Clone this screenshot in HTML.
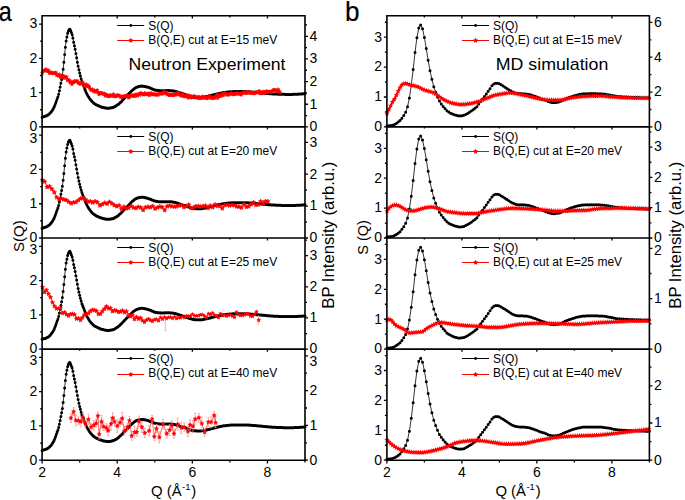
<!DOCTYPE html>
<html><head><meta charset="utf-8"><style>html,body{margin:0;padding:0;background:#fff;overflow:hidden}svg{display:block}text{font-family:"Liberation Sans",sans-serif}</style></head>
<body><svg width="685" height="500" viewBox="0 0 685 500" font-family="Liberation Sans, sans-serif"><rect width="685" height="500" fill="#fff"/><path d="M42.1,117.13 42.85,116.88 43.6,116.64 44.35,116.4 45.1,116.19 45.86,115.96 46.61,115.65 47.36,115.24 48.11,114.76 48.86,114.2 49.61,113.56 50.36,112.77 51.11,111.88 51.86,110.9 52.62,109.79 53.37,108.51 54.12,107.03 54.87,105.2 55.62,103.19 56.37,100.98 57.12,98.81 57.87,96.96 58.63,94.29 59.38,90.84 60.13,87.08 60.88,83.24 61.63,79.51 62.38,75.25 63.13,69.23 63.88,62.31 64.63,54.59 65.39,47.15 66.14,40.91 66.89,36.97 67.64,33.34 68.39,31.02 69.14,29.49 69.89,29.14 70.64,30.58 71.39,32.6 72.15,34.82 72.9,37.98 73.65,42.3 74.4,45.66 75.15,49.27 75.9,53.53 76.65,57.84 77.4,62.17 78.15,66.29 78.91,69.85 79.66,73.08 80.41,76.07 81.16,78.88 81.91,81.44 82.66,83.53 83.41,85.31 84.16,87.29 84.92,89.39 85.67,91.31 86.42,92.96 87.17,94.46 87.92,95.81 88.67,97.06 89.42,98.22 90.17,99.27 90.92,100.2 91.68,101.05 92.43,101.84 93.18,102.56 93.93,103.18 94.68,103.71 95.43,104.19 96.18,104.63 96.93,105.03 97.68,105.41 98.44,105.76 99.19,106.1 99.94,106.42 100.69,106.72 101.44,106.99 102.19,107.22 102.94,107.41 103.69,107.59 104.44,107.77 105.2,107.93 105.95,108.06 106.7,108.16 107.45,108.22 108.2,108.22 108.95,108.18 109.7,108.1 110.45,107.99 111.21,107.86 111.96,107.72 112.71,107.55 113.46,107.28 114.21,106.93 114.96,106.52 115.71,106.08 116.46,105.62 117.21,105.1 117.97,104.53 118.72,103.9 119.47,103.25 120.22,102.57 120.97,101.88 121.72,101.14 122.47,100.34 123.22,99.51 123.97,98.68 124.73,97.87 125.48,97.1 126.23,96.34 126.98,95.59 127.73,94.84 128.48,94.1 129.23,93.35 129.98,92.57 130.73,91.77 131.49,90.99 132.24,90.27 132.99,89.64 133.74,89.04 134.49,88.47 135.24,87.96 135.99,87.56 136.74,87.27 137.5,87 138.25,86.76 139,86.54 139.75,86.35 140.5,86.22 141.25,86.14 142,86.12 142.75,86.16 143.5,86.25 144.26,86.38 145.01,86.53 145.76,86.7 146.51,86.88 147.26,87.06 148.01,87.28 148.76,87.54 149.51,87.83 150.26,88.1 151.02,88.4 151.77,88.73 152.52,89.07 153.27,89.41 154.02,89.71 154.77,89.96 155.52,90.16 156.27,90.27 157.02,90.36 157.78,90.45 158.53,90.53 159.28,90.59 160.03,90.65 160.78,90.69 161.53,90.71 162.28,90.71 163.03,90.7 163.79,90.68 164.54,90.66 165.29,90.63 166.04,90.61 166.79,90.59 167.54,90.58 168.29,90.58 169.04,90.6 169.79,90.64 170.55,90.69 171.3,90.76 172.05,90.83 172.8,90.92 173.55,91.03 174.3,91.18 175.05,91.36 175.8,91.57 176.55,91.78 177.31,92 178.06,92.24 178.81,92.52 179.56,92.8 180.31,93.08 181.06,93.35 181.81,93.59 182.56,93.83 183.31,94.05 184.07,94.28 184.82,94.51 185.57,94.75 186.32,95.01 187.07,95.3 187.82,95.6 188.57,95.9 189.32,96.18 190.08,96.42 190.83,96.66 191.58,96.89 192.33,97.09 193.08,97.26 193.83,97.36 194.58,97.43 195.33,97.49 196.08,97.54 196.84,97.59 197.59,97.62 198.34,97.65 199.09,97.66 199.84,97.67 200.59,97.63 201.34,97.57 202.09,97.48 202.84,97.37 203.6,97.23 204.35,97.08 205.1,96.92 205.85,96.75 206.6,96.58 207.35,96.41 208.1,96.25 208.85,96.09 209.6,95.91 210.36,95.72 211.11,95.52 211.86,95.31 212.61,95.1 213.36,94.9 214.11,94.7 214.86,94.52 215.61,94.33 216.37,94.15 217.12,93.96 217.87,93.78 218.62,93.61 219.37,93.44 220.12,93.28 220.87,93.13 221.62,92.97 222.37,92.81 223.13,92.67 223.88,92.54 224.63,92.43 225.38,92.34 226.13,92.26 226.88,92.17 227.63,92.09 228.38,92.01 229.13,91.93 229.89,91.86 230.64,91.8 231.39,91.74 232.14,91.69 232.89,91.65 233.64,91.62 234.39,91.61 235.14,91.6 235.89,91.6 236.65,91.6 237.4,91.6 238.15,91.6 238.9,91.6 239.65,91.6 240.4,91.6 241.15,91.6 241.9,91.6 242.66,91.6 243.41,91.6 244.16,91.6 244.91,91.62 245.66,91.64 246.41,91.67 247.16,91.7 247.91,91.75 248.66,91.79 249.42,91.85 250.17,91.9 250.92,91.96 251.67,92.02 252.42,92.08 253.17,92.15 253.92,92.21 254.67,92.26 255.42,92.32 256.18,92.39 256.93,92.46 257.68,92.53 258.43,92.61 259.18,92.68 259.93,92.75 260.68,92.81 261.43,92.88 262.18,92.95 262.94,93.03 263.69,93.1 264.44,93.17 265.19,93.25 265.94,93.32 266.69,93.39 267.44,93.46 268.19,93.53 268.95,93.6 269.7,93.66 270.45,93.72 271.2,93.78 271.95,93.84 272.7,93.89 273.45,93.94 274.2,93.99 274.95,94.02 275.71,94.06 276.46,94.09 277.21,94.12 277.96,94.15 278.71,94.18 279.46,94.2 280.21,94.23 280.96,94.26 281.71,94.28 282.47,94.3 283.22,94.33 283.97,94.35 284.72,94.36 285.47,94.38 286.22,94.39 286.97,94.4 287.72,94.41 288.47,94.41 289.23,94.41 289.98,94.41 290.73,94.4 291.48,94.39 292.23,94.38 292.98,94.36 293.73,94.34 294.48,94.32 295.24,94.29 295.99,94.26 296.74,94.23 297.49,94.2 298.24,94.16 298.99,94.12 299.74,94.07 300.49,94.03 301.24,93.98 302,93.93 302.75,93.87 303.5,93.81 304.25,93.75 305,93.69" fill="none" stroke="#000" stroke-width="0.8"/><path d="M40.6,117.13a1.5,1.5 0 1,0 3,0a1.5,1.5 0 1,0 -3,0M41.35,116.88a1.5,1.5 0 1,0 3,0a1.5,1.5 0 1,0 -3,0M42.1,116.64a1.5,1.5 0 1,0 3,0a1.5,1.5 0 1,0 -3,0M42.85,116.4a1.5,1.5 0 1,0 3,0a1.5,1.5 0 1,0 -3,0M43.6,116.19a1.5,1.5 0 1,0 3,0a1.5,1.5 0 1,0 -3,0M44.36,115.96a1.5,1.5 0 1,0 3,0a1.5,1.5 0 1,0 -3,0M45.11,115.65a1.5,1.5 0 1,0 3,0a1.5,1.5 0 1,0 -3,0M45.86,115.24a1.5,1.5 0 1,0 3,0a1.5,1.5 0 1,0 -3,0M46.61,114.76a1.5,1.5 0 1,0 3,0a1.5,1.5 0 1,0 -3,0M47.36,114.2a1.5,1.5 0 1,0 3,0a1.5,1.5 0 1,0 -3,0M48.11,113.56a1.5,1.5 0 1,0 3,0a1.5,1.5 0 1,0 -3,0M48.86,112.77a1.5,1.5 0 1,0 3,0a1.5,1.5 0 1,0 -3,0M49.61,111.88a1.5,1.5 0 1,0 3,0a1.5,1.5 0 1,0 -3,0M50.36,110.9a1.5,1.5 0 1,0 3,0a1.5,1.5 0 1,0 -3,0M51.12,109.79a1.5,1.5 0 1,0 3,0a1.5,1.5 0 1,0 -3,0M51.87,108.51a1.5,1.5 0 1,0 3,0a1.5,1.5 0 1,0 -3,0M52.62,107.03a1.5,1.5 0 1,0 3,0a1.5,1.5 0 1,0 -3,0M53.37,105.2a1.5,1.5 0 1,0 3,0a1.5,1.5 0 1,0 -3,0M54.12,103.19a1.5,1.5 0 1,0 3,0a1.5,1.5 0 1,0 -3,0M54.87,100.98a1.5,1.5 0 1,0 3,0a1.5,1.5 0 1,0 -3,0M55.62,98.81a1.5,1.5 0 1,0 3,0a1.5,1.5 0 1,0 -3,0M56.37,96.96a1.5,1.5 0 1,0 3,0a1.5,1.5 0 1,0 -3,0M57.13,94.29a1.5,1.5 0 1,0 3,0a1.5,1.5 0 1,0 -3,0M57.88,90.84a1.5,1.5 0 1,0 3,0a1.5,1.5 0 1,0 -3,0M58.63,87.08a1.5,1.5 0 1,0 3,0a1.5,1.5 0 1,0 -3,0M59.38,83.24a1.5,1.5 0 1,0 3,0a1.5,1.5 0 1,0 -3,0M60.13,79.51a1.5,1.5 0 1,0 3,0a1.5,1.5 0 1,0 -3,0M60.88,75.25a1.5,1.5 0 1,0 3,0a1.5,1.5 0 1,0 -3,0M61.63,69.23a1.5,1.5 0 1,0 3,0a1.5,1.5 0 1,0 -3,0M62.38,62.31a1.5,1.5 0 1,0 3,0a1.5,1.5 0 1,0 -3,0M63.13,54.59a1.5,1.5 0 1,0 3,0a1.5,1.5 0 1,0 -3,0M63.89,47.15a1.5,1.5 0 1,0 3,0a1.5,1.5 0 1,0 -3,0M64.64,40.91a1.5,1.5 0 1,0 3,0a1.5,1.5 0 1,0 -3,0M65.39,36.97a1.5,1.5 0 1,0 3,0a1.5,1.5 0 1,0 -3,0M66.14,33.34a1.5,1.5 0 1,0 3,0a1.5,1.5 0 1,0 -3,0M66.89,31.02a1.5,1.5 0 1,0 3,0a1.5,1.5 0 1,0 -3,0M67.64,29.49a1.5,1.5 0 1,0 3,0a1.5,1.5 0 1,0 -3,0M68.39,29.14a1.5,1.5 0 1,0 3,0a1.5,1.5 0 1,0 -3,0M69.14,30.58a1.5,1.5 0 1,0 3,0a1.5,1.5 0 1,0 -3,0M69.89,32.6a1.5,1.5 0 1,0 3,0a1.5,1.5 0 1,0 -3,0M70.65,34.82a1.5,1.5 0 1,0 3,0a1.5,1.5 0 1,0 -3,0M71.4,37.98a1.5,1.5 0 1,0 3,0a1.5,1.5 0 1,0 -3,0M72.15,42.3a1.5,1.5 0 1,0 3,0a1.5,1.5 0 1,0 -3,0M72.9,45.66a1.5,1.5 0 1,0 3,0a1.5,1.5 0 1,0 -3,0M73.65,49.27a1.5,1.5 0 1,0 3,0a1.5,1.5 0 1,0 -3,0M74.4,53.53a1.5,1.5 0 1,0 3,0a1.5,1.5 0 1,0 -3,0M75.15,57.84a1.5,1.5 0 1,0 3,0a1.5,1.5 0 1,0 -3,0M75.9,62.17a1.5,1.5 0 1,0 3,0a1.5,1.5 0 1,0 -3,0M76.65,66.29a1.5,1.5 0 1,0 3,0a1.5,1.5 0 1,0 -3,0M77.41,69.85a1.5,1.5 0 1,0 3,0a1.5,1.5 0 1,0 -3,0M78.16,73.08a1.5,1.5 0 1,0 3,0a1.5,1.5 0 1,0 -3,0M78.91,76.07a1.5,1.5 0 1,0 3,0a1.5,1.5 0 1,0 -3,0M79.66,78.88a1.5,1.5 0 1,0 3,0a1.5,1.5 0 1,0 -3,0M80.41,81.44a1.5,1.5 0 1,0 3,0a1.5,1.5 0 1,0 -3,0M81.16,83.53a1.5,1.5 0 1,0 3,0a1.5,1.5 0 1,0 -3,0M81.91,85.31a1.5,1.5 0 1,0 3,0a1.5,1.5 0 1,0 -3,0M82.66,87.29a1.5,1.5 0 1,0 3,0a1.5,1.5 0 1,0 -3,0M83.42,89.39a1.5,1.5 0 1,0 3,0a1.5,1.5 0 1,0 -3,0M84.17,91.31a1.5,1.5 0 1,0 3,0a1.5,1.5 0 1,0 -3,0M84.92,92.96a1.5,1.5 0 1,0 3,0a1.5,1.5 0 1,0 -3,0M85.67,94.46a1.5,1.5 0 1,0 3,0a1.5,1.5 0 1,0 -3,0M86.42,95.81a1.5,1.5 0 1,0 3,0a1.5,1.5 0 1,0 -3,0M87.17,97.06a1.5,1.5 0 1,0 3,0a1.5,1.5 0 1,0 -3,0M87.92,98.22a1.5,1.5 0 1,0 3,0a1.5,1.5 0 1,0 -3,0M88.67,99.27a1.5,1.5 0 1,0 3,0a1.5,1.5 0 1,0 -3,0M89.42,100.2a1.5,1.5 0 1,0 3,0a1.5,1.5 0 1,0 -3,0M90.18,101.05a1.5,1.5 0 1,0 3,0a1.5,1.5 0 1,0 -3,0M90.93,101.84a1.5,1.5 0 1,0 3,0a1.5,1.5 0 1,0 -3,0M91.68,102.56a1.5,1.5 0 1,0 3,0a1.5,1.5 0 1,0 -3,0M92.43,103.18a1.5,1.5 0 1,0 3,0a1.5,1.5 0 1,0 -3,0M93.18,103.71a1.5,1.5 0 1,0 3,0a1.5,1.5 0 1,0 -3,0M93.93,104.19a1.5,1.5 0 1,0 3,0a1.5,1.5 0 1,0 -3,0M94.68,104.63a1.5,1.5 0 1,0 3,0a1.5,1.5 0 1,0 -3,0M95.43,105.03a1.5,1.5 0 1,0 3,0a1.5,1.5 0 1,0 -3,0M96.18,105.41a1.5,1.5 0 1,0 3,0a1.5,1.5 0 1,0 -3,0M96.94,105.76a1.5,1.5 0 1,0 3,0a1.5,1.5 0 1,0 -3,0M97.69,106.1a1.5,1.5 0 1,0 3,0a1.5,1.5 0 1,0 -3,0M98.44,106.42a1.5,1.5 0 1,0 3,0a1.5,1.5 0 1,0 -3,0M99.19,106.72a1.5,1.5 0 1,0 3,0a1.5,1.5 0 1,0 -3,0M99.94,106.99a1.5,1.5 0 1,0 3,0a1.5,1.5 0 1,0 -3,0M100.69,107.22a1.5,1.5 0 1,0 3,0a1.5,1.5 0 1,0 -3,0M101.44,107.41a1.5,1.5 0 1,0 3,0a1.5,1.5 0 1,0 -3,0M102.19,107.59a1.5,1.5 0 1,0 3,0a1.5,1.5 0 1,0 -3,0M102.94,107.77a1.5,1.5 0 1,0 3,0a1.5,1.5 0 1,0 -3,0M103.7,107.93a1.5,1.5 0 1,0 3,0a1.5,1.5 0 1,0 -3,0M104.45,108.06a1.5,1.5 0 1,0 3,0a1.5,1.5 0 1,0 -3,0M105.2,108.16a1.5,1.5 0 1,0 3,0a1.5,1.5 0 1,0 -3,0M105.95,108.22a1.5,1.5 0 1,0 3,0a1.5,1.5 0 1,0 -3,0M106.7,108.22a1.5,1.5 0 1,0 3,0a1.5,1.5 0 1,0 -3,0M107.45,108.18a1.5,1.5 0 1,0 3,0a1.5,1.5 0 1,0 -3,0M108.2,108.1a1.5,1.5 0 1,0 3,0a1.5,1.5 0 1,0 -3,0M108.95,107.99a1.5,1.5 0 1,0 3,0a1.5,1.5 0 1,0 -3,0M109.71,107.86a1.5,1.5 0 1,0 3,0a1.5,1.5 0 1,0 -3,0M110.46,107.72a1.5,1.5 0 1,0 3,0a1.5,1.5 0 1,0 -3,0M111.21,107.55a1.5,1.5 0 1,0 3,0a1.5,1.5 0 1,0 -3,0M111.96,107.28a1.5,1.5 0 1,0 3,0a1.5,1.5 0 1,0 -3,0M112.71,106.93a1.5,1.5 0 1,0 3,0a1.5,1.5 0 1,0 -3,0M113.46,106.52a1.5,1.5 0 1,0 3,0a1.5,1.5 0 1,0 -3,0M114.21,106.08a1.5,1.5 0 1,0 3,0a1.5,1.5 0 1,0 -3,0M114.96,105.62a1.5,1.5 0 1,0 3,0a1.5,1.5 0 1,0 -3,0M115.71,105.1a1.5,1.5 0 1,0 3,0a1.5,1.5 0 1,0 -3,0M116.47,104.53a1.5,1.5 0 1,0 3,0a1.5,1.5 0 1,0 -3,0M117.22,103.9a1.5,1.5 0 1,0 3,0a1.5,1.5 0 1,0 -3,0M117.97,103.25a1.5,1.5 0 1,0 3,0a1.5,1.5 0 1,0 -3,0M118.72,102.57a1.5,1.5 0 1,0 3,0a1.5,1.5 0 1,0 -3,0M119.47,101.88a1.5,1.5 0 1,0 3,0a1.5,1.5 0 1,0 -3,0M120.22,101.14a1.5,1.5 0 1,0 3,0a1.5,1.5 0 1,0 -3,0M120.97,100.34a1.5,1.5 0 1,0 3,0a1.5,1.5 0 1,0 -3,0M121.72,99.51a1.5,1.5 0 1,0 3,0a1.5,1.5 0 1,0 -3,0M122.47,98.68a1.5,1.5 0 1,0 3,0a1.5,1.5 0 1,0 -3,0M123.23,97.87a1.5,1.5 0 1,0 3,0a1.5,1.5 0 1,0 -3,0M123.98,97.1a1.5,1.5 0 1,0 3,0a1.5,1.5 0 1,0 -3,0M124.73,96.34a1.5,1.5 0 1,0 3,0a1.5,1.5 0 1,0 -3,0M125.48,95.59a1.5,1.5 0 1,0 3,0a1.5,1.5 0 1,0 -3,0M126.23,94.84a1.5,1.5 0 1,0 3,0a1.5,1.5 0 1,0 -3,0M126.98,94.1a1.5,1.5 0 1,0 3,0a1.5,1.5 0 1,0 -3,0M127.73,93.35a1.5,1.5 0 1,0 3,0a1.5,1.5 0 1,0 -3,0M128.48,92.57a1.5,1.5 0 1,0 3,0a1.5,1.5 0 1,0 -3,0M129.23,91.77a1.5,1.5 0 1,0 3,0a1.5,1.5 0 1,0 -3,0M129.99,90.99a1.5,1.5 0 1,0 3,0a1.5,1.5 0 1,0 -3,0M130.74,90.27a1.5,1.5 0 1,0 3,0a1.5,1.5 0 1,0 -3,0M131.49,89.64a1.5,1.5 0 1,0 3,0a1.5,1.5 0 1,0 -3,0M132.24,89.04a1.5,1.5 0 1,0 3,0a1.5,1.5 0 1,0 -3,0M132.99,88.47a1.5,1.5 0 1,0 3,0a1.5,1.5 0 1,0 -3,0M133.74,87.96a1.5,1.5 0 1,0 3,0a1.5,1.5 0 1,0 -3,0M134.49,87.56a1.5,1.5 0 1,0 3,0a1.5,1.5 0 1,0 -3,0M135.24,87.27a1.5,1.5 0 1,0 3,0a1.5,1.5 0 1,0 -3,0M136,87a1.5,1.5 0 1,0 3,0a1.5,1.5 0 1,0 -3,0M136.75,86.76a1.5,1.5 0 1,0 3,0a1.5,1.5 0 1,0 -3,0M137.5,86.54a1.5,1.5 0 1,0 3,0a1.5,1.5 0 1,0 -3,0M138.25,86.35a1.5,1.5 0 1,0 3,0a1.5,1.5 0 1,0 -3,0M139,86.22a1.5,1.5 0 1,0 3,0a1.5,1.5 0 1,0 -3,0M139.75,86.14a1.5,1.5 0 1,0 3,0a1.5,1.5 0 1,0 -3,0M140.5,86.12a1.5,1.5 0 1,0 3,0a1.5,1.5 0 1,0 -3,0M141.25,86.16a1.5,1.5 0 1,0 3,0a1.5,1.5 0 1,0 -3,0M142,86.25a1.5,1.5 0 1,0 3,0a1.5,1.5 0 1,0 -3,0M142.76,86.38a1.5,1.5 0 1,0 3,0a1.5,1.5 0 1,0 -3,0M143.51,86.53a1.5,1.5 0 1,0 3,0a1.5,1.5 0 1,0 -3,0M144.26,86.7a1.5,1.5 0 1,0 3,0a1.5,1.5 0 1,0 -3,0M145.01,86.88a1.5,1.5 0 1,0 3,0a1.5,1.5 0 1,0 -3,0M145.76,87.06a1.5,1.5 0 1,0 3,0a1.5,1.5 0 1,0 -3,0M146.51,87.28a1.5,1.5 0 1,0 3,0a1.5,1.5 0 1,0 -3,0M147.26,87.54a1.5,1.5 0 1,0 3,0a1.5,1.5 0 1,0 -3,0M148.01,87.83a1.5,1.5 0 1,0 3,0a1.5,1.5 0 1,0 -3,0M148.76,88.1a1.5,1.5 0 1,0 3,0a1.5,1.5 0 1,0 -3,0M149.52,88.4a1.5,1.5 0 1,0 3,0a1.5,1.5 0 1,0 -3,0M150.27,88.73a1.5,1.5 0 1,0 3,0a1.5,1.5 0 1,0 -3,0M151.02,89.07a1.5,1.5 0 1,0 3,0a1.5,1.5 0 1,0 -3,0M151.77,89.41a1.5,1.5 0 1,0 3,0a1.5,1.5 0 1,0 -3,0M152.52,89.71a1.5,1.5 0 1,0 3,0a1.5,1.5 0 1,0 -3,0M153.27,89.96a1.5,1.5 0 1,0 3,0a1.5,1.5 0 1,0 -3,0M154.02,90.16a1.5,1.5 0 1,0 3,0a1.5,1.5 0 1,0 -3,0M154.77,90.27a1.5,1.5 0 1,0 3,0a1.5,1.5 0 1,0 -3,0M155.52,90.36a1.5,1.5 0 1,0 3,0a1.5,1.5 0 1,0 -3,0M156.28,90.45a1.5,1.5 0 1,0 3,0a1.5,1.5 0 1,0 -3,0M157.03,90.53a1.5,1.5 0 1,0 3,0a1.5,1.5 0 1,0 -3,0M157.78,90.59a1.5,1.5 0 1,0 3,0a1.5,1.5 0 1,0 -3,0M158.53,90.65a1.5,1.5 0 1,0 3,0a1.5,1.5 0 1,0 -3,0M159.28,90.69a1.5,1.5 0 1,0 3,0a1.5,1.5 0 1,0 -3,0M160.03,90.71a1.5,1.5 0 1,0 3,0a1.5,1.5 0 1,0 -3,0M160.78,90.71a1.5,1.5 0 1,0 3,0a1.5,1.5 0 1,0 -3,0M161.53,90.7a1.5,1.5 0 1,0 3,0a1.5,1.5 0 1,0 -3,0M162.29,90.68a1.5,1.5 0 1,0 3,0a1.5,1.5 0 1,0 -3,0M163.04,90.66a1.5,1.5 0 1,0 3,0a1.5,1.5 0 1,0 -3,0M163.79,90.63a1.5,1.5 0 1,0 3,0a1.5,1.5 0 1,0 -3,0M164.54,90.61a1.5,1.5 0 1,0 3,0a1.5,1.5 0 1,0 -3,0M165.29,90.59a1.5,1.5 0 1,0 3,0a1.5,1.5 0 1,0 -3,0M166.04,90.58a1.5,1.5 0 1,0 3,0a1.5,1.5 0 1,0 -3,0M166.79,90.58a1.5,1.5 0 1,0 3,0a1.5,1.5 0 1,0 -3,0M167.54,90.6a1.5,1.5 0 1,0 3,0a1.5,1.5 0 1,0 -3,0M168.29,90.64a1.5,1.5 0 1,0 3,0a1.5,1.5 0 1,0 -3,0M169.05,90.69a1.5,1.5 0 1,0 3,0a1.5,1.5 0 1,0 -3,0M169.8,90.76a1.5,1.5 0 1,0 3,0a1.5,1.5 0 1,0 -3,0M170.55,90.83a1.5,1.5 0 1,0 3,0a1.5,1.5 0 1,0 -3,0M171.3,90.92a1.5,1.5 0 1,0 3,0a1.5,1.5 0 1,0 -3,0M172.05,91.03a1.5,1.5 0 1,0 3,0a1.5,1.5 0 1,0 -3,0M172.8,91.18a1.5,1.5 0 1,0 3,0a1.5,1.5 0 1,0 -3,0M173.55,91.36a1.5,1.5 0 1,0 3,0a1.5,1.5 0 1,0 -3,0M174.3,91.57a1.5,1.5 0 1,0 3,0a1.5,1.5 0 1,0 -3,0M175.05,91.78a1.5,1.5 0 1,0 3,0a1.5,1.5 0 1,0 -3,0M175.81,92a1.5,1.5 0 1,0 3,0a1.5,1.5 0 1,0 -3,0M176.56,92.24a1.5,1.5 0 1,0 3,0a1.5,1.5 0 1,0 -3,0M177.31,92.52a1.5,1.5 0 1,0 3,0a1.5,1.5 0 1,0 -3,0M178.06,92.8a1.5,1.5 0 1,0 3,0a1.5,1.5 0 1,0 -3,0M178.81,93.08a1.5,1.5 0 1,0 3,0a1.5,1.5 0 1,0 -3,0M179.56,93.35a1.5,1.5 0 1,0 3,0a1.5,1.5 0 1,0 -3,0M180.31,93.59a1.5,1.5 0 1,0 3,0a1.5,1.5 0 1,0 -3,0M181.06,93.83a1.5,1.5 0 1,0 3,0a1.5,1.5 0 1,0 -3,0M181.81,94.05a1.5,1.5 0 1,0 3,0a1.5,1.5 0 1,0 -3,0M182.57,94.28a1.5,1.5 0 1,0 3,0a1.5,1.5 0 1,0 -3,0M183.32,94.51a1.5,1.5 0 1,0 3,0a1.5,1.5 0 1,0 -3,0M184.07,94.75a1.5,1.5 0 1,0 3,0a1.5,1.5 0 1,0 -3,0M184.82,95.01a1.5,1.5 0 1,0 3,0a1.5,1.5 0 1,0 -3,0M185.57,95.3a1.5,1.5 0 1,0 3,0a1.5,1.5 0 1,0 -3,0M186.32,95.6a1.5,1.5 0 1,0 3,0a1.5,1.5 0 1,0 -3,0M187.07,95.9a1.5,1.5 0 1,0 3,0a1.5,1.5 0 1,0 -3,0M187.82,96.18a1.5,1.5 0 1,0 3,0a1.5,1.5 0 1,0 -3,0M188.58,96.42a1.5,1.5 0 1,0 3,0a1.5,1.5 0 1,0 -3,0M189.33,96.66a1.5,1.5 0 1,0 3,0a1.5,1.5 0 1,0 -3,0M190.08,96.89a1.5,1.5 0 1,0 3,0a1.5,1.5 0 1,0 -3,0M190.83,97.09a1.5,1.5 0 1,0 3,0a1.5,1.5 0 1,0 -3,0M191.58,97.26a1.5,1.5 0 1,0 3,0a1.5,1.5 0 1,0 -3,0M192.33,97.36a1.5,1.5 0 1,0 3,0a1.5,1.5 0 1,0 -3,0M193.08,97.43a1.5,1.5 0 1,0 3,0a1.5,1.5 0 1,0 -3,0M193.83,97.49a1.5,1.5 0 1,0 3,0a1.5,1.5 0 1,0 -3,0M194.58,97.54a1.5,1.5 0 1,0 3,0a1.5,1.5 0 1,0 -3,0M195.34,97.59a1.5,1.5 0 1,0 3,0a1.5,1.5 0 1,0 -3,0M196.09,97.62a1.5,1.5 0 1,0 3,0a1.5,1.5 0 1,0 -3,0M196.84,97.65a1.5,1.5 0 1,0 3,0a1.5,1.5 0 1,0 -3,0M197.59,97.66a1.5,1.5 0 1,0 3,0a1.5,1.5 0 1,0 -3,0M198.34,97.67a1.5,1.5 0 1,0 3,0a1.5,1.5 0 1,0 -3,0M199.09,97.63a1.5,1.5 0 1,0 3,0a1.5,1.5 0 1,0 -3,0M199.84,97.57a1.5,1.5 0 1,0 3,0a1.5,1.5 0 1,0 -3,0M200.59,97.48a1.5,1.5 0 1,0 3,0a1.5,1.5 0 1,0 -3,0M201.34,97.37a1.5,1.5 0 1,0 3,0a1.5,1.5 0 1,0 -3,0M202.1,97.23a1.5,1.5 0 1,0 3,0a1.5,1.5 0 1,0 -3,0M202.85,97.08a1.5,1.5 0 1,0 3,0a1.5,1.5 0 1,0 -3,0M203.6,96.92a1.5,1.5 0 1,0 3,0a1.5,1.5 0 1,0 -3,0M204.35,96.75a1.5,1.5 0 1,0 3,0a1.5,1.5 0 1,0 -3,0M205.1,96.58a1.5,1.5 0 1,0 3,0a1.5,1.5 0 1,0 -3,0M205.85,96.41a1.5,1.5 0 1,0 3,0a1.5,1.5 0 1,0 -3,0M206.6,96.25a1.5,1.5 0 1,0 3,0a1.5,1.5 0 1,0 -3,0M207.35,96.09a1.5,1.5 0 1,0 3,0a1.5,1.5 0 1,0 -3,0M208.1,95.91a1.5,1.5 0 1,0 3,0a1.5,1.5 0 1,0 -3,0M208.86,95.72a1.5,1.5 0 1,0 3,0a1.5,1.5 0 1,0 -3,0M209.61,95.52a1.5,1.5 0 1,0 3,0a1.5,1.5 0 1,0 -3,0M210.36,95.31a1.5,1.5 0 1,0 3,0a1.5,1.5 0 1,0 -3,0M211.11,95.1a1.5,1.5 0 1,0 3,0a1.5,1.5 0 1,0 -3,0M211.86,94.9a1.5,1.5 0 1,0 3,0a1.5,1.5 0 1,0 -3,0M212.61,94.7a1.5,1.5 0 1,0 3,0a1.5,1.5 0 1,0 -3,0M213.36,94.52a1.5,1.5 0 1,0 3,0a1.5,1.5 0 1,0 -3,0M214.11,94.33a1.5,1.5 0 1,0 3,0a1.5,1.5 0 1,0 -3,0M214.87,94.15a1.5,1.5 0 1,0 3,0a1.5,1.5 0 1,0 -3,0M215.62,93.96a1.5,1.5 0 1,0 3,0a1.5,1.5 0 1,0 -3,0M216.37,93.78a1.5,1.5 0 1,0 3,0a1.5,1.5 0 1,0 -3,0M217.12,93.61a1.5,1.5 0 1,0 3,0a1.5,1.5 0 1,0 -3,0M217.87,93.44a1.5,1.5 0 1,0 3,0a1.5,1.5 0 1,0 -3,0M218.62,93.28a1.5,1.5 0 1,0 3,0a1.5,1.5 0 1,0 -3,0M219.37,93.13a1.5,1.5 0 1,0 3,0a1.5,1.5 0 1,0 -3,0M220.12,92.97a1.5,1.5 0 1,0 3,0a1.5,1.5 0 1,0 -3,0M220.87,92.81a1.5,1.5 0 1,0 3,0a1.5,1.5 0 1,0 -3,0M221.63,92.67a1.5,1.5 0 1,0 3,0a1.5,1.5 0 1,0 -3,0M222.38,92.54a1.5,1.5 0 1,0 3,0a1.5,1.5 0 1,0 -3,0M223.13,92.43a1.5,1.5 0 1,0 3,0a1.5,1.5 0 1,0 -3,0M223.88,92.34a1.5,1.5 0 1,0 3,0a1.5,1.5 0 1,0 -3,0M224.63,92.26a1.5,1.5 0 1,0 3,0a1.5,1.5 0 1,0 -3,0M225.38,92.17a1.5,1.5 0 1,0 3,0a1.5,1.5 0 1,0 -3,0M226.13,92.09a1.5,1.5 0 1,0 3,0a1.5,1.5 0 1,0 -3,0M226.88,92.01a1.5,1.5 0 1,0 3,0a1.5,1.5 0 1,0 -3,0M227.63,91.93a1.5,1.5 0 1,0 3,0a1.5,1.5 0 1,0 -3,0M228.39,91.86a1.5,1.5 0 1,0 3,0a1.5,1.5 0 1,0 -3,0M229.14,91.8a1.5,1.5 0 1,0 3,0a1.5,1.5 0 1,0 -3,0M229.89,91.74a1.5,1.5 0 1,0 3,0a1.5,1.5 0 1,0 -3,0M230.64,91.69a1.5,1.5 0 1,0 3,0a1.5,1.5 0 1,0 -3,0M231.39,91.65a1.5,1.5 0 1,0 3,0a1.5,1.5 0 1,0 -3,0M232.14,91.62a1.5,1.5 0 1,0 3,0a1.5,1.5 0 1,0 -3,0M232.89,91.61a1.5,1.5 0 1,0 3,0a1.5,1.5 0 1,0 -3,0M233.64,91.6a1.5,1.5 0 1,0 3,0a1.5,1.5 0 1,0 -3,0M234.39,91.6a1.5,1.5 0 1,0 3,0a1.5,1.5 0 1,0 -3,0M235.15,91.6a1.5,1.5 0 1,0 3,0a1.5,1.5 0 1,0 -3,0M235.9,91.6a1.5,1.5 0 1,0 3,0a1.5,1.5 0 1,0 -3,0M236.65,91.6a1.5,1.5 0 1,0 3,0a1.5,1.5 0 1,0 -3,0M237.4,91.6a1.5,1.5 0 1,0 3,0a1.5,1.5 0 1,0 -3,0M238.15,91.6a1.5,1.5 0 1,0 3,0a1.5,1.5 0 1,0 -3,0M238.9,91.6a1.5,1.5 0 1,0 3,0a1.5,1.5 0 1,0 -3,0M239.65,91.6a1.5,1.5 0 1,0 3,0a1.5,1.5 0 1,0 -3,0M240.4,91.6a1.5,1.5 0 1,0 3,0a1.5,1.5 0 1,0 -3,0M241.16,91.6a1.5,1.5 0 1,0 3,0a1.5,1.5 0 1,0 -3,0M241.91,91.6a1.5,1.5 0 1,0 3,0a1.5,1.5 0 1,0 -3,0M242.66,91.6a1.5,1.5 0 1,0 3,0a1.5,1.5 0 1,0 -3,0M243.41,91.62a1.5,1.5 0 1,0 3,0a1.5,1.5 0 1,0 -3,0M244.16,91.64a1.5,1.5 0 1,0 3,0a1.5,1.5 0 1,0 -3,0M244.91,91.67a1.5,1.5 0 1,0 3,0a1.5,1.5 0 1,0 -3,0M245.66,91.7a1.5,1.5 0 1,0 3,0a1.5,1.5 0 1,0 -3,0M246.41,91.75a1.5,1.5 0 1,0 3,0a1.5,1.5 0 1,0 -3,0M247.16,91.79a1.5,1.5 0 1,0 3,0a1.5,1.5 0 1,0 -3,0M247.92,91.85a1.5,1.5 0 1,0 3,0a1.5,1.5 0 1,0 -3,0M248.67,91.9a1.5,1.5 0 1,0 3,0a1.5,1.5 0 1,0 -3,0M249.42,91.96a1.5,1.5 0 1,0 3,0a1.5,1.5 0 1,0 -3,0M250.17,92.02a1.5,1.5 0 1,0 3,0a1.5,1.5 0 1,0 -3,0M250.92,92.08a1.5,1.5 0 1,0 3,0a1.5,1.5 0 1,0 -3,0M251.67,92.15a1.5,1.5 0 1,0 3,0a1.5,1.5 0 1,0 -3,0M252.42,92.21a1.5,1.5 0 1,0 3,0a1.5,1.5 0 1,0 -3,0M253.17,92.26a1.5,1.5 0 1,0 3,0a1.5,1.5 0 1,0 -3,0M253.92,92.32a1.5,1.5 0 1,0 3,0a1.5,1.5 0 1,0 -3,0M254.68,92.39a1.5,1.5 0 1,0 3,0a1.5,1.5 0 1,0 -3,0M255.43,92.46a1.5,1.5 0 1,0 3,0a1.5,1.5 0 1,0 -3,0M256.18,92.53a1.5,1.5 0 1,0 3,0a1.5,1.5 0 1,0 -3,0M256.93,92.61a1.5,1.5 0 1,0 3,0a1.5,1.5 0 1,0 -3,0M257.68,92.68a1.5,1.5 0 1,0 3,0a1.5,1.5 0 1,0 -3,0M258.43,92.75a1.5,1.5 0 1,0 3,0a1.5,1.5 0 1,0 -3,0M259.18,92.81a1.5,1.5 0 1,0 3,0a1.5,1.5 0 1,0 -3,0M259.93,92.88a1.5,1.5 0 1,0 3,0a1.5,1.5 0 1,0 -3,0M260.68,92.95a1.5,1.5 0 1,0 3,0a1.5,1.5 0 1,0 -3,0M261.44,93.03a1.5,1.5 0 1,0 3,0a1.5,1.5 0 1,0 -3,0M262.19,93.1a1.5,1.5 0 1,0 3,0a1.5,1.5 0 1,0 -3,0M262.94,93.17a1.5,1.5 0 1,0 3,0a1.5,1.5 0 1,0 -3,0M263.69,93.25a1.5,1.5 0 1,0 3,0a1.5,1.5 0 1,0 -3,0M264.44,93.32a1.5,1.5 0 1,0 3,0a1.5,1.5 0 1,0 -3,0M265.19,93.39a1.5,1.5 0 1,0 3,0a1.5,1.5 0 1,0 -3,0M265.94,93.46a1.5,1.5 0 1,0 3,0a1.5,1.5 0 1,0 -3,0M266.69,93.53a1.5,1.5 0 1,0 3,0a1.5,1.5 0 1,0 -3,0M267.45,93.6a1.5,1.5 0 1,0 3,0a1.5,1.5 0 1,0 -3,0M268.2,93.66a1.5,1.5 0 1,0 3,0a1.5,1.5 0 1,0 -3,0M268.95,93.72a1.5,1.5 0 1,0 3,0a1.5,1.5 0 1,0 -3,0M269.7,93.78a1.5,1.5 0 1,0 3,0a1.5,1.5 0 1,0 -3,0M270.45,93.84a1.5,1.5 0 1,0 3,0a1.5,1.5 0 1,0 -3,0M271.2,93.89a1.5,1.5 0 1,0 3,0a1.5,1.5 0 1,0 -3,0M271.95,93.94a1.5,1.5 0 1,0 3,0a1.5,1.5 0 1,0 -3,0M272.7,93.99a1.5,1.5 0 1,0 3,0a1.5,1.5 0 1,0 -3,0M273.45,94.02a1.5,1.5 0 1,0 3,0a1.5,1.5 0 1,0 -3,0M274.21,94.06a1.5,1.5 0 1,0 3,0a1.5,1.5 0 1,0 -3,0M274.96,94.09a1.5,1.5 0 1,0 3,0a1.5,1.5 0 1,0 -3,0M275.71,94.12a1.5,1.5 0 1,0 3,0a1.5,1.5 0 1,0 -3,0M276.46,94.15a1.5,1.5 0 1,0 3,0a1.5,1.5 0 1,0 -3,0M277.21,94.18a1.5,1.5 0 1,0 3,0a1.5,1.5 0 1,0 -3,0M277.96,94.2a1.5,1.5 0 1,0 3,0a1.5,1.5 0 1,0 -3,0M278.71,94.23a1.5,1.5 0 1,0 3,0a1.5,1.5 0 1,0 -3,0M279.46,94.26a1.5,1.5 0 1,0 3,0a1.5,1.5 0 1,0 -3,0M280.21,94.28a1.5,1.5 0 1,0 3,0a1.5,1.5 0 1,0 -3,0M280.97,94.3a1.5,1.5 0 1,0 3,0a1.5,1.5 0 1,0 -3,0M281.72,94.33a1.5,1.5 0 1,0 3,0a1.5,1.5 0 1,0 -3,0M282.47,94.35a1.5,1.5 0 1,0 3,0a1.5,1.5 0 1,0 -3,0M283.22,94.36a1.5,1.5 0 1,0 3,0a1.5,1.5 0 1,0 -3,0M283.97,94.38a1.5,1.5 0 1,0 3,0a1.5,1.5 0 1,0 -3,0M284.72,94.39a1.5,1.5 0 1,0 3,0a1.5,1.5 0 1,0 -3,0M285.47,94.4a1.5,1.5 0 1,0 3,0a1.5,1.5 0 1,0 -3,0M286.22,94.41a1.5,1.5 0 1,0 3,0a1.5,1.5 0 1,0 -3,0M286.97,94.41a1.5,1.5 0 1,0 3,0a1.5,1.5 0 1,0 -3,0M287.73,94.41a1.5,1.5 0 1,0 3,0a1.5,1.5 0 1,0 -3,0M288.48,94.41a1.5,1.5 0 1,0 3,0a1.5,1.5 0 1,0 -3,0M289.23,94.4a1.5,1.5 0 1,0 3,0a1.5,1.5 0 1,0 -3,0M289.98,94.39a1.5,1.5 0 1,0 3,0a1.5,1.5 0 1,0 -3,0M290.73,94.38a1.5,1.5 0 1,0 3,0a1.5,1.5 0 1,0 -3,0M291.48,94.36a1.5,1.5 0 1,0 3,0a1.5,1.5 0 1,0 -3,0M292.23,94.34a1.5,1.5 0 1,0 3,0a1.5,1.5 0 1,0 -3,0M292.98,94.32a1.5,1.5 0 1,0 3,0a1.5,1.5 0 1,0 -3,0M293.74,94.29a1.5,1.5 0 1,0 3,0a1.5,1.5 0 1,0 -3,0M294.49,94.26a1.5,1.5 0 1,0 3,0a1.5,1.5 0 1,0 -3,0M295.24,94.23a1.5,1.5 0 1,0 3,0a1.5,1.5 0 1,0 -3,0M295.99,94.2a1.5,1.5 0 1,0 3,0a1.5,1.5 0 1,0 -3,0M296.74,94.16a1.5,1.5 0 1,0 3,0a1.5,1.5 0 1,0 -3,0M297.49,94.12a1.5,1.5 0 1,0 3,0a1.5,1.5 0 1,0 -3,0M298.24,94.07a1.5,1.5 0 1,0 3,0a1.5,1.5 0 1,0 -3,0M298.99,94.03a1.5,1.5 0 1,0 3,0a1.5,1.5 0 1,0 -3,0M299.74,93.98a1.5,1.5 0 1,0 3,0a1.5,1.5 0 1,0 -3,0M300.5,93.93a1.5,1.5 0 1,0 3,0a1.5,1.5 0 1,0 -3,0M301.25,93.87a1.5,1.5 0 1,0 3,0a1.5,1.5 0 1,0 -3,0M302,93.81a1.5,1.5 0 1,0 3,0a1.5,1.5 0 1,0 -3,0M302.75,93.75a1.5,1.5 0 1,0 3,0a1.5,1.5 0 1,0 -3,0M303.5,93.69a1.5,1.5 0 1,0 3,0a1.5,1.5 0 1,0 -3,0" fill="#000"/><path d="M42.3,72.85 43.2,70.86 44.1,70.71 45,70.36 45.9,69.35 46.8,70.6 47.7,71.35 48.6,70.43 49.5,73.04 50.4,73.05 51.3,72.33 52.2,72.87 53.1,73.52 54,73 54.9,73.16 55.8,72.55 56.7,74.84 57.6,75.21 58.5,75.8 59.4,74.5 60.3,77.12 61.2,75.99 62.1,75.69 63,77.96 63.9,76.89 64.8,76.45 65.7,77.94 66.6,77.07 67.5,80.4 68.4,79.91 69.3,80.38 70.2,82.8 71.1,81.66 72,84.16 72.9,82.16 73.8,82.36 74.7,80.79 75.6,81.59 76.5,81.52 77.4,80.96 78.3,82.98 79.2,83.06 80.1,84.08 81,83.22 81.9,82.6 82.8,82.65 83.7,84.54 84.6,86.23 85.5,84.83 86.4,84.41 87.3,86.64 88.2,85.69 89.1,86.6 90,88.7 90.9,89.83 91.8,90.07 92.7,89.4 93.6,91.12 94.5,90.79 95.4,91.99 96.3,91 97.2,90.23 98.1,92.3 99,94.36 99.9,93.16 100.8,93.03 101.7,93.03 102.6,93.36 103.5,94.16 104.4,93.62 105.3,95.91 106.2,94.62 107.1,95.06 108,96.24 108.9,96.4 109.8,95.13 110.7,95.66 111.6,96.07 112.5,95.4 113.4,94.2 114.3,96.21 115.2,96.45 116.1,96.12 117,95.1 117.9,95.73 118.8,95.45 119.7,95.72 120.6,97.02 121.5,97.22 122.4,96.54 123.3,96.44 124.2,96.54 125.1,95.99 126,95.94 126.9,95.46 127.8,95.96 128.7,97.81 129.6,96.69 130.5,95.71 131.4,95.57 132.3,95.22 133.2,96.15 134.1,96.09 135,94.55 135.9,95.85 136.8,94.54 137.7,95.59 138.6,94.06 139.5,94.95 140.4,93.14 141.3,93.32 142.2,93.88 143.1,94.6 144,94.34 144.9,93.02 145.8,94.26 146.7,94.2 147.6,93.85 148.5,93.57 149.4,95.34 150.3,93.59 151.2,93.24 152.1,94.47 153,94.11 153.9,94 154.8,94.74 155.7,94.55 156.6,94.48 157.5,94.97 158.4,94.38 159.3,93.58 160.2,93.67 161.1,93.41 162,93.87 162.9,92.73 163.8,92.06 164.7,93.57 165.6,92.54 166.5,92.31 167.4,94.52 168.3,94.05 169.2,95.42 170.1,94.94 171,94.71 171.9,94.71 172.8,95.23 173.7,95.25 174.6,94.58 175.5,94.74 176.4,93.46 177.3,94.46 178.2,92.84 179.1,94.05 180,94.8 180.9,95.26 181.8,95.98 182.7,93.64 183.6,95.78 184.5,96.44 185.4,96.53 186.3,95.22 187.2,96.46 188.1,97.78 189,95.25 189.9,96.98 190.8,97.63 191.7,96.31 192.6,97.44 193.5,96.22 194.4,96.5 195.3,96.58 196.2,97.47 197.1,97.31 198,98.2 198.9,96.73 199.8,97.39 200.7,98.27 201.6,97.95 202.5,96.44 203.4,98.03 204.3,97.12 205.2,97.81 206.1,97.74 207,98.48 207.9,97.59 208.8,96.02 209.7,96.4 210.6,98.08 211.5,97.29 212.4,98.41 213.3,97.68 214.2,96.74 215.1,98.03 216,96.28 216.9,95.01 217.8,98.01 218.7,94.51 219.6,96.23 220.5,96.16 221.4,95.23 222.3,93.51 223.2,95.45 224.1,93.33 225,93.31 225.9,94.03 226.8,94.89 227.7,94.45 228.6,94.82 229.5,93.78 230.4,93.96 231.3,93.16 232.2,93.78 233.1,94.48 234,93.73 234.9,94.31 235.8,93.42 236.7,93.36 237.6,93.8 238.5,93.54 239.4,94.07 240.3,93.62 241.2,94.75 242.1,93.06 243,92.92 243.9,92.15 244.8,92.88 245.7,93.3 246.6,92.06 247.5,92.54 248.4,93.1 249.3,92.4 250.2,92.08 251.1,93.28 252,92.58 252.9,92.82 253.8,93.44 254.7,93.42 255.6,92.22 256.5,92.08 257.4,92.73 258.3,92.39 259.2,90.98 260.1,93.52 261,92.52 261.9,93.09 262.8,91.55 263.7,93.49 264.6,91.93 265.5,92.24 266.4,91.11 267.3,91.98 268.2,91.8 269.1,91.7 270,92.04 270.9,91.57 271.8,92.12 272.7,90.68 273.6,89.76 274.5,90.03 275.4,90.23 276.3,90.84 277.2,91.03 278.1,89.42 279,91.4 279.9,92.45" fill="none" stroke="#f00" stroke-width="0.8"/><path d="M42.3,70.95 42.86,72.08 44.11,72.27 43.2,73.15 43.42,74.39 42.3,73.8 41.18,74.39 41.4,73.15 40.49,72.27 41.74,72.08ZM43.2,68.96 43.76,70.1 45.01,70.28 44.1,71.16 44.32,72.4 43.2,71.81 42.08,72.4 42.3,71.16 41.39,70.28 42.64,70.1ZM44.1,68.81 44.66,69.94 45.91,70.12 45,71.01 45.22,72.25 44.1,71.66 42.98,72.25 43.2,71.01 42.29,70.12 43.54,69.94ZM45,68.46 45.56,69.59 46.81,69.78 45.9,70.66 46.12,71.9 45,71.31 43.88,71.9 44.1,70.66 43.19,69.78 44.44,69.59ZM45.9,67.45 46.46,68.58 47.71,68.77 46.8,69.65 47.02,70.89 45.9,70.3 44.78,70.89 45,69.65 44.09,68.77 45.34,68.58ZM46.8,68.7 47.36,69.83 48.61,70.01 47.7,70.89 47.92,72.13 46.8,71.55 45.68,72.13 45.9,70.89 44.99,70.01 46.24,69.83ZM47.7,69.45 48.26,70.58 49.51,70.77 48.6,71.65 48.82,72.89 47.7,72.3 46.58,72.89 46.8,71.65 45.89,70.77 47.14,70.58ZM48.6,68.53 49.16,69.66 50.41,69.84 49.5,70.73 49.72,71.97 48.6,71.38 47.48,71.97 47.7,70.73 46.79,69.84 48.04,69.66ZM49.5,71.14 50.06,72.28 51.31,72.46 50.4,73.34 50.62,74.58 49.5,73.99 48.38,74.58 48.6,73.34 47.69,72.46 48.94,72.28ZM50.4,71.15 50.96,72.28 52.21,72.46 51.3,73.34 51.52,74.59 50.4,74 49.28,74.59 49.5,73.34 48.59,72.46 49.84,72.28ZM51.3,70.43 51.86,71.56 53.11,71.75 52.2,72.63 52.42,73.87 51.3,73.28 50.18,73.87 50.4,72.63 49.49,71.75 50.74,71.56ZM52.2,70.97 52.76,72.1 54.01,72.28 53.1,73.16 53.32,74.4 52.2,73.82 51.08,74.4 51.3,73.16 50.39,72.28 51.64,72.1ZM53.1,71.62 53.66,72.75 54.91,72.93 54,73.81 54.22,75.05 53.1,74.47 51.98,75.05 52.2,73.81 51.29,72.93 52.54,72.75ZM54,71.1 54.56,72.23 55.81,72.42 54.9,73.3 55.12,74.54 54,73.95 52.88,74.54 53.1,73.3 52.19,72.42 53.44,72.23ZM54.9,71.26 55.46,72.39 56.71,72.57 55.8,73.46 56.02,74.7 54.9,74.11 53.78,74.7 54,73.46 53.09,72.57 54.34,72.39ZM55.8,70.65 56.36,71.78 57.61,71.96 56.7,72.84 56.92,74.09 55.8,73.5 54.68,74.09 54.9,72.84 53.99,71.96 55.24,71.78ZM56.7,72.94 57.26,74.07 58.51,74.25 57.6,75.13 57.82,76.37 56.7,75.79 55.58,76.37 55.8,75.13 54.89,74.25 56.14,74.07ZM57.6,73.31 58.16,74.44 59.41,74.62 58.5,75.51 58.72,76.75 57.6,76.16 56.48,76.75 56.7,75.51 55.79,74.62 57.04,74.44ZM58.5,73.9 59.06,75.03 60.31,75.21 59.4,76.09 59.62,77.33 58.5,76.75 57.38,77.33 57.6,76.09 56.69,75.21 57.94,75.03ZM59.4,72.6 59.96,73.73 61.21,73.91 60.3,74.79 60.52,76.03 59.4,75.45 58.28,76.03 58.5,74.79 57.59,73.91 58.84,73.73ZM60.3,75.22 60.86,76.35 62.11,76.53 61.2,77.41 61.42,78.65 60.3,78.07 59.18,78.65 59.4,77.41 58.49,76.53 59.74,76.35ZM61.2,74.09 61.76,75.23 63.01,75.41 62.1,76.29 62.32,77.53 61.2,76.94 60.08,77.53 60.3,76.29 59.39,75.41 60.64,75.23ZM62.1,73.79 62.66,74.92 63.91,75.1 63,75.98 63.22,77.23 62.1,76.64 60.98,77.23 61.2,75.98 60.29,75.1 61.54,74.92ZM63,76.06 63.56,77.2 64.81,77.38 63.9,78.26 64.12,79.5 63,78.91 61.88,79.5 62.1,78.26 61.19,77.38 62.44,77.2ZM63.9,74.99 64.46,76.12 65.71,76.3 64.8,77.18 65.02,78.42 63.9,77.84 62.78,78.42 63,77.18 62.09,76.3 63.34,76.12ZM64.8,74.55 65.36,75.68 66.61,75.86 65.7,76.74 65.92,77.99 64.8,77.4 63.68,77.99 63.9,76.74 62.99,75.86 64.24,75.68ZM65.7,76.04 66.26,77.18 67.51,77.36 66.6,78.24 66.82,79.48 65.7,78.89 64.58,79.48 64.8,78.24 63.89,77.36 65.14,77.18ZM66.6,75.17 67.16,76.3 68.41,76.48 67.5,77.36 67.72,78.6 66.6,78.02 65.48,78.6 65.7,77.36 64.79,76.48 66.04,76.3ZM67.5,78.5 68.06,79.63 69.31,79.81 68.4,80.69 68.62,81.93 67.5,81.35 66.38,81.93 66.6,80.69 65.69,79.81 66.94,79.63ZM68.4,78.01 68.96,79.14 70.21,79.32 69.3,80.2 69.52,81.45 68.4,80.86 67.28,81.45 67.5,80.2 66.59,79.32 67.84,79.14ZM69.3,78.48 69.86,79.61 71.11,79.79 70.2,80.67 70.42,81.92 69.3,81.33 68.18,81.92 68.4,80.67 67.49,79.79 68.74,79.61ZM70.2,80.9 70.76,82.03 72.01,82.21 71.1,83.1 71.32,84.34 70.2,83.75 69.08,84.34 69.3,83.1 68.39,82.21 69.64,82.03ZM71.1,79.76 71.66,80.89 72.91,81.07 72,81.95 72.22,83.19 71.1,82.61 69.98,83.19 70.2,81.95 69.29,81.07 70.54,80.89ZM72,82.26 72.56,83.39 73.81,83.57 72.9,84.45 73.12,85.69 72,85.11 70.88,85.69 71.1,84.45 70.19,83.57 71.44,83.39ZM72.9,80.26 73.46,81.4 74.71,81.58 73.8,82.46 74.02,83.7 72.9,83.11 71.78,83.7 72,82.46 71.09,81.58 72.34,81.4ZM73.8,80.46 74.36,81.59 75.61,81.77 74.7,82.65 74.92,83.89 73.8,83.31 72.68,83.89 72.9,82.65 71.99,81.77 73.24,81.59ZM74.7,78.89 75.26,80.02 76.51,80.2 75.6,81.09 75.82,82.33 74.7,81.74 73.58,82.33 73.8,81.09 72.89,80.2 74.14,80.02ZM75.6,79.69 76.16,80.82 77.41,81.01 76.5,81.89 76.72,83.13 75.6,82.54 74.48,83.13 74.7,81.89 73.79,81.01 75.04,80.82ZM76.5,79.62 77.06,80.75 78.31,80.93 77.4,81.81 77.62,83.06 76.5,82.47 75.38,83.06 75.6,81.81 74.69,80.93 75.94,80.75ZM77.4,79.06 77.96,80.19 79.21,80.37 78.3,81.25 78.52,82.49 77.4,81.91 76.28,82.49 76.5,81.25 75.59,80.37 76.84,80.19ZM78.3,81.08 78.86,82.21 80.11,82.39 79.2,83.27 79.42,84.52 78.3,83.93 77.18,84.52 77.4,83.27 76.49,82.39 77.74,82.21ZM79.2,81.16 79.76,82.29 81.01,82.47 80.1,83.35 80.32,84.6 79.2,84.01 78.08,84.6 78.3,83.35 77.39,82.47 78.64,82.29ZM80.1,82.18 80.66,83.31 81.91,83.49 81,84.37 81.22,85.61 80.1,85.03 78.98,85.61 79.2,84.37 78.29,83.49 79.54,83.31ZM81,81.32 81.56,82.46 82.81,82.64 81.9,83.52 82.12,84.76 81,84.17 79.88,84.76 80.1,83.52 79.19,82.64 80.44,82.46ZM81.9,80.7 82.46,81.83 83.71,82.01 82.8,82.89 83.02,84.14 81.9,83.55 80.78,84.14 81,82.89 80.09,82.01 81.34,81.83ZM82.8,80.75 83.36,81.88 84.61,82.06 83.7,82.94 83.92,84.18 82.8,83.6 81.68,84.18 81.9,82.94 80.99,82.06 82.24,81.88ZM83.7,82.64 84.26,83.77 85.51,83.96 84.6,84.84 84.82,86.08 83.7,85.49 82.58,86.08 82.8,84.84 81.89,83.96 83.14,83.77ZM84.6,84.33 85.16,85.46 86.41,85.64 85.5,86.52 85.72,87.77 84.6,87.18 83.48,87.77 83.7,86.52 82.79,85.64 84.04,85.46ZM85.5,82.93 86.06,84.07 87.31,84.25 86.4,85.13 86.62,86.37 85.5,85.78 84.38,86.37 84.6,85.13 83.69,84.25 84.94,84.07ZM86.4,82.51 86.96,83.64 88.21,83.83 87.3,84.71 87.52,85.95 86.4,85.36 85.28,85.95 85.5,84.71 84.59,83.83 85.84,83.64ZM87.3,84.74 87.86,85.87 89.11,86.06 88.2,86.94 88.42,88.18 87.3,87.59 86.18,88.18 86.4,86.94 85.49,86.06 86.74,85.87ZM88.2,83.79 88.76,84.92 90.01,85.1 89.1,85.98 89.32,87.22 88.2,86.64 87.08,87.22 87.3,85.98 86.39,85.1 87.64,84.92ZM89.1,84.7 89.66,85.83 90.91,86.01 90,86.9 90.22,88.14 89.1,87.55 87.98,88.14 88.2,86.9 87.29,86.01 88.54,85.83ZM90,86.8 90.56,87.93 91.81,88.11 90.9,88.99 91.12,90.24 90,89.65 88.88,90.24 89.1,88.99 88.19,88.11 89.44,87.93ZM90.9,87.93 91.46,89.07 92.71,89.25 91.8,90.13 92.02,91.37 90.9,90.78 89.78,91.37 90,90.13 89.09,89.25 90.34,89.07ZM91.8,88.17 92.36,89.3 93.61,89.48 92.7,90.36 92.92,91.6 91.8,91.02 90.68,91.6 90.9,90.36 89.99,89.48 91.24,89.3ZM92.7,87.5 93.26,88.63 94.51,88.82 93.6,89.7 93.82,90.94 92.7,90.35 91.58,90.94 91.8,89.7 90.89,88.82 92.14,88.63ZM93.6,89.22 94.16,90.35 95.41,90.53 94.5,91.41 94.72,92.65 93.6,92.07 92.48,92.65 92.7,91.41 91.79,90.53 93.04,90.35ZM94.5,88.89 95.06,90.02 96.31,90.2 95.4,91.08 95.62,92.32 94.5,91.74 93.38,92.32 93.6,91.08 92.69,90.2 93.94,90.02ZM95.4,90.09 95.96,91.22 97.21,91.41 96.3,92.29 96.52,93.53 95.4,92.94 94.28,93.53 94.5,92.29 93.59,91.41 94.84,91.22ZM96.3,89.1 96.86,90.24 98.11,90.42 97.2,91.3 97.42,92.54 96.3,91.95 95.18,92.54 95.4,91.3 94.49,90.42 95.74,90.24ZM97.2,88.33 97.76,89.46 99.01,89.65 98.1,90.53 98.32,91.77 97.2,91.18 96.08,91.77 96.3,90.53 95.39,89.65 96.64,89.46ZM98.1,90.4 98.66,91.53 99.91,91.71 99,92.59 99.22,93.84 98.1,93.25 96.98,93.84 97.2,92.59 96.29,91.71 97.54,91.53ZM99,92.46 99.56,93.59 100.81,93.78 99.9,94.66 100.12,95.9 99,95.31 97.88,95.9 98.1,94.66 97.19,93.78 98.44,93.59ZM99.9,91.26 100.46,92.39 101.71,92.57 100.8,93.45 101.02,94.7 99.9,94.11 98.78,94.7 99,93.45 98.09,92.57 99.34,92.39ZM100.8,91.13 101.36,92.26 102.61,92.45 101.7,93.33 101.92,94.57 100.8,93.98 99.68,94.57 99.9,93.33 98.99,92.45 100.24,92.26ZM101.7,91.13 102.26,92.27 103.51,92.45 102.6,93.33 102.82,94.57 101.7,93.98 100.58,94.57 100.8,93.33 99.89,92.45 101.14,92.27ZM102.6,91.46 103.16,92.6 104.41,92.78 103.5,93.66 103.72,94.9 102.6,94.31 101.48,94.9 101.7,93.66 100.79,92.78 102.04,92.6ZM103.5,92.26 104.06,93.39 105.31,93.57 104.4,94.45 104.62,95.69 103.5,95.11 102.38,95.69 102.6,94.45 101.69,93.57 102.94,93.39ZM104.4,91.72 104.96,92.85 106.21,93.03 105.3,93.91 105.52,95.16 104.4,94.57 103.28,95.16 103.5,93.91 102.59,93.03 103.84,92.85ZM105.3,94.01 105.86,95.14 107.11,95.33 106.2,96.21 106.42,97.45 105.3,96.86 104.18,97.45 104.4,96.21 103.49,95.33 104.74,95.14ZM106.2,92.72 106.76,93.86 108.01,94.04 107.1,94.92 107.32,96.16 106.2,95.57 105.08,96.16 105.3,94.92 104.39,94.04 105.64,93.86ZM107.1,93.16 107.66,94.29 108.91,94.47 108,95.35 108.22,96.6 107.1,96.01 105.98,96.6 106.2,95.35 105.29,94.47 106.54,94.29ZM108,94.34 108.56,95.47 109.81,95.65 108.9,96.53 109.12,97.78 108,97.19 106.88,97.78 107.1,96.53 106.19,95.65 107.44,95.47ZM108.9,94.5 109.46,95.63 110.71,95.81 109.8,96.69 110.02,97.94 108.9,97.35 107.78,97.94 108,96.69 107.09,95.81 108.34,95.63ZM109.8,93.23 110.36,94.36 111.61,94.54 110.7,95.42 110.92,96.67 109.8,96.08 108.68,96.67 108.9,95.42 107.99,94.54 109.24,94.36ZM110.7,93.76 111.26,94.89 112.51,95.07 111.6,95.95 111.82,97.2 110.7,96.61 109.58,97.2 109.8,95.95 108.89,95.07 110.14,94.89ZM111.6,94.17 112.16,95.3 113.41,95.48 112.5,96.36 112.72,97.6 111.6,97.02 110.48,97.6 110.7,96.36 109.79,95.48 111.04,95.3ZM112.5,93.5 113.06,94.63 114.31,94.81 113.4,95.69 113.62,96.94 112.5,96.35 111.38,96.94 111.6,95.69 110.69,94.81 111.94,94.63ZM113.4,92.3 113.96,93.43 115.21,93.61 114.3,94.49 114.52,95.74 113.4,95.15 112.28,95.74 112.5,94.49 111.59,93.61 112.84,93.43ZM114.3,94.31 114.86,95.44 116.11,95.62 115.2,96.5 115.42,97.74 114.3,97.16 113.18,97.74 113.4,96.5 112.49,95.62 113.74,95.44ZM115.2,94.55 115.76,95.68 117.01,95.86 116.1,96.74 116.32,97.99 115.2,97.4 114.08,97.99 114.3,96.74 113.39,95.86 114.64,95.68ZM116.1,94.22 116.66,95.35 117.91,95.53 117,96.41 117.22,97.66 116.1,97.07 114.98,97.66 115.2,96.41 114.29,95.53 115.54,95.35ZM117,93.2 117.56,94.33 118.81,94.51 117.9,95.39 118.12,96.64 117,96.05 115.88,96.64 116.1,95.39 115.19,94.51 116.44,94.33ZM117.9,93.83 118.46,94.96 119.71,95.14 118.8,96.02 119.02,97.27 117.9,96.68 116.78,97.27 117,96.02 116.09,95.14 117.34,94.96ZM118.8,93.55 119.36,94.69 120.61,94.87 119.7,95.75 119.92,96.99 118.8,96.4 117.68,96.99 117.9,95.75 116.99,94.87 118.24,94.69ZM119.7,93.82 120.26,94.95 121.51,95.13 120.6,96.02 120.82,97.26 119.7,96.67 118.58,97.26 118.8,96.02 117.89,95.13 119.14,94.95ZM120.6,95.12 121.16,96.25 122.41,96.44 121.5,97.32 121.72,98.56 120.6,97.97 119.48,98.56 119.7,97.32 118.79,96.44 120.04,96.25ZM121.5,95.32 122.06,96.45 123.31,96.64 122.4,97.52 122.62,98.76 121.5,98.17 120.38,98.76 120.6,97.52 119.69,96.64 120.94,96.45ZM122.4,94.64 122.96,95.77 124.21,95.95 123.3,96.83 123.52,98.07 122.4,97.49 121.28,98.07 121.5,96.83 120.59,95.95 121.84,95.77ZM123.3,94.54 123.86,95.67 125.11,95.85 124.2,96.73 124.42,97.98 123.3,97.39 122.18,97.98 122.4,96.73 121.49,95.85 122.74,95.67ZM124.2,94.64 124.76,95.77 126.01,95.95 125.1,96.83 125.32,98.08 124.2,97.49 123.08,98.08 123.3,96.83 122.39,95.95 123.64,95.77ZM125.1,94.09 125.66,95.22 126.91,95.4 126,96.28 126.22,97.53 125.1,96.94 123.98,97.53 124.2,96.28 123.29,95.4 124.54,95.22ZM126,94.04 126.56,95.17 127.81,95.35 126.9,96.23 127.12,97.48 126,96.89 124.88,97.48 125.1,96.23 124.19,95.35 125.44,95.17ZM126.9,93.56 127.46,94.69 128.71,94.87 127.8,95.75 128.02,97 126.9,96.41 125.78,97 126,95.75 125.09,94.87 126.34,94.69ZM127.8,94.06 128.36,95.19 129.61,95.37 128.7,96.25 128.92,97.49 127.8,96.91 126.68,97.49 126.9,96.25 125.99,95.37 127.24,95.19ZM128.7,95.91 129.26,97.04 130.51,97.22 129.6,98.1 129.82,99.35 128.7,98.76 127.58,99.35 127.8,98.1 126.89,97.22 128.14,97.04ZM129.6,94.79 130.16,95.92 131.41,96.11 130.5,96.99 130.72,98.23 129.6,97.64 128.48,98.23 128.7,96.99 127.79,96.11 129.04,95.92ZM130.5,93.81 131.06,94.94 132.31,95.12 131.4,96 131.62,97.25 130.5,96.66 129.38,97.25 129.6,96 128.69,95.12 129.94,94.94ZM131.4,93.67 131.96,94.81 133.21,94.99 132.3,95.87 132.52,97.11 131.4,96.52 130.28,97.11 130.5,95.87 129.59,94.99 130.84,94.81ZM132.3,93.32 132.86,94.45 134.11,94.63 133.2,95.51 133.42,96.75 132.3,96.17 131.18,96.75 131.4,95.51 130.49,94.63 131.74,94.45ZM133.2,94.25 133.76,95.38 135.01,95.56 134.1,96.44 134.32,97.69 133.2,97.1 132.08,97.69 132.3,96.44 131.39,95.56 132.64,95.38ZM134.1,94.19 134.66,95.32 135.91,95.51 135,96.39 135.22,97.63 134.1,97.04 132.98,97.63 133.2,96.39 132.29,95.51 133.54,95.32ZM135,92.65 135.56,93.78 136.81,93.96 135.9,94.84 136.12,96.08 135,95.5 133.88,96.08 134.1,94.84 133.19,93.96 134.44,93.78ZM135.9,93.95 136.46,95.08 137.71,95.26 136.8,96.14 137.02,97.39 135.9,96.8 134.78,97.39 135,96.14 134.09,95.26 135.34,95.08ZM136.8,92.64 137.36,93.78 138.61,93.96 137.7,94.84 137.92,96.08 136.8,95.49 135.68,96.08 135.9,94.84 134.99,93.96 136.24,93.78ZM137.7,93.69 138.26,94.82 139.51,95 138.6,95.88 138.82,97.13 137.7,96.54 136.58,97.13 136.8,95.88 135.89,95 137.14,94.82ZM138.6,92.16 139.16,93.29 140.41,93.47 139.5,94.35 139.72,95.59 138.6,95.01 137.48,95.59 137.7,94.35 136.79,93.47 138.04,93.29ZM139.5,93.05 140.06,94.18 141.31,94.37 140.4,95.25 140.62,96.49 139.5,95.9 138.38,96.49 138.6,95.25 137.69,94.37 138.94,94.18ZM140.4,91.24 140.96,92.37 142.21,92.55 141.3,93.43 141.52,94.67 140.4,94.09 139.28,94.67 139.5,93.43 138.59,92.55 139.84,92.37ZM141.3,91.42 141.86,92.55 143.11,92.73 142.2,93.61 142.42,94.86 141.3,94.27 140.18,94.86 140.4,93.61 139.49,92.73 140.74,92.55ZM142.2,91.98 142.76,93.11 144.01,93.29 143.1,94.17 143.32,95.42 142.2,94.83 141.08,95.42 141.3,94.17 140.39,93.29 141.64,93.11ZM143.1,92.7 143.66,93.83 144.91,94.02 144,94.9 144.22,96.14 143.1,95.55 141.98,96.14 142.2,94.9 141.29,94.02 142.54,93.83ZM144,92.44 144.56,93.57 145.81,93.75 144.9,94.63 145.12,95.88 144,95.29 142.88,95.88 143.1,94.63 142.19,93.75 143.44,93.57ZM144.9,91.12 145.46,92.25 146.71,92.44 145.8,93.32 146.02,94.56 144.9,93.97 143.78,94.56 144,93.32 143.09,92.44 144.34,92.25ZM145.8,92.36 146.36,93.49 147.61,93.67 146.7,94.55 146.92,95.8 145.8,95.21 144.68,95.8 144.9,94.55 143.99,93.67 145.24,93.49ZM146.7,92.3 147.26,93.43 148.51,93.61 147.6,94.49 147.82,95.74 146.7,95.15 145.58,95.74 145.8,94.49 144.89,93.61 146.14,93.43ZM147.6,91.95 148.16,93.08 149.41,93.26 148.5,94.15 148.72,95.39 147.6,94.8 146.48,95.39 146.7,94.15 145.79,93.26 147.04,93.08ZM148.5,91.67 149.06,92.8 150.31,92.98 149.4,93.86 149.62,95.1 148.5,94.52 147.38,95.1 147.6,93.86 146.69,92.98 147.94,92.8ZM149.4,93.44 149.96,94.57 151.21,94.75 150.3,95.63 150.52,96.88 149.4,96.29 148.28,96.88 148.5,95.63 147.59,94.75 148.84,94.57ZM150.3,91.69 150.86,92.82 152.11,93 151.2,93.88 151.42,95.13 150.3,94.54 149.18,95.13 149.4,93.88 148.49,93 149.74,92.82ZM151.2,91.34 151.76,92.48 153.01,92.66 152.1,93.54 152.32,94.78 151.2,94.19 150.08,94.78 150.3,93.54 149.39,92.66 150.64,92.48ZM152.1,92.57 152.66,93.7 153.91,93.88 153,94.76 153.22,96.01 152.1,95.42 150.98,96.01 151.2,94.76 150.29,93.88 151.54,93.7ZM153,92.21 153.56,93.35 154.81,93.53 153.9,94.41 154.12,95.65 153,95.06 151.88,95.65 152.1,94.41 151.19,93.53 152.44,93.35ZM153.9,92.1 154.46,93.24 155.71,93.42 154.8,94.3 155.02,95.54 153.9,94.95 152.78,95.54 153,94.3 152.09,93.42 153.34,93.24ZM154.8,92.84 155.36,93.98 156.61,94.16 155.7,95.04 155.92,96.28 154.8,95.69 153.68,96.28 153.9,95.04 152.99,94.16 154.24,93.98ZM155.7,92.65 156.26,93.79 157.51,93.97 156.6,94.85 156.82,96.09 155.7,95.5 154.58,96.09 154.8,94.85 153.89,93.97 155.14,93.79ZM156.6,92.58 157.16,93.71 158.41,93.89 157.5,94.78 157.72,96.02 156.6,95.43 155.48,96.02 155.7,94.78 154.79,93.89 156.04,93.71ZM157.5,93.07 158.06,94.2 159.31,94.38 158.4,95.26 158.62,96.51 157.5,95.92 156.38,96.51 156.6,95.26 155.69,94.38 156.94,94.2ZM158.4,92.48 158.96,93.62 160.21,93.8 159.3,94.68 159.52,95.92 158.4,95.33 157.28,95.92 157.5,94.68 156.59,93.8 157.84,93.62ZM159.3,91.68 159.86,92.81 161.11,92.99 160.2,93.87 160.42,95.11 159.3,94.53 158.18,95.11 158.4,93.87 157.49,92.99 158.74,92.81ZM160.2,91.77 160.76,92.9 162.01,93.08 161.1,93.96 161.32,95.2 160.2,94.62 159.08,95.2 159.3,93.96 158.39,93.08 159.64,92.9ZM161.1,91.51 161.66,92.64 162.91,92.82 162,93.71 162.22,94.95 161.1,94.36 159.98,94.95 160.2,93.71 159.29,92.82 160.54,92.64ZM162,91.97 162.56,93.1 163.81,93.28 162.9,94.16 163.12,95.41 162,94.82 160.88,95.41 161.1,94.16 160.19,93.28 161.44,93.1ZM162.9,90.83 163.46,91.97 164.71,92.15 163.8,93.03 164.02,94.27 162.9,93.68 161.78,94.27 162,93.03 161.09,92.15 162.34,91.97ZM163.8,90.16 164.36,91.29 165.61,91.47 164.7,92.35 164.92,93.59 163.8,93.01 162.68,93.59 162.9,92.35 161.99,91.47 163.24,91.29ZM164.7,91.67 165.26,92.8 166.51,92.98 165.6,93.87 165.82,95.11 164.7,94.52 163.58,95.11 163.8,93.87 162.89,92.98 164.14,92.8ZM165.6,90.64 166.16,91.77 167.41,91.96 166.5,92.84 166.72,94.08 165.6,93.49 164.48,94.08 164.7,92.84 163.79,91.96 165.04,91.77ZM166.5,90.41 167.06,91.54 168.31,91.72 167.4,92.6 167.62,93.85 166.5,93.26 165.38,93.85 165.6,92.6 164.69,91.72 165.94,91.54ZM167.4,92.62 167.96,93.75 169.21,93.93 168.3,94.81 168.52,96.06 167.4,95.47 166.28,96.06 166.5,94.81 165.59,93.93 166.84,93.75ZM168.3,92.15 168.86,93.29 170.11,93.47 169.2,94.35 169.42,95.59 168.3,95 167.18,95.59 167.4,94.35 166.49,93.47 167.74,93.29ZM169.2,93.52 169.76,94.65 171.01,94.83 170.1,95.71 170.32,96.95 169.2,96.37 168.08,96.95 168.3,95.71 167.39,94.83 168.64,94.65ZM170.1,93.04 170.66,94.17 171.91,94.35 171,95.23 171.22,96.48 170.1,95.89 168.98,96.48 169.2,95.23 168.29,94.35 169.54,94.17ZM171,92.81 171.56,93.94 172.81,94.12 171.9,95 172.12,96.25 171,95.66 169.88,96.25 170.1,95 169.19,94.12 170.44,93.94ZM171.9,92.81 172.46,93.94 173.71,94.12 172.8,95 173.02,96.24 171.9,95.66 170.78,96.24 171,95 170.09,94.12 171.34,93.94ZM172.8,93.33 173.36,94.46 174.61,94.64 173.7,95.52 173.92,96.76 172.8,96.18 171.68,96.76 171.9,95.52 170.99,94.64 172.24,94.46ZM173.7,93.35 174.26,94.48 175.51,94.67 174.6,95.55 174.82,96.79 173.7,96.2 172.58,96.79 172.8,95.55 171.89,94.67 173.14,94.48ZM174.6,92.68 175.16,93.81 176.41,93.99 175.5,94.87 175.72,96.11 174.6,95.53 173.48,96.11 173.7,94.87 172.79,93.99 174.04,93.81ZM175.5,92.84 176.06,93.97 177.31,94.15 176.4,95.03 176.62,96.28 175.5,95.69 174.38,96.28 174.6,95.03 173.69,94.15 174.94,93.97ZM176.4,91.56 176.96,92.7 178.21,92.88 177.3,93.76 177.52,95 176.4,94.41 175.28,95 175.5,93.76 174.59,92.88 175.84,92.7ZM177.3,92.56 177.86,93.69 179.11,93.88 178.2,94.76 178.42,96 177.3,95.41 176.18,96 176.4,94.76 175.49,93.88 176.74,93.69ZM178.2,90.94 178.76,92.07 180.01,92.25 179.1,93.14 179.32,94.38 178.2,93.79 177.08,94.38 177.3,93.14 176.39,92.25 177.64,92.07ZM179.1,92.15 179.66,93.28 180.91,93.46 180,94.34 180.22,95.58 179.1,95 177.98,95.58 178.2,94.34 177.29,93.46 178.54,93.28ZM180,92.9 180.56,94.03 181.81,94.22 180.9,95.1 181.12,96.34 180,95.75 178.88,96.34 179.1,95.1 178.19,94.22 179.44,94.03ZM180.9,93.36 181.46,94.5 182.71,94.68 181.8,95.56 182.02,96.8 180.9,96.21 179.78,96.8 180,95.56 179.09,94.68 180.34,94.5ZM181.8,94.08 182.36,95.21 183.61,95.4 182.7,96.28 182.92,97.52 181.8,96.93 180.68,97.52 180.9,96.28 179.99,95.4 181.24,95.21ZM182.7,91.74 183.26,92.87 184.51,93.05 183.6,93.93 183.82,95.17 182.7,94.59 181.58,95.17 181.8,93.93 180.89,93.05 182.14,92.87ZM183.6,93.88 184.16,95.01 185.41,95.2 184.5,96.08 184.72,97.32 183.6,96.73 182.48,97.32 182.7,96.08 181.79,95.2 183.04,95.01ZM184.5,94.54 185.06,95.67 186.31,95.85 185.4,96.73 185.62,97.97 184.5,97.39 183.38,97.97 183.6,96.73 182.69,95.85 183.94,95.67ZM185.4,94.63 185.96,95.76 187.21,95.94 186.3,96.82 186.52,98.06 185.4,97.48 184.28,98.06 184.5,96.82 183.59,95.94 184.84,95.76ZM186.3,93.32 186.86,94.45 188.11,94.63 187.2,95.51 187.42,96.75 186.3,96.17 185.18,96.75 185.4,95.51 184.49,94.63 185.74,94.45ZM187.2,94.56 187.76,95.69 189.01,95.87 188.1,96.75 188.32,98 187.2,97.41 186.08,98 186.3,96.75 185.39,95.87 186.64,95.69ZM188.1,95.88 188.66,97.01 189.91,97.19 189,98.07 189.22,99.32 188.1,98.73 186.98,99.32 187.2,98.07 186.29,97.19 187.54,97.01ZM189,93.35 189.56,94.48 190.81,94.67 189.9,95.55 190.12,96.79 189,96.2 187.88,96.79 188.1,95.55 187.19,94.67 188.44,94.48ZM189.9,95.08 190.46,96.21 191.71,96.39 190.8,97.27 191.02,98.52 189.9,97.93 188.78,98.52 189,97.27 188.09,96.39 189.34,96.21ZM190.8,95.73 191.36,96.86 192.61,97.04 191.7,97.92 191.92,99.17 190.8,98.58 189.68,99.17 189.9,97.92 188.99,97.04 190.24,96.86ZM191.7,94.41 192.26,95.54 193.51,95.72 192.6,96.6 192.82,97.84 191.7,97.26 190.58,97.84 190.8,96.6 189.89,95.72 191.14,95.54ZM192.6,95.54 193.16,96.67 194.41,96.86 193.5,97.74 193.72,98.98 192.6,98.39 191.48,98.98 191.7,97.74 190.79,96.86 192.04,96.67ZM193.5,94.32 194.06,95.45 195.31,95.63 194.4,96.51 194.62,97.75 193.5,97.17 192.38,97.75 192.6,96.51 191.69,95.63 192.94,95.45ZM194.4,94.6 194.96,95.74 196.21,95.92 195.3,96.8 195.52,98.04 194.4,97.45 193.28,98.04 193.5,96.8 192.59,95.92 193.84,95.74ZM195.3,94.68 195.86,95.81 197.11,96 196.2,96.88 196.42,98.12 195.3,97.53 194.18,98.12 194.4,96.88 193.49,96 194.74,95.81ZM196.2,95.57 196.76,96.7 198.01,96.88 197.1,97.76 197.32,99 196.2,98.42 195.08,99 195.3,97.76 194.39,96.88 195.64,96.7ZM197.1,95.41 197.66,96.54 198.91,96.72 198,97.6 198.22,98.85 197.1,98.26 195.98,98.85 196.2,97.6 195.29,96.72 196.54,96.54ZM198,96.3 198.56,97.44 199.81,97.62 198.9,98.5 199.12,99.74 198,99.15 196.88,99.74 197.1,98.5 196.19,97.62 197.44,97.44ZM198.9,94.83 199.46,95.96 200.71,96.14 199.8,97.02 200.02,98.27 198.9,97.68 197.78,98.27 198,97.02 197.09,96.14 198.34,95.96ZM199.8,95.49 200.36,96.63 201.61,96.81 200.7,97.69 200.92,98.93 199.8,98.34 198.68,98.93 198.9,97.69 197.99,96.81 199.24,96.63ZM200.7,96.37 201.26,97.5 202.51,97.68 201.6,98.56 201.82,99.81 200.7,99.22 199.58,99.81 199.8,98.56 198.89,97.68 200.14,97.5ZM201.6,96.05 202.16,97.18 203.41,97.36 202.5,98.24 202.72,99.49 201.6,98.9 200.48,99.49 200.7,98.24 199.79,97.36 201.04,97.18ZM202.5,94.54 203.06,95.67 204.31,95.85 203.4,96.73 203.62,97.98 202.5,97.39 201.38,97.98 201.6,96.73 200.69,95.85 201.94,95.67ZM203.4,96.13 203.96,97.26 205.21,97.45 204.3,98.33 204.52,99.57 203.4,98.98 202.28,99.57 202.5,98.33 201.59,97.45 202.84,97.26ZM204.3,95.22 204.86,96.35 206.11,96.53 205.2,97.41 205.42,98.65 204.3,98.07 203.18,98.65 203.4,97.41 202.49,96.53 203.74,96.35ZM205.2,95.91 205.76,97.04 207.01,97.22 206.1,98.1 206.32,99.35 205.2,98.76 204.08,99.35 204.3,98.1 203.39,97.22 204.64,97.04ZM206.1,95.84 206.66,96.97 207.91,97.15 207,98.03 207.22,99.28 206.1,98.69 204.98,99.28 205.2,98.03 204.29,97.15 205.54,96.97ZM207,96.58 207.56,97.71 208.81,97.89 207.9,98.77 208.12,100.01 207,99.43 205.88,100.01 206.1,98.77 205.19,97.89 206.44,97.71ZM207.9,95.69 208.46,96.82 209.71,97.01 208.8,97.89 209.02,99.13 207.9,98.54 206.78,99.13 207,97.89 206.09,97.01 207.34,96.82ZM208.8,94.12 209.36,95.25 210.61,95.43 209.7,96.31 209.92,97.55 208.8,96.97 207.68,97.55 207.9,96.31 206.99,95.43 208.24,95.25ZM209.7,94.5 210.26,95.64 211.51,95.82 210.6,96.7 210.82,97.94 209.7,97.35 208.58,97.94 208.8,96.7 207.89,95.82 209.14,95.64ZM210.6,96.18 211.16,97.32 212.41,97.5 211.5,98.38 211.72,99.62 210.6,99.03 209.48,99.62 209.7,98.38 208.79,97.5 210.04,97.32ZM211.5,95.39 212.06,96.52 213.31,96.71 212.4,97.59 212.62,98.83 211.5,98.24 210.38,98.83 210.6,97.59 209.69,96.71 210.94,96.52ZM212.4,96.51 212.96,97.64 214.21,97.82 213.3,98.7 213.52,99.95 212.4,99.36 211.28,99.95 211.5,98.7 210.59,97.82 211.84,97.64ZM213.3,95.78 213.86,96.91 215.11,97.09 214.2,97.97 214.42,99.21 213.3,98.63 212.18,99.21 212.4,97.97 211.49,97.09 212.74,96.91ZM214.2,94.84 214.76,95.97 216.01,96.15 215.1,97.04 215.32,98.28 214.2,97.69 213.08,98.28 213.3,97.04 212.39,96.15 213.64,95.97ZM215.1,96.13 215.66,97.26 216.91,97.44 216,98.32 216.22,99.56 215.1,98.98 213.98,99.56 214.2,98.32 213.29,97.44 214.54,97.26ZM216,94.38 216.56,95.51 217.81,95.69 216.9,96.58 217.12,97.82 216,97.23 214.88,97.82 215.1,96.58 214.19,95.69 215.44,95.51ZM216.9,93.11 217.46,94.25 218.71,94.43 217.8,95.31 218.02,96.55 216.9,95.96 215.78,96.55 216,95.31 215.09,94.43 216.34,94.25ZM217.8,96.11 218.36,97.24 219.61,97.42 218.7,98.3 218.92,99.54 217.8,98.96 216.68,99.54 216.9,98.3 215.99,97.42 217.24,97.24ZM218.7,92.61 219.26,93.74 220.51,93.92 219.6,94.81 219.82,96.05 218.7,95.46 217.58,96.05 217.8,94.81 216.89,93.92 218.14,93.74ZM219.6,94.33 220.16,95.46 221.41,95.64 220.5,96.52 220.72,97.77 219.6,97.18 218.48,97.77 218.7,96.52 217.79,95.64 219.04,95.46ZM220.5,94.26 221.06,95.39 222.31,95.57 221.4,96.45 221.62,97.7 220.5,97.11 219.38,97.7 219.6,96.45 218.69,95.57 219.94,95.39ZM221.4,93.33 221.96,94.47 223.21,94.65 222.3,95.53 222.52,96.77 221.4,96.18 220.28,96.77 220.5,95.53 219.59,94.65 220.84,94.47ZM222.3,91.61 222.86,92.74 224.11,92.92 223.2,93.8 223.42,95.05 222.3,94.46 221.18,95.05 221.4,93.8 220.49,92.92 221.74,92.74ZM223.2,93.55 223.76,94.68 225.01,94.86 224.1,95.75 224.32,96.99 223.2,96.4 222.08,96.99 222.3,95.75 221.39,94.86 222.64,94.68ZM224.1,91.43 224.66,92.56 225.91,92.74 225,93.62 225.22,94.86 224.1,94.28 222.98,94.86 223.2,93.62 222.29,92.74 223.54,92.56ZM225,91.41 225.56,92.54 226.81,92.72 225.9,93.6 226.12,94.85 225,94.26 223.88,94.85 224.1,93.6 223.19,92.72 224.44,92.54ZM225.9,92.13 226.46,93.26 227.71,93.44 226.8,94.32 227.02,95.57 225.9,94.98 224.78,95.57 225,94.32 224.09,93.44 225.34,93.26ZM226.8,92.99 227.36,94.12 228.61,94.31 227.7,95.19 227.92,96.43 226.8,95.84 225.68,96.43 225.9,95.19 224.99,94.31 226.24,94.12ZM227.7,92.55 228.26,93.68 229.51,93.87 228.6,94.75 228.82,95.99 227.7,95.4 226.58,95.99 226.8,94.75 225.89,93.87 227.14,93.68ZM228.6,92.92 229.16,94.05 230.41,94.23 229.5,95.11 229.72,96.36 228.6,95.77 227.48,96.36 227.7,95.11 226.79,94.23 228.04,94.05ZM229.5,91.88 230.06,93.01 231.31,93.19 230.4,94.07 230.62,95.32 229.5,94.73 228.38,95.32 228.6,94.07 227.69,93.19 228.94,93.01ZM230.4,92.06 230.96,93.19 232.21,93.37 231.3,94.25 231.52,95.5 230.4,94.91 229.28,95.5 229.5,94.25 228.59,93.37 229.84,93.19ZM231.3,91.26 231.86,92.39 233.11,92.57 232.2,93.45 232.42,94.69 231.3,94.11 230.18,94.69 230.4,93.45 229.49,92.57 230.74,92.39ZM232.2,91.88 232.76,93.01 234.01,93.19 233.1,94.07 233.32,95.32 232.2,94.73 231.08,95.32 231.3,94.07 230.39,93.19 231.64,93.01ZM233.1,92.58 233.66,93.71 234.91,93.89 234,94.77 234.22,96.01 233.1,95.43 231.98,96.01 232.2,94.77 231.29,93.89 232.54,93.71ZM234,91.83 234.56,92.96 235.81,93.14 234.9,94.02 235.12,95.26 234,94.68 232.88,95.26 233.1,94.02 232.19,93.14 233.44,92.96ZM234.9,92.41 235.46,93.54 236.71,93.72 235.8,94.6 236.02,95.84 234.9,95.26 233.78,95.84 234,94.6 233.09,93.72 234.34,93.54ZM235.8,91.52 236.36,92.66 237.61,92.84 236.7,93.72 236.92,94.96 235.8,94.37 234.68,94.96 234.9,93.72 233.99,92.84 235.24,92.66ZM236.7,91.46 237.26,92.59 238.51,92.77 237.6,93.65 237.82,94.89 236.7,94.31 235.58,94.89 235.8,93.65 234.89,92.77 236.14,92.59ZM237.6,91.9 238.16,93.03 239.41,93.22 238.5,94.1 238.72,95.34 237.6,94.75 236.48,95.34 236.7,94.1 235.79,93.22 237.04,93.03ZM238.5,91.64 239.06,92.77 240.31,92.95 239.4,93.83 239.62,95.07 238.5,94.49 237.38,95.07 237.6,93.83 236.69,92.95 237.94,92.77ZM239.4,92.17 239.96,93.3 241.21,93.48 240.3,94.36 240.52,95.6 239.4,95.02 238.28,95.6 238.5,94.36 237.59,93.48 238.84,93.3ZM240.3,91.72 240.86,92.86 242.11,93.04 241.2,93.92 241.42,95.16 240.3,94.57 239.18,95.16 239.4,93.92 238.49,93.04 239.74,92.86ZM241.2,92.85 241.76,93.98 243.01,94.17 242.1,95.05 242.32,96.29 241.2,95.7 240.08,96.29 240.3,95.05 239.39,94.17 240.64,93.98ZM242.1,91.16 242.66,92.29 243.91,92.47 243,93.35 243.22,94.59 242.1,94.01 240.98,94.59 241.2,93.35 240.29,92.47 241.54,92.29ZM243,91.02 243.56,92.15 244.81,92.34 243.9,93.22 244.12,94.46 243,93.87 241.88,94.46 242.1,93.22 241.19,92.34 242.44,92.15ZM243.9,90.25 244.46,91.38 245.71,91.56 244.8,92.44 245.02,93.68 243.9,93.1 242.78,93.68 243,92.44 242.09,91.56 243.34,91.38ZM244.8,90.98 245.36,92.11 246.61,92.29 245.7,93.17 245.92,94.41 244.8,93.83 243.68,94.41 243.9,93.17 242.99,92.29 244.24,92.11ZM245.7,91.4 246.26,92.53 247.51,92.71 246.6,93.59 246.82,94.83 245.7,94.25 244.58,94.83 244.8,93.59 243.89,92.71 245.14,92.53ZM246.6,90.16 247.16,91.29 248.41,91.48 247.5,92.36 247.72,93.6 246.6,93.01 245.48,93.6 245.7,92.36 244.79,91.48 246.04,91.29ZM247.5,90.64 248.06,91.77 249.31,91.95 248.4,92.83 248.62,94.08 247.5,93.49 246.38,94.08 246.6,92.83 245.69,91.95 246.94,91.77ZM248.4,91.2 248.96,92.33 250.21,92.51 249.3,93.4 249.52,94.64 248.4,94.05 247.28,94.64 247.5,93.4 246.59,92.51 247.84,92.33ZM249.3,90.5 249.86,91.63 251.11,91.81 250.2,92.69 250.42,93.94 249.3,93.35 248.18,93.94 248.4,92.69 247.49,91.81 248.74,91.63ZM250.2,90.18 250.76,91.32 252.01,91.5 251.1,92.38 251.32,93.62 250.2,93.03 249.08,93.62 249.3,92.38 248.39,91.5 249.64,91.32ZM251.1,91.38 251.66,92.51 252.91,92.69 252,93.57 252.22,94.82 251.1,94.23 249.98,94.82 250.2,93.57 249.29,92.69 250.54,92.51ZM252,90.68 252.56,91.81 253.81,91.99 252.9,92.87 253.12,94.11 252,93.53 250.88,94.11 251.1,92.87 250.19,91.99 251.44,91.81ZM252.9,90.92 253.46,92.05 254.71,92.23 253.8,93.11 254.02,94.35 252.9,93.77 251.78,94.35 252,93.11 251.09,92.23 252.34,92.05ZM253.8,91.54 254.36,92.67 255.61,92.85 254.7,93.73 254.92,94.97 253.8,94.39 252.68,94.97 252.9,93.73 251.99,92.85 253.24,92.67ZM254.7,91.52 255.26,92.65 256.51,92.83 255.6,93.71 255.82,94.95 254.7,94.37 253.58,94.95 253.8,93.71 252.89,92.83 254.14,92.65ZM255.6,90.32 256.16,91.45 257.41,91.64 256.5,92.52 256.72,93.76 255.6,93.17 254.48,93.76 254.7,92.52 253.79,91.64 255.04,91.45ZM256.5,90.18 257.06,91.31 258.31,91.49 257.4,92.37 257.62,93.62 256.5,93.03 255.38,93.62 255.6,92.37 254.69,91.49 255.94,91.31ZM257.4,90.83 257.96,91.96 259.21,92.14 258.3,93.02 258.52,94.26 257.4,93.68 256.28,94.26 256.5,93.02 255.59,92.14 256.84,91.96ZM258.3,90.49 258.86,91.63 260.11,91.81 259.2,92.69 259.42,93.93 258.3,93.34 257.18,93.93 257.4,92.69 256.49,91.81 257.74,91.63ZM259.2,89.08 259.76,90.21 261.01,90.39 260.1,91.27 260.32,92.52 259.2,91.93 258.08,92.52 258.3,91.27 257.39,90.39 258.64,90.21ZM260.1,91.62 260.66,92.75 261.91,92.93 261,93.81 261.22,95.06 260.1,94.47 258.98,95.06 259.2,93.81 258.29,92.93 259.54,92.75ZM261,90.62 261.56,91.75 262.81,91.93 261.9,92.81 262.12,94.05 261,93.47 259.88,94.05 260.1,92.81 259.19,91.93 260.44,91.75ZM261.9,91.19 262.46,92.32 263.71,92.5 262.8,93.38 263.02,94.63 261.9,94.04 260.78,94.63 261,93.38 260.09,92.5 261.34,92.32ZM262.8,89.65 263.36,90.78 264.61,90.96 263.7,91.85 263.92,93.09 262.8,92.5 261.68,93.09 261.9,91.85 260.99,90.96 262.24,90.78ZM263.7,91.59 264.26,92.72 265.51,92.9 264.6,93.78 264.82,95.02 263.7,94.44 262.58,95.02 262.8,93.78 261.89,92.9 263.14,92.72ZM264.6,90.03 265.16,91.16 266.41,91.34 265.5,92.22 265.72,93.47 264.6,92.88 263.48,93.47 263.7,92.22 262.79,91.34 264.04,91.16ZM265.5,90.34 266.06,91.47 267.31,91.65 266.4,92.53 266.62,93.78 265.5,93.19 264.38,93.78 264.6,92.53 263.69,91.65 264.94,91.47ZM266.4,89.21 266.96,90.34 268.21,90.52 267.3,91.4 267.52,92.65 266.4,92.06 265.28,92.65 265.5,91.4 264.59,90.52 265.84,90.34ZM267.3,90.08 267.86,91.22 269.11,91.4 268.2,92.28 268.42,93.52 267.3,92.93 266.18,93.52 266.4,92.28 265.49,91.4 266.74,91.22ZM268.2,89.9 268.76,91.04 270.01,91.22 269.1,92.1 269.32,93.34 268.2,92.75 267.08,93.34 267.3,92.1 266.39,91.22 267.64,91.04ZM269.1,89.8 269.66,90.93 270.91,91.11 270,91.99 270.22,93.23 269.1,92.65 267.98,93.23 268.2,91.99 267.29,91.11 268.54,90.93ZM270,90.14 270.56,91.27 271.81,91.45 270.9,92.33 271.12,93.58 270,92.99 268.88,93.58 269.1,92.33 268.19,91.45 269.44,91.27ZM270.9,89.67 271.46,90.8 272.71,90.98 271.8,91.86 272.02,93.11 270.9,92.52 269.78,93.11 270,91.86 269.09,90.98 270.34,90.8ZM271.8,90.22 272.36,91.35 273.61,91.53 272.7,92.42 272.92,93.66 271.8,93.07 270.68,93.66 270.9,92.42 269.99,91.53 271.24,91.35ZM272.7,88.78 273.26,89.91 274.51,90.09 273.6,90.97 273.82,92.22 272.7,91.63 271.58,92.22 271.8,90.97 270.89,90.09 272.14,89.91ZM273.6,87.86 274.16,88.99 275.41,89.17 274.5,90.05 274.72,91.3 273.6,90.71 272.48,91.3 272.7,90.05 271.79,89.17 273.04,88.99ZM274.5,88.13 275.06,89.26 276.31,89.44 275.4,90.32 275.62,91.56 274.5,90.98 273.38,91.56 273.6,90.32 272.69,89.44 273.94,89.26ZM275.4,88.33 275.96,89.46 277.21,89.64 276.3,90.52 276.52,91.77 275.4,91.18 274.28,91.77 274.5,90.52 273.59,89.64 274.84,89.46ZM276.3,88.94 276.86,90.07 278.11,90.26 277.2,91.14 277.42,92.38 276.3,91.79 275.18,92.38 275.4,91.14 274.49,90.26 275.74,90.07ZM277.2,89.13 277.76,90.26 279.01,90.45 278.1,91.33 278.32,92.57 277.2,91.98 276.08,92.57 276.3,91.33 275.39,90.45 276.64,90.26ZM278.1,87.52 278.66,88.65 279.91,88.83 279,89.71 279.22,90.96 278.1,90.37 276.98,90.96 277.2,89.71 276.29,88.83 277.54,88.65ZM279,89.5 279.56,90.63 280.81,90.81 279.9,91.69 280.12,92.93 279,92.35 277.88,92.93 278.1,91.69 277.19,90.81 278.44,90.63ZM279.9,90.55 280.46,91.68 281.71,91.87 280.8,92.75 281.02,93.99 279.9,93.4 278.78,93.99 279,92.75 278.09,91.87 279.34,91.68Z" fill="#f00" stroke="#f00" stroke-width="0.6" stroke-linejoin="round"/><path d="M79.66,15.8v1.6M117.21,15.8v2.6M154.77,15.8v1.6M192.33,15.8v2.6M229.89,15.8v1.6M267.44,15.8v2.6M42.1,126.9h-3M42.1,109.76h-2M42.1,92.63h-3M42.1,75.49h-2M42.1,58.36h-3M42.1,41.22h-2M42.1,24.09h-3M305,126.9h3M305,115.57h2M305,104.25h3M305,92.92h2M305,81.6h3M305,70.27h2M305,58.95h3M305,47.62h2M305,36.3h3M305,24.97h2" fill="none" stroke="#000" stroke-width="1.3"/><path d="M42.1,228.23 42.85,227.98 43.6,227.74 44.35,227.5 45.1,227.29 45.86,227.06 46.61,226.75 47.36,226.34 48.11,225.86 48.86,225.3 49.61,224.66 50.36,223.87 51.11,222.98 51.86,222 52.62,220.89 53.37,219.61 54.12,218.13 54.87,216.3 55.62,214.29 56.37,212.08 57.12,209.91 57.87,208.06 58.63,205.39 59.38,201.94 60.13,198.18 60.88,194.34 61.63,190.61 62.38,186.35 63.13,180.33 63.88,173.41 64.63,165.69 65.39,158.25 66.14,152.01 66.89,148.07 67.64,144.44 68.39,142.12 69.14,140.59 69.89,140.24 70.64,141.68 71.39,143.7 72.15,145.92 72.9,149.08 73.65,153.4 74.4,156.76 75.15,160.37 75.9,164.63 76.65,168.94 77.4,173.27 78.15,177.39 78.91,180.95 79.66,184.18 80.41,187.17 81.16,189.98 81.91,192.54 82.66,194.63 83.41,196.41 84.16,198.39 84.92,200.49 85.67,202.41 86.42,204.06 87.17,205.56 87.92,206.91 88.67,208.16 89.42,209.32 90.17,210.37 90.92,211.3 91.68,212.15 92.43,212.94 93.18,213.66 93.93,214.28 94.68,214.81 95.43,215.29 96.18,215.73 96.93,216.13 97.68,216.51 98.44,216.86 99.19,217.2 99.94,217.52 100.69,217.82 101.44,218.09 102.19,218.32 102.94,218.51 103.69,218.69 104.44,218.87 105.2,219.03 105.95,219.16 106.7,219.26 107.45,219.32 108.2,219.32 108.95,219.28 109.7,219.2 110.45,219.09 111.21,218.96 111.96,218.82 112.71,218.65 113.46,218.38 114.21,218.03 114.96,217.62 115.71,217.18 116.46,216.72 117.21,216.2 117.97,215.63 118.72,215 119.47,214.35 120.22,213.67 120.97,212.98 121.72,212.24 122.47,211.44 123.22,210.61 123.97,209.78 124.73,208.97 125.48,208.2 126.23,207.44 126.98,206.69 127.73,205.94 128.48,205.2 129.23,204.45 129.98,203.67 130.73,202.87 131.49,202.09 132.24,201.37 132.99,200.74 133.74,200.14 134.49,199.57 135.24,199.06 135.99,198.66 136.74,198.37 137.5,198.1 138.25,197.86 139,197.64 139.75,197.45 140.5,197.32 141.25,197.24 142,197.22 142.75,197.26 143.5,197.35 144.26,197.48 145.01,197.63 145.76,197.8 146.51,197.98 147.26,198.16 148.01,198.38 148.76,198.64 149.51,198.93 150.26,199.2 151.02,199.5 151.77,199.83 152.52,200.17 153.27,200.51 154.02,200.81 154.77,201.06 155.52,201.26 156.27,201.37 157.02,201.46 157.78,201.55 158.53,201.63 159.28,201.69 160.03,201.75 160.78,201.79 161.53,201.81 162.28,201.81 163.03,201.8 163.79,201.78 164.54,201.76 165.29,201.73 166.04,201.71 166.79,201.69 167.54,201.68 168.29,201.68 169.04,201.7 169.79,201.74 170.55,201.79 171.3,201.86 172.05,201.93 172.8,202.02 173.55,202.13 174.3,202.28 175.05,202.46 175.8,202.67 176.55,202.88 177.31,203.1 178.06,203.34 178.81,203.62 179.56,203.9 180.31,204.18 181.06,204.45 181.81,204.69 182.56,204.93 183.31,205.15 184.07,205.38 184.82,205.61 185.57,205.85 186.32,206.11 187.07,206.4 187.82,206.7 188.57,207 189.32,207.28 190.08,207.52 190.83,207.76 191.58,207.99 192.33,208.19 193.08,208.36 193.83,208.46 194.58,208.53 195.33,208.59 196.08,208.64 196.84,208.69 197.59,208.72 198.34,208.75 199.09,208.76 199.84,208.77 200.59,208.73 201.34,208.67 202.09,208.58 202.84,208.47 203.6,208.33 204.35,208.18 205.1,208.02 205.85,207.85 206.6,207.68 207.35,207.51 208.1,207.35 208.85,207.19 209.6,207.01 210.36,206.82 211.11,206.62 211.86,206.41 212.61,206.2 213.36,206 214.11,205.8 214.86,205.62 215.61,205.43 216.37,205.25 217.12,205.06 217.87,204.88 218.62,204.71 219.37,204.54 220.12,204.38 220.87,204.23 221.62,204.07 222.37,203.91 223.13,203.77 223.88,203.64 224.63,203.53 225.38,203.44 226.13,203.36 226.88,203.27 227.63,203.19 228.38,203.11 229.13,203.03 229.89,202.96 230.64,202.9 231.39,202.84 232.14,202.79 232.89,202.75 233.64,202.72 234.39,202.71 235.14,202.7 235.89,202.7 236.65,202.7 237.4,202.7 238.15,202.7 238.9,202.7 239.65,202.7 240.4,202.7 241.15,202.7 241.9,202.7 242.66,202.7 243.41,202.7 244.16,202.7 244.91,202.72 245.66,202.74 246.41,202.77 247.16,202.8 247.91,202.85 248.66,202.89 249.42,202.95 250.17,203 250.92,203.06 251.67,203.12 252.42,203.18 253.17,203.25 253.92,203.31 254.67,203.36 255.42,203.42 256.18,203.49 256.93,203.56 257.68,203.63 258.43,203.71 259.18,203.78 259.93,203.85 260.68,203.91 261.43,203.98 262.18,204.05 262.94,204.13 263.69,204.2 264.44,204.27 265.19,204.35 265.94,204.42 266.69,204.49 267.44,204.56 268.19,204.63 268.95,204.7 269.7,204.76 270.45,204.82 271.2,204.88 271.95,204.94 272.7,204.99 273.45,205.04 274.2,205.09 274.95,205.12 275.71,205.16 276.46,205.19 277.21,205.22 277.96,205.25 278.71,205.28 279.46,205.3 280.21,205.33 280.96,205.36 281.71,205.38 282.47,205.4 283.22,205.43 283.97,205.45 284.72,205.46 285.47,205.48 286.22,205.49 286.97,205.5 287.72,205.51 288.47,205.51 289.23,205.51 289.98,205.51 290.73,205.5 291.48,205.49 292.23,205.48 292.98,205.46 293.73,205.44 294.48,205.42 295.24,205.39 295.99,205.36 296.74,205.33 297.49,205.3 298.24,205.26 298.99,205.22 299.74,205.17 300.49,205.13 301.24,205.08 302,205.03 302.75,204.97 303.5,204.91 304.25,204.85 305,204.79" fill="none" stroke="#000" stroke-width="0.8"/><path d="M40.6,228.23a1.5,1.5 0 1,0 3,0a1.5,1.5 0 1,0 -3,0M41.35,227.98a1.5,1.5 0 1,0 3,0a1.5,1.5 0 1,0 -3,0M42.1,227.74a1.5,1.5 0 1,0 3,0a1.5,1.5 0 1,0 -3,0M42.85,227.5a1.5,1.5 0 1,0 3,0a1.5,1.5 0 1,0 -3,0M43.6,227.29a1.5,1.5 0 1,0 3,0a1.5,1.5 0 1,0 -3,0M44.36,227.06a1.5,1.5 0 1,0 3,0a1.5,1.5 0 1,0 -3,0M45.11,226.75a1.5,1.5 0 1,0 3,0a1.5,1.5 0 1,0 -3,0M45.86,226.34a1.5,1.5 0 1,0 3,0a1.5,1.5 0 1,0 -3,0M46.61,225.86a1.5,1.5 0 1,0 3,0a1.5,1.5 0 1,0 -3,0M47.36,225.3a1.5,1.5 0 1,0 3,0a1.5,1.5 0 1,0 -3,0M48.11,224.66a1.5,1.5 0 1,0 3,0a1.5,1.5 0 1,0 -3,0M48.86,223.87a1.5,1.5 0 1,0 3,0a1.5,1.5 0 1,0 -3,0M49.61,222.98a1.5,1.5 0 1,0 3,0a1.5,1.5 0 1,0 -3,0M50.36,222a1.5,1.5 0 1,0 3,0a1.5,1.5 0 1,0 -3,0M51.12,220.89a1.5,1.5 0 1,0 3,0a1.5,1.5 0 1,0 -3,0M51.87,219.61a1.5,1.5 0 1,0 3,0a1.5,1.5 0 1,0 -3,0M52.62,218.13a1.5,1.5 0 1,0 3,0a1.5,1.5 0 1,0 -3,0M53.37,216.3a1.5,1.5 0 1,0 3,0a1.5,1.5 0 1,0 -3,0M54.12,214.29a1.5,1.5 0 1,0 3,0a1.5,1.5 0 1,0 -3,0M54.87,212.08a1.5,1.5 0 1,0 3,0a1.5,1.5 0 1,0 -3,0M55.62,209.91a1.5,1.5 0 1,0 3,0a1.5,1.5 0 1,0 -3,0M56.37,208.06a1.5,1.5 0 1,0 3,0a1.5,1.5 0 1,0 -3,0M57.13,205.39a1.5,1.5 0 1,0 3,0a1.5,1.5 0 1,0 -3,0M57.88,201.94a1.5,1.5 0 1,0 3,0a1.5,1.5 0 1,0 -3,0M58.63,198.18a1.5,1.5 0 1,0 3,0a1.5,1.5 0 1,0 -3,0M59.38,194.34a1.5,1.5 0 1,0 3,0a1.5,1.5 0 1,0 -3,0M60.13,190.61a1.5,1.5 0 1,0 3,0a1.5,1.5 0 1,0 -3,0M60.88,186.35a1.5,1.5 0 1,0 3,0a1.5,1.5 0 1,0 -3,0M61.63,180.33a1.5,1.5 0 1,0 3,0a1.5,1.5 0 1,0 -3,0M62.38,173.41a1.5,1.5 0 1,0 3,0a1.5,1.5 0 1,0 -3,0M63.13,165.69a1.5,1.5 0 1,0 3,0a1.5,1.5 0 1,0 -3,0M63.89,158.25a1.5,1.5 0 1,0 3,0a1.5,1.5 0 1,0 -3,0M64.64,152.01a1.5,1.5 0 1,0 3,0a1.5,1.5 0 1,0 -3,0M65.39,148.07a1.5,1.5 0 1,0 3,0a1.5,1.5 0 1,0 -3,0M66.14,144.44a1.5,1.5 0 1,0 3,0a1.5,1.5 0 1,0 -3,0M66.89,142.12a1.5,1.5 0 1,0 3,0a1.5,1.5 0 1,0 -3,0M67.64,140.59a1.5,1.5 0 1,0 3,0a1.5,1.5 0 1,0 -3,0M68.39,140.24a1.5,1.5 0 1,0 3,0a1.5,1.5 0 1,0 -3,0M69.14,141.68a1.5,1.5 0 1,0 3,0a1.5,1.5 0 1,0 -3,0M69.89,143.7a1.5,1.5 0 1,0 3,0a1.5,1.5 0 1,0 -3,0M70.65,145.92a1.5,1.5 0 1,0 3,0a1.5,1.5 0 1,0 -3,0M71.4,149.08a1.5,1.5 0 1,0 3,0a1.5,1.5 0 1,0 -3,0M72.15,153.4a1.5,1.5 0 1,0 3,0a1.5,1.5 0 1,0 -3,0M72.9,156.76a1.5,1.5 0 1,0 3,0a1.5,1.5 0 1,0 -3,0M73.65,160.37a1.5,1.5 0 1,0 3,0a1.5,1.5 0 1,0 -3,0M74.4,164.63a1.5,1.5 0 1,0 3,0a1.5,1.5 0 1,0 -3,0M75.15,168.94a1.5,1.5 0 1,0 3,0a1.5,1.5 0 1,0 -3,0M75.9,173.27a1.5,1.5 0 1,0 3,0a1.5,1.5 0 1,0 -3,0M76.65,177.39a1.5,1.5 0 1,0 3,0a1.5,1.5 0 1,0 -3,0M77.41,180.95a1.5,1.5 0 1,0 3,0a1.5,1.5 0 1,0 -3,0M78.16,184.18a1.5,1.5 0 1,0 3,0a1.5,1.5 0 1,0 -3,0M78.91,187.17a1.5,1.5 0 1,0 3,0a1.5,1.5 0 1,0 -3,0M79.66,189.98a1.5,1.5 0 1,0 3,0a1.5,1.5 0 1,0 -3,0M80.41,192.54a1.5,1.5 0 1,0 3,0a1.5,1.5 0 1,0 -3,0M81.16,194.63a1.5,1.5 0 1,0 3,0a1.5,1.5 0 1,0 -3,0M81.91,196.41a1.5,1.5 0 1,0 3,0a1.5,1.5 0 1,0 -3,0M82.66,198.39a1.5,1.5 0 1,0 3,0a1.5,1.5 0 1,0 -3,0M83.42,200.49a1.5,1.5 0 1,0 3,0a1.5,1.5 0 1,0 -3,0M84.17,202.41a1.5,1.5 0 1,0 3,0a1.5,1.5 0 1,0 -3,0M84.92,204.06a1.5,1.5 0 1,0 3,0a1.5,1.5 0 1,0 -3,0M85.67,205.56a1.5,1.5 0 1,0 3,0a1.5,1.5 0 1,0 -3,0M86.42,206.91a1.5,1.5 0 1,0 3,0a1.5,1.5 0 1,0 -3,0M87.17,208.16a1.5,1.5 0 1,0 3,0a1.5,1.5 0 1,0 -3,0M87.92,209.32a1.5,1.5 0 1,0 3,0a1.5,1.5 0 1,0 -3,0M88.67,210.37a1.5,1.5 0 1,0 3,0a1.5,1.5 0 1,0 -3,0M89.42,211.3a1.5,1.5 0 1,0 3,0a1.5,1.5 0 1,0 -3,0M90.18,212.15a1.5,1.5 0 1,0 3,0a1.5,1.5 0 1,0 -3,0M90.93,212.94a1.5,1.5 0 1,0 3,0a1.5,1.5 0 1,0 -3,0M91.68,213.66a1.5,1.5 0 1,0 3,0a1.5,1.5 0 1,0 -3,0M92.43,214.28a1.5,1.5 0 1,0 3,0a1.5,1.5 0 1,0 -3,0M93.18,214.81a1.5,1.5 0 1,0 3,0a1.5,1.5 0 1,0 -3,0M93.93,215.29a1.5,1.5 0 1,0 3,0a1.5,1.5 0 1,0 -3,0M94.68,215.73a1.5,1.5 0 1,0 3,0a1.5,1.5 0 1,0 -3,0M95.43,216.13a1.5,1.5 0 1,0 3,0a1.5,1.5 0 1,0 -3,0M96.18,216.51a1.5,1.5 0 1,0 3,0a1.5,1.5 0 1,0 -3,0M96.94,216.86a1.5,1.5 0 1,0 3,0a1.5,1.5 0 1,0 -3,0M97.69,217.2a1.5,1.5 0 1,0 3,0a1.5,1.5 0 1,0 -3,0M98.44,217.52a1.5,1.5 0 1,0 3,0a1.5,1.5 0 1,0 -3,0M99.19,217.82a1.5,1.5 0 1,0 3,0a1.5,1.5 0 1,0 -3,0M99.94,218.09a1.5,1.5 0 1,0 3,0a1.5,1.5 0 1,0 -3,0M100.69,218.32a1.5,1.5 0 1,0 3,0a1.5,1.5 0 1,0 -3,0M101.44,218.51a1.5,1.5 0 1,0 3,0a1.5,1.5 0 1,0 -3,0M102.19,218.69a1.5,1.5 0 1,0 3,0a1.5,1.5 0 1,0 -3,0M102.94,218.87a1.5,1.5 0 1,0 3,0a1.5,1.5 0 1,0 -3,0M103.7,219.03a1.5,1.5 0 1,0 3,0a1.5,1.5 0 1,0 -3,0M104.45,219.16a1.5,1.5 0 1,0 3,0a1.5,1.5 0 1,0 -3,0M105.2,219.26a1.5,1.5 0 1,0 3,0a1.5,1.5 0 1,0 -3,0M105.95,219.32a1.5,1.5 0 1,0 3,0a1.5,1.5 0 1,0 -3,0M106.7,219.32a1.5,1.5 0 1,0 3,0a1.5,1.5 0 1,0 -3,0M107.45,219.28a1.5,1.5 0 1,0 3,0a1.5,1.5 0 1,0 -3,0M108.2,219.2a1.5,1.5 0 1,0 3,0a1.5,1.5 0 1,0 -3,0M108.95,219.09a1.5,1.5 0 1,0 3,0a1.5,1.5 0 1,0 -3,0M109.71,218.96a1.5,1.5 0 1,0 3,0a1.5,1.5 0 1,0 -3,0M110.46,218.82a1.5,1.5 0 1,0 3,0a1.5,1.5 0 1,0 -3,0M111.21,218.65a1.5,1.5 0 1,0 3,0a1.5,1.5 0 1,0 -3,0M111.96,218.38a1.5,1.5 0 1,0 3,0a1.5,1.5 0 1,0 -3,0M112.71,218.03a1.5,1.5 0 1,0 3,0a1.5,1.5 0 1,0 -3,0M113.46,217.62a1.5,1.5 0 1,0 3,0a1.5,1.5 0 1,0 -3,0M114.21,217.18a1.5,1.5 0 1,0 3,0a1.5,1.5 0 1,0 -3,0M114.96,216.72a1.5,1.5 0 1,0 3,0a1.5,1.5 0 1,0 -3,0M115.71,216.2a1.5,1.5 0 1,0 3,0a1.5,1.5 0 1,0 -3,0M116.47,215.63a1.5,1.5 0 1,0 3,0a1.5,1.5 0 1,0 -3,0M117.22,215a1.5,1.5 0 1,0 3,0a1.5,1.5 0 1,0 -3,0M117.97,214.35a1.5,1.5 0 1,0 3,0a1.5,1.5 0 1,0 -3,0M118.72,213.67a1.5,1.5 0 1,0 3,0a1.5,1.5 0 1,0 -3,0M119.47,212.98a1.5,1.5 0 1,0 3,0a1.5,1.5 0 1,0 -3,0M120.22,212.24a1.5,1.5 0 1,0 3,0a1.5,1.5 0 1,0 -3,0M120.97,211.44a1.5,1.5 0 1,0 3,0a1.5,1.5 0 1,0 -3,0M121.72,210.61a1.5,1.5 0 1,0 3,0a1.5,1.5 0 1,0 -3,0M122.47,209.78a1.5,1.5 0 1,0 3,0a1.5,1.5 0 1,0 -3,0M123.23,208.97a1.5,1.5 0 1,0 3,0a1.5,1.5 0 1,0 -3,0M123.98,208.2a1.5,1.5 0 1,0 3,0a1.5,1.5 0 1,0 -3,0M124.73,207.44a1.5,1.5 0 1,0 3,0a1.5,1.5 0 1,0 -3,0M125.48,206.69a1.5,1.5 0 1,0 3,0a1.5,1.5 0 1,0 -3,0M126.23,205.94a1.5,1.5 0 1,0 3,0a1.5,1.5 0 1,0 -3,0M126.98,205.2a1.5,1.5 0 1,0 3,0a1.5,1.5 0 1,0 -3,0M127.73,204.45a1.5,1.5 0 1,0 3,0a1.5,1.5 0 1,0 -3,0M128.48,203.67a1.5,1.5 0 1,0 3,0a1.5,1.5 0 1,0 -3,0M129.23,202.87a1.5,1.5 0 1,0 3,0a1.5,1.5 0 1,0 -3,0M129.99,202.09a1.5,1.5 0 1,0 3,0a1.5,1.5 0 1,0 -3,0M130.74,201.37a1.5,1.5 0 1,0 3,0a1.5,1.5 0 1,0 -3,0M131.49,200.74a1.5,1.5 0 1,0 3,0a1.5,1.5 0 1,0 -3,0M132.24,200.14a1.5,1.5 0 1,0 3,0a1.5,1.5 0 1,0 -3,0M132.99,199.57a1.5,1.5 0 1,0 3,0a1.5,1.5 0 1,0 -3,0M133.74,199.06a1.5,1.5 0 1,0 3,0a1.5,1.5 0 1,0 -3,0M134.49,198.66a1.5,1.5 0 1,0 3,0a1.5,1.5 0 1,0 -3,0M135.24,198.37a1.5,1.5 0 1,0 3,0a1.5,1.5 0 1,0 -3,0M136,198.1a1.5,1.5 0 1,0 3,0a1.5,1.5 0 1,0 -3,0M136.75,197.86a1.5,1.5 0 1,0 3,0a1.5,1.5 0 1,0 -3,0M137.5,197.64a1.5,1.5 0 1,0 3,0a1.5,1.5 0 1,0 -3,0M138.25,197.45a1.5,1.5 0 1,0 3,0a1.5,1.5 0 1,0 -3,0M139,197.32a1.5,1.5 0 1,0 3,0a1.5,1.5 0 1,0 -3,0M139.75,197.24a1.5,1.5 0 1,0 3,0a1.5,1.5 0 1,0 -3,0M140.5,197.22a1.5,1.5 0 1,0 3,0a1.5,1.5 0 1,0 -3,0M141.25,197.26a1.5,1.5 0 1,0 3,0a1.5,1.5 0 1,0 -3,0M142,197.35a1.5,1.5 0 1,0 3,0a1.5,1.5 0 1,0 -3,0M142.76,197.48a1.5,1.5 0 1,0 3,0a1.5,1.5 0 1,0 -3,0M143.51,197.63a1.5,1.5 0 1,0 3,0a1.5,1.5 0 1,0 -3,0M144.26,197.8a1.5,1.5 0 1,0 3,0a1.5,1.5 0 1,0 -3,0M145.01,197.98a1.5,1.5 0 1,0 3,0a1.5,1.5 0 1,0 -3,0M145.76,198.16a1.5,1.5 0 1,0 3,0a1.5,1.5 0 1,0 -3,0M146.51,198.38a1.5,1.5 0 1,0 3,0a1.5,1.5 0 1,0 -3,0M147.26,198.64a1.5,1.5 0 1,0 3,0a1.5,1.5 0 1,0 -3,0M148.01,198.93a1.5,1.5 0 1,0 3,0a1.5,1.5 0 1,0 -3,0M148.76,199.2a1.5,1.5 0 1,0 3,0a1.5,1.5 0 1,0 -3,0M149.52,199.5a1.5,1.5 0 1,0 3,0a1.5,1.5 0 1,0 -3,0M150.27,199.83a1.5,1.5 0 1,0 3,0a1.5,1.5 0 1,0 -3,0M151.02,200.17a1.5,1.5 0 1,0 3,0a1.5,1.5 0 1,0 -3,0M151.77,200.51a1.5,1.5 0 1,0 3,0a1.5,1.5 0 1,0 -3,0M152.52,200.81a1.5,1.5 0 1,0 3,0a1.5,1.5 0 1,0 -3,0M153.27,201.06a1.5,1.5 0 1,0 3,0a1.5,1.5 0 1,0 -3,0M154.02,201.26a1.5,1.5 0 1,0 3,0a1.5,1.5 0 1,0 -3,0M154.77,201.37a1.5,1.5 0 1,0 3,0a1.5,1.5 0 1,0 -3,0M155.52,201.46a1.5,1.5 0 1,0 3,0a1.5,1.5 0 1,0 -3,0M156.28,201.55a1.5,1.5 0 1,0 3,0a1.5,1.5 0 1,0 -3,0M157.03,201.63a1.5,1.5 0 1,0 3,0a1.5,1.5 0 1,0 -3,0M157.78,201.69a1.5,1.5 0 1,0 3,0a1.5,1.5 0 1,0 -3,0M158.53,201.75a1.5,1.5 0 1,0 3,0a1.5,1.5 0 1,0 -3,0M159.28,201.79a1.5,1.5 0 1,0 3,0a1.5,1.5 0 1,0 -3,0M160.03,201.81a1.5,1.5 0 1,0 3,0a1.5,1.5 0 1,0 -3,0M160.78,201.81a1.5,1.5 0 1,0 3,0a1.5,1.5 0 1,0 -3,0M161.53,201.8a1.5,1.5 0 1,0 3,0a1.5,1.5 0 1,0 -3,0M162.29,201.78a1.5,1.5 0 1,0 3,0a1.5,1.5 0 1,0 -3,0M163.04,201.76a1.5,1.5 0 1,0 3,0a1.5,1.5 0 1,0 -3,0M163.79,201.73a1.5,1.5 0 1,0 3,0a1.5,1.5 0 1,0 -3,0M164.54,201.71a1.5,1.5 0 1,0 3,0a1.5,1.5 0 1,0 -3,0M165.29,201.69a1.5,1.5 0 1,0 3,0a1.5,1.5 0 1,0 -3,0M166.04,201.68a1.5,1.5 0 1,0 3,0a1.5,1.5 0 1,0 -3,0M166.79,201.68a1.5,1.5 0 1,0 3,0a1.5,1.5 0 1,0 -3,0M167.54,201.7a1.5,1.5 0 1,0 3,0a1.5,1.5 0 1,0 -3,0M168.29,201.74a1.5,1.5 0 1,0 3,0a1.5,1.5 0 1,0 -3,0M169.05,201.79a1.5,1.5 0 1,0 3,0a1.5,1.5 0 1,0 -3,0M169.8,201.86a1.5,1.5 0 1,0 3,0a1.5,1.5 0 1,0 -3,0M170.55,201.93a1.5,1.5 0 1,0 3,0a1.5,1.5 0 1,0 -3,0M171.3,202.02a1.5,1.5 0 1,0 3,0a1.5,1.5 0 1,0 -3,0M172.05,202.13a1.5,1.5 0 1,0 3,0a1.5,1.5 0 1,0 -3,0M172.8,202.28a1.5,1.5 0 1,0 3,0a1.5,1.5 0 1,0 -3,0M173.55,202.46a1.5,1.5 0 1,0 3,0a1.5,1.5 0 1,0 -3,0M174.3,202.67a1.5,1.5 0 1,0 3,0a1.5,1.5 0 1,0 -3,0M175.05,202.88a1.5,1.5 0 1,0 3,0a1.5,1.5 0 1,0 -3,0M175.81,203.1a1.5,1.5 0 1,0 3,0a1.5,1.5 0 1,0 -3,0M176.56,203.34a1.5,1.5 0 1,0 3,0a1.5,1.5 0 1,0 -3,0M177.31,203.62a1.5,1.5 0 1,0 3,0a1.5,1.5 0 1,0 -3,0M178.06,203.9a1.5,1.5 0 1,0 3,0a1.5,1.5 0 1,0 -3,0M178.81,204.18a1.5,1.5 0 1,0 3,0a1.5,1.5 0 1,0 -3,0M179.56,204.45a1.5,1.5 0 1,0 3,0a1.5,1.5 0 1,0 -3,0M180.31,204.69a1.5,1.5 0 1,0 3,0a1.5,1.5 0 1,0 -3,0M181.06,204.93a1.5,1.5 0 1,0 3,0a1.5,1.5 0 1,0 -3,0M181.81,205.15a1.5,1.5 0 1,0 3,0a1.5,1.5 0 1,0 -3,0M182.57,205.38a1.5,1.5 0 1,0 3,0a1.5,1.5 0 1,0 -3,0M183.32,205.61a1.5,1.5 0 1,0 3,0a1.5,1.5 0 1,0 -3,0M184.07,205.85a1.5,1.5 0 1,0 3,0a1.5,1.5 0 1,0 -3,0M184.82,206.11a1.5,1.5 0 1,0 3,0a1.5,1.5 0 1,0 -3,0M185.57,206.4a1.5,1.5 0 1,0 3,0a1.5,1.5 0 1,0 -3,0M186.32,206.7a1.5,1.5 0 1,0 3,0a1.5,1.5 0 1,0 -3,0M187.07,207a1.5,1.5 0 1,0 3,0a1.5,1.5 0 1,0 -3,0M187.82,207.28a1.5,1.5 0 1,0 3,0a1.5,1.5 0 1,0 -3,0M188.58,207.52a1.5,1.5 0 1,0 3,0a1.5,1.5 0 1,0 -3,0M189.33,207.76a1.5,1.5 0 1,0 3,0a1.5,1.5 0 1,0 -3,0M190.08,207.99a1.5,1.5 0 1,0 3,0a1.5,1.5 0 1,0 -3,0M190.83,208.19a1.5,1.5 0 1,0 3,0a1.5,1.5 0 1,0 -3,0M191.58,208.36a1.5,1.5 0 1,0 3,0a1.5,1.5 0 1,0 -3,0M192.33,208.46a1.5,1.5 0 1,0 3,0a1.5,1.5 0 1,0 -3,0M193.08,208.53a1.5,1.5 0 1,0 3,0a1.5,1.5 0 1,0 -3,0M193.83,208.59a1.5,1.5 0 1,0 3,0a1.5,1.5 0 1,0 -3,0M194.58,208.64a1.5,1.5 0 1,0 3,0a1.5,1.5 0 1,0 -3,0M195.34,208.69a1.5,1.5 0 1,0 3,0a1.5,1.5 0 1,0 -3,0M196.09,208.72a1.5,1.5 0 1,0 3,0a1.5,1.5 0 1,0 -3,0M196.84,208.75a1.5,1.5 0 1,0 3,0a1.5,1.5 0 1,0 -3,0M197.59,208.76a1.5,1.5 0 1,0 3,0a1.5,1.5 0 1,0 -3,0M198.34,208.77a1.5,1.5 0 1,0 3,0a1.5,1.5 0 1,0 -3,0M199.09,208.73a1.5,1.5 0 1,0 3,0a1.5,1.5 0 1,0 -3,0M199.84,208.67a1.5,1.5 0 1,0 3,0a1.5,1.5 0 1,0 -3,0M200.59,208.58a1.5,1.5 0 1,0 3,0a1.5,1.5 0 1,0 -3,0M201.34,208.47a1.5,1.5 0 1,0 3,0a1.5,1.5 0 1,0 -3,0M202.1,208.33a1.5,1.5 0 1,0 3,0a1.5,1.5 0 1,0 -3,0M202.85,208.18a1.5,1.5 0 1,0 3,0a1.5,1.5 0 1,0 -3,0M203.6,208.02a1.5,1.5 0 1,0 3,0a1.5,1.5 0 1,0 -3,0M204.35,207.85a1.5,1.5 0 1,0 3,0a1.5,1.5 0 1,0 -3,0M205.1,207.68a1.5,1.5 0 1,0 3,0a1.5,1.5 0 1,0 -3,0M205.85,207.51a1.5,1.5 0 1,0 3,0a1.5,1.5 0 1,0 -3,0M206.6,207.35a1.5,1.5 0 1,0 3,0a1.5,1.5 0 1,0 -3,0M207.35,207.19a1.5,1.5 0 1,0 3,0a1.5,1.5 0 1,0 -3,0M208.1,207.01a1.5,1.5 0 1,0 3,0a1.5,1.5 0 1,0 -3,0M208.86,206.82a1.5,1.5 0 1,0 3,0a1.5,1.5 0 1,0 -3,0M209.61,206.62a1.5,1.5 0 1,0 3,0a1.5,1.5 0 1,0 -3,0M210.36,206.41a1.5,1.5 0 1,0 3,0a1.5,1.5 0 1,0 -3,0M211.11,206.2a1.5,1.5 0 1,0 3,0a1.5,1.5 0 1,0 -3,0M211.86,206a1.5,1.5 0 1,0 3,0a1.5,1.5 0 1,0 -3,0M212.61,205.8a1.5,1.5 0 1,0 3,0a1.5,1.5 0 1,0 -3,0M213.36,205.62a1.5,1.5 0 1,0 3,0a1.5,1.5 0 1,0 -3,0M214.11,205.43a1.5,1.5 0 1,0 3,0a1.5,1.5 0 1,0 -3,0M214.87,205.25a1.5,1.5 0 1,0 3,0a1.5,1.5 0 1,0 -3,0M215.62,205.06a1.5,1.5 0 1,0 3,0a1.5,1.5 0 1,0 -3,0M216.37,204.88a1.5,1.5 0 1,0 3,0a1.5,1.5 0 1,0 -3,0M217.12,204.71a1.5,1.5 0 1,0 3,0a1.5,1.5 0 1,0 -3,0M217.87,204.54a1.5,1.5 0 1,0 3,0a1.5,1.5 0 1,0 -3,0M218.62,204.38a1.5,1.5 0 1,0 3,0a1.5,1.5 0 1,0 -3,0M219.37,204.23a1.5,1.5 0 1,0 3,0a1.5,1.5 0 1,0 -3,0M220.12,204.07a1.5,1.5 0 1,0 3,0a1.5,1.5 0 1,0 -3,0M220.87,203.91a1.5,1.5 0 1,0 3,0a1.5,1.5 0 1,0 -3,0M221.63,203.77a1.5,1.5 0 1,0 3,0a1.5,1.5 0 1,0 -3,0M222.38,203.64a1.5,1.5 0 1,0 3,0a1.5,1.5 0 1,0 -3,0M223.13,203.53a1.5,1.5 0 1,0 3,0a1.5,1.5 0 1,0 -3,0M223.88,203.44a1.5,1.5 0 1,0 3,0a1.5,1.5 0 1,0 -3,0M224.63,203.36a1.5,1.5 0 1,0 3,0a1.5,1.5 0 1,0 -3,0M225.38,203.27a1.5,1.5 0 1,0 3,0a1.5,1.5 0 1,0 -3,0M226.13,203.19a1.5,1.5 0 1,0 3,0a1.5,1.5 0 1,0 -3,0M226.88,203.11a1.5,1.5 0 1,0 3,0a1.5,1.5 0 1,0 -3,0M227.63,203.03a1.5,1.5 0 1,0 3,0a1.5,1.5 0 1,0 -3,0M228.39,202.96a1.5,1.5 0 1,0 3,0a1.5,1.5 0 1,0 -3,0M229.14,202.9a1.5,1.5 0 1,0 3,0a1.5,1.5 0 1,0 -3,0M229.89,202.84a1.5,1.5 0 1,0 3,0a1.5,1.5 0 1,0 -3,0M230.64,202.79a1.5,1.5 0 1,0 3,0a1.5,1.5 0 1,0 -3,0M231.39,202.75a1.5,1.5 0 1,0 3,0a1.5,1.5 0 1,0 -3,0M232.14,202.72a1.5,1.5 0 1,0 3,0a1.5,1.5 0 1,0 -3,0M232.89,202.71a1.5,1.5 0 1,0 3,0a1.5,1.5 0 1,0 -3,0M233.64,202.7a1.5,1.5 0 1,0 3,0a1.5,1.5 0 1,0 -3,0M234.39,202.7a1.5,1.5 0 1,0 3,0a1.5,1.5 0 1,0 -3,0M235.15,202.7a1.5,1.5 0 1,0 3,0a1.5,1.5 0 1,0 -3,0M235.9,202.7a1.5,1.5 0 1,0 3,0a1.5,1.5 0 1,0 -3,0M236.65,202.7a1.5,1.5 0 1,0 3,0a1.5,1.5 0 1,0 -3,0M237.4,202.7a1.5,1.5 0 1,0 3,0a1.5,1.5 0 1,0 -3,0M238.15,202.7a1.5,1.5 0 1,0 3,0a1.5,1.5 0 1,0 -3,0M238.9,202.7a1.5,1.5 0 1,0 3,0a1.5,1.5 0 1,0 -3,0M239.65,202.7a1.5,1.5 0 1,0 3,0a1.5,1.5 0 1,0 -3,0M240.4,202.7a1.5,1.5 0 1,0 3,0a1.5,1.5 0 1,0 -3,0M241.16,202.7a1.5,1.5 0 1,0 3,0a1.5,1.5 0 1,0 -3,0M241.91,202.7a1.5,1.5 0 1,0 3,0a1.5,1.5 0 1,0 -3,0M242.66,202.7a1.5,1.5 0 1,0 3,0a1.5,1.5 0 1,0 -3,0M243.41,202.72a1.5,1.5 0 1,0 3,0a1.5,1.5 0 1,0 -3,0M244.16,202.74a1.5,1.5 0 1,0 3,0a1.5,1.5 0 1,0 -3,0M244.91,202.77a1.5,1.5 0 1,0 3,0a1.5,1.5 0 1,0 -3,0M245.66,202.8a1.5,1.5 0 1,0 3,0a1.5,1.5 0 1,0 -3,0M246.41,202.85a1.5,1.5 0 1,0 3,0a1.5,1.5 0 1,0 -3,0M247.16,202.89a1.5,1.5 0 1,0 3,0a1.5,1.5 0 1,0 -3,0M247.92,202.95a1.5,1.5 0 1,0 3,0a1.5,1.5 0 1,0 -3,0M248.67,203a1.5,1.5 0 1,0 3,0a1.5,1.5 0 1,0 -3,0M249.42,203.06a1.5,1.5 0 1,0 3,0a1.5,1.5 0 1,0 -3,0M250.17,203.12a1.5,1.5 0 1,0 3,0a1.5,1.5 0 1,0 -3,0M250.92,203.18a1.5,1.5 0 1,0 3,0a1.5,1.5 0 1,0 -3,0M251.67,203.25a1.5,1.5 0 1,0 3,0a1.5,1.5 0 1,0 -3,0M252.42,203.31a1.5,1.5 0 1,0 3,0a1.5,1.5 0 1,0 -3,0M253.17,203.36a1.5,1.5 0 1,0 3,0a1.5,1.5 0 1,0 -3,0M253.92,203.42a1.5,1.5 0 1,0 3,0a1.5,1.5 0 1,0 -3,0M254.68,203.49a1.5,1.5 0 1,0 3,0a1.5,1.5 0 1,0 -3,0M255.43,203.56a1.5,1.5 0 1,0 3,0a1.5,1.5 0 1,0 -3,0M256.18,203.63a1.5,1.5 0 1,0 3,0a1.5,1.5 0 1,0 -3,0M256.93,203.71a1.5,1.5 0 1,0 3,0a1.5,1.5 0 1,0 -3,0M257.68,203.78a1.5,1.5 0 1,0 3,0a1.5,1.5 0 1,0 -3,0M258.43,203.85a1.5,1.5 0 1,0 3,0a1.5,1.5 0 1,0 -3,0M259.18,203.91a1.5,1.5 0 1,0 3,0a1.5,1.5 0 1,0 -3,0M259.93,203.98a1.5,1.5 0 1,0 3,0a1.5,1.5 0 1,0 -3,0M260.68,204.05a1.5,1.5 0 1,0 3,0a1.5,1.5 0 1,0 -3,0M261.44,204.13a1.5,1.5 0 1,0 3,0a1.5,1.5 0 1,0 -3,0M262.19,204.2a1.5,1.5 0 1,0 3,0a1.5,1.5 0 1,0 -3,0M262.94,204.27a1.5,1.5 0 1,0 3,0a1.5,1.5 0 1,0 -3,0M263.69,204.35a1.5,1.5 0 1,0 3,0a1.5,1.5 0 1,0 -3,0M264.44,204.42a1.5,1.5 0 1,0 3,0a1.5,1.5 0 1,0 -3,0M265.19,204.49a1.5,1.5 0 1,0 3,0a1.5,1.5 0 1,0 -3,0M265.94,204.56a1.5,1.5 0 1,0 3,0a1.5,1.5 0 1,0 -3,0M266.69,204.63a1.5,1.5 0 1,0 3,0a1.5,1.5 0 1,0 -3,0M267.45,204.7a1.5,1.5 0 1,0 3,0a1.5,1.5 0 1,0 -3,0M268.2,204.76a1.5,1.5 0 1,0 3,0a1.5,1.5 0 1,0 -3,0M268.95,204.82a1.5,1.5 0 1,0 3,0a1.5,1.5 0 1,0 -3,0M269.7,204.88a1.5,1.5 0 1,0 3,0a1.5,1.5 0 1,0 -3,0M270.45,204.94a1.5,1.5 0 1,0 3,0a1.5,1.5 0 1,0 -3,0M271.2,204.99a1.5,1.5 0 1,0 3,0a1.5,1.5 0 1,0 -3,0M271.95,205.04a1.5,1.5 0 1,0 3,0a1.5,1.5 0 1,0 -3,0M272.7,205.09a1.5,1.5 0 1,0 3,0a1.5,1.5 0 1,0 -3,0M273.45,205.12a1.5,1.5 0 1,0 3,0a1.5,1.5 0 1,0 -3,0M274.21,205.16a1.5,1.5 0 1,0 3,0a1.5,1.5 0 1,0 -3,0M274.96,205.19a1.5,1.5 0 1,0 3,0a1.5,1.5 0 1,0 -3,0M275.71,205.22a1.5,1.5 0 1,0 3,0a1.5,1.5 0 1,0 -3,0M276.46,205.25a1.5,1.5 0 1,0 3,0a1.5,1.5 0 1,0 -3,0M277.21,205.28a1.5,1.5 0 1,0 3,0a1.5,1.5 0 1,0 -3,0M277.96,205.3a1.5,1.5 0 1,0 3,0a1.5,1.5 0 1,0 -3,0M278.71,205.33a1.5,1.5 0 1,0 3,0a1.5,1.5 0 1,0 -3,0M279.46,205.36a1.5,1.5 0 1,0 3,0a1.5,1.5 0 1,0 -3,0M280.21,205.38a1.5,1.5 0 1,0 3,0a1.5,1.5 0 1,0 -3,0M280.97,205.4a1.5,1.5 0 1,0 3,0a1.5,1.5 0 1,0 -3,0M281.72,205.43a1.5,1.5 0 1,0 3,0a1.5,1.5 0 1,0 -3,0M282.47,205.45a1.5,1.5 0 1,0 3,0a1.5,1.5 0 1,0 -3,0M283.22,205.46a1.5,1.5 0 1,0 3,0a1.5,1.5 0 1,0 -3,0M283.97,205.48a1.5,1.5 0 1,0 3,0a1.5,1.5 0 1,0 -3,0M284.72,205.49a1.5,1.5 0 1,0 3,0a1.5,1.5 0 1,0 -3,0M285.47,205.5a1.5,1.5 0 1,0 3,0a1.5,1.5 0 1,0 -3,0M286.22,205.51a1.5,1.5 0 1,0 3,0a1.5,1.5 0 1,0 -3,0M286.97,205.51a1.5,1.5 0 1,0 3,0a1.5,1.5 0 1,0 -3,0M287.73,205.51a1.5,1.5 0 1,0 3,0a1.5,1.5 0 1,0 -3,0M288.48,205.51a1.5,1.5 0 1,0 3,0a1.5,1.5 0 1,0 -3,0M289.23,205.5a1.5,1.5 0 1,0 3,0a1.5,1.5 0 1,0 -3,0M289.98,205.49a1.5,1.5 0 1,0 3,0a1.5,1.5 0 1,0 -3,0M290.73,205.48a1.5,1.5 0 1,0 3,0a1.5,1.5 0 1,0 -3,0M291.48,205.46a1.5,1.5 0 1,0 3,0a1.5,1.5 0 1,0 -3,0M292.23,205.44a1.5,1.5 0 1,0 3,0a1.5,1.5 0 1,0 -3,0M292.98,205.42a1.5,1.5 0 1,0 3,0a1.5,1.5 0 1,0 -3,0M293.74,205.39a1.5,1.5 0 1,0 3,0a1.5,1.5 0 1,0 -3,0M294.49,205.36a1.5,1.5 0 1,0 3,0a1.5,1.5 0 1,0 -3,0M295.24,205.33a1.5,1.5 0 1,0 3,0a1.5,1.5 0 1,0 -3,0M295.99,205.3a1.5,1.5 0 1,0 3,0a1.5,1.5 0 1,0 -3,0M296.74,205.26a1.5,1.5 0 1,0 3,0a1.5,1.5 0 1,0 -3,0M297.49,205.22a1.5,1.5 0 1,0 3,0a1.5,1.5 0 1,0 -3,0M298.24,205.17a1.5,1.5 0 1,0 3,0a1.5,1.5 0 1,0 -3,0M298.99,205.13a1.5,1.5 0 1,0 3,0a1.5,1.5 0 1,0 -3,0M299.74,205.08a1.5,1.5 0 1,0 3,0a1.5,1.5 0 1,0 -3,0M300.5,205.03a1.5,1.5 0 1,0 3,0a1.5,1.5 0 1,0 -3,0M301.25,204.97a1.5,1.5 0 1,0 3,0a1.5,1.5 0 1,0 -3,0M302,204.91a1.5,1.5 0 1,0 3,0a1.5,1.5 0 1,0 -3,0M302.75,204.85a1.5,1.5 0 1,0 3,0a1.5,1.5 0 1,0 -3,0M303.5,204.79a1.5,1.5 0 1,0 3,0a1.5,1.5 0 1,0 -3,0" fill="#000"/><path d="M42.3,180.08 44.7,181.6 47.1,187.03 49.5,186.33 51.9,189.05 54.3,192.37 56.7,197.37 59.1,199.34 61.5,198.74 63.9,199.51 66.3,200.08 68.7,201.89 71.1,203.37 73.5,202.34 75.9,202.2 78.3,200.39 80.7,198.54 83.1,197.84 85.5,199.59 87.9,201.52 90.3,201.34 92.7,202.59 95.1,201.32 97.5,202.26 99.9,205.48 102.3,204.3 104.7,202.86 107.1,203.75 109.5,201.96 111.9,203.5 114.3,205.23 116.7,206.3 119.1,205.36 121.5,208.84 123.9,206.82 126.3,208.46 128.7,207.97 131.1,205.97 133.5,207.71 135.9,208.17 138.3,206.92 140.7,207.58 143.1,210.03 145.5,207.28 147.9,206.81 150.3,207.36 152.7,206.12 155.1,208.67 157.5,207.51 159.9,206.61 162.3,207.16 164.7,210.23 167.1,206.43 169.5,205.75 171.9,206.42 174.3,206.57 176.7,206.45 179.1,205.55 181.5,205.26 183.9,207.2 186.3,206.34 188.7,204.73 191.1,208.19 193.5,207.6 195.9,206.22 198.3,206.09 200.7,206.79 203.1,206.1 205.5,205.76 207.9,207.99 210.3,205.63 212.7,207.27 215.1,204.54 217.5,205.98 219.9,206.01 222.3,208.43 224.7,205.11 227.1,204.69 229.5,205.56 231.9,204.88 234.3,205.41 236.7,206.52 239.1,206.81 241.5,207.68 243.9,204.22 246.3,206.95 248.7,206.5 251.1,204.28 253.5,202.4 255.9,204.95 258.3,204.72 260.7,201.37 263.1,203.03 265.5,201.3 267.9,201.34" fill="none" stroke="#f00" stroke-width="0.8"/><path d="M42.3,177.78 42.98,179.14 44.49,179.36 43.39,180.43 43.65,181.94 42.3,181.23 40.95,181.94 41.21,180.43 40.11,179.36 41.62,179.14ZM44.7,179.3 45.38,180.67 46.89,180.89 45.79,181.96 46.05,183.46 44.7,182.75 43.35,183.46 43.61,181.96 42.51,180.89 44.02,180.67ZM47.1,184.73 47.78,186.1 49.29,186.32 48.19,187.39 48.45,188.89 47.1,188.18 45.75,188.89 46.01,187.39 44.91,186.32 46.42,186.1ZM49.5,184.03 50.18,185.4 51.69,185.62 50.59,186.69 50.85,188.19 49.5,187.48 48.15,188.19 48.41,186.69 47.31,185.62 48.82,185.4ZM51.9,186.75 52.58,188.12 54.09,188.34 52.99,189.4 53.25,190.91 51.9,190.2 50.55,190.91 50.81,189.4 49.71,188.34 51.22,188.12ZM54.3,190.07 54.98,191.44 56.49,191.66 55.39,192.72 55.65,194.23 54.3,193.52 52.95,194.23 53.21,192.72 52.11,191.66 53.62,191.44ZM56.7,195.07 57.38,196.44 58.89,196.66 57.79,197.73 58.05,199.23 56.7,198.52 55.35,199.23 55.61,197.73 54.51,196.66 56.02,196.44ZM59.1,197.04 59.78,198.41 61.29,198.63 60.19,199.7 60.45,201.2 59.1,200.49 57.75,201.2 58.01,199.7 56.91,198.63 58.42,198.41ZM61.5,196.44 62.18,197.81 63.69,198.03 62.59,199.1 62.85,200.6 61.5,199.89 60.15,200.6 60.41,199.1 59.31,198.03 60.82,197.81ZM63.9,197.21 64.58,198.58 66.09,198.8 64.99,199.87 65.25,201.37 63.9,200.66 62.55,201.37 62.81,199.87 61.71,198.8 63.22,198.58ZM66.3,197.78 66.98,199.15 68.49,199.37 67.39,200.43 67.65,201.94 66.3,201.23 64.95,201.94 65.21,200.43 64.11,199.37 65.62,199.15ZM68.7,199.59 69.38,200.96 70.89,201.18 69.79,202.25 70.05,203.75 68.7,203.04 67.35,203.75 67.61,202.25 66.51,201.18 68.02,200.96ZM71.1,201.07 71.78,202.44 73.29,202.66 72.19,203.73 72.45,205.23 71.1,204.52 69.75,205.23 70.01,203.73 68.91,202.66 70.42,202.44ZM73.5,200.04 74.18,201.41 75.69,201.63 74.59,202.69 74.85,204.2 73.5,203.49 72.15,204.2 72.41,202.69 71.31,201.63 72.82,201.41ZM75.9,199.9 76.58,201.27 78.09,201.49 76.99,202.56 77.25,204.06 75.9,203.35 74.55,204.06 74.81,202.56 73.71,201.49 75.22,201.27ZM78.3,198.09 78.98,199.46 80.49,199.68 79.39,200.75 79.65,202.26 78.3,201.54 76.95,202.26 77.21,200.75 76.11,199.68 77.62,199.46ZM80.7,196.24 81.38,197.61 82.89,197.83 81.79,198.9 82.05,200.4 80.7,199.69 79.35,200.4 79.61,198.9 78.51,197.83 80.02,197.61ZM83.1,195.54 83.78,196.91 85.29,197.13 84.19,198.2 84.45,199.7 83.1,198.99 81.75,199.7 82.01,198.2 80.91,197.13 82.42,196.91ZM85.5,197.29 86.18,198.66 87.69,198.88 86.59,199.94 86.85,201.45 85.5,200.74 84.15,201.45 84.41,199.94 83.31,198.88 84.82,198.66ZM87.9,199.22 88.58,200.59 90.09,200.81 88.99,201.87 89.25,203.38 87.9,202.67 86.55,203.38 86.81,201.87 85.71,200.81 87.22,200.59ZM90.3,199.04 90.98,200.41 92.49,200.63 91.39,201.69 91.65,203.2 90.3,202.49 88.95,203.2 89.21,201.69 88.11,200.63 89.62,200.41ZM92.7,200.29 93.38,201.66 94.89,201.88 93.79,202.95 94.05,204.45 92.7,203.74 91.35,204.45 91.61,202.95 90.51,201.88 92.02,201.66ZM95.1,199.02 95.78,200.39 97.29,200.61 96.19,201.67 96.45,203.18 95.1,202.47 93.75,203.18 94.01,201.67 92.91,200.61 94.42,200.39ZM97.5,199.96 98.18,201.33 99.69,201.55 98.59,202.62 98.85,204.12 97.5,203.41 96.15,204.12 96.41,202.62 95.31,201.55 96.82,201.33ZM99.9,203.18 100.58,204.55 102.09,204.77 100.99,205.83 101.25,207.34 99.9,206.63 98.55,207.34 98.81,205.83 97.71,204.77 99.22,204.55ZM102.3,202 102.98,203.37 104.49,203.59 103.39,204.66 103.65,206.16 102.3,205.45 100.95,206.16 101.21,204.66 100.11,203.59 101.62,203.37ZM104.7,200.56 105.38,201.93 106.89,202.15 105.79,203.21 106.05,204.72 104.7,204.01 103.35,204.72 103.61,203.21 102.51,202.15 104.02,201.93ZM107.1,201.45 107.78,202.82 109.29,203.04 108.19,204.11 108.45,205.61 107.1,204.9 105.75,205.61 106.01,204.11 104.91,203.04 106.42,202.82ZM109.5,199.66 110.18,201.03 111.69,201.25 110.59,202.31 110.85,203.82 109.5,203.11 108.15,203.82 108.41,202.31 107.31,201.25 108.82,201.03ZM111.9,201.2 112.58,202.57 114.09,202.78 112.99,203.85 113.25,205.36 111.9,204.65 110.55,205.36 110.81,203.85 109.71,202.78 111.22,202.57ZM114.3,202.93 114.98,204.3 116.49,204.52 115.39,205.59 115.65,207.09 114.3,206.38 112.95,207.09 113.21,205.59 112.11,204.52 113.62,204.3ZM116.7,204 117.38,205.37 118.89,205.59 117.79,206.65 118.05,208.16 116.7,207.45 115.35,208.16 115.61,206.65 114.51,205.59 116.02,205.37ZM119.1,203.06 119.78,204.43 121.29,204.65 120.19,205.72 120.45,207.22 119.1,206.51 117.75,207.22 118.01,205.72 116.91,204.65 118.42,204.43ZM121.5,206.54 122.18,207.91 123.69,208.13 122.59,209.19 122.85,210.7 121.5,209.99 120.15,210.7 120.41,209.19 119.31,208.13 120.82,207.91ZM123.9,204.52 124.58,205.88 126.09,206.1 124.99,207.17 125.25,208.68 123.9,207.97 122.55,208.68 122.81,207.17 121.71,206.1 123.22,205.88ZM126.3,206.16 126.98,207.53 128.49,207.75 127.39,208.82 127.65,210.32 126.3,209.61 124.95,210.32 125.21,208.82 124.11,207.75 125.62,207.53ZM128.7,205.67 129.38,207.04 130.89,207.26 129.79,208.33 130.05,209.83 128.7,209.12 127.35,209.83 127.61,208.33 126.51,207.26 128.02,207.04ZM131.1,203.67 131.78,205.03 133.29,205.25 132.19,206.32 132.45,207.83 131.1,207.12 129.75,207.83 130.01,206.32 128.91,205.25 130.42,205.03ZM133.5,205.41 134.18,206.78 135.69,207 134.59,208.07 134.85,209.57 133.5,208.86 132.15,209.57 132.41,208.07 131.31,207 132.82,206.78ZM135.9,205.87 136.58,207.24 138.09,207.46 136.99,208.52 137.25,210.03 135.9,209.32 134.55,210.03 134.81,208.52 133.71,207.46 135.22,207.24ZM138.3,204.62 138.98,205.99 140.49,206.21 139.39,207.28 139.65,208.78 138.3,208.07 136.95,208.78 137.21,207.28 136.11,206.21 137.62,205.99ZM140.7,205.28 141.38,206.65 142.89,206.87 141.79,207.93 142.05,209.44 140.7,208.73 139.35,209.44 139.61,207.93 138.51,206.87 140.02,206.65ZM143.1,207.73 143.78,209.1 145.29,209.32 144.19,210.39 144.45,211.89 143.1,211.18 141.75,211.89 142.01,210.39 140.91,209.32 142.42,209.1ZM145.5,204.98 146.18,206.35 147.69,206.57 146.59,207.64 146.85,209.15 145.5,208.43 144.15,209.15 144.41,207.64 143.31,206.57 144.82,206.35ZM147.9,204.51 148.58,205.88 150.09,206.1 148.99,207.16 149.25,208.67 147.9,207.96 146.55,208.67 146.81,207.16 145.71,206.1 147.22,205.88ZM150.3,205.06 150.98,206.43 152.49,206.65 151.39,207.72 151.65,209.22 150.3,208.51 148.95,209.22 149.21,207.72 148.11,206.65 149.62,206.43ZM152.7,203.82 153.38,205.18 154.89,205.4 153.79,206.47 154.05,207.98 152.7,207.27 151.35,207.98 151.61,206.47 150.51,205.4 152.02,205.18ZM155.1,206.37 155.78,207.74 157.29,207.96 156.19,209.02 156.45,210.53 155.1,209.82 153.75,210.53 154.01,209.02 152.91,207.96 154.42,207.74ZM157.5,205.21 158.18,206.58 159.69,206.8 158.59,207.87 158.85,209.37 157.5,208.66 156.15,209.37 156.41,207.87 155.31,206.8 156.82,206.58ZM159.9,204.31 160.58,205.68 162.09,205.9 160.99,206.96 161.25,208.47 159.9,207.76 158.55,208.47 158.81,206.96 157.71,205.9 159.22,205.68ZM162.3,204.86 162.98,206.23 164.49,206.45 163.39,207.51 163.65,209.02 162.3,208.31 160.95,209.02 161.21,207.51 160.11,206.45 161.62,206.23ZM164.7,207.93 165.38,209.3 166.89,209.52 165.79,210.59 166.05,212.09 164.7,211.38 163.35,212.09 163.61,210.59 162.51,209.52 164.02,209.3ZM167.1,204.13 167.78,205.5 169.29,205.72 168.19,206.79 168.45,208.29 167.1,207.58 165.75,208.29 166.01,206.79 164.91,205.72 166.42,205.5ZM169.5,203.45 170.18,204.82 171.69,205.04 170.59,206.11 170.85,207.61 169.5,206.9 168.15,207.61 168.41,206.11 167.31,205.04 168.82,204.82ZM171.9,204.12 172.58,205.49 174.09,205.71 172.99,206.78 173.25,208.28 171.9,207.57 170.55,208.28 170.81,206.78 169.71,205.71 171.22,205.49ZM174.3,204.27 174.98,205.64 176.49,205.86 175.39,206.93 175.65,208.43 174.3,207.72 172.95,208.43 173.21,206.93 172.11,205.86 173.62,205.64ZM176.7,204.15 177.38,205.52 178.89,205.74 177.79,206.8 178.05,208.31 176.7,207.6 175.35,208.31 175.61,206.8 174.51,205.74 176.02,205.52ZM179.1,203.25 179.78,204.62 181.29,204.84 180.19,205.91 180.45,207.42 179.1,206.7 177.75,207.42 178.01,205.91 176.91,204.84 178.42,204.62ZM181.5,202.96 182.18,204.33 183.69,204.55 182.59,205.62 182.85,207.12 181.5,206.41 180.15,207.12 180.41,205.62 179.31,204.55 180.82,204.33ZM183.9,204.9 184.58,206.27 186.09,206.49 184.99,207.56 185.25,209.06 183.9,208.35 182.55,209.06 182.81,207.56 181.71,206.49 183.22,206.27ZM186.3,204.04 186.98,205.41 188.49,205.63 187.39,206.7 187.65,208.2 186.3,207.49 184.95,208.2 185.21,206.7 184.11,205.63 185.62,205.41ZM188.7,202.43 189.38,203.8 190.89,204.02 189.79,205.09 190.05,206.59 188.7,205.88 187.35,206.59 187.61,205.09 186.51,204.02 188.02,203.8ZM191.1,205.89 191.78,207.26 193.29,207.48 192.19,208.54 192.45,210.05 191.1,209.34 189.75,210.05 190.01,208.54 188.91,207.48 190.42,207.26ZM193.5,205.3 194.18,206.67 195.69,206.89 194.59,207.95 194.85,209.46 193.5,208.75 192.15,209.46 192.41,207.95 191.31,206.89 192.82,206.67ZM195.9,203.92 196.58,205.29 198.09,205.51 196.99,206.58 197.25,208.08 195.9,207.37 194.55,208.08 194.81,206.58 193.71,205.51 195.22,205.29ZM198.3,203.79 198.98,205.16 200.49,205.38 199.39,206.45 199.65,207.96 198.3,207.24 196.95,207.96 197.21,206.45 196.11,205.38 197.62,205.16ZM200.7,204.49 201.38,205.86 202.89,206.08 201.79,207.15 202.05,208.65 200.7,207.94 199.35,208.65 199.61,207.15 198.51,206.08 200.02,205.86ZM203.1,203.8 203.78,205.17 205.29,205.39 204.19,206.45 204.45,207.96 203.1,207.25 201.75,207.96 202.01,206.45 200.91,205.39 202.42,205.17ZM205.5,203.46 206.18,204.83 207.69,205.04 206.59,206.11 206.85,207.62 205.5,206.91 204.15,207.62 204.41,206.11 203.31,205.04 204.82,204.83ZM207.9,205.69 208.58,207.06 210.09,207.28 208.99,208.34 209.25,209.85 207.9,209.14 206.55,209.85 206.81,208.34 205.71,207.28 207.22,207.06ZM210.3,203.33 210.98,204.7 212.49,204.92 211.39,205.98 211.65,207.49 210.3,206.78 208.95,207.49 209.21,205.98 208.11,204.92 209.62,204.7ZM212.7,204.97 213.38,206.34 214.89,206.56 213.79,207.62 214.05,209.13 212.7,208.42 211.35,209.13 211.61,207.62 210.51,206.56 212.02,206.34ZM215.1,202.24 215.78,203.61 217.29,203.83 216.19,204.9 216.45,206.4 215.1,205.69 213.75,206.4 214.01,204.9 212.91,203.83 214.42,203.61ZM217.5,203.68 218.18,205.05 219.69,205.27 218.59,206.34 218.85,207.84 217.5,207.13 216.15,207.84 216.41,206.34 215.31,205.27 216.82,205.05ZM219.9,203.71 220.58,205.08 222.09,205.3 220.99,206.37 221.25,207.87 219.9,207.16 218.55,207.87 218.81,206.37 217.71,205.3 219.22,205.08ZM222.3,206.13 222.98,207.5 224.49,207.72 223.39,208.78 223.65,210.29 222.3,209.58 220.95,210.29 221.21,208.78 220.11,207.72 221.62,207.5ZM224.7,202.81 225.38,204.18 226.89,204.4 225.79,205.46 226.05,206.97 224.7,206.26 223.35,206.97 223.61,205.46 222.51,204.4 224.02,204.18ZM227.1,202.39 227.78,203.76 229.29,203.98 228.19,205.05 228.45,206.56 227.1,205.84 225.75,206.56 226.01,205.05 224.91,203.98 226.42,203.76ZM229.5,203.26 230.18,204.62 231.69,204.84 230.59,205.91 230.85,207.42 229.5,206.71 228.15,207.42 228.41,205.91 227.31,204.84 228.82,204.62ZM231.9,202.58 232.58,203.95 234.09,204.17 232.99,205.24 233.25,206.74 231.9,206.03 230.55,206.74 230.81,205.24 229.71,204.17 231.22,203.95ZM234.3,203.11 234.98,204.48 236.49,204.7 235.39,205.77 235.65,207.27 234.3,206.56 232.95,207.27 233.21,205.77 232.11,204.7 233.62,204.48ZM236.7,204.22 237.38,205.59 238.89,205.81 237.79,206.87 238.05,208.38 236.7,207.67 235.35,208.38 235.61,206.87 234.51,205.81 236.02,205.59ZM239.1,204.51 239.78,205.88 241.29,206.1 240.19,207.16 240.45,208.67 239.1,207.96 237.75,208.67 238.01,207.16 236.91,206.1 238.42,205.88ZM241.5,205.38 242.18,206.75 243.69,206.97 242.59,208.04 242.85,209.54 241.5,208.83 240.15,209.54 240.41,208.04 239.31,206.97 240.82,206.75ZM243.9,201.92 244.58,203.29 246.09,203.51 244.99,204.58 245.25,206.08 243.9,205.37 242.55,206.08 242.81,204.58 241.71,203.51 243.22,203.29ZM246.3,204.65 246.98,206.02 248.49,206.24 247.39,207.31 247.65,208.81 246.3,208.1 244.95,208.81 245.21,207.31 244.11,206.24 245.62,206.02ZM248.7,204.2 249.38,205.57 250.89,205.79 249.79,206.86 250.05,208.36 248.7,207.65 247.35,208.36 247.61,206.86 246.51,205.79 248.02,205.57ZM251.1,201.98 251.78,203.35 253.29,203.57 252.19,204.63 252.45,206.14 251.1,205.43 249.75,206.14 250.01,204.63 248.91,203.57 250.42,203.35ZM253.5,200.1 254.18,201.47 255.69,201.69 254.59,202.76 254.85,204.26 253.5,203.55 252.15,204.26 252.41,202.76 251.31,201.69 252.82,201.47ZM255.9,202.65 256.58,204.02 258.09,204.24 256.99,205.3 257.25,206.81 255.9,206.1 254.55,206.81 254.81,205.3 253.71,204.24 255.22,204.02ZM258.3,202.42 258.98,203.79 260.49,204.01 259.39,205.07 259.65,206.58 258.3,205.87 256.95,206.58 257.21,205.07 256.11,204.01 257.62,203.79ZM260.7,199.07 261.38,200.44 262.89,200.66 261.79,201.72 262.05,203.23 260.7,202.52 259.35,203.23 259.61,201.72 258.51,200.66 260.02,200.44ZM263.1,200.73 263.78,202.1 265.29,202.32 264.19,203.38 264.45,204.89 263.1,204.18 261.75,204.89 262.01,203.38 260.91,202.32 262.42,202.1ZM265.5,199 266.18,200.37 267.69,200.59 266.59,201.66 266.85,203.16 265.5,202.45 264.15,203.16 264.41,201.66 263.31,200.59 264.82,200.37ZM267.9,199.04 268.58,200.41 270.09,200.63 268.99,201.69 269.25,203.2 267.9,202.49 266.55,203.2 266.81,201.69 265.71,200.63 267.22,200.41Z" fill="#f00" stroke="#f00" stroke-width="0.6" stroke-linejoin="round"/><path d="M79.66,126.9v1.6M117.21,126.9v2.6M154.77,126.9v1.6M192.33,126.9v2.6M229.89,126.9v1.6M267.44,126.9v2.6M42.1,238h-3M42.1,220.87h-2M42.1,203.73h-3M42.1,186.59h-2M42.1,169.46h-3M42.1,152.32h-2M42.1,135.19h-3M305,238h3M305,222.05h2M305,206.1h3M305,190.15h2M305,174.2h3M305,158.25h2M305,142.3h3" fill="none" stroke="#000" stroke-width="1.3"/><path d="M42.1,339.33 42.85,339.08 43.6,338.84 44.35,338.6 45.1,338.39 45.86,338.16 46.61,337.85 47.36,337.44 48.11,336.96 48.86,336.4 49.61,335.76 50.36,334.97 51.11,334.08 51.86,333.1 52.62,331.99 53.37,330.71 54.12,329.23 54.87,327.4 55.62,325.39 56.37,323.18 57.12,321.01 57.87,319.16 58.63,316.49 59.38,313.04 60.13,309.28 60.88,305.44 61.63,301.71 62.38,297.45 63.13,291.43 63.88,284.51 64.63,276.79 65.39,269.35 66.14,263.11 66.89,259.17 67.64,255.54 68.39,253.22 69.14,251.69 69.89,251.34 70.64,252.78 71.39,254.8 72.15,257.02 72.9,260.18 73.65,264.5 74.4,267.86 75.15,271.47 75.9,275.73 76.65,280.04 77.4,284.37 78.15,288.49 78.91,292.05 79.66,295.28 80.41,298.27 81.16,301.08 81.91,303.64 82.66,305.73 83.41,307.51 84.16,309.49 84.92,311.59 85.67,313.51 86.42,315.16 87.17,316.66 87.92,318.01 88.67,319.26 89.42,320.42 90.17,321.47 90.92,322.4 91.68,323.25 92.43,324.04 93.18,324.76 93.93,325.38 94.68,325.91 95.43,326.39 96.18,326.83 96.93,327.23 97.68,327.61 98.44,327.96 99.19,328.3 99.94,328.62 100.69,328.92 101.44,329.19 102.19,329.42 102.94,329.61 103.69,329.79 104.44,329.97 105.2,330.13 105.95,330.26 106.7,330.36 107.45,330.42 108.2,330.42 108.95,330.38 109.7,330.3 110.45,330.19 111.21,330.06 111.96,329.92 112.71,329.75 113.46,329.48 114.21,329.13 114.96,328.72 115.71,328.28 116.46,327.82 117.21,327.3 117.97,326.73 118.72,326.1 119.47,325.45 120.22,324.77 120.97,324.08 121.72,323.34 122.47,322.54 123.22,321.71 123.97,320.88 124.73,320.07 125.48,319.3 126.23,318.54 126.98,317.79 127.73,317.04 128.48,316.3 129.23,315.55 129.98,314.77 130.73,313.97 131.49,313.19 132.24,312.47 132.99,311.84 133.74,311.24 134.49,310.67 135.24,310.16 135.99,309.76 136.74,309.47 137.5,309.2 138.25,308.96 139,308.74 139.75,308.55 140.5,308.42 141.25,308.34 142,308.32 142.75,308.36 143.5,308.45 144.26,308.58 145.01,308.73 145.76,308.9 146.51,309.08 147.26,309.26 148.01,309.48 148.76,309.74 149.51,310.03 150.26,310.3 151.02,310.6 151.77,310.93 152.52,311.27 153.27,311.61 154.02,311.91 154.77,312.16 155.52,312.36 156.27,312.47 157.02,312.56 157.78,312.65 158.53,312.73 159.28,312.79 160.03,312.85 160.78,312.89 161.53,312.91 162.28,312.91 163.03,312.9 163.79,312.88 164.54,312.86 165.29,312.83 166.04,312.81 166.79,312.79 167.54,312.78 168.29,312.78 169.04,312.8 169.79,312.84 170.55,312.89 171.3,312.96 172.05,313.03 172.8,313.12 173.55,313.23 174.3,313.38 175.05,313.56 175.8,313.77 176.55,313.98 177.31,314.2 178.06,314.44 178.81,314.72 179.56,315 180.31,315.28 181.06,315.55 181.81,315.79 182.56,316.03 183.31,316.25 184.07,316.48 184.82,316.71 185.57,316.95 186.32,317.21 187.07,317.5 187.82,317.8 188.57,318.1 189.32,318.38 190.08,318.62 190.83,318.86 191.58,319.09 192.33,319.29 193.08,319.46 193.83,319.56 194.58,319.63 195.33,319.69 196.08,319.74 196.84,319.79 197.59,319.82 198.34,319.85 199.09,319.86 199.84,319.87 200.59,319.83 201.34,319.77 202.09,319.68 202.84,319.57 203.6,319.43 204.35,319.28 205.1,319.12 205.85,318.95 206.6,318.78 207.35,318.61 208.1,318.45 208.85,318.29 209.6,318.11 210.36,317.92 211.11,317.72 211.86,317.51 212.61,317.3 213.36,317.1 214.11,316.9 214.86,316.72 215.61,316.53 216.37,316.35 217.12,316.16 217.87,315.98 218.62,315.81 219.37,315.64 220.12,315.48 220.87,315.33 221.62,315.17 222.37,315.01 223.13,314.87 223.88,314.74 224.63,314.63 225.38,314.54 226.13,314.46 226.88,314.37 227.63,314.29 228.38,314.21 229.13,314.13 229.89,314.06 230.64,314 231.39,313.94 232.14,313.89 232.89,313.85 233.64,313.82 234.39,313.81 235.14,313.8 235.89,313.8 236.65,313.8 237.4,313.8 238.15,313.8 238.9,313.8 239.65,313.8 240.4,313.8 241.15,313.8 241.9,313.8 242.66,313.8 243.41,313.8 244.16,313.8 244.91,313.82 245.66,313.84 246.41,313.87 247.16,313.9 247.91,313.95 248.66,313.99 249.42,314.05 250.17,314.1 250.92,314.16 251.67,314.22 252.42,314.28 253.17,314.35 253.92,314.41 254.67,314.46 255.42,314.52 256.18,314.59 256.93,314.66 257.68,314.73 258.43,314.81 259.18,314.88 259.93,314.95 260.68,315.01 261.43,315.08 262.18,315.15 262.94,315.23 263.69,315.3 264.44,315.37 265.19,315.45 265.94,315.52 266.69,315.59 267.44,315.66 268.19,315.73 268.95,315.8 269.7,315.86 270.45,315.92 271.2,315.98 271.95,316.04 272.7,316.09 273.45,316.14 274.2,316.19 274.95,316.22 275.71,316.26 276.46,316.29 277.21,316.32 277.96,316.35 278.71,316.38 279.46,316.4 280.21,316.43 280.96,316.46 281.71,316.48 282.47,316.5 283.22,316.53 283.97,316.55 284.72,316.56 285.47,316.58 286.22,316.59 286.97,316.6 287.72,316.61 288.47,316.61 289.23,316.61 289.98,316.61 290.73,316.6 291.48,316.59 292.23,316.58 292.98,316.56 293.73,316.54 294.48,316.52 295.24,316.49 295.99,316.46 296.74,316.43 297.49,316.4 298.24,316.36 298.99,316.32 299.74,316.27 300.49,316.23 301.24,316.18 302,316.13 302.75,316.07 303.5,316.01 304.25,315.95 305,315.89" fill="none" stroke="#000" stroke-width="0.8"/><path d="M40.6,339.33a1.5,1.5 0 1,0 3,0a1.5,1.5 0 1,0 -3,0M41.35,339.08a1.5,1.5 0 1,0 3,0a1.5,1.5 0 1,0 -3,0M42.1,338.84a1.5,1.5 0 1,0 3,0a1.5,1.5 0 1,0 -3,0M42.85,338.6a1.5,1.5 0 1,0 3,0a1.5,1.5 0 1,0 -3,0M43.6,338.39a1.5,1.5 0 1,0 3,0a1.5,1.5 0 1,0 -3,0M44.36,338.16a1.5,1.5 0 1,0 3,0a1.5,1.5 0 1,0 -3,0M45.11,337.85a1.5,1.5 0 1,0 3,0a1.5,1.5 0 1,0 -3,0M45.86,337.44a1.5,1.5 0 1,0 3,0a1.5,1.5 0 1,0 -3,0M46.61,336.96a1.5,1.5 0 1,0 3,0a1.5,1.5 0 1,0 -3,0M47.36,336.4a1.5,1.5 0 1,0 3,0a1.5,1.5 0 1,0 -3,0M48.11,335.76a1.5,1.5 0 1,0 3,0a1.5,1.5 0 1,0 -3,0M48.86,334.97a1.5,1.5 0 1,0 3,0a1.5,1.5 0 1,0 -3,0M49.61,334.08a1.5,1.5 0 1,0 3,0a1.5,1.5 0 1,0 -3,0M50.36,333.1a1.5,1.5 0 1,0 3,0a1.5,1.5 0 1,0 -3,0M51.12,331.99a1.5,1.5 0 1,0 3,0a1.5,1.5 0 1,0 -3,0M51.87,330.71a1.5,1.5 0 1,0 3,0a1.5,1.5 0 1,0 -3,0M52.62,329.23a1.5,1.5 0 1,0 3,0a1.5,1.5 0 1,0 -3,0M53.37,327.4a1.5,1.5 0 1,0 3,0a1.5,1.5 0 1,0 -3,0M54.12,325.39a1.5,1.5 0 1,0 3,0a1.5,1.5 0 1,0 -3,0M54.87,323.18a1.5,1.5 0 1,0 3,0a1.5,1.5 0 1,0 -3,0M55.62,321.01a1.5,1.5 0 1,0 3,0a1.5,1.5 0 1,0 -3,0M56.37,319.16a1.5,1.5 0 1,0 3,0a1.5,1.5 0 1,0 -3,0M57.13,316.49a1.5,1.5 0 1,0 3,0a1.5,1.5 0 1,0 -3,0M57.88,313.04a1.5,1.5 0 1,0 3,0a1.5,1.5 0 1,0 -3,0M58.63,309.28a1.5,1.5 0 1,0 3,0a1.5,1.5 0 1,0 -3,0M59.38,305.44a1.5,1.5 0 1,0 3,0a1.5,1.5 0 1,0 -3,0M60.13,301.71a1.5,1.5 0 1,0 3,0a1.5,1.5 0 1,0 -3,0M60.88,297.45a1.5,1.5 0 1,0 3,0a1.5,1.5 0 1,0 -3,0M61.63,291.43a1.5,1.5 0 1,0 3,0a1.5,1.5 0 1,0 -3,0M62.38,284.51a1.5,1.5 0 1,0 3,0a1.5,1.5 0 1,0 -3,0M63.13,276.79a1.5,1.5 0 1,0 3,0a1.5,1.5 0 1,0 -3,0M63.89,269.35a1.5,1.5 0 1,0 3,0a1.5,1.5 0 1,0 -3,0M64.64,263.11a1.5,1.5 0 1,0 3,0a1.5,1.5 0 1,0 -3,0M65.39,259.17a1.5,1.5 0 1,0 3,0a1.5,1.5 0 1,0 -3,0M66.14,255.54a1.5,1.5 0 1,0 3,0a1.5,1.5 0 1,0 -3,0M66.89,253.22a1.5,1.5 0 1,0 3,0a1.5,1.5 0 1,0 -3,0M67.64,251.69a1.5,1.5 0 1,0 3,0a1.5,1.5 0 1,0 -3,0M68.39,251.34a1.5,1.5 0 1,0 3,0a1.5,1.5 0 1,0 -3,0M69.14,252.78a1.5,1.5 0 1,0 3,0a1.5,1.5 0 1,0 -3,0M69.89,254.8a1.5,1.5 0 1,0 3,0a1.5,1.5 0 1,0 -3,0M70.65,257.02a1.5,1.5 0 1,0 3,0a1.5,1.5 0 1,0 -3,0M71.4,260.18a1.5,1.5 0 1,0 3,0a1.5,1.5 0 1,0 -3,0M72.15,264.5a1.5,1.5 0 1,0 3,0a1.5,1.5 0 1,0 -3,0M72.9,267.86a1.5,1.5 0 1,0 3,0a1.5,1.5 0 1,0 -3,0M73.65,271.47a1.5,1.5 0 1,0 3,0a1.5,1.5 0 1,0 -3,0M74.4,275.73a1.5,1.5 0 1,0 3,0a1.5,1.5 0 1,0 -3,0M75.15,280.04a1.5,1.5 0 1,0 3,0a1.5,1.5 0 1,0 -3,0M75.9,284.37a1.5,1.5 0 1,0 3,0a1.5,1.5 0 1,0 -3,0M76.65,288.49a1.5,1.5 0 1,0 3,0a1.5,1.5 0 1,0 -3,0M77.41,292.05a1.5,1.5 0 1,0 3,0a1.5,1.5 0 1,0 -3,0M78.16,295.28a1.5,1.5 0 1,0 3,0a1.5,1.5 0 1,0 -3,0M78.91,298.27a1.5,1.5 0 1,0 3,0a1.5,1.5 0 1,0 -3,0M79.66,301.08a1.5,1.5 0 1,0 3,0a1.5,1.5 0 1,0 -3,0M80.41,303.64a1.5,1.5 0 1,0 3,0a1.5,1.5 0 1,0 -3,0M81.16,305.73a1.5,1.5 0 1,0 3,0a1.5,1.5 0 1,0 -3,0M81.91,307.51a1.5,1.5 0 1,0 3,0a1.5,1.5 0 1,0 -3,0M82.66,309.49a1.5,1.5 0 1,0 3,0a1.5,1.5 0 1,0 -3,0M83.42,311.59a1.5,1.5 0 1,0 3,0a1.5,1.5 0 1,0 -3,0M84.17,313.51a1.5,1.5 0 1,0 3,0a1.5,1.5 0 1,0 -3,0M84.92,315.16a1.5,1.5 0 1,0 3,0a1.5,1.5 0 1,0 -3,0M85.67,316.66a1.5,1.5 0 1,0 3,0a1.5,1.5 0 1,0 -3,0M86.42,318.01a1.5,1.5 0 1,0 3,0a1.5,1.5 0 1,0 -3,0M87.17,319.26a1.5,1.5 0 1,0 3,0a1.5,1.5 0 1,0 -3,0M87.92,320.42a1.5,1.5 0 1,0 3,0a1.5,1.5 0 1,0 -3,0M88.67,321.47a1.5,1.5 0 1,0 3,0a1.5,1.5 0 1,0 -3,0M89.42,322.4a1.5,1.5 0 1,0 3,0a1.5,1.5 0 1,0 -3,0M90.18,323.25a1.5,1.5 0 1,0 3,0a1.5,1.5 0 1,0 -3,0M90.93,324.04a1.5,1.5 0 1,0 3,0a1.5,1.5 0 1,0 -3,0M91.68,324.76a1.5,1.5 0 1,0 3,0a1.5,1.5 0 1,0 -3,0M92.43,325.38a1.5,1.5 0 1,0 3,0a1.5,1.5 0 1,0 -3,0M93.18,325.91a1.5,1.5 0 1,0 3,0a1.5,1.5 0 1,0 -3,0M93.93,326.39a1.5,1.5 0 1,0 3,0a1.5,1.5 0 1,0 -3,0M94.68,326.83a1.5,1.5 0 1,0 3,0a1.5,1.5 0 1,0 -3,0M95.43,327.23a1.5,1.5 0 1,0 3,0a1.5,1.5 0 1,0 -3,0M96.18,327.61a1.5,1.5 0 1,0 3,0a1.5,1.5 0 1,0 -3,0M96.94,327.96a1.5,1.5 0 1,0 3,0a1.5,1.5 0 1,0 -3,0M97.69,328.3a1.5,1.5 0 1,0 3,0a1.5,1.5 0 1,0 -3,0M98.44,328.62a1.5,1.5 0 1,0 3,0a1.5,1.5 0 1,0 -3,0M99.19,328.92a1.5,1.5 0 1,0 3,0a1.5,1.5 0 1,0 -3,0M99.94,329.19a1.5,1.5 0 1,0 3,0a1.5,1.5 0 1,0 -3,0M100.69,329.42a1.5,1.5 0 1,0 3,0a1.5,1.5 0 1,0 -3,0M101.44,329.61a1.5,1.5 0 1,0 3,0a1.5,1.5 0 1,0 -3,0M102.19,329.79a1.5,1.5 0 1,0 3,0a1.5,1.5 0 1,0 -3,0M102.94,329.97a1.5,1.5 0 1,0 3,0a1.5,1.5 0 1,0 -3,0M103.7,330.13a1.5,1.5 0 1,0 3,0a1.5,1.5 0 1,0 -3,0M104.45,330.26a1.5,1.5 0 1,0 3,0a1.5,1.5 0 1,0 -3,0M105.2,330.36a1.5,1.5 0 1,0 3,0a1.5,1.5 0 1,0 -3,0M105.95,330.42a1.5,1.5 0 1,0 3,0a1.5,1.5 0 1,0 -3,0M106.7,330.42a1.5,1.5 0 1,0 3,0a1.5,1.5 0 1,0 -3,0M107.45,330.38a1.5,1.5 0 1,0 3,0a1.5,1.5 0 1,0 -3,0M108.2,330.3a1.5,1.5 0 1,0 3,0a1.5,1.5 0 1,0 -3,0M108.95,330.19a1.5,1.5 0 1,0 3,0a1.5,1.5 0 1,0 -3,0M109.71,330.06a1.5,1.5 0 1,0 3,0a1.5,1.5 0 1,0 -3,0M110.46,329.92a1.5,1.5 0 1,0 3,0a1.5,1.5 0 1,0 -3,0M111.21,329.75a1.5,1.5 0 1,0 3,0a1.5,1.5 0 1,0 -3,0M111.96,329.48a1.5,1.5 0 1,0 3,0a1.5,1.5 0 1,0 -3,0M112.71,329.13a1.5,1.5 0 1,0 3,0a1.5,1.5 0 1,0 -3,0M113.46,328.72a1.5,1.5 0 1,0 3,0a1.5,1.5 0 1,0 -3,0M114.21,328.28a1.5,1.5 0 1,0 3,0a1.5,1.5 0 1,0 -3,0M114.96,327.82a1.5,1.5 0 1,0 3,0a1.5,1.5 0 1,0 -3,0M115.71,327.3a1.5,1.5 0 1,0 3,0a1.5,1.5 0 1,0 -3,0M116.47,326.73a1.5,1.5 0 1,0 3,0a1.5,1.5 0 1,0 -3,0M117.22,326.1a1.5,1.5 0 1,0 3,0a1.5,1.5 0 1,0 -3,0M117.97,325.45a1.5,1.5 0 1,0 3,0a1.5,1.5 0 1,0 -3,0M118.72,324.77a1.5,1.5 0 1,0 3,0a1.5,1.5 0 1,0 -3,0M119.47,324.08a1.5,1.5 0 1,0 3,0a1.5,1.5 0 1,0 -3,0M120.22,323.34a1.5,1.5 0 1,0 3,0a1.5,1.5 0 1,0 -3,0M120.97,322.54a1.5,1.5 0 1,0 3,0a1.5,1.5 0 1,0 -3,0M121.72,321.71a1.5,1.5 0 1,0 3,0a1.5,1.5 0 1,0 -3,0M122.47,320.88a1.5,1.5 0 1,0 3,0a1.5,1.5 0 1,0 -3,0M123.23,320.07a1.5,1.5 0 1,0 3,0a1.5,1.5 0 1,0 -3,0M123.98,319.3a1.5,1.5 0 1,0 3,0a1.5,1.5 0 1,0 -3,0M124.73,318.54a1.5,1.5 0 1,0 3,0a1.5,1.5 0 1,0 -3,0M125.48,317.79a1.5,1.5 0 1,0 3,0a1.5,1.5 0 1,0 -3,0M126.23,317.04a1.5,1.5 0 1,0 3,0a1.5,1.5 0 1,0 -3,0M126.98,316.3a1.5,1.5 0 1,0 3,0a1.5,1.5 0 1,0 -3,0M127.73,315.55a1.5,1.5 0 1,0 3,0a1.5,1.5 0 1,0 -3,0M128.48,314.77a1.5,1.5 0 1,0 3,0a1.5,1.5 0 1,0 -3,0M129.23,313.97a1.5,1.5 0 1,0 3,0a1.5,1.5 0 1,0 -3,0M129.99,313.19a1.5,1.5 0 1,0 3,0a1.5,1.5 0 1,0 -3,0M130.74,312.47a1.5,1.5 0 1,0 3,0a1.5,1.5 0 1,0 -3,0M131.49,311.84a1.5,1.5 0 1,0 3,0a1.5,1.5 0 1,0 -3,0M132.24,311.24a1.5,1.5 0 1,0 3,0a1.5,1.5 0 1,0 -3,0M132.99,310.67a1.5,1.5 0 1,0 3,0a1.5,1.5 0 1,0 -3,0M133.74,310.16a1.5,1.5 0 1,0 3,0a1.5,1.5 0 1,0 -3,0M134.49,309.76a1.5,1.5 0 1,0 3,0a1.5,1.5 0 1,0 -3,0M135.24,309.47a1.5,1.5 0 1,0 3,0a1.5,1.5 0 1,0 -3,0M136,309.2a1.5,1.5 0 1,0 3,0a1.5,1.5 0 1,0 -3,0M136.75,308.96a1.5,1.5 0 1,0 3,0a1.5,1.5 0 1,0 -3,0M137.5,308.74a1.5,1.5 0 1,0 3,0a1.5,1.5 0 1,0 -3,0M138.25,308.55a1.5,1.5 0 1,0 3,0a1.5,1.5 0 1,0 -3,0M139,308.42a1.5,1.5 0 1,0 3,0a1.5,1.5 0 1,0 -3,0M139.75,308.34a1.5,1.5 0 1,0 3,0a1.5,1.5 0 1,0 -3,0M140.5,308.32a1.5,1.5 0 1,0 3,0a1.5,1.5 0 1,0 -3,0M141.25,308.36a1.5,1.5 0 1,0 3,0a1.5,1.5 0 1,0 -3,0M142,308.45a1.5,1.5 0 1,0 3,0a1.5,1.5 0 1,0 -3,0M142.76,308.58a1.5,1.5 0 1,0 3,0a1.5,1.5 0 1,0 -3,0M143.51,308.73a1.5,1.5 0 1,0 3,0a1.5,1.5 0 1,0 -3,0M144.26,308.9a1.5,1.5 0 1,0 3,0a1.5,1.5 0 1,0 -3,0M145.01,309.08a1.5,1.5 0 1,0 3,0a1.5,1.5 0 1,0 -3,0M145.76,309.26a1.5,1.5 0 1,0 3,0a1.5,1.5 0 1,0 -3,0M146.51,309.48a1.5,1.5 0 1,0 3,0a1.5,1.5 0 1,0 -3,0M147.26,309.74a1.5,1.5 0 1,0 3,0a1.5,1.5 0 1,0 -3,0M148.01,310.03a1.5,1.5 0 1,0 3,0a1.5,1.5 0 1,0 -3,0M148.76,310.3a1.5,1.5 0 1,0 3,0a1.5,1.5 0 1,0 -3,0M149.52,310.6a1.5,1.5 0 1,0 3,0a1.5,1.5 0 1,0 -3,0M150.27,310.93a1.5,1.5 0 1,0 3,0a1.5,1.5 0 1,0 -3,0M151.02,311.27a1.5,1.5 0 1,0 3,0a1.5,1.5 0 1,0 -3,0M151.77,311.61a1.5,1.5 0 1,0 3,0a1.5,1.5 0 1,0 -3,0M152.52,311.91a1.5,1.5 0 1,0 3,0a1.5,1.5 0 1,0 -3,0M153.27,312.16a1.5,1.5 0 1,0 3,0a1.5,1.5 0 1,0 -3,0M154.02,312.36a1.5,1.5 0 1,0 3,0a1.5,1.5 0 1,0 -3,0M154.77,312.47a1.5,1.5 0 1,0 3,0a1.5,1.5 0 1,0 -3,0M155.52,312.56a1.5,1.5 0 1,0 3,0a1.5,1.5 0 1,0 -3,0M156.28,312.65a1.5,1.5 0 1,0 3,0a1.5,1.5 0 1,0 -3,0M157.03,312.73a1.5,1.5 0 1,0 3,0a1.5,1.5 0 1,0 -3,0M157.78,312.79a1.5,1.5 0 1,0 3,0a1.5,1.5 0 1,0 -3,0M158.53,312.85a1.5,1.5 0 1,0 3,0a1.5,1.5 0 1,0 -3,0M159.28,312.89a1.5,1.5 0 1,0 3,0a1.5,1.5 0 1,0 -3,0M160.03,312.91a1.5,1.5 0 1,0 3,0a1.5,1.5 0 1,0 -3,0M160.78,312.91a1.5,1.5 0 1,0 3,0a1.5,1.5 0 1,0 -3,0M161.53,312.9a1.5,1.5 0 1,0 3,0a1.5,1.5 0 1,0 -3,0M162.29,312.88a1.5,1.5 0 1,0 3,0a1.5,1.5 0 1,0 -3,0M163.04,312.86a1.5,1.5 0 1,0 3,0a1.5,1.5 0 1,0 -3,0M163.79,312.83a1.5,1.5 0 1,0 3,0a1.5,1.5 0 1,0 -3,0M164.54,312.81a1.5,1.5 0 1,0 3,0a1.5,1.5 0 1,0 -3,0M165.29,312.79a1.5,1.5 0 1,0 3,0a1.5,1.5 0 1,0 -3,0M166.04,312.78a1.5,1.5 0 1,0 3,0a1.5,1.5 0 1,0 -3,0M166.79,312.78a1.5,1.5 0 1,0 3,0a1.5,1.5 0 1,0 -3,0M167.54,312.8a1.5,1.5 0 1,0 3,0a1.5,1.5 0 1,0 -3,0M168.29,312.84a1.5,1.5 0 1,0 3,0a1.5,1.5 0 1,0 -3,0M169.05,312.89a1.5,1.5 0 1,0 3,0a1.5,1.5 0 1,0 -3,0M169.8,312.96a1.5,1.5 0 1,0 3,0a1.5,1.5 0 1,0 -3,0M170.55,313.03a1.5,1.5 0 1,0 3,0a1.5,1.5 0 1,0 -3,0M171.3,313.12a1.5,1.5 0 1,0 3,0a1.5,1.5 0 1,0 -3,0M172.05,313.23a1.5,1.5 0 1,0 3,0a1.5,1.5 0 1,0 -3,0M172.8,313.38a1.5,1.5 0 1,0 3,0a1.5,1.5 0 1,0 -3,0M173.55,313.56a1.5,1.5 0 1,0 3,0a1.5,1.5 0 1,0 -3,0M174.3,313.77a1.5,1.5 0 1,0 3,0a1.5,1.5 0 1,0 -3,0M175.05,313.98a1.5,1.5 0 1,0 3,0a1.5,1.5 0 1,0 -3,0M175.81,314.2a1.5,1.5 0 1,0 3,0a1.5,1.5 0 1,0 -3,0M176.56,314.44a1.5,1.5 0 1,0 3,0a1.5,1.5 0 1,0 -3,0M177.31,314.72a1.5,1.5 0 1,0 3,0a1.5,1.5 0 1,0 -3,0M178.06,315a1.5,1.5 0 1,0 3,0a1.5,1.5 0 1,0 -3,0M178.81,315.28a1.5,1.5 0 1,0 3,0a1.5,1.5 0 1,0 -3,0M179.56,315.55a1.5,1.5 0 1,0 3,0a1.5,1.5 0 1,0 -3,0M180.31,315.79a1.5,1.5 0 1,0 3,0a1.5,1.5 0 1,0 -3,0M181.06,316.03a1.5,1.5 0 1,0 3,0a1.5,1.5 0 1,0 -3,0M181.81,316.25a1.5,1.5 0 1,0 3,0a1.5,1.5 0 1,0 -3,0M182.57,316.48a1.5,1.5 0 1,0 3,0a1.5,1.5 0 1,0 -3,0M183.32,316.71a1.5,1.5 0 1,0 3,0a1.5,1.5 0 1,0 -3,0M184.07,316.95a1.5,1.5 0 1,0 3,0a1.5,1.5 0 1,0 -3,0M184.82,317.21a1.5,1.5 0 1,0 3,0a1.5,1.5 0 1,0 -3,0M185.57,317.5a1.5,1.5 0 1,0 3,0a1.5,1.5 0 1,0 -3,0M186.32,317.8a1.5,1.5 0 1,0 3,0a1.5,1.5 0 1,0 -3,0M187.07,318.1a1.5,1.5 0 1,0 3,0a1.5,1.5 0 1,0 -3,0M187.82,318.38a1.5,1.5 0 1,0 3,0a1.5,1.5 0 1,0 -3,0M188.58,318.62a1.5,1.5 0 1,0 3,0a1.5,1.5 0 1,0 -3,0M189.33,318.86a1.5,1.5 0 1,0 3,0a1.5,1.5 0 1,0 -3,0M190.08,319.09a1.5,1.5 0 1,0 3,0a1.5,1.5 0 1,0 -3,0M190.83,319.29a1.5,1.5 0 1,0 3,0a1.5,1.5 0 1,0 -3,0M191.58,319.46a1.5,1.5 0 1,0 3,0a1.5,1.5 0 1,0 -3,0M192.33,319.56a1.5,1.5 0 1,0 3,0a1.5,1.5 0 1,0 -3,0M193.08,319.63a1.5,1.5 0 1,0 3,0a1.5,1.5 0 1,0 -3,0M193.83,319.69a1.5,1.5 0 1,0 3,0a1.5,1.5 0 1,0 -3,0M194.58,319.74a1.5,1.5 0 1,0 3,0a1.5,1.5 0 1,0 -3,0M195.34,319.79a1.5,1.5 0 1,0 3,0a1.5,1.5 0 1,0 -3,0M196.09,319.82a1.5,1.5 0 1,0 3,0a1.5,1.5 0 1,0 -3,0M196.84,319.85a1.5,1.5 0 1,0 3,0a1.5,1.5 0 1,0 -3,0M197.59,319.86a1.5,1.5 0 1,0 3,0a1.5,1.5 0 1,0 -3,0M198.34,319.87a1.5,1.5 0 1,0 3,0a1.5,1.5 0 1,0 -3,0M199.09,319.83a1.5,1.5 0 1,0 3,0a1.5,1.5 0 1,0 -3,0M199.84,319.77a1.5,1.5 0 1,0 3,0a1.5,1.5 0 1,0 -3,0M200.59,319.68a1.5,1.5 0 1,0 3,0a1.5,1.5 0 1,0 -3,0M201.34,319.57a1.5,1.5 0 1,0 3,0a1.5,1.5 0 1,0 -3,0M202.1,319.43a1.5,1.5 0 1,0 3,0a1.5,1.5 0 1,0 -3,0M202.85,319.28a1.5,1.5 0 1,0 3,0a1.5,1.5 0 1,0 -3,0M203.6,319.12a1.5,1.5 0 1,0 3,0a1.5,1.5 0 1,0 -3,0M204.35,318.95a1.5,1.5 0 1,0 3,0a1.5,1.5 0 1,0 -3,0M205.1,318.78a1.5,1.5 0 1,0 3,0a1.5,1.5 0 1,0 -3,0M205.85,318.61a1.5,1.5 0 1,0 3,0a1.5,1.5 0 1,0 -3,0M206.6,318.45a1.5,1.5 0 1,0 3,0a1.5,1.5 0 1,0 -3,0M207.35,318.29a1.5,1.5 0 1,0 3,0a1.5,1.5 0 1,0 -3,0M208.1,318.11a1.5,1.5 0 1,0 3,0a1.5,1.5 0 1,0 -3,0M208.86,317.92a1.5,1.5 0 1,0 3,0a1.5,1.5 0 1,0 -3,0M209.61,317.72a1.5,1.5 0 1,0 3,0a1.5,1.5 0 1,0 -3,0M210.36,317.51a1.5,1.5 0 1,0 3,0a1.5,1.5 0 1,0 -3,0M211.11,317.3a1.5,1.5 0 1,0 3,0a1.5,1.5 0 1,0 -3,0M211.86,317.1a1.5,1.5 0 1,0 3,0a1.5,1.5 0 1,0 -3,0M212.61,316.9a1.5,1.5 0 1,0 3,0a1.5,1.5 0 1,0 -3,0M213.36,316.72a1.5,1.5 0 1,0 3,0a1.5,1.5 0 1,0 -3,0M214.11,316.53a1.5,1.5 0 1,0 3,0a1.5,1.5 0 1,0 -3,0M214.87,316.35a1.5,1.5 0 1,0 3,0a1.5,1.5 0 1,0 -3,0M215.62,316.16a1.5,1.5 0 1,0 3,0a1.5,1.5 0 1,0 -3,0M216.37,315.98a1.5,1.5 0 1,0 3,0a1.5,1.5 0 1,0 -3,0M217.12,315.81a1.5,1.5 0 1,0 3,0a1.5,1.5 0 1,0 -3,0M217.87,315.64a1.5,1.5 0 1,0 3,0a1.5,1.5 0 1,0 -3,0M218.62,315.48a1.5,1.5 0 1,0 3,0a1.5,1.5 0 1,0 -3,0M219.37,315.33a1.5,1.5 0 1,0 3,0a1.5,1.5 0 1,0 -3,0M220.12,315.17a1.5,1.5 0 1,0 3,0a1.5,1.5 0 1,0 -3,0M220.87,315.01a1.5,1.5 0 1,0 3,0a1.5,1.5 0 1,0 -3,0M221.63,314.87a1.5,1.5 0 1,0 3,0a1.5,1.5 0 1,0 -3,0M222.38,314.74a1.5,1.5 0 1,0 3,0a1.5,1.5 0 1,0 -3,0M223.13,314.63a1.5,1.5 0 1,0 3,0a1.5,1.5 0 1,0 -3,0M223.88,314.54a1.5,1.5 0 1,0 3,0a1.5,1.5 0 1,0 -3,0M224.63,314.46a1.5,1.5 0 1,0 3,0a1.5,1.5 0 1,0 -3,0M225.38,314.37a1.5,1.5 0 1,0 3,0a1.5,1.5 0 1,0 -3,0M226.13,314.29a1.5,1.5 0 1,0 3,0a1.5,1.5 0 1,0 -3,0M226.88,314.21a1.5,1.5 0 1,0 3,0a1.5,1.5 0 1,0 -3,0M227.63,314.13a1.5,1.5 0 1,0 3,0a1.5,1.5 0 1,0 -3,0M228.39,314.06a1.5,1.5 0 1,0 3,0a1.5,1.5 0 1,0 -3,0M229.14,314a1.5,1.5 0 1,0 3,0a1.5,1.5 0 1,0 -3,0M229.89,313.94a1.5,1.5 0 1,0 3,0a1.5,1.5 0 1,0 -3,0M230.64,313.89a1.5,1.5 0 1,0 3,0a1.5,1.5 0 1,0 -3,0M231.39,313.85a1.5,1.5 0 1,0 3,0a1.5,1.5 0 1,0 -3,0M232.14,313.82a1.5,1.5 0 1,0 3,0a1.5,1.5 0 1,0 -3,0M232.89,313.81a1.5,1.5 0 1,0 3,0a1.5,1.5 0 1,0 -3,0M233.64,313.8a1.5,1.5 0 1,0 3,0a1.5,1.5 0 1,0 -3,0M234.39,313.8a1.5,1.5 0 1,0 3,0a1.5,1.5 0 1,0 -3,0M235.15,313.8a1.5,1.5 0 1,0 3,0a1.5,1.5 0 1,0 -3,0M235.9,313.8a1.5,1.5 0 1,0 3,0a1.5,1.5 0 1,0 -3,0M236.65,313.8a1.5,1.5 0 1,0 3,0a1.5,1.5 0 1,0 -3,0M237.4,313.8a1.5,1.5 0 1,0 3,0a1.5,1.5 0 1,0 -3,0M238.15,313.8a1.5,1.5 0 1,0 3,0a1.5,1.5 0 1,0 -3,0M238.9,313.8a1.5,1.5 0 1,0 3,0a1.5,1.5 0 1,0 -3,0M239.65,313.8a1.5,1.5 0 1,0 3,0a1.5,1.5 0 1,0 -3,0M240.4,313.8a1.5,1.5 0 1,0 3,0a1.5,1.5 0 1,0 -3,0M241.16,313.8a1.5,1.5 0 1,0 3,0a1.5,1.5 0 1,0 -3,0M241.91,313.8a1.5,1.5 0 1,0 3,0a1.5,1.5 0 1,0 -3,0M242.66,313.8a1.5,1.5 0 1,0 3,0a1.5,1.5 0 1,0 -3,0M243.41,313.82a1.5,1.5 0 1,0 3,0a1.5,1.5 0 1,0 -3,0M244.16,313.84a1.5,1.5 0 1,0 3,0a1.5,1.5 0 1,0 -3,0M244.91,313.87a1.5,1.5 0 1,0 3,0a1.5,1.5 0 1,0 -3,0M245.66,313.9a1.5,1.5 0 1,0 3,0a1.5,1.5 0 1,0 -3,0M246.41,313.95a1.5,1.5 0 1,0 3,0a1.5,1.5 0 1,0 -3,0M247.16,313.99a1.5,1.5 0 1,0 3,0a1.5,1.5 0 1,0 -3,0M247.92,314.05a1.5,1.5 0 1,0 3,0a1.5,1.5 0 1,0 -3,0M248.67,314.1a1.5,1.5 0 1,0 3,0a1.5,1.5 0 1,0 -3,0M249.42,314.16a1.5,1.5 0 1,0 3,0a1.5,1.5 0 1,0 -3,0M250.17,314.22a1.5,1.5 0 1,0 3,0a1.5,1.5 0 1,0 -3,0M250.92,314.28a1.5,1.5 0 1,0 3,0a1.5,1.5 0 1,0 -3,0M251.67,314.35a1.5,1.5 0 1,0 3,0a1.5,1.5 0 1,0 -3,0M252.42,314.41a1.5,1.5 0 1,0 3,0a1.5,1.5 0 1,0 -3,0M253.17,314.46a1.5,1.5 0 1,0 3,0a1.5,1.5 0 1,0 -3,0M253.92,314.52a1.5,1.5 0 1,0 3,0a1.5,1.5 0 1,0 -3,0M254.68,314.59a1.5,1.5 0 1,0 3,0a1.5,1.5 0 1,0 -3,0M255.43,314.66a1.5,1.5 0 1,0 3,0a1.5,1.5 0 1,0 -3,0M256.18,314.73a1.5,1.5 0 1,0 3,0a1.5,1.5 0 1,0 -3,0M256.93,314.81a1.5,1.5 0 1,0 3,0a1.5,1.5 0 1,0 -3,0M257.68,314.88a1.5,1.5 0 1,0 3,0a1.5,1.5 0 1,0 -3,0M258.43,314.95a1.5,1.5 0 1,0 3,0a1.5,1.5 0 1,0 -3,0M259.18,315.01a1.5,1.5 0 1,0 3,0a1.5,1.5 0 1,0 -3,0M259.93,315.08a1.5,1.5 0 1,0 3,0a1.5,1.5 0 1,0 -3,0M260.68,315.15a1.5,1.5 0 1,0 3,0a1.5,1.5 0 1,0 -3,0M261.44,315.23a1.5,1.5 0 1,0 3,0a1.5,1.5 0 1,0 -3,0M262.19,315.3a1.5,1.5 0 1,0 3,0a1.5,1.5 0 1,0 -3,0M262.94,315.37a1.5,1.5 0 1,0 3,0a1.5,1.5 0 1,0 -3,0M263.69,315.45a1.5,1.5 0 1,0 3,0a1.5,1.5 0 1,0 -3,0M264.44,315.52a1.5,1.5 0 1,0 3,0a1.5,1.5 0 1,0 -3,0M265.19,315.59a1.5,1.5 0 1,0 3,0a1.5,1.5 0 1,0 -3,0M265.94,315.66a1.5,1.5 0 1,0 3,0a1.5,1.5 0 1,0 -3,0M266.69,315.73a1.5,1.5 0 1,0 3,0a1.5,1.5 0 1,0 -3,0M267.45,315.8a1.5,1.5 0 1,0 3,0a1.5,1.5 0 1,0 -3,0M268.2,315.86a1.5,1.5 0 1,0 3,0a1.5,1.5 0 1,0 -3,0M268.95,315.92a1.5,1.5 0 1,0 3,0a1.5,1.5 0 1,0 -3,0M269.7,315.98a1.5,1.5 0 1,0 3,0a1.5,1.5 0 1,0 -3,0M270.45,316.04a1.5,1.5 0 1,0 3,0a1.5,1.5 0 1,0 -3,0M271.2,316.09a1.5,1.5 0 1,0 3,0a1.5,1.5 0 1,0 -3,0M271.95,316.14a1.5,1.5 0 1,0 3,0a1.5,1.5 0 1,0 -3,0M272.7,316.19a1.5,1.5 0 1,0 3,0a1.5,1.5 0 1,0 -3,0M273.45,316.22a1.5,1.5 0 1,0 3,0a1.5,1.5 0 1,0 -3,0M274.21,316.26a1.5,1.5 0 1,0 3,0a1.5,1.5 0 1,0 -3,0M274.96,316.29a1.5,1.5 0 1,0 3,0a1.5,1.5 0 1,0 -3,0M275.71,316.32a1.5,1.5 0 1,0 3,0a1.5,1.5 0 1,0 -3,0M276.46,316.35a1.5,1.5 0 1,0 3,0a1.5,1.5 0 1,0 -3,0M277.21,316.38a1.5,1.5 0 1,0 3,0a1.5,1.5 0 1,0 -3,0M277.96,316.4a1.5,1.5 0 1,0 3,0a1.5,1.5 0 1,0 -3,0M278.71,316.43a1.5,1.5 0 1,0 3,0a1.5,1.5 0 1,0 -3,0M279.46,316.46a1.5,1.5 0 1,0 3,0a1.5,1.5 0 1,0 -3,0M280.21,316.48a1.5,1.5 0 1,0 3,0a1.5,1.5 0 1,0 -3,0M280.97,316.5a1.5,1.5 0 1,0 3,0a1.5,1.5 0 1,0 -3,0M281.72,316.53a1.5,1.5 0 1,0 3,0a1.5,1.5 0 1,0 -3,0M282.47,316.55a1.5,1.5 0 1,0 3,0a1.5,1.5 0 1,0 -3,0M283.22,316.56a1.5,1.5 0 1,0 3,0a1.5,1.5 0 1,0 -3,0M283.97,316.58a1.5,1.5 0 1,0 3,0a1.5,1.5 0 1,0 -3,0M284.72,316.59a1.5,1.5 0 1,0 3,0a1.5,1.5 0 1,0 -3,0M285.47,316.6a1.5,1.5 0 1,0 3,0a1.5,1.5 0 1,0 -3,0M286.22,316.61a1.5,1.5 0 1,0 3,0a1.5,1.5 0 1,0 -3,0M286.97,316.61a1.5,1.5 0 1,0 3,0a1.5,1.5 0 1,0 -3,0M287.73,316.61a1.5,1.5 0 1,0 3,0a1.5,1.5 0 1,0 -3,0M288.48,316.61a1.5,1.5 0 1,0 3,0a1.5,1.5 0 1,0 -3,0M289.23,316.6a1.5,1.5 0 1,0 3,0a1.5,1.5 0 1,0 -3,0M289.98,316.59a1.5,1.5 0 1,0 3,0a1.5,1.5 0 1,0 -3,0M290.73,316.58a1.5,1.5 0 1,0 3,0a1.5,1.5 0 1,0 -3,0M291.48,316.56a1.5,1.5 0 1,0 3,0a1.5,1.5 0 1,0 -3,0M292.23,316.54a1.5,1.5 0 1,0 3,0a1.5,1.5 0 1,0 -3,0M292.98,316.52a1.5,1.5 0 1,0 3,0a1.5,1.5 0 1,0 -3,0M293.74,316.49a1.5,1.5 0 1,0 3,0a1.5,1.5 0 1,0 -3,0M294.49,316.46a1.5,1.5 0 1,0 3,0a1.5,1.5 0 1,0 -3,0M295.24,316.43a1.5,1.5 0 1,0 3,0a1.5,1.5 0 1,0 -3,0M295.99,316.4a1.5,1.5 0 1,0 3,0a1.5,1.5 0 1,0 -3,0M296.74,316.36a1.5,1.5 0 1,0 3,0a1.5,1.5 0 1,0 -3,0M297.49,316.32a1.5,1.5 0 1,0 3,0a1.5,1.5 0 1,0 -3,0M298.24,316.27a1.5,1.5 0 1,0 3,0a1.5,1.5 0 1,0 -3,0M298.99,316.23a1.5,1.5 0 1,0 3,0a1.5,1.5 0 1,0 -3,0M299.74,316.18a1.5,1.5 0 1,0 3,0a1.5,1.5 0 1,0 -3,0M300.5,316.13a1.5,1.5 0 1,0 3,0a1.5,1.5 0 1,0 -3,0M301.25,316.07a1.5,1.5 0 1,0 3,0a1.5,1.5 0 1,0 -3,0M302,316.01a1.5,1.5 0 1,0 3,0a1.5,1.5 0 1,0 -3,0M302.75,315.95a1.5,1.5 0 1,0 3,0a1.5,1.5 0 1,0 -3,0M303.5,315.89a1.5,1.5 0 1,0 3,0a1.5,1.5 0 1,0 -3,0" fill="#000"/><path d="M42.5,287.25 44.5,292.15 46.5,290.06 48.5,293.83 50.5,297.22 52.5,302.44 54.5,306.18 56.5,308.51 58.5,308.59 60.5,308.13 62.5,313.14 64.5,312.28 66.5,314.35 68.5,315.8 70.5,314.13 72.5,314.01 74.5,314.52 76.5,318.68 78.5,318.37 80.5,320.08 82.5,317.55 84.5,314.65 86.5,314.19 88.5,313.27 90.5,311.03 92.5,309.9 94.5,310.2 96.5,310.98 98.5,314.12 100.5,313.79 102.5,311.17 104.5,308.8 106.5,306.46 108.5,308.44 110.5,308.09 112.5,311.37 114.5,310.25 116.5,310.79 118.5,312.05 120.5,311.64 122.5,310.61 124.5,312.37 126.5,311.36 128.5,315.45 130.5,316.35 132.5,315.07 134.5,319.21 136.5,317.03 138.5,318.87 140.5,317.91 142.5,320.61 144.5,322.09 146.5,320 148.5,319 150.5,320.34 152.5,321.21 154.5,319.65 156.5,319.36 158.5,320.69 160.5,317.5 162.5,319.12 164.5,317.16 166.5,318.56 168.5,317.44 170.5,317.2 172.5,318.27 174.5,316.91 176.5,318.56 178.5,317.6 180.5,317.75 182.5,316.65 184.5,317.65 186.5,315.9 188.5,316.26 190.5,315.94 192.5,314.33 194.5,315.98 196.5,315.72 198.5,315.68 200.5,314.79 202.5,314.69 204.5,316.05 206.5,317.58 208.5,313.68 210.5,314.46 212.5,312.98 214.5,315.13 216.5,315.98 218.5,317.54 220.5,313.7 222.5,315.58 224.5,315.11 226.5,316.17 228.5,315.27 230.5,315 232.5,316.15 234.5,317.28 236.5,312.3 238.5,314.6 240.5,315.46 242.5,315.21 244.5,314.88 246.5,313.67 248.5,314.1 250.5,315.99 252.5,316.24 254.5,314.43 256.5,311.75" fill="none" stroke="#f00" stroke-width="0.8"/><path d="M165.3,317V330.5M164.3,317H166.3M164.3,330.5H166.3M258.7,315V325" fill="none" stroke="#ff9a9a" stroke-width="0.8"/><path d="M42.5,285.05 43.15,286.36 44.59,286.57 43.55,287.59 43.79,289.03 42.5,288.35 41.21,289.03 41.45,287.59 40.41,286.57 41.85,286.36ZM44.5,289.95 45.15,291.26 46.59,291.47 45.55,292.49 45.79,293.93 44.5,293.25 43.21,293.93 43.45,292.49 42.41,291.47 43.85,291.26ZM46.5,287.86 47.15,289.17 48.59,289.38 47.55,290.4 47.79,291.84 46.5,291.16 45.21,291.84 45.45,290.4 44.41,289.38 45.85,289.17ZM48.5,291.63 49.15,292.94 50.59,293.15 49.55,294.17 49.79,295.61 48.5,294.93 47.21,295.61 47.45,294.17 46.41,293.15 47.85,292.94ZM50.5,295.02 51.15,296.33 52.59,296.54 51.55,297.56 51.79,299 50.5,298.32 49.21,299 49.45,297.56 48.41,296.54 49.85,296.33ZM52.5,300.24 53.15,301.55 54.59,301.76 53.55,302.78 53.79,304.22 52.5,303.54 51.21,304.22 51.45,302.78 50.41,301.76 51.85,301.55ZM54.5,303.98 55.15,305.29 56.59,305.5 55.55,306.52 55.79,307.96 54.5,307.28 53.21,307.96 53.45,306.52 52.41,305.5 53.85,305.29ZM56.5,306.31 57.15,307.62 58.59,307.83 57.55,308.85 57.79,310.28 56.5,309.61 55.21,310.28 55.45,308.85 54.41,307.83 55.85,307.62ZM58.5,306.39 59.15,307.7 60.59,307.91 59.55,308.93 59.79,310.37 58.5,309.69 57.21,310.37 57.45,308.93 56.41,307.91 57.85,307.7ZM60.5,305.93 61.15,307.24 62.59,307.45 61.55,308.47 61.79,309.91 60.5,309.23 59.21,309.91 59.45,308.47 58.41,307.45 59.85,307.24ZM62.5,310.94 63.15,312.25 64.59,312.46 63.55,313.48 63.79,314.92 62.5,314.24 61.21,314.92 61.45,313.48 60.41,312.46 61.85,312.25ZM64.5,310.08 65.15,311.39 66.59,311.6 65.55,312.62 65.79,314.06 64.5,313.38 63.21,314.06 63.45,312.62 62.41,311.6 63.85,311.39ZM66.5,312.15 67.15,313.46 68.59,313.67 67.55,314.69 67.79,316.13 66.5,315.45 65.21,316.13 65.45,314.69 64.41,313.67 65.85,313.46ZM68.5,313.6 69.15,314.91 70.59,315.12 69.55,316.14 69.79,317.58 68.5,316.9 67.21,317.58 67.45,316.14 66.41,315.12 67.85,314.91ZM70.5,311.93 71.15,313.24 72.59,313.45 71.55,314.47 71.79,315.91 70.5,315.23 69.21,315.91 69.45,314.47 68.41,313.45 69.85,313.24ZM72.5,311.81 73.15,313.12 74.59,313.33 73.55,314.35 73.79,315.79 72.5,315.11 71.21,315.79 71.45,314.35 70.41,313.33 71.85,313.12ZM74.5,312.32 75.15,313.63 76.59,313.84 75.55,314.86 75.79,316.3 74.5,315.62 73.21,316.3 73.45,314.86 72.41,313.84 73.85,313.63ZM76.5,316.48 77.15,317.79 78.59,318 77.55,319.02 77.79,320.46 76.5,319.78 75.21,320.46 75.45,319.02 74.41,318 75.85,317.79ZM78.5,316.17 79.15,317.48 80.59,317.69 79.55,318.71 79.79,320.15 78.5,319.47 77.21,320.15 77.45,318.71 76.41,317.69 77.85,317.48ZM80.5,317.88 81.15,319.19 82.59,319.4 81.55,320.42 81.79,321.86 80.5,321.18 79.21,321.86 79.45,320.42 78.41,319.4 79.85,319.19ZM82.5,315.35 83.15,316.66 84.59,316.87 83.55,317.89 83.79,319.33 82.5,318.65 81.21,319.33 81.45,317.89 80.41,316.87 81.85,316.66ZM84.5,312.45 85.15,313.76 86.59,313.97 85.55,314.99 85.79,316.43 84.5,315.75 83.21,316.43 83.45,314.99 82.41,313.97 83.85,313.76ZM86.5,311.99 87.15,313.3 88.59,313.51 87.55,314.53 87.79,315.97 86.5,315.29 85.21,315.97 85.45,314.53 84.41,313.51 85.85,313.3ZM88.5,311.07 89.15,312.38 90.59,312.59 89.55,313.61 89.79,315.05 88.5,314.37 87.21,315.05 87.45,313.61 86.41,312.59 87.85,312.38ZM90.5,308.83 91.15,310.14 92.59,310.35 91.55,311.37 91.79,312.81 90.5,312.13 89.21,312.81 89.45,311.37 88.41,310.35 89.85,310.14ZM92.5,307.7 93.15,309.01 94.59,309.22 93.55,310.24 93.79,311.68 92.5,311 91.21,311.68 91.45,310.24 90.41,309.22 91.85,309.01ZM94.5,308 95.15,309.31 96.59,309.52 95.55,310.54 95.79,311.98 94.5,311.3 93.21,311.98 93.45,310.54 92.41,309.52 93.85,309.31ZM96.5,308.78 97.15,310.09 98.59,310.3 97.55,311.32 97.79,312.76 96.5,312.08 95.21,312.76 95.45,311.32 94.41,310.3 95.85,310.09ZM98.5,311.92 99.15,313.23 100.59,313.44 99.55,314.46 99.79,315.9 98.5,315.22 97.21,315.9 97.45,314.46 96.41,313.44 97.85,313.23ZM100.5,311.59 101.15,312.9 102.59,313.11 101.55,314.13 101.79,315.57 100.5,314.89 99.21,315.57 99.45,314.13 98.41,313.11 99.85,312.9ZM102.5,308.97 103.15,310.28 104.59,310.49 103.55,311.51 103.79,312.95 102.5,312.27 101.21,312.95 101.45,311.51 100.41,310.49 101.85,310.28ZM104.5,306.6 105.15,307.91 106.59,308.12 105.55,309.14 105.79,310.58 104.5,309.9 103.21,310.58 103.45,309.14 102.41,308.12 103.85,307.91ZM106.5,304.26 107.15,305.57 108.59,305.78 107.55,306.8 107.79,308.24 106.5,307.56 105.21,308.24 105.45,306.8 104.41,305.78 105.85,305.57ZM108.5,306.24 109.15,307.55 110.59,307.76 109.55,308.78 109.79,310.22 108.5,309.54 107.21,310.22 107.45,308.78 106.41,307.76 107.85,307.55ZM110.5,305.89 111.15,307.2 112.59,307.41 111.55,308.43 111.79,309.87 110.5,309.19 109.21,309.87 109.45,308.43 108.41,307.41 109.85,307.2ZM112.5,309.17 113.15,310.48 114.59,310.69 113.55,311.71 113.79,313.15 112.5,312.47 111.21,313.15 111.45,311.71 110.41,310.69 111.85,310.48ZM114.5,308.05 115.15,309.36 116.59,309.57 115.55,310.59 115.79,312.03 114.5,311.35 113.21,312.03 113.45,310.59 112.41,309.57 113.85,309.36ZM116.5,308.59 117.15,309.9 118.59,310.11 117.55,311.13 117.79,312.57 116.5,311.89 115.21,312.57 115.45,311.13 114.41,310.11 115.85,309.9ZM118.5,309.85 119.15,311.16 120.59,311.37 119.55,312.39 119.79,313.83 118.5,313.15 117.21,313.83 117.45,312.39 116.41,311.37 117.85,311.16ZM120.5,309.44 121.15,310.75 122.59,310.96 121.55,311.98 121.79,313.42 120.5,312.74 119.21,313.42 119.45,311.98 118.41,310.96 119.85,310.75ZM122.5,308.41 123.15,309.72 124.59,309.93 123.55,310.95 123.79,312.39 122.5,311.71 121.21,312.39 121.45,310.95 120.41,309.93 121.85,309.72ZM124.5,310.17 125.15,311.48 126.59,311.69 125.55,312.71 125.79,314.15 124.5,313.47 123.21,314.15 123.45,312.71 122.41,311.69 123.85,311.48ZM126.5,309.16 127.15,310.47 128.59,310.68 127.55,311.7 127.79,313.14 126.5,312.46 125.21,313.14 125.45,311.7 124.41,310.68 125.85,310.47ZM128.5,313.25 129.15,314.56 130.59,314.77 129.55,315.79 129.79,317.23 128.5,316.55 127.21,317.23 127.45,315.79 126.41,314.77 127.85,314.56ZM130.5,314.15 131.15,315.46 132.59,315.67 131.55,316.69 131.79,318.13 130.5,317.45 129.21,318.13 129.45,316.69 128.41,315.67 129.85,315.46ZM132.5,312.87 133.15,314.18 134.59,314.39 133.55,315.41 133.79,316.85 132.5,316.17 131.21,316.85 131.45,315.41 130.41,314.39 131.85,314.18ZM134.5,317.01 135.15,318.32 136.59,318.53 135.55,319.55 135.79,320.99 134.5,320.31 133.21,320.99 133.45,319.55 132.41,318.53 133.85,318.32ZM136.5,314.85 137.14,316.15 138.58,316.36 137.54,317.37 137.78,318.8 136.5,318.13 135.22,318.8 135.46,317.37 134.42,316.36 135.86,316.15ZM138.5,316.71 139.13,317.99 140.55,318.2 139.53,319.2 139.77,320.61 138.5,319.95 137.23,320.61 137.47,319.2 136.45,318.2 137.87,317.99ZM140.5,315.77 141.13,317.04 142.53,317.25 141.52,318.24 141.76,319.64 140.5,318.98 139.24,319.64 139.48,318.24 138.47,317.25 139.87,317.04ZM142.5,318.49 143.12,319.75 144.51,319.95 143.5,320.93 143.74,322.32 142.5,321.66 141.26,322.32 141.5,320.93 140.49,319.95 141.88,319.75ZM144.5,320 145.11,321.25 146.49,321.44 145.49,322.41 145.73,323.78 144.5,323.13 143.27,323.78 143.51,322.41 142.51,321.44 143.89,321.25ZM146.5,317.94 147.11,319.17 148.46,319.37 147.48,320.32 147.71,321.67 146.5,321.04 145.29,321.67 145.52,320.32 144.54,319.37 145.89,319.17ZM148.5,316.95 149.1,318.17 150.44,318.36 149.47,319.31 149.7,320.65 148.5,320.02 147.3,320.65 147.53,319.31 146.56,318.36 147.9,318.17ZM150.5,318.32 151.09,319.52 152.42,319.72 151.46,320.65 151.69,321.97 150.5,321.35 149.31,321.97 149.54,320.65 148.58,319.72 149.91,319.52ZM152.5,319.21 153.09,320.4 154.4,320.59 153.45,321.52 153.67,322.82 152.5,322.21 151.33,322.82 151.55,321.52 150.6,320.59 151.91,320.4ZM154.5,317.68 155.08,318.86 156.38,319.04 155.44,319.96 155.66,321.25 154.5,320.64 153.34,321.25 153.56,319.96 152.62,319.04 153.92,318.86ZM156.5,317.41 157.07,318.58 158.35,318.76 157.43,319.66 157.65,320.94 156.5,320.34 155.35,320.94 155.57,319.66 154.65,318.76 155.93,318.58ZM158.5,318.76 159.07,319.91 160.33,320.09 159.42,320.98 159.63,322.24 158.5,321.65 157.37,322.24 157.58,320.98 156.67,320.09 157.93,319.91ZM160.5,315.6 161.06,316.73 162.31,316.91 161.4,317.79 161.62,319.04 160.5,318.45 159.38,319.04 159.6,317.79 158.69,316.91 159.94,316.73ZM162.5,317.24 163.05,318.36 164.29,318.54 163.39,319.41 163.6,320.64 162.5,320.06 161.4,320.64 161.61,319.41 160.71,318.54 161.95,318.36ZM164.5,315.31 165.05,316.41 166.27,316.59 165.38,317.45 165.59,318.66 164.5,318.09 163.41,318.66 163.62,317.45 162.73,316.59 163.95,316.41ZM166.5,316.71 167.04,317.81 168.26,317.98 167.38,318.84 167.59,320.05 166.5,319.48 165.41,320.05 165.62,318.84 164.74,317.98 165.96,317.81ZM168.5,315.59 169.04,316.69 170.26,316.87 169.38,317.73 169.59,318.94 168.5,318.37 167.41,318.94 167.62,317.73 166.74,316.87 167.96,316.69ZM170.5,315.35 171.04,316.46 172.26,316.63 171.38,317.49 171.59,318.7 170.5,318.13 169.41,318.7 169.62,317.49 168.74,316.63 169.96,316.46ZM172.5,316.42 173.04,317.52 174.26,317.7 173.38,318.55 173.59,319.76 172.5,319.19 171.41,319.76 171.62,318.55 170.74,317.7 171.96,317.52ZM174.5,315.06 175.04,316.17 176.26,316.34 175.38,317.2 175.59,318.41 174.5,317.84 173.41,318.41 173.62,317.2 172.74,316.34 173.96,316.17ZM176.5,316.71 177.04,317.82 178.26,317.99 177.38,318.85 177.59,320.06 176.5,319.49 175.41,320.06 175.62,318.85 174.74,317.99 175.96,317.82ZM178.5,315.75 179.04,316.85 180.26,317.03 179.38,317.88 179.59,319.1 178.5,318.52 177.41,319.1 177.62,317.88 176.74,317.03 177.96,316.85ZM180.5,315.9 181.04,317 182.26,317.18 181.38,318.03 181.59,319.24 180.5,318.67 179.41,319.24 179.62,318.03 178.74,317.18 179.96,317ZM182.5,314.8 183.04,315.9 184.26,316.08 183.38,316.94 183.59,318.15 182.5,317.58 181.41,318.15 181.62,316.94 180.74,316.08 181.96,315.9ZM184.5,315.8 185.04,316.9 186.26,317.08 185.38,317.93 185.59,319.14 184.5,318.57 183.41,319.14 183.62,317.93 182.74,317.08 183.96,316.9ZM186.5,314.05 187.04,315.15 188.26,315.33 187.38,316.19 187.59,317.4 186.5,316.83 185.41,317.4 185.62,316.19 184.74,315.33 185.96,315.15ZM188.5,314.41 189.04,315.51 190.26,315.69 189.38,316.55 189.59,317.76 188.5,317.19 187.41,317.76 187.62,316.55 186.74,315.69 187.96,315.51ZM190.5,314.09 191.04,315.19 192.26,315.37 191.38,316.22 191.59,317.44 190.5,316.86 189.41,317.44 189.62,316.22 188.74,315.37 189.96,315.19ZM192.5,312.48 193.04,313.58 194.26,313.76 193.38,314.62 193.59,315.83 192.5,315.26 191.41,315.83 191.62,314.62 190.74,313.76 191.96,313.58ZM194.5,314.13 195.04,315.24 196.26,315.41 195.38,316.27 195.59,317.48 194.5,316.91 193.41,317.48 193.62,316.27 192.74,315.41 193.96,315.24ZM196.5,313.87 197.04,314.97 198.26,315.15 197.38,316 197.59,317.22 196.5,316.64 195.41,317.22 195.62,316 194.74,315.15 195.96,314.97ZM198.5,313.83 199.04,314.93 200.26,315.1 199.38,315.96 199.59,317.17 198.5,316.6 197.41,317.17 197.62,315.96 196.74,315.1 197.96,314.93ZM200.5,312.94 201.04,314.04 202.26,314.22 201.38,315.08 201.59,316.29 200.5,315.72 199.41,316.29 199.62,315.08 198.74,314.22 199.96,314.04ZM202.5,312.84 203.04,313.95 204.26,314.12 203.38,314.98 203.59,316.19 202.5,315.62 201.41,316.19 201.62,314.98 200.74,314.12 201.96,313.95ZM204.5,314.2 205.04,315.3 206.26,315.48 205.38,316.34 205.59,317.55 204.5,316.98 203.41,317.55 203.62,316.34 202.74,315.48 203.96,315.3ZM206.5,315.73 207.04,316.83 208.26,317.01 207.38,317.86 207.59,319.07 206.5,318.5 205.41,319.07 205.62,317.86 204.74,317.01 205.96,316.83ZM208.5,311.83 209.04,312.93 210.26,313.11 209.38,313.96 209.59,315.18 208.5,314.6 207.41,315.18 207.62,313.96 206.74,313.11 207.96,312.93ZM210.5,312.61 211.04,313.71 212.26,313.88 211.38,314.74 211.59,315.95 210.5,315.38 209.41,315.95 209.62,314.74 208.74,313.88 209.96,313.71ZM212.5,311.13 213.04,312.23 214.26,312.41 213.38,313.26 213.59,314.47 212.5,313.9 211.41,314.47 211.62,313.26 210.74,312.41 211.96,312.23ZM214.5,313.28 215.04,314.38 216.26,314.56 215.38,315.42 215.59,316.63 214.5,316.06 213.41,316.63 213.62,315.42 212.74,314.56 213.96,314.38ZM216.5,314.13 217.04,315.23 218.26,315.4 217.38,316.26 217.59,317.47 216.5,316.9 215.41,317.47 215.62,316.26 214.74,315.4 215.96,315.23ZM218.5,315.69 219.04,316.79 220.26,316.97 219.38,317.83 219.59,319.04 218.5,318.47 217.41,319.04 217.62,317.83 216.74,316.97 217.96,316.79ZM220.5,311.85 221.04,312.95 222.26,313.13 221.38,313.99 221.59,315.2 220.5,314.62 219.41,315.2 219.62,313.99 218.74,313.13 219.96,312.95ZM222.5,313.73 223.04,314.83 224.26,315.01 223.38,315.86 223.59,317.08 222.5,316.5 221.41,317.08 221.62,315.86 220.74,315.01 221.96,314.83ZM224.5,313.26 225.04,314.37 226.26,314.54 225.38,315.4 225.59,316.61 224.5,316.04 223.41,316.61 223.62,315.4 222.74,314.54 223.96,314.37ZM226.5,314.32 227.04,315.42 228.26,315.6 227.38,316.46 227.59,317.67 226.5,317.1 225.41,317.67 225.62,316.46 224.74,315.6 225.96,315.42ZM228.5,313.42 229.04,314.52 230.26,314.7 229.38,315.56 229.59,316.77 228.5,316.2 227.41,316.77 227.62,315.56 226.74,314.7 227.96,314.52ZM230.5,313.15 231.04,314.25 232.26,314.42 231.38,315.28 231.59,316.49 230.5,315.92 229.41,316.49 229.62,315.28 228.74,314.42 229.96,314.25ZM232.5,314.3 233.04,315.4 234.26,315.58 233.38,316.43 233.59,317.64 232.5,317.07 231.41,317.64 231.62,316.43 230.74,315.58 231.96,315.4ZM234.5,315.43 235.04,316.53 236.26,316.7 235.38,317.56 235.59,318.77 234.5,318.2 233.41,318.77 233.62,317.56 232.74,316.7 233.96,316.53ZM236.5,310.45 237.04,311.55 238.26,311.73 237.38,312.59 237.59,313.8 236.5,313.23 235.41,313.8 235.62,312.59 234.74,311.73 235.96,311.55ZM238.5,312.75 239.04,313.85 240.26,314.03 239.38,314.88 239.59,316.09 238.5,315.52 237.41,316.09 237.62,314.88 236.74,314.03 237.96,313.85ZM240.5,313.61 241.04,314.71 242.26,314.89 241.38,315.75 241.59,316.96 240.5,316.39 239.41,316.96 239.62,315.75 238.74,314.89 239.96,314.71ZM242.5,313.36 243.04,314.47 244.26,314.64 243.38,315.5 243.59,316.71 242.5,316.14 241.41,316.71 241.62,315.5 240.74,314.64 241.96,314.47ZM244.5,313.03 245.04,314.13 246.26,314.3 245.38,315.16 245.59,316.37 244.5,315.8 243.41,316.37 243.62,315.16 242.74,314.3 243.96,314.13ZM246.5,311.82 247.04,312.92 248.26,313.1 247.38,313.95 247.59,315.16 246.5,314.59 245.41,315.16 245.62,313.95 244.74,313.1 245.96,312.92ZM248.5,312.25 249.04,313.36 250.26,313.53 249.38,314.39 249.59,315.6 248.5,315.03 247.41,315.6 247.62,314.39 246.74,313.53 247.96,313.36ZM250.5,314.14 251.04,315.24 252.26,315.42 251.38,316.28 251.59,317.49 250.5,316.92 249.41,317.49 249.62,316.28 248.74,315.42 249.96,315.24ZM252.5,314.39 253.04,315.49 254.26,315.67 253.38,316.53 253.59,317.74 252.5,317.17 251.41,317.74 251.62,316.53 250.74,315.67 251.96,315.49ZM254.5,312.58 255.04,313.68 256.26,313.85 255.38,314.71 255.59,315.92 254.5,315.35 253.41,315.92 253.62,314.71 252.74,313.85 253.96,313.68ZM256.5,309.9 257.04,311 258.26,311.17 257.38,312.03 257.59,313.24 256.5,312.67 255.41,313.24 255.62,312.03 254.74,311.17 255.96,311ZM258.7,318.2 259.26,319.33 260.51,319.51 259.6,320.39 259.82,321.64 258.7,321.05 257.58,321.64 257.8,320.39 256.89,319.51 258.14,319.33Z" fill="#f00" stroke="#f00" stroke-width="0.6" stroke-linejoin="round"/><path d="M79.66,238v1.6M117.21,238v2.6M154.77,238v1.6M192.33,238v2.6M229.89,238v1.6M267.44,238v2.6M42.1,349.1h-3M42.1,331.97h-2M42.1,314.83h-3M42.1,297.7h-2M42.1,280.56h-3M42.1,263.43h-2M42.1,246.29h-3M305,349.1h3M305,333.54h2M305,317.97h3M305,302.41h2M305,286.84h3M305,271.28h2M305,255.71h3M305,240.15h2" fill="none" stroke="#000" stroke-width="1.3"/><path d="M42.1,450.43 42.85,450.18 43.6,449.94 44.35,449.7 45.1,449.49 45.86,449.26 46.61,448.95 47.36,448.54 48.11,448.06 48.86,447.5 49.61,446.86 50.36,446.07 51.11,445.18 51.86,444.2 52.62,443.09 53.37,441.81 54.12,440.33 54.87,438.5 55.62,436.49 56.37,434.28 57.12,432.11 57.87,430.26 58.63,427.59 59.38,424.14 60.13,420.38 60.88,416.54 61.63,412.81 62.38,408.55 63.13,402.53 63.88,395.61 64.63,387.89 65.39,380.45 66.14,374.21 66.89,370.27 67.64,366.64 68.39,364.32 69.14,362.79 69.89,362.44 70.64,363.88 71.39,365.9 72.15,368.12 72.9,371.28 73.65,375.6 74.4,378.96 75.15,382.57 75.9,386.83 76.65,391.14 77.4,395.47 78.15,399.59 78.91,403.15 79.66,406.38 80.41,409.37 81.16,412.18 81.91,414.74 82.66,416.83 83.41,418.61 84.16,420.59 84.92,422.69 85.67,424.61 86.42,426.26 87.17,427.76 87.92,429.11 88.67,430.36 89.42,431.52 90.17,432.57 90.92,433.5 91.68,434.35 92.43,435.14 93.18,435.86 93.93,436.48 94.68,437.01 95.43,437.49 96.18,437.93 96.93,438.33 97.68,438.71 98.44,439.06 99.19,439.4 99.94,439.72 100.69,440.02 101.44,440.29 102.19,440.52 102.94,440.71 103.69,440.89 104.44,441.07 105.2,441.23 105.95,441.36 106.7,441.46 107.45,441.52 108.2,441.52 108.95,441.48 109.7,441.4 110.45,441.29 111.21,441.16 111.96,441.02 112.71,440.85 113.46,440.58 114.21,440.23 114.96,439.82 115.71,439.38 116.46,438.92 117.21,438.4 117.97,437.83 118.72,437.2 119.47,436.55 120.22,435.87 120.97,435.18 121.72,434.44 122.47,433.64 123.22,432.81 123.97,431.98 124.73,431.17 125.48,430.4 126.23,429.64 126.98,428.89 127.73,428.14 128.48,427.4 129.23,426.65 129.98,425.87 130.73,425.07 131.49,424.29 132.24,423.57 132.99,422.94 133.74,422.34 134.49,421.77 135.24,421.26 135.99,420.86 136.74,420.57 137.5,420.3 138.25,420.06 139,419.84 139.75,419.65 140.5,419.52 141.25,419.44 142,419.42 142.75,419.46 143.5,419.55 144.26,419.68 145.01,419.83 145.76,420 146.51,420.18 147.26,420.36 148.01,420.58 148.76,420.84 149.51,421.13 150.26,421.4 151.02,421.7 151.77,422.03 152.52,422.37 153.27,422.71 154.02,423.01 154.77,423.26 155.52,423.46 156.27,423.57 157.02,423.66 157.78,423.75 158.53,423.83 159.28,423.89 160.03,423.95 160.78,423.99 161.53,424.01 162.28,424.01 163.03,424 163.79,423.98 164.54,423.96 165.29,423.93 166.04,423.91 166.79,423.89 167.54,423.88 168.29,423.88 169.04,423.9 169.79,423.94 170.55,423.99 171.3,424.06 172.05,424.13 172.8,424.22 173.55,424.33 174.3,424.48 175.05,424.66 175.8,424.87 176.55,425.08 177.31,425.3 178.06,425.54 178.81,425.82 179.56,426.1 180.31,426.38 181.06,426.65 181.81,426.89 182.56,427.13 183.31,427.35 184.07,427.58 184.82,427.81 185.57,428.05 186.32,428.31 187.07,428.6 187.82,428.9 188.57,429.2 189.32,429.48 190.08,429.72 190.83,429.96 191.58,430.19 192.33,430.39 193.08,430.56 193.83,430.66 194.58,430.73 195.33,430.79 196.08,430.84 196.84,430.89 197.59,430.92 198.34,430.95 199.09,430.96 199.84,430.97 200.59,430.93 201.34,430.87 202.09,430.78 202.84,430.67 203.6,430.53 204.35,430.38 205.1,430.22 205.85,430.05 206.6,429.88 207.35,429.71 208.1,429.55 208.85,429.39 209.6,429.21 210.36,429.02 211.11,428.82 211.86,428.61 212.61,428.4 213.36,428.2 214.11,428 214.86,427.82 215.61,427.63 216.37,427.45 217.12,427.26 217.87,427.08 218.62,426.91 219.37,426.74 220.12,426.58 220.87,426.43 221.62,426.27 222.37,426.11 223.13,425.97 223.88,425.84 224.63,425.73 225.38,425.64 226.13,425.56 226.88,425.47 227.63,425.39 228.38,425.31 229.13,425.23 229.89,425.16 230.64,425.1 231.39,425.04 232.14,424.99 232.89,424.95 233.64,424.92 234.39,424.91 235.14,424.9 235.89,424.9 236.65,424.9 237.4,424.9 238.15,424.9 238.9,424.9 239.65,424.9 240.4,424.9 241.15,424.9 241.9,424.9 242.66,424.9 243.41,424.9 244.16,424.9 244.91,424.92 245.66,424.94 246.41,424.97 247.16,425 247.91,425.05 248.66,425.09 249.42,425.15 250.17,425.2 250.92,425.26 251.67,425.32 252.42,425.38 253.17,425.45 253.92,425.51 254.67,425.56 255.42,425.62 256.18,425.69 256.93,425.76 257.68,425.83 258.43,425.91 259.18,425.98 259.93,426.05 260.68,426.11 261.43,426.18 262.18,426.25 262.94,426.33 263.69,426.4 264.44,426.47 265.19,426.55 265.94,426.62 266.69,426.69 267.44,426.76 268.19,426.83 268.95,426.9 269.7,426.96 270.45,427.02 271.2,427.08 271.95,427.14 272.7,427.19 273.45,427.24 274.2,427.29 274.95,427.32 275.71,427.36 276.46,427.39 277.21,427.42 277.96,427.45 278.71,427.48 279.46,427.5 280.21,427.53 280.96,427.56 281.71,427.58 282.47,427.6 283.22,427.63 283.97,427.65 284.72,427.66 285.47,427.68 286.22,427.69 286.97,427.7 287.72,427.71 288.47,427.71 289.23,427.71 289.98,427.71 290.73,427.7 291.48,427.69 292.23,427.68 292.98,427.66 293.73,427.64 294.48,427.62 295.24,427.59 295.99,427.56 296.74,427.53 297.49,427.5 298.24,427.46 298.99,427.42 299.74,427.37 300.49,427.33 301.24,427.28 302,427.23 302.75,427.17 303.5,427.11 304.25,427.05 305,426.99" fill="none" stroke="#000" stroke-width="0.8"/><path d="M40.6,450.43a1.5,1.5 0 1,0 3,0a1.5,1.5 0 1,0 -3,0M41.35,450.18a1.5,1.5 0 1,0 3,0a1.5,1.5 0 1,0 -3,0M42.1,449.94a1.5,1.5 0 1,0 3,0a1.5,1.5 0 1,0 -3,0M42.85,449.7a1.5,1.5 0 1,0 3,0a1.5,1.5 0 1,0 -3,0M43.6,449.49a1.5,1.5 0 1,0 3,0a1.5,1.5 0 1,0 -3,0M44.36,449.26a1.5,1.5 0 1,0 3,0a1.5,1.5 0 1,0 -3,0M45.11,448.95a1.5,1.5 0 1,0 3,0a1.5,1.5 0 1,0 -3,0M45.86,448.54a1.5,1.5 0 1,0 3,0a1.5,1.5 0 1,0 -3,0M46.61,448.06a1.5,1.5 0 1,0 3,0a1.5,1.5 0 1,0 -3,0M47.36,447.5a1.5,1.5 0 1,0 3,0a1.5,1.5 0 1,0 -3,0M48.11,446.86a1.5,1.5 0 1,0 3,0a1.5,1.5 0 1,0 -3,0M48.86,446.07a1.5,1.5 0 1,0 3,0a1.5,1.5 0 1,0 -3,0M49.61,445.18a1.5,1.5 0 1,0 3,0a1.5,1.5 0 1,0 -3,0M50.36,444.2a1.5,1.5 0 1,0 3,0a1.5,1.5 0 1,0 -3,0M51.12,443.09a1.5,1.5 0 1,0 3,0a1.5,1.5 0 1,0 -3,0M51.87,441.81a1.5,1.5 0 1,0 3,0a1.5,1.5 0 1,0 -3,0M52.62,440.33a1.5,1.5 0 1,0 3,0a1.5,1.5 0 1,0 -3,0M53.37,438.5a1.5,1.5 0 1,0 3,0a1.5,1.5 0 1,0 -3,0M54.12,436.49a1.5,1.5 0 1,0 3,0a1.5,1.5 0 1,0 -3,0M54.87,434.28a1.5,1.5 0 1,0 3,0a1.5,1.5 0 1,0 -3,0M55.62,432.11a1.5,1.5 0 1,0 3,0a1.5,1.5 0 1,0 -3,0M56.37,430.26a1.5,1.5 0 1,0 3,0a1.5,1.5 0 1,0 -3,0M57.13,427.59a1.5,1.5 0 1,0 3,0a1.5,1.5 0 1,0 -3,0M57.88,424.14a1.5,1.5 0 1,0 3,0a1.5,1.5 0 1,0 -3,0M58.63,420.38a1.5,1.5 0 1,0 3,0a1.5,1.5 0 1,0 -3,0M59.38,416.54a1.5,1.5 0 1,0 3,0a1.5,1.5 0 1,0 -3,0M60.13,412.81a1.5,1.5 0 1,0 3,0a1.5,1.5 0 1,0 -3,0M60.88,408.55a1.5,1.5 0 1,0 3,0a1.5,1.5 0 1,0 -3,0M61.63,402.53a1.5,1.5 0 1,0 3,0a1.5,1.5 0 1,0 -3,0M62.38,395.61a1.5,1.5 0 1,0 3,0a1.5,1.5 0 1,0 -3,0M63.13,387.89a1.5,1.5 0 1,0 3,0a1.5,1.5 0 1,0 -3,0M63.89,380.45a1.5,1.5 0 1,0 3,0a1.5,1.5 0 1,0 -3,0M64.64,374.21a1.5,1.5 0 1,0 3,0a1.5,1.5 0 1,0 -3,0M65.39,370.27a1.5,1.5 0 1,0 3,0a1.5,1.5 0 1,0 -3,0M66.14,366.64a1.5,1.5 0 1,0 3,0a1.5,1.5 0 1,0 -3,0M66.89,364.32a1.5,1.5 0 1,0 3,0a1.5,1.5 0 1,0 -3,0M67.64,362.79a1.5,1.5 0 1,0 3,0a1.5,1.5 0 1,0 -3,0M68.39,362.44a1.5,1.5 0 1,0 3,0a1.5,1.5 0 1,0 -3,0M69.14,363.88a1.5,1.5 0 1,0 3,0a1.5,1.5 0 1,0 -3,0M69.89,365.9a1.5,1.5 0 1,0 3,0a1.5,1.5 0 1,0 -3,0M70.65,368.12a1.5,1.5 0 1,0 3,0a1.5,1.5 0 1,0 -3,0M71.4,371.28a1.5,1.5 0 1,0 3,0a1.5,1.5 0 1,0 -3,0M72.15,375.6a1.5,1.5 0 1,0 3,0a1.5,1.5 0 1,0 -3,0M72.9,378.96a1.5,1.5 0 1,0 3,0a1.5,1.5 0 1,0 -3,0M73.65,382.57a1.5,1.5 0 1,0 3,0a1.5,1.5 0 1,0 -3,0M74.4,386.83a1.5,1.5 0 1,0 3,0a1.5,1.5 0 1,0 -3,0M75.15,391.14a1.5,1.5 0 1,0 3,0a1.5,1.5 0 1,0 -3,0M75.9,395.47a1.5,1.5 0 1,0 3,0a1.5,1.5 0 1,0 -3,0M76.65,399.59a1.5,1.5 0 1,0 3,0a1.5,1.5 0 1,0 -3,0M77.41,403.15a1.5,1.5 0 1,0 3,0a1.5,1.5 0 1,0 -3,0M78.16,406.38a1.5,1.5 0 1,0 3,0a1.5,1.5 0 1,0 -3,0M78.91,409.37a1.5,1.5 0 1,0 3,0a1.5,1.5 0 1,0 -3,0M79.66,412.18a1.5,1.5 0 1,0 3,0a1.5,1.5 0 1,0 -3,0M80.41,414.74a1.5,1.5 0 1,0 3,0a1.5,1.5 0 1,0 -3,0M81.16,416.83a1.5,1.5 0 1,0 3,0a1.5,1.5 0 1,0 -3,0M81.91,418.61a1.5,1.5 0 1,0 3,0a1.5,1.5 0 1,0 -3,0M82.66,420.59a1.5,1.5 0 1,0 3,0a1.5,1.5 0 1,0 -3,0M83.42,422.69a1.5,1.5 0 1,0 3,0a1.5,1.5 0 1,0 -3,0M84.17,424.61a1.5,1.5 0 1,0 3,0a1.5,1.5 0 1,0 -3,0M84.92,426.26a1.5,1.5 0 1,0 3,0a1.5,1.5 0 1,0 -3,0M85.67,427.76a1.5,1.5 0 1,0 3,0a1.5,1.5 0 1,0 -3,0M86.42,429.11a1.5,1.5 0 1,0 3,0a1.5,1.5 0 1,0 -3,0M87.17,430.36a1.5,1.5 0 1,0 3,0a1.5,1.5 0 1,0 -3,0M87.92,431.52a1.5,1.5 0 1,0 3,0a1.5,1.5 0 1,0 -3,0M88.67,432.57a1.5,1.5 0 1,0 3,0a1.5,1.5 0 1,0 -3,0M89.42,433.5a1.5,1.5 0 1,0 3,0a1.5,1.5 0 1,0 -3,0M90.18,434.35a1.5,1.5 0 1,0 3,0a1.5,1.5 0 1,0 -3,0M90.93,435.14a1.5,1.5 0 1,0 3,0a1.5,1.5 0 1,0 -3,0M91.68,435.86a1.5,1.5 0 1,0 3,0a1.5,1.5 0 1,0 -3,0M92.43,436.48a1.5,1.5 0 1,0 3,0a1.5,1.5 0 1,0 -3,0M93.18,437.01a1.5,1.5 0 1,0 3,0a1.5,1.5 0 1,0 -3,0M93.93,437.49a1.5,1.5 0 1,0 3,0a1.5,1.5 0 1,0 -3,0M94.68,437.93a1.5,1.5 0 1,0 3,0a1.5,1.5 0 1,0 -3,0M95.43,438.33a1.5,1.5 0 1,0 3,0a1.5,1.5 0 1,0 -3,0M96.18,438.71a1.5,1.5 0 1,0 3,0a1.5,1.5 0 1,0 -3,0M96.94,439.06a1.5,1.5 0 1,0 3,0a1.5,1.5 0 1,0 -3,0M97.69,439.4a1.5,1.5 0 1,0 3,0a1.5,1.5 0 1,0 -3,0M98.44,439.72a1.5,1.5 0 1,0 3,0a1.5,1.5 0 1,0 -3,0M99.19,440.02a1.5,1.5 0 1,0 3,0a1.5,1.5 0 1,0 -3,0M99.94,440.29a1.5,1.5 0 1,0 3,0a1.5,1.5 0 1,0 -3,0M100.69,440.52a1.5,1.5 0 1,0 3,0a1.5,1.5 0 1,0 -3,0M101.44,440.71a1.5,1.5 0 1,0 3,0a1.5,1.5 0 1,0 -3,0M102.19,440.89a1.5,1.5 0 1,0 3,0a1.5,1.5 0 1,0 -3,0M102.94,441.07a1.5,1.5 0 1,0 3,0a1.5,1.5 0 1,0 -3,0M103.7,441.23a1.5,1.5 0 1,0 3,0a1.5,1.5 0 1,0 -3,0M104.45,441.36a1.5,1.5 0 1,0 3,0a1.5,1.5 0 1,0 -3,0M105.2,441.46a1.5,1.5 0 1,0 3,0a1.5,1.5 0 1,0 -3,0M105.95,441.52a1.5,1.5 0 1,0 3,0a1.5,1.5 0 1,0 -3,0M106.7,441.52a1.5,1.5 0 1,0 3,0a1.5,1.5 0 1,0 -3,0M107.45,441.48a1.5,1.5 0 1,0 3,0a1.5,1.5 0 1,0 -3,0M108.2,441.4a1.5,1.5 0 1,0 3,0a1.5,1.5 0 1,0 -3,0M108.95,441.29a1.5,1.5 0 1,0 3,0a1.5,1.5 0 1,0 -3,0M109.71,441.16a1.5,1.5 0 1,0 3,0a1.5,1.5 0 1,0 -3,0M110.46,441.02a1.5,1.5 0 1,0 3,0a1.5,1.5 0 1,0 -3,0M111.21,440.85a1.5,1.5 0 1,0 3,0a1.5,1.5 0 1,0 -3,0M111.96,440.58a1.5,1.5 0 1,0 3,0a1.5,1.5 0 1,0 -3,0M112.71,440.23a1.5,1.5 0 1,0 3,0a1.5,1.5 0 1,0 -3,0M113.46,439.82a1.5,1.5 0 1,0 3,0a1.5,1.5 0 1,0 -3,0M114.21,439.38a1.5,1.5 0 1,0 3,0a1.5,1.5 0 1,0 -3,0M114.96,438.92a1.5,1.5 0 1,0 3,0a1.5,1.5 0 1,0 -3,0M115.71,438.4a1.5,1.5 0 1,0 3,0a1.5,1.5 0 1,0 -3,0M116.47,437.83a1.5,1.5 0 1,0 3,0a1.5,1.5 0 1,0 -3,0M117.22,437.2a1.5,1.5 0 1,0 3,0a1.5,1.5 0 1,0 -3,0M117.97,436.55a1.5,1.5 0 1,0 3,0a1.5,1.5 0 1,0 -3,0M118.72,435.87a1.5,1.5 0 1,0 3,0a1.5,1.5 0 1,0 -3,0M119.47,435.18a1.5,1.5 0 1,0 3,0a1.5,1.5 0 1,0 -3,0M120.22,434.44a1.5,1.5 0 1,0 3,0a1.5,1.5 0 1,0 -3,0M120.97,433.64a1.5,1.5 0 1,0 3,0a1.5,1.5 0 1,0 -3,0M121.72,432.81a1.5,1.5 0 1,0 3,0a1.5,1.5 0 1,0 -3,0M122.47,431.98a1.5,1.5 0 1,0 3,0a1.5,1.5 0 1,0 -3,0M123.23,431.17a1.5,1.5 0 1,0 3,0a1.5,1.5 0 1,0 -3,0M123.98,430.4a1.5,1.5 0 1,0 3,0a1.5,1.5 0 1,0 -3,0M124.73,429.64a1.5,1.5 0 1,0 3,0a1.5,1.5 0 1,0 -3,0M125.48,428.89a1.5,1.5 0 1,0 3,0a1.5,1.5 0 1,0 -3,0M126.23,428.14a1.5,1.5 0 1,0 3,0a1.5,1.5 0 1,0 -3,0M126.98,427.4a1.5,1.5 0 1,0 3,0a1.5,1.5 0 1,0 -3,0M127.73,426.65a1.5,1.5 0 1,0 3,0a1.5,1.5 0 1,0 -3,0M128.48,425.87a1.5,1.5 0 1,0 3,0a1.5,1.5 0 1,0 -3,0M129.23,425.07a1.5,1.5 0 1,0 3,0a1.5,1.5 0 1,0 -3,0M129.99,424.29a1.5,1.5 0 1,0 3,0a1.5,1.5 0 1,0 -3,0M130.74,423.57a1.5,1.5 0 1,0 3,0a1.5,1.5 0 1,0 -3,0M131.49,422.94a1.5,1.5 0 1,0 3,0a1.5,1.5 0 1,0 -3,0M132.24,422.34a1.5,1.5 0 1,0 3,0a1.5,1.5 0 1,0 -3,0M132.99,421.77a1.5,1.5 0 1,0 3,0a1.5,1.5 0 1,0 -3,0M133.74,421.26a1.5,1.5 0 1,0 3,0a1.5,1.5 0 1,0 -3,0M134.49,420.86a1.5,1.5 0 1,0 3,0a1.5,1.5 0 1,0 -3,0M135.24,420.57a1.5,1.5 0 1,0 3,0a1.5,1.5 0 1,0 -3,0M136,420.3a1.5,1.5 0 1,0 3,0a1.5,1.5 0 1,0 -3,0M136.75,420.06a1.5,1.5 0 1,0 3,0a1.5,1.5 0 1,0 -3,0M137.5,419.84a1.5,1.5 0 1,0 3,0a1.5,1.5 0 1,0 -3,0M138.25,419.65a1.5,1.5 0 1,0 3,0a1.5,1.5 0 1,0 -3,0M139,419.52a1.5,1.5 0 1,0 3,0a1.5,1.5 0 1,0 -3,0M139.75,419.44a1.5,1.5 0 1,0 3,0a1.5,1.5 0 1,0 -3,0M140.5,419.42a1.5,1.5 0 1,0 3,0a1.5,1.5 0 1,0 -3,0M141.25,419.46a1.5,1.5 0 1,0 3,0a1.5,1.5 0 1,0 -3,0M142,419.55a1.5,1.5 0 1,0 3,0a1.5,1.5 0 1,0 -3,0M142.76,419.68a1.5,1.5 0 1,0 3,0a1.5,1.5 0 1,0 -3,0M143.51,419.83a1.5,1.5 0 1,0 3,0a1.5,1.5 0 1,0 -3,0M144.26,420a1.5,1.5 0 1,0 3,0a1.5,1.5 0 1,0 -3,0M145.01,420.18a1.5,1.5 0 1,0 3,0a1.5,1.5 0 1,0 -3,0M145.76,420.36a1.5,1.5 0 1,0 3,0a1.5,1.5 0 1,0 -3,0M146.51,420.58a1.5,1.5 0 1,0 3,0a1.5,1.5 0 1,0 -3,0M147.26,420.84a1.5,1.5 0 1,0 3,0a1.5,1.5 0 1,0 -3,0M148.01,421.13a1.5,1.5 0 1,0 3,0a1.5,1.5 0 1,0 -3,0M148.76,421.4a1.5,1.5 0 1,0 3,0a1.5,1.5 0 1,0 -3,0M149.52,421.7a1.5,1.5 0 1,0 3,0a1.5,1.5 0 1,0 -3,0M150.27,422.03a1.5,1.5 0 1,0 3,0a1.5,1.5 0 1,0 -3,0M151.02,422.37a1.5,1.5 0 1,0 3,0a1.5,1.5 0 1,0 -3,0M151.77,422.71a1.5,1.5 0 1,0 3,0a1.5,1.5 0 1,0 -3,0M152.52,423.01a1.5,1.5 0 1,0 3,0a1.5,1.5 0 1,0 -3,0M153.27,423.26a1.5,1.5 0 1,0 3,0a1.5,1.5 0 1,0 -3,0M154.02,423.46a1.5,1.5 0 1,0 3,0a1.5,1.5 0 1,0 -3,0M154.77,423.57a1.5,1.5 0 1,0 3,0a1.5,1.5 0 1,0 -3,0M155.52,423.66a1.5,1.5 0 1,0 3,0a1.5,1.5 0 1,0 -3,0M156.28,423.75a1.5,1.5 0 1,0 3,0a1.5,1.5 0 1,0 -3,0M157.03,423.83a1.5,1.5 0 1,0 3,0a1.5,1.5 0 1,0 -3,0M157.78,423.89a1.5,1.5 0 1,0 3,0a1.5,1.5 0 1,0 -3,0M158.53,423.95a1.5,1.5 0 1,0 3,0a1.5,1.5 0 1,0 -3,0M159.28,423.99a1.5,1.5 0 1,0 3,0a1.5,1.5 0 1,0 -3,0M160.03,424.01a1.5,1.5 0 1,0 3,0a1.5,1.5 0 1,0 -3,0M160.78,424.01a1.5,1.5 0 1,0 3,0a1.5,1.5 0 1,0 -3,0M161.53,424a1.5,1.5 0 1,0 3,0a1.5,1.5 0 1,0 -3,0M162.29,423.98a1.5,1.5 0 1,0 3,0a1.5,1.5 0 1,0 -3,0M163.04,423.96a1.5,1.5 0 1,0 3,0a1.5,1.5 0 1,0 -3,0M163.79,423.93a1.5,1.5 0 1,0 3,0a1.5,1.5 0 1,0 -3,0M164.54,423.91a1.5,1.5 0 1,0 3,0a1.5,1.5 0 1,0 -3,0M165.29,423.89a1.5,1.5 0 1,0 3,0a1.5,1.5 0 1,0 -3,0M166.04,423.88a1.5,1.5 0 1,0 3,0a1.5,1.5 0 1,0 -3,0M166.79,423.88a1.5,1.5 0 1,0 3,0a1.5,1.5 0 1,0 -3,0M167.54,423.9a1.5,1.5 0 1,0 3,0a1.5,1.5 0 1,0 -3,0M168.29,423.94a1.5,1.5 0 1,0 3,0a1.5,1.5 0 1,0 -3,0M169.05,423.99a1.5,1.5 0 1,0 3,0a1.5,1.5 0 1,0 -3,0M169.8,424.06a1.5,1.5 0 1,0 3,0a1.5,1.5 0 1,0 -3,0M170.55,424.13a1.5,1.5 0 1,0 3,0a1.5,1.5 0 1,0 -3,0M171.3,424.22a1.5,1.5 0 1,0 3,0a1.5,1.5 0 1,0 -3,0M172.05,424.33a1.5,1.5 0 1,0 3,0a1.5,1.5 0 1,0 -3,0M172.8,424.48a1.5,1.5 0 1,0 3,0a1.5,1.5 0 1,0 -3,0M173.55,424.66a1.5,1.5 0 1,0 3,0a1.5,1.5 0 1,0 -3,0M174.3,424.87a1.5,1.5 0 1,0 3,0a1.5,1.5 0 1,0 -3,0M175.05,425.08a1.5,1.5 0 1,0 3,0a1.5,1.5 0 1,0 -3,0M175.81,425.3a1.5,1.5 0 1,0 3,0a1.5,1.5 0 1,0 -3,0M176.56,425.54a1.5,1.5 0 1,0 3,0a1.5,1.5 0 1,0 -3,0M177.31,425.82a1.5,1.5 0 1,0 3,0a1.5,1.5 0 1,0 -3,0M178.06,426.1a1.5,1.5 0 1,0 3,0a1.5,1.5 0 1,0 -3,0M178.81,426.38a1.5,1.5 0 1,0 3,0a1.5,1.5 0 1,0 -3,0M179.56,426.65a1.5,1.5 0 1,0 3,0a1.5,1.5 0 1,0 -3,0M180.31,426.89a1.5,1.5 0 1,0 3,0a1.5,1.5 0 1,0 -3,0M181.06,427.13a1.5,1.5 0 1,0 3,0a1.5,1.5 0 1,0 -3,0M181.81,427.35a1.5,1.5 0 1,0 3,0a1.5,1.5 0 1,0 -3,0M182.57,427.58a1.5,1.5 0 1,0 3,0a1.5,1.5 0 1,0 -3,0M183.32,427.81a1.5,1.5 0 1,0 3,0a1.5,1.5 0 1,0 -3,0M184.07,428.05a1.5,1.5 0 1,0 3,0a1.5,1.5 0 1,0 -3,0M184.82,428.31a1.5,1.5 0 1,0 3,0a1.5,1.5 0 1,0 -3,0M185.57,428.6a1.5,1.5 0 1,0 3,0a1.5,1.5 0 1,0 -3,0M186.32,428.9a1.5,1.5 0 1,0 3,0a1.5,1.5 0 1,0 -3,0M187.07,429.2a1.5,1.5 0 1,0 3,0a1.5,1.5 0 1,0 -3,0M187.82,429.48a1.5,1.5 0 1,0 3,0a1.5,1.5 0 1,0 -3,0M188.58,429.72a1.5,1.5 0 1,0 3,0a1.5,1.5 0 1,0 -3,0M189.33,429.96a1.5,1.5 0 1,0 3,0a1.5,1.5 0 1,0 -3,0M190.08,430.19a1.5,1.5 0 1,0 3,0a1.5,1.5 0 1,0 -3,0M190.83,430.39a1.5,1.5 0 1,0 3,0a1.5,1.5 0 1,0 -3,0M191.58,430.56a1.5,1.5 0 1,0 3,0a1.5,1.5 0 1,0 -3,0M192.33,430.66a1.5,1.5 0 1,0 3,0a1.5,1.5 0 1,0 -3,0M193.08,430.73a1.5,1.5 0 1,0 3,0a1.5,1.5 0 1,0 -3,0M193.83,430.79a1.5,1.5 0 1,0 3,0a1.5,1.5 0 1,0 -3,0M194.58,430.84a1.5,1.5 0 1,0 3,0a1.5,1.5 0 1,0 -3,0M195.34,430.89a1.5,1.5 0 1,0 3,0a1.5,1.5 0 1,0 -3,0M196.09,430.92a1.5,1.5 0 1,0 3,0a1.5,1.5 0 1,0 -3,0M196.84,430.95a1.5,1.5 0 1,0 3,0a1.5,1.5 0 1,0 -3,0M197.59,430.96a1.5,1.5 0 1,0 3,0a1.5,1.5 0 1,0 -3,0M198.34,430.97a1.5,1.5 0 1,0 3,0a1.5,1.5 0 1,0 -3,0M199.09,430.93a1.5,1.5 0 1,0 3,0a1.5,1.5 0 1,0 -3,0M199.84,430.87a1.5,1.5 0 1,0 3,0a1.5,1.5 0 1,0 -3,0M200.59,430.78a1.5,1.5 0 1,0 3,0a1.5,1.5 0 1,0 -3,0M201.34,430.67a1.5,1.5 0 1,0 3,0a1.5,1.5 0 1,0 -3,0M202.1,430.53a1.5,1.5 0 1,0 3,0a1.5,1.5 0 1,0 -3,0M202.85,430.38a1.5,1.5 0 1,0 3,0a1.5,1.5 0 1,0 -3,0M203.6,430.22a1.5,1.5 0 1,0 3,0a1.5,1.5 0 1,0 -3,0M204.35,430.05a1.5,1.5 0 1,0 3,0a1.5,1.5 0 1,0 -3,0M205.1,429.88a1.5,1.5 0 1,0 3,0a1.5,1.5 0 1,0 -3,0M205.85,429.71a1.5,1.5 0 1,0 3,0a1.5,1.5 0 1,0 -3,0M206.6,429.55a1.5,1.5 0 1,0 3,0a1.5,1.5 0 1,0 -3,0M207.35,429.39a1.5,1.5 0 1,0 3,0a1.5,1.5 0 1,0 -3,0M208.1,429.21a1.5,1.5 0 1,0 3,0a1.5,1.5 0 1,0 -3,0M208.86,429.02a1.5,1.5 0 1,0 3,0a1.5,1.5 0 1,0 -3,0M209.61,428.82a1.5,1.5 0 1,0 3,0a1.5,1.5 0 1,0 -3,0M210.36,428.61a1.5,1.5 0 1,0 3,0a1.5,1.5 0 1,0 -3,0M211.11,428.4a1.5,1.5 0 1,0 3,0a1.5,1.5 0 1,0 -3,0M211.86,428.2a1.5,1.5 0 1,0 3,0a1.5,1.5 0 1,0 -3,0M212.61,428a1.5,1.5 0 1,0 3,0a1.5,1.5 0 1,0 -3,0M213.36,427.82a1.5,1.5 0 1,0 3,0a1.5,1.5 0 1,0 -3,0M214.11,427.63a1.5,1.5 0 1,0 3,0a1.5,1.5 0 1,0 -3,0M214.87,427.45a1.5,1.5 0 1,0 3,0a1.5,1.5 0 1,0 -3,0M215.62,427.26a1.5,1.5 0 1,0 3,0a1.5,1.5 0 1,0 -3,0M216.37,427.08a1.5,1.5 0 1,0 3,0a1.5,1.5 0 1,0 -3,0M217.12,426.91a1.5,1.5 0 1,0 3,0a1.5,1.5 0 1,0 -3,0M217.87,426.74a1.5,1.5 0 1,0 3,0a1.5,1.5 0 1,0 -3,0M218.62,426.58a1.5,1.5 0 1,0 3,0a1.5,1.5 0 1,0 -3,0M219.37,426.43a1.5,1.5 0 1,0 3,0a1.5,1.5 0 1,0 -3,0M220.12,426.27a1.5,1.5 0 1,0 3,0a1.5,1.5 0 1,0 -3,0M220.87,426.11a1.5,1.5 0 1,0 3,0a1.5,1.5 0 1,0 -3,0M221.63,425.97a1.5,1.5 0 1,0 3,0a1.5,1.5 0 1,0 -3,0M222.38,425.84a1.5,1.5 0 1,0 3,0a1.5,1.5 0 1,0 -3,0M223.13,425.73a1.5,1.5 0 1,0 3,0a1.5,1.5 0 1,0 -3,0M223.88,425.64a1.5,1.5 0 1,0 3,0a1.5,1.5 0 1,0 -3,0M224.63,425.56a1.5,1.5 0 1,0 3,0a1.5,1.5 0 1,0 -3,0M225.38,425.47a1.5,1.5 0 1,0 3,0a1.5,1.5 0 1,0 -3,0M226.13,425.39a1.5,1.5 0 1,0 3,0a1.5,1.5 0 1,0 -3,0M226.88,425.31a1.5,1.5 0 1,0 3,0a1.5,1.5 0 1,0 -3,0M227.63,425.23a1.5,1.5 0 1,0 3,0a1.5,1.5 0 1,0 -3,0M228.39,425.16a1.5,1.5 0 1,0 3,0a1.5,1.5 0 1,0 -3,0M229.14,425.1a1.5,1.5 0 1,0 3,0a1.5,1.5 0 1,0 -3,0M229.89,425.04a1.5,1.5 0 1,0 3,0a1.5,1.5 0 1,0 -3,0M230.64,424.99a1.5,1.5 0 1,0 3,0a1.5,1.5 0 1,0 -3,0M231.39,424.95a1.5,1.5 0 1,0 3,0a1.5,1.5 0 1,0 -3,0M232.14,424.92a1.5,1.5 0 1,0 3,0a1.5,1.5 0 1,0 -3,0M232.89,424.91a1.5,1.5 0 1,0 3,0a1.5,1.5 0 1,0 -3,0M233.64,424.9a1.5,1.5 0 1,0 3,0a1.5,1.5 0 1,0 -3,0M234.39,424.9a1.5,1.5 0 1,0 3,0a1.5,1.5 0 1,0 -3,0M235.15,424.9a1.5,1.5 0 1,0 3,0a1.5,1.5 0 1,0 -3,0M235.9,424.9a1.5,1.5 0 1,0 3,0a1.5,1.5 0 1,0 -3,0M236.65,424.9a1.5,1.5 0 1,0 3,0a1.5,1.5 0 1,0 -3,0M237.4,424.9a1.5,1.5 0 1,0 3,0a1.5,1.5 0 1,0 -3,0M238.15,424.9a1.5,1.5 0 1,0 3,0a1.5,1.5 0 1,0 -3,0M238.9,424.9a1.5,1.5 0 1,0 3,0a1.5,1.5 0 1,0 -3,0M239.65,424.9a1.5,1.5 0 1,0 3,0a1.5,1.5 0 1,0 -3,0M240.4,424.9a1.5,1.5 0 1,0 3,0a1.5,1.5 0 1,0 -3,0M241.16,424.9a1.5,1.5 0 1,0 3,0a1.5,1.5 0 1,0 -3,0M241.91,424.9a1.5,1.5 0 1,0 3,0a1.5,1.5 0 1,0 -3,0M242.66,424.9a1.5,1.5 0 1,0 3,0a1.5,1.5 0 1,0 -3,0M243.41,424.92a1.5,1.5 0 1,0 3,0a1.5,1.5 0 1,0 -3,0M244.16,424.94a1.5,1.5 0 1,0 3,0a1.5,1.5 0 1,0 -3,0M244.91,424.97a1.5,1.5 0 1,0 3,0a1.5,1.5 0 1,0 -3,0M245.66,425a1.5,1.5 0 1,0 3,0a1.5,1.5 0 1,0 -3,0M246.41,425.05a1.5,1.5 0 1,0 3,0a1.5,1.5 0 1,0 -3,0M247.16,425.09a1.5,1.5 0 1,0 3,0a1.5,1.5 0 1,0 -3,0M247.92,425.15a1.5,1.5 0 1,0 3,0a1.5,1.5 0 1,0 -3,0M248.67,425.2a1.5,1.5 0 1,0 3,0a1.5,1.5 0 1,0 -3,0M249.42,425.26a1.5,1.5 0 1,0 3,0a1.5,1.5 0 1,0 -3,0M250.17,425.32a1.5,1.5 0 1,0 3,0a1.5,1.5 0 1,0 -3,0M250.92,425.38a1.5,1.5 0 1,0 3,0a1.5,1.5 0 1,0 -3,0M251.67,425.45a1.5,1.5 0 1,0 3,0a1.5,1.5 0 1,0 -3,0M252.42,425.51a1.5,1.5 0 1,0 3,0a1.5,1.5 0 1,0 -3,0M253.17,425.56a1.5,1.5 0 1,0 3,0a1.5,1.5 0 1,0 -3,0M253.92,425.62a1.5,1.5 0 1,0 3,0a1.5,1.5 0 1,0 -3,0M254.68,425.69a1.5,1.5 0 1,0 3,0a1.5,1.5 0 1,0 -3,0M255.43,425.76a1.5,1.5 0 1,0 3,0a1.5,1.5 0 1,0 -3,0M256.18,425.83a1.5,1.5 0 1,0 3,0a1.5,1.5 0 1,0 -3,0M256.93,425.91a1.5,1.5 0 1,0 3,0a1.5,1.5 0 1,0 -3,0M257.68,425.98a1.5,1.5 0 1,0 3,0a1.5,1.5 0 1,0 -3,0M258.43,426.05a1.5,1.5 0 1,0 3,0a1.5,1.5 0 1,0 -3,0M259.18,426.11a1.5,1.5 0 1,0 3,0a1.5,1.5 0 1,0 -3,0M259.93,426.18a1.5,1.5 0 1,0 3,0a1.5,1.5 0 1,0 -3,0M260.68,426.25a1.5,1.5 0 1,0 3,0a1.5,1.5 0 1,0 -3,0M261.44,426.33a1.5,1.5 0 1,0 3,0a1.5,1.5 0 1,0 -3,0M262.19,426.4a1.5,1.5 0 1,0 3,0a1.5,1.5 0 1,0 -3,0M262.94,426.47a1.5,1.5 0 1,0 3,0a1.5,1.5 0 1,0 -3,0M263.69,426.55a1.5,1.5 0 1,0 3,0a1.5,1.5 0 1,0 -3,0M264.44,426.62a1.5,1.5 0 1,0 3,0a1.5,1.5 0 1,0 -3,0M265.19,426.69a1.5,1.5 0 1,0 3,0a1.5,1.5 0 1,0 -3,0M265.94,426.76a1.5,1.5 0 1,0 3,0a1.5,1.5 0 1,0 -3,0M266.69,426.83a1.5,1.5 0 1,0 3,0a1.5,1.5 0 1,0 -3,0M267.45,426.9a1.5,1.5 0 1,0 3,0a1.5,1.5 0 1,0 -3,0M268.2,426.96a1.5,1.5 0 1,0 3,0a1.5,1.5 0 1,0 -3,0M268.95,427.02a1.5,1.5 0 1,0 3,0a1.5,1.5 0 1,0 -3,0M269.7,427.08a1.5,1.5 0 1,0 3,0a1.5,1.5 0 1,0 -3,0M270.45,427.14a1.5,1.5 0 1,0 3,0a1.5,1.5 0 1,0 -3,0M271.2,427.19a1.5,1.5 0 1,0 3,0a1.5,1.5 0 1,0 -3,0M271.95,427.24a1.5,1.5 0 1,0 3,0a1.5,1.5 0 1,0 -3,0M272.7,427.29a1.5,1.5 0 1,0 3,0a1.5,1.5 0 1,0 -3,0M273.45,427.32a1.5,1.5 0 1,0 3,0a1.5,1.5 0 1,0 -3,0M274.21,427.36a1.5,1.5 0 1,0 3,0a1.5,1.5 0 1,0 -3,0M274.96,427.39a1.5,1.5 0 1,0 3,0a1.5,1.5 0 1,0 -3,0M275.71,427.42a1.5,1.5 0 1,0 3,0a1.5,1.5 0 1,0 -3,0M276.46,427.45a1.5,1.5 0 1,0 3,0a1.5,1.5 0 1,0 -3,0M277.21,427.48a1.5,1.5 0 1,0 3,0a1.5,1.5 0 1,0 -3,0M277.96,427.5a1.5,1.5 0 1,0 3,0a1.5,1.5 0 1,0 -3,0M278.71,427.53a1.5,1.5 0 1,0 3,0a1.5,1.5 0 1,0 -3,0M279.46,427.56a1.5,1.5 0 1,0 3,0a1.5,1.5 0 1,0 -3,0M280.21,427.58a1.5,1.5 0 1,0 3,0a1.5,1.5 0 1,0 -3,0M280.97,427.6a1.5,1.5 0 1,0 3,0a1.5,1.5 0 1,0 -3,0M281.72,427.63a1.5,1.5 0 1,0 3,0a1.5,1.5 0 1,0 -3,0M282.47,427.65a1.5,1.5 0 1,0 3,0a1.5,1.5 0 1,0 -3,0M283.22,427.66a1.5,1.5 0 1,0 3,0a1.5,1.5 0 1,0 -3,0M283.97,427.68a1.5,1.5 0 1,0 3,0a1.5,1.5 0 1,0 -3,0M284.72,427.69a1.5,1.5 0 1,0 3,0a1.5,1.5 0 1,0 -3,0M285.47,427.7a1.5,1.5 0 1,0 3,0a1.5,1.5 0 1,0 -3,0M286.22,427.71a1.5,1.5 0 1,0 3,0a1.5,1.5 0 1,0 -3,0M286.97,427.71a1.5,1.5 0 1,0 3,0a1.5,1.5 0 1,0 -3,0M287.73,427.71a1.5,1.5 0 1,0 3,0a1.5,1.5 0 1,0 -3,0M288.48,427.71a1.5,1.5 0 1,0 3,0a1.5,1.5 0 1,0 -3,0M289.23,427.7a1.5,1.5 0 1,0 3,0a1.5,1.5 0 1,0 -3,0M289.98,427.69a1.5,1.5 0 1,0 3,0a1.5,1.5 0 1,0 -3,0M290.73,427.68a1.5,1.5 0 1,0 3,0a1.5,1.5 0 1,0 -3,0M291.48,427.66a1.5,1.5 0 1,0 3,0a1.5,1.5 0 1,0 -3,0M292.23,427.64a1.5,1.5 0 1,0 3,0a1.5,1.5 0 1,0 -3,0M292.98,427.62a1.5,1.5 0 1,0 3,0a1.5,1.5 0 1,0 -3,0M293.74,427.59a1.5,1.5 0 1,0 3,0a1.5,1.5 0 1,0 -3,0M294.49,427.56a1.5,1.5 0 1,0 3,0a1.5,1.5 0 1,0 -3,0M295.24,427.53a1.5,1.5 0 1,0 3,0a1.5,1.5 0 1,0 -3,0M295.99,427.5a1.5,1.5 0 1,0 3,0a1.5,1.5 0 1,0 -3,0M296.74,427.46a1.5,1.5 0 1,0 3,0a1.5,1.5 0 1,0 -3,0M297.49,427.42a1.5,1.5 0 1,0 3,0a1.5,1.5 0 1,0 -3,0M298.24,427.37a1.5,1.5 0 1,0 3,0a1.5,1.5 0 1,0 -3,0M298.99,427.33a1.5,1.5 0 1,0 3,0a1.5,1.5 0 1,0 -3,0M299.74,427.28a1.5,1.5 0 1,0 3,0a1.5,1.5 0 1,0 -3,0M300.5,427.23a1.5,1.5 0 1,0 3,0a1.5,1.5 0 1,0 -3,0M301.25,427.17a1.5,1.5 0 1,0 3,0a1.5,1.5 0 1,0 -3,0M302,427.11a1.5,1.5 0 1,0 3,0a1.5,1.5 0 1,0 -3,0M302.75,427.05a1.5,1.5 0 1,0 3,0a1.5,1.5 0 1,0 -3,0M303.5,426.99a1.5,1.5 0 1,0 3,0a1.5,1.5 0 1,0 -3,0" fill="#000"/><path d="M70.9,413.53V422.47M69.9,413.53H71.9M69.9,422.47H71.9M73.6,407.75V415.65M72.6,407.75H74.6M72.6,415.65H74.6M75.8,414.85V425.75M74.8,414.85H76.8M74.8,425.75H76.8M78.5,416.98V424.42M77.5,416.98H79.5M77.5,424.42H79.5M80.8,416.49V426.71M79.8,416.49H81.8M79.8,426.71H81.8M83,413V422.2M82,413H84M82,422.2H84M85.3,419.73V427.07M84.3,419.73H86.3M84.3,427.07H86.3M88.4,414.38V424.42M87.4,414.38H89.4M87.4,424.42H89.4M91.1,423.39V430.61M90.1,423.39H92.1M90.1,430.61H92.1M93.8,420.4V430M92.8,420.4H94.8M92.8,430H94.8M96.1,419.69V427.11M95.1,419.69H97.1M95.1,427.11H97.1M97.9,412.03V419.57M96.9,412.03H98.9M96.9,419.57H98.9M99.2,429.43V438.97M98.2,429.43H100.2M98.2,438.97H100.2M101.5,415.62V427.58M100.5,415.62H102.5M100.5,427.58H102.5M103.7,422.73V430.47M102.7,422.73H104.7M102.7,430.47H104.7M106.4,423.73V432.07M105.4,423.73H107.4M105.4,432.07H107.4M108.2,425.22V435.98M107.2,425.22H109.2M107.2,435.98H109.2M111,417.56V430.24M110,417.56H112M110,430.24H112M112.7,412.77V423.23M111.7,412.77H113.7M111.7,423.23H113.7M114.5,416.91V426.29M113.5,416.91H115.5M113.5,426.29H115.5M117.3,419.57V432.43M116.3,419.57H118.3M116.3,432.43H118.3M120,418.86V426.14M119,418.86H121M119,426.14H121M122.2,412.32V424.48M121.2,412.32H123.2M121.2,424.48H123.2M124.4,426.43V435.17M123.4,426.43H125.4M123.4,435.17H125.4M127.3,423.17V431.03M126.3,423.17H128.3M126.3,431.03H128.3M129.5,416.65V424.35M128.5,416.65H130.5M128.5,424.35H130.5M131.7,431.47V440.33M130.7,431.47H132.7M130.7,440.33H132.7M134.6,426.25V438.15M133.6,426.25H135.6M133.6,438.15H135.6M136.8,428.16V436.24M135.8,428.16H137.8M135.8,436.24H137.8M139,416.06V426.54M138,416.06H140M138,426.54H140M141.9,421.68V432.52M140.9,421.68H142.9M140.9,432.52H142.9M144.8,428.38V437.62M143.8,428.38H145.8M143.8,437.62H145.8M149.2,425.66V435.94M148.2,425.66H150.2M148.2,435.94H150.2M152.1,415.41V422.79M151.1,415.41H153.1M151.1,422.79H153.1M154.3,432.92V440.28M153.3,432.92H155.3M153.3,440.28H155.3M156.5,424.48V432.72M155.5,424.48H157.5M155.5,432.72H157.5M159.4,431.76V442.84M158.4,431.76H160.4M158.4,442.84H160.4M163.1,419.42V428.98M162.1,419.42H164.1M162.1,428.98H164.1M166.7,429.26V438.14M165.7,429.26H167.7M165.7,438.14H167.7M169.6,424.74V435.26M168.6,424.74H170.6M168.6,435.26H170.6M171.8,420.84V430.56M170.8,420.84H172.8M170.8,430.56H172.8M174,429.3V438.1M173,429.3H175M173,438.1H175M177.7,418.32V430.08M176.7,418.32H178.7M176.7,430.08H178.7M181.3,422.2V433.4M180.3,422.2H182.3M180.3,433.4H182.3M184.2,422.87V431.33M183.2,422.87H185.2M183.2,431.33H185.2M187.9,426.28V436.72M186.9,426.28H188.9M186.9,436.72H188.9M190.1,419.82V429.98M189.1,419.82H191.1M189.1,429.98H191.1M193,420.27V432.53M192,420.27H194M192,432.53H194M195.2,413.41V424.79M194.2,413.41H196.2M194.2,424.79H196.2M198.8,413.24V421.96M197.8,413.24H199.8M197.8,421.96H199.8M201.8,417.06V429.94M200.8,417.06H202.8M200.8,429.94H202.8M204.7,428.35V436.05M203.7,428.35H205.7M203.7,436.05H205.7M208.3,417.25V426.75M207.3,417.25H209.3M207.3,426.75H209.3M211.2,416.23V427.77M210.2,416.23H212.2M210.2,427.77H212.2M214.2,411.44V419.36M213.2,411.44H215.2M213.2,419.36H215.2M215.6,417.73V427.67M214.6,417.73H216.6M214.6,427.67H216.6" fill="none" stroke="#ff9090" stroke-width="0.8"/><path d="M70.9,418 73.6,411.7 75.8,420.3 78.5,420.7 80.8,421.6 83,417.6 85.3,423.4 88.4,419.4 91.1,427 93.8,425.2 96.1,423.4 97.9,415.8 99.2,434.2 101.5,421.6 103.7,426.6 106.4,427.9 108.2,430.6 111,423.9 112.7,418 114.5,421.6 117.3,426 120,422.5 122.2,418.4 124.4,430.8 127.3,427.1 129.5,420.5 131.7,435.9 134.6,432.2 136.8,432.2 139,421.3 141.9,427.1 144.8,433 149.2,430.8 152.1,419.1 154.3,436.6 156.5,428.6 159.4,437.3 163.1,424.2 166.7,433.7 169.6,430 171.8,425.7 174,433.7 177.7,424.2 181.3,427.8 184.2,427.1 187.9,431.5 190.1,424.9 193,426.4 195.2,419.1 198.8,417.6 201.8,423.5 204.7,432.2 208.3,422 211.2,422 214.2,415.4 215.6,422.7" fill="none" stroke="#ff4040" stroke-width="0.8"/><path d="M70.9,415.9 71.52,417.15 72.9,417.35 71.9,418.32 72.13,419.7 70.9,419.05 69.67,419.7 69.9,418.32 68.9,417.35 70.28,417.15ZM73.6,409.6 74.22,410.85 75.6,411.05 74.6,412.02 74.83,413.4 73.6,412.75 72.37,413.4 72.6,412.02 71.6,411.05 72.98,410.85ZM75.8,418.2 76.42,419.45 77.8,419.65 76.8,420.62 77.03,422 75.8,421.35 74.57,422 74.8,420.62 73.8,419.65 75.18,419.45ZM78.5,418.6 79.12,419.85 80.5,420.05 79.5,421.02 79.73,422.4 78.5,421.75 77.27,422.4 77.5,421.02 76.5,420.05 77.88,419.85ZM80.8,419.5 81.42,420.75 82.8,420.95 81.8,421.92 82.03,423.3 80.8,422.65 79.57,423.3 79.8,421.92 78.8,420.95 80.18,420.75ZM83,415.5 83.62,416.75 85,416.95 84,417.92 84.23,419.3 83,418.65 81.77,419.3 82,417.92 81,416.95 82.38,416.75ZM85.3,421.3 85.92,422.55 87.3,422.75 86.3,423.72 86.53,425.1 85.3,424.45 84.07,425.1 84.3,423.72 83.3,422.75 84.68,422.55ZM88.4,417.3 89.02,418.55 90.4,418.75 89.4,419.72 89.63,421.1 88.4,420.45 87.17,421.1 87.4,419.72 86.4,418.75 87.78,418.55ZM91.1,424.9 91.72,426.15 93.1,426.35 92.1,427.32 92.33,428.7 91.1,428.05 89.87,428.7 90.1,427.32 89.1,426.35 90.48,426.15ZM93.8,423.1 94.42,424.35 95.8,424.55 94.8,425.52 95.03,426.9 93.8,426.25 92.57,426.9 92.8,425.52 91.8,424.55 93.18,424.35ZM96.1,421.3 96.72,422.55 98.1,422.75 97.1,423.72 97.33,425.1 96.1,424.45 94.87,425.1 95.1,423.72 94.1,422.75 95.48,422.55ZM97.9,413.7 98.52,414.95 99.9,415.15 98.9,416.12 99.13,417.5 97.9,416.85 96.67,417.5 96.9,416.12 95.9,415.15 97.28,414.95ZM99.2,432.1 99.82,433.35 101.2,433.55 100.2,434.52 100.43,435.9 99.2,435.25 97.97,435.9 98.2,434.52 97.2,433.55 98.58,433.35ZM101.5,419.5 102.12,420.75 103.5,420.95 102.5,421.92 102.73,423.3 101.5,422.65 100.27,423.3 100.5,421.92 99.5,420.95 100.88,420.75ZM103.7,424.5 104.32,425.75 105.7,425.95 104.7,426.92 104.93,428.3 103.7,427.65 102.47,428.3 102.7,426.92 101.7,425.95 103.08,425.75ZM106.4,425.8 107.02,427.05 108.4,427.25 107.4,428.22 107.63,429.6 106.4,428.95 105.17,429.6 105.4,428.22 104.4,427.25 105.78,427.05ZM108.2,428.5 108.82,429.75 110.2,429.95 109.2,430.92 109.43,432.3 108.2,431.65 106.97,432.3 107.2,430.92 106.2,429.95 107.58,429.75ZM111,421.8 111.62,423.05 113,423.25 112,424.22 112.23,425.6 111,424.95 109.77,425.6 110,424.22 109,423.25 110.38,423.05ZM112.7,415.9 113.32,417.15 114.7,417.35 113.7,418.32 113.93,419.7 112.7,419.05 111.47,419.7 111.7,418.32 110.7,417.35 112.08,417.15ZM114.5,419.5 115.12,420.75 116.5,420.95 115.5,421.92 115.73,423.3 114.5,422.65 113.27,423.3 113.5,421.92 112.5,420.95 113.88,420.75ZM117.3,423.9 117.92,425.15 119.3,425.35 118.3,426.32 118.53,427.7 117.3,427.05 116.07,427.7 116.3,426.32 115.3,425.35 116.68,425.15ZM120,420.4 120.62,421.65 122,421.85 121,422.82 121.23,424.2 120,423.55 118.77,424.2 119,422.82 118,421.85 119.38,421.65ZM122.2,416.3 122.82,417.55 124.2,417.75 123.2,418.72 123.43,420.1 122.2,419.45 120.97,420.1 121.2,418.72 120.2,417.75 121.58,417.55ZM124.4,428.7 125.02,429.95 126.4,430.15 125.4,431.12 125.63,432.5 124.4,431.85 123.17,432.5 123.4,431.12 122.4,430.15 123.78,429.95ZM127.3,425 127.92,426.25 129.3,426.45 128.3,427.42 128.53,428.8 127.3,428.15 126.07,428.8 126.3,427.42 125.3,426.45 126.68,426.25ZM129.5,418.4 130.12,419.65 131.5,419.85 130.5,420.82 130.73,422.2 129.5,421.55 128.27,422.2 128.5,420.82 127.5,419.85 128.88,419.65ZM131.7,433.8 132.32,435.05 133.7,435.25 132.7,436.22 132.93,437.6 131.7,436.95 130.47,437.6 130.7,436.22 129.7,435.25 131.08,435.05ZM134.6,430.1 135.22,431.35 136.6,431.55 135.6,432.52 135.83,433.9 134.6,433.25 133.37,433.9 133.6,432.52 132.6,431.55 133.98,431.35ZM136.8,430.1 137.42,431.35 138.8,431.55 137.8,432.52 138.03,433.9 136.8,433.25 135.57,433.9 135.8,432.52 134.8,431.55 136.18,431.35ZM139,419.2 139.62,420.45 141,420.65 140,421.62 140.23,423 139,422.35 137.77,423 138,421.62 137,420.65 138.38,420.45ZM141.9,425 142.52,426.25 143.9,426.45 142.9,427.42 143.13,428.8 141.9,428.15 140.67,428.8 140.9,427.42 139.9,426.45 141.28,426.25ZM144.8,430.9 145.42,432.15 146.8,432.35 145.8,433.32 146.03,434.7 144.8,434.05 143.57,434.7 143.8,433.32 142.8,432.35 144.18,432.15ZM149.2,428.7 149.82,429.95 151.2,430.15 150.2,431.12 150.43,432.5 149.2,431.85 147.97,432.5 148.2,431.12 147.2,430.15 148.58,429.95ZM152.1,417 152.72,418.25 154.1,418.45 153.1,419.42 153.33,420.8 152.1,420.15 150.87,420.8 151.1,419.42 150.1,418.45 151.48,418.25ZM154.3,434.5 154.92,435.75 156.3,435.95 155.3,436.92 155.53,438.3 154.3,437.65 153.07,438.3 153.3,436.92 152.3,435.95 153.68,435.75ZM156.5,426.5 157.12,427.75 158.5,427.95 157.5,428.92 157.73,430.3 156.5,429.65 155.27,430.3 155.5,428.92 154.5,427.95 155.88,427.75ZM159.4,435.2 160.02,436.45 161.4,436.65 160.4,437.62 160.63,439 159.4,438.35 158.17,439 158.4,437.62 157.4,436.65 158.78,436.45ZM163.1,422.1 163.72,423.35 165.1,423.55 164.1,424.52 164.33,425.9 163.1,425.25 161.87,425.9 162.1,424.52 161.1,423.55 162.48,423.35ZM166.7,431.6 167.32,432.85 168.7,433.05 167.7,434.02 167.93,435.4 166.7,434.75 165.47,435.4 165.7,434.02 164.7,433.05 166.08,432.85ZM169.6,427.9 170.22,429.15 171.6,429.35 170.6,430.32 170.83,431.7 169.6,431.05 168.37,431.7 168.6,430.32 167.6,429.35 168.98,429.15ZM171.8,423.6 172.42,424.85 173.8,425.05 172.8,426.02 173.03,427.4 171.8,426.75 170.57,427.4 170.8,426.02 169.8,425.05 171.18,424.85ZM174,431.6 174.62,432.85 176,433.05 175,434.02 175.23,435.4 174,434.75 172.77,435.4 173,434.02 172,433.05 173.38,432.85ZM177.7,422.1 178.32,423.35 179.7,423.55 178.7,424.52 178.93,425.9 177.7,425.25 176.47,425.9 176.7,424.52 175.7,423.55 177.08,423.35ZM181.3,425.7 181.92,426.95 183.3,427.15 182.3,428.12 182.53,429.5 181.3,428.85 180.07,429.5 180.3,428.12 179.3,427.15 180.68,426.95ZM184.2,425 184.82,426.25 186.2,426.45 185.2,427.42 185.43,428.8 184.2,428.15 182.97,428.8 183.2,427.42 182.2,426.45 183.58,426.25ZM187.9,429.4 188.52,430.65 189.9,430.85 188.9,431.82 189.13,433.2 187.9,432.55 186.67,433.2 186.9,431.82 185.9,430.85 187.28,430.65ZM190.1,422.8 190.72,424.05 192.1,424.25 191.1,425.22 191.33,426.6 190.1,425.95 188.87,426.6 189.1,425.22 188.1,424.25 189.48,424.05ZM193,424.3 193.62,425.55 195,425.75 194,426.72 194.23,428.1 193,427.45 191.77,428.1 192,426.72 191,425.75 192.38,425.55ZM195.2,417 195.82,418.25 197.2,418.45 196.2,419.42 196.43,420.8 195.2,420.15 193.97,420.8 194.2,419.42 193.2,418.45 194.58,418.25ZM198.8,415.5 199.42,416.75 200.8,416.95 199.8,417.92 200.03,419.3 198.8,418.65 197.57,419.3 197.8,417.92 196.8,416.95 198.18,416.75ZM201.8,421.4 202.42,422.65 203.8,422.85 202.8,423.82 203.03,425.2 201.8,424.55 200.57,425.2 200.8,423.82 199.8,422.85 201.18,422.65ZM204.7,430.1 205.32,431.35 206.7,431.55 205.7,432.52 205.93,433.9 204.7,433.25 203.47,433.9 203.7,432.52 202.7,431.55 204.08,431.35ZM208.3,419.9 208.92,421.15 210.3,421.35 209.3,422.32 209.53,423.7 208.3,423.05 207.07,423.7 207.3,422.32 206.3,421.35 207.68,421.15ZM211.2,419.9 211.82,421.15 213.2,421.35 212.2,422.32 212.43,423.7 211.2,423.05 209.97,423.7 210.2,422.32 209.2,421.35 210.58,421.15ZM214.2,413.3 214.82,414.55 216.2,414.75 215.2,415.72 215.43,417.1 214.2,416.45 212.97,417.1 213.2,415.72 212.2,414.75 213.58,414.55ZM215.6,420.6 216.22,421.85 217.6,422.05 216.6,423.02 216.83,424.4 215.6,423.75 214.37,424.4 214.6,423.02 213.6,422.05 214.98,421.85Z" fill="#f00" stroke="#f00" stroke-width="0.6" stroke-linejoin="round"/><path d="M42.1,460.2v3.4M79.66,349.1v1.6M79.66,460.2v2.2M117.21,349.1v2.6M117.21,460.2v3.4M154.77,349.1v1.6M154.77,460.2v2.2M192.33,349.1v2.6M192.33,460.2v3.4M229.89,349.1v1.6M229.89,460.2v2.2M267.44,349.1v2.6M267.44,460.2v3.4M305,460.2v2.2M42.1,460.2h-3M42.1,443.07h-2M42.1,425.93h-3M42.1,408.8h-2M42.1,391.66h-3M42.1,374.53h-2M42.1,357.39h-3M305,460.2h3M305,442.8h2M305,425.4h3M305,408h2M305,390.6h3M305,373.2h2M305,355.8h3" fill="none" stroke="#000" stroke-width="1.3"/><path d="M386.9,126 388.77,125.7 390.65,125.46 392.52,125.2 394.4,124.51 396.27,123.4 398.15,122.12 400.02,120.62 401.9,118.23 403.77,115.54 405.65,112.25 407.52,106.87 409.4,97.9 411.27,85.04 413.15,69.49 415.02,52.45 416.9,37.8 418.77,27.93 420.65,24.94 422.52,28.83 424.4,37.5 426.27,48.56 428.15,60.22 430.02,70.69 431.9,79.36 433.77,86.83 435.65,92.22 437.52,97 439.4,101.1 441.27,104 443.15,106.51 445.02,108.6 446.9,110.69 448.77,112.07 450.65,113.13 452.52,113.98 454.4,114.68 456.27,115.22 458.15,115.69 460.02,115.8 461.9,115.64 463.77,115.35 465.65,114.49 467.52,113.47 469.4,112.31 471.27,111.08 473.15,109.75 475.02,108.33 476.9,106.69 478.77,103.95 480.65,101.5 482.52,99.06 484.4,96.46 486.27,93.99 488.15,91.2 490.02,88.63 491.9,85.82 493.77,83.95 495.65,83.19 497.52,83.19 499.4,83.68 501.27,84.87 503.15,85.97 505.02,87.16 506.9,88.4 508.77,89.65 510.65,90.87 512.52,92.01 514.4,92.76 516.27,93.31 518.15,93.53 520.02,93.6 521.9,93.65 523.77,93.73 525.65,93.89 527.52,94.15 529.4,94.51 531.27,95.1 533.15,95.74 535.02,96.37 536.9,97.05 538.77,97.83 540.65,98.63 542.52,99.24 544.4,99.79 546.27,100.54 548.15,101.38 550.02,101.94 551.9,102.39 553.77,102.53 555.65,102.41 557.52,102.15 559.4,101.81 561.27,101.07 563.15,100.04 565.02,99.09 566.9,98.33 568.77,97.6 570.65,96.93 572.52,96.3 574.4,95.7 576.27,95.16 578.15,94.73 580.02,94.36 581.9,94.02 583.77,93.78 585.65,93.69 587.52,93.65 589.4,93.61 591.27,93.6 593.15,93.59 595.02,93.62 596.9,93.66 598.77,93.73 600.65,93.82 602.52,93.92 604.4,94.12 606.27,94.4 608.15,94.73 610.02,95.05 611.9,95.42 613.77,95.83 615.65,96.19 617.52,96.44 619.4,96.61 621.27,96.77 623.15,96.9 625.02,97.02 626.9,97.12 628.77,97.21 630.65,97.3 632.52,97.38 634.4,97.46 636.27,97.54 638.15,97.61 640.02,97.67 641.9,97.73 643.77,97.79 645.65,97.83 647.52,97.87 649.4,97.9" fill="none" stroke="#000" stroke-width="0.8"/><path d="M385.4,126a1.5,1.5 0 1,0 3,0a1.5,1.5 0 1,0 -3,0M387.27,125.7a1.5,1.5 0 1,0 3,0a1.5,1.5 0 1,0 -3,0M389.15,125.46a1.5,1.5 0 1,0 3,0a1.5,1.5 0 1,0 -3,0M391.02,125.2a1.5,1.5 0 1,0 3,0a1.5,1.5 0 1,0 -3,0M392.9,124.51a1.5,1.5 0 1,0 3,0a1.5,1.5 0 1,0 -3,0M394.77,123.4a1.5,1.5 0 1,0 3,0a1.5,1.5 0 1,0 -3,0M396.65,122.12a1.5,1.5 0 1,0 3,0a1.5,1.5 0 1,0 -3,0M398.52,120.62a1.5,1.5 0 1,0 3,0a1.5,1.5 0 1,0 -3,0M400.4,118.23a1.5,1.5 0 1,0 3,0a1.5,1.5 0 1,0 -3,0M402.27,115.54a1.5,1.5 0 1,0 3,0a1.5,1.5 0 1,0 -3,0M404.15,112.25a1.5,1.5 0 1,0 3,0a1.5,1.5 0 1,0 -3,0M406.02,106.87a1.5,1.5 0 1,0 3,0a1.5,1.5 0 1,0 -3,0M407.9,97.9a1.5,1.5 0 1,0 3,0a1.5,1.5 0 1,0 -3,0M409.77,85.04a1.5,1.5 0 1,0 3,0a1.5,1.5 0 1,0 -3,0M411.65,69.49a1.5,1.5 0 1,0 3,0a1.5,1.5 0 1,0 -3,0M413.52,52.45a1.5,1.5 0 1,0 3,0a1.5,1.5 0 1,0 -3,0M415.4,37.8a1.5,1.5 0 1,0 3,0a1.5,1.5 0 1,0 -3,0M417.27,27.93a1.5,1.5 0 1,0 3,0a1.5,1.5 0 1,0 -3,0M419.15,24.94a1.5,1.5 0 1,0 3,0a1.5,1.5 0 1,0 -3,0M421.02,28.83a1.5,1.5 0 1,0 3,0a1.5,1.5 0 1,0 -3,0M422.9,37.5a1.5,1.5 0 1,0 3,0a1.5,1.5 0 1,0 -3,0M424.77,48.56a1.5,1.5 0 1,0 3,0a1.5,1.5 0 1,0 -3,0M426.65,60.22a1.5,1.5 0 1,0 3,0a1.5,1.5 0 1,0 -3,0M428.52,70.69a1.5,1.5 0 1,0 3,0a1.5,1.5 0 1,0 -3,0M430.4,79.36a1.5,1.5 0 1,0 3,0a1.5,1.5 0 1,0 -3,0M432.27,86.83a1.5,1.5 0 1,0 3,0a1.5,1.5 0 1,0 -3,0M434.15,92.22a1.5,1.5 0 1,0 3,0a1.5,1.5 0 1,0 -3,0M436.02,97a1.5,1.5 0 1,0 3,0a1.5,1.5 0 1,0 -3,0M437.9,101.1a1.5,1.5 0 1,0 3,0a1.5,1.5 0 1,0 -3,0M439.77,104a1.5,1.5 0 1,0 3,0a1.5,1.5 0 1,0 -3,0M441.65,106.51a1.5,1.5 0 1,0 3,0a1.5,1.5 0 1,0 -3,0M443.52,108.6a1.5,1.5 0 1,0 3,0a1.5,1.5 0 1,0 -3,0M445.4,110.69a1.5,1.5 0 1,0 3,0a1.5,1.5 0 1,0 -3,0M447.27,112.07a1.5,1.5 0 1,0 3,0a1.5,1.5 0 1,0 -3,0M449.15,113.13a1.5,1.5 0 1,0 3,0a1.5,1.5 0 1,0 -3,0M451.02,113.98a1.5,1.5 0 1,0 3,0a1.5,1.5 0 1,0 -3,0M452.9,114.68a1.5,1.5 0 1,0 3,0a1.5,1.5 0 1,0 -3,0M454.77,115.22a1.5,1.5 0 1,0 3,0a1.5,1.5 0 1,0 -3,0M456.65,115.69a1.5,1.5 0 1,0 3,0a1.5,1.5 0 1,0 -3,0M458.52,115.8a1.5,1.5 0 1,0 3,0a1.5,1.5 0 1,0 -3,0M460.4,115.64a1.5,1.5 0 1,0 3,0a1.5,1.5 0 1,0 -3,0M462.27,115.35a1.5,1.5 0 1,0 3,0a1.5,1.5 0 1,0 -3,0M464.15,114.49a1.5,1.5 0 1,0 3,0a1.5,1.5 0 1,0 -3,0M466.02,113.47a1.5,1.5 0 1,0 3,0a1.5,1.5 0 1,0 -3,0M467.9,112.31a1.5,1.5 0 1,0 3,0a1.5,1.5 0 1,0 -3,0M469.77,111.08a1.5,1.5 0 1,0 3,0a1.5,1.5 0 1,0 -3,0M471.65,109.75a1.5,1.5 0 1,0 3,0a1.5,1.5 0 1,0 -3,0M473.52,108.33a1.5,1.5 0 1,0 3,0a1.5,1.5 0 1,0 -3,0M475.4,106.69a1.5,1.5 0 1,0 3,0a1.5,1.5 0 1,0 -3,0M477.27,103.95a1.5,1.5 0 1,0 3,0a1.5,1.5 0 1,0 -3,0M479.15,101.5a1.5,1.5 0 1,0 3,0a1.5,1.5 0 1,0 -3,0M481.02,99.06a1.5,1.5 0 1,0 3,0a1.5,1.5 0 1,0 -3,0M482.9,96.46a1.5,1.5 0 1,0 3,0a1.5,1.5 0 1,0 -3,0M484.77,93.99a1.5,1.5 0 1,0 3,0a1.5,1.5 0 1,0 -3,0M486.65,91.2a1.5,1.5 0 1,0 3,0a1.5,1.5 0 1,0 -3,0M488.52,88.63a1.5,1.5 0 1,0 3,0a1.5,1.5 0 1,0 -3,0M490.4,85.82a1.5,1.5 0 1,0 3,0a1.5,1.5 0 1,0 -3,0M492.27,83.95a1.5,1.5 0 1,0 3,0a1.5,1.5 0 1,0 -3,0M494.15,83.19a1.5,1.5 0 1,0 3,0a1.5,1.5 0 1,0 -3,0M496.02,83.19a1.5,1.5 0 1,0 3,0a1.5,1.5 0 1,0 -3,0M497.9,83.68a1.5,1.5 0 1,0 3,0a1.5,1.5 0 1,0 -3,0M499.77,84.87a1.5,1.5 0 1,0 3,0a1.5,1.5 0 1,0 -3,0M501.65,85.97a1.5,1.5 0 1,0 3,0a1.5,1.5 0 1,0 -3,0M503.52,87.16a1.5,1.5 0 1,0 3,0a1.5,1.5 0 1,0 -3,0M505.4,88.4a1.5,1.5 0 1,0 3,0a1.5,1.5 0 1,0 -3,0M507.27,89.65a1.5,1.5 0 1,0 3,0a1.5,1.5 0 1,0 -3,0M509.15,90.87a1.5,1.5 0 1,0 3,0a1.5,1.5 0 1,0 -3,0M511.02,92.01a1.5,1.5 0 1,0 3,0a1.5,1.5 0 1,0 -3,0M512.9,92.76a1.5,1.5 0 1,0 3,0a1.5,1.5 0 1,0 -3,0M514.77,93.31a1.5,1.5 0 1,0 3,0a1.5,1.5 0 1,0 -3,0M516.65,93.53a1.5,1.5 0 1,0 3,0a1.5,1.5 0 1,0 -3,0M518.52,93.6a1.5,1.5 0 1,0 3,0a1.5,1.5 0 1,0 -3,0M520.4,93.65a1.5,1.5 0 1,0 3,0a1.5,1.5 0 1,0 -3,0M522.27,93.73a1.5,1.5 0 1,0 3,0a1.5,1.5 0 1,0 -3,0M524.15,93.89a1.5,1.5 0 1,0 3,0a1.5,1.5 0 1,0 -3,0M526.02,94.15a1.5,1.5 0 1,0 3,0a1.5,1.5 0 1,0 -3,0M527.9,94.51a1.5,1.5 0 1,0 3,0a1.5,1.5 0 1,0 -3,0M529.77,95.1a1.5,1.5 0 1,0 3,0a1.5,1.5 0 1,0 -3,0M531.65,95.74a1.5,1.5 0 1,0 3,0a1.5,1.5 0 1,0 -3,0M533.52,96.37a1.5,1.5 0 1,0 3,0a1.5,1.5 0 1,0 -3,0M535.4,97.05a1.5,1.5 0 1,0 3,0a1.5,1.5 0 1,0 -3,0M537.27,97.83a1.5,1.5 0 1,0 3,0a1.5,1.5 0 1,0 -3,0M539.15,98.63a1.5,1.5 0 1,0 3,0a1.5,1.5 0 1,0 -3,0M541.02,99.24a1.5,1.5 0 1,0 3,0a1.5,1.5 0 1,0 -3,0M542.9,99.79a1.5,1.5 0 1,0 3,0a1.5,1.5 0 1,0 -3,0M544.77,100.54a1.5,1.5 0 1,0 3,0a1.5,1.5 0 1,0 -3,0M546.65,101.38a1.5,1.5 0 1,0 3,0a1.5,1.5 0 1,0 -3,0M548.52,101.94a1.5,1.5 0 1,0 3,0a1.5,1.5 0 1,0 -3,0M550.4,102.39a1.5,1.5 0 1,0 3,0a1.5,1.5 0 1,0 -3,0M552.27,102.53a1.5,1.5 0 1,0 3,0a1.5,1.5 0 1,0 -3,0M554.15,102.41a1.5,1.5 0 1,0 3,0a1.5,1.5 0 1,0 -3,0M556.02,102.15a1.5,1.5 0 1,0 3,0a1.5,1.5 0 1,0 -3,0M557.9,101.81a1.5,1.5 0 1,0 3,0a1.5,1.5 0 1,0 -3,0M559.77,101.07a1.5,1.5 0 1,0 3,0a1.5,1.5 0 1,0 -3,0M561.65,100.04a1.5,1.5 0 1,0 3,0a1.5,1.5 0 1,0 -3,0M563.52,99.09a1.5,1.5 0 1,0 3,0a1.5,1.5 0 1,0 -3,0M565.4,98.33a1.5,1.5 0 1,0 3,0a1.5,1.5 0 1,0 -3,0M567.27,97.6a1.5,1.5 0 1,0 3,0a1.5,1.5 0 1,0 -3,0M569.15,96.93a1.5,1.5 0 1,0 3,0a1.5,1.5 0 1,0 -3,0M571.02,96.3a1.5,1.5 0 1,0 3,0a1.5,1.5 0 1,0 -3,0M572.9,95.7a1.5,1.5 0 1,0 3,0a1.5,1.5 0 1,0 -3,0M574.77,95.16a1.5,1.5 0 1,0 3,0a1.5,1.5 0 1,0 -3,0M576.65,94.73a1.5,1.5 0 1,0 3,0a1.5,1.5 0 1,0 -3,0M578.52,94.36a1.5,1.5 0 1,0 3,0a1.5,1.5 0 1,0 -3,0M580.4,94.02a1.5,1.5 0 1,0 3,0a1.5,1.5 0 1,0 -3,0M582.27,93.78a1.5,1.5 0 1,0 3,0a1.5,1.5 0 1,0 -3,0M584.15,93.69a1.5,1.5 0 1,0 3,0a1.5,1.5 0 1,0 -3,0M586.02,93.65a1.5,1.5 0 1,0 3,0a1.5,1.5 0 1,0 -3,0M587.9,93.61a1.5,1.5 0 1,0 3,0a1.5,1.5 0 1,0 -3,0M589.77,93.6a1.5,1.5 0 1,0 3,0a1.5,1.5 0 1,0 -3,0M591.65,93.59a1.5,1.5 0 1,0 3,0a1.5,1.5 0 1,0 -3,0M593.52,93.62a1.5,1.5 0 1,0 3,0a1.5,1.5 0 1,0 -3,0M595.4,93.66a1.5,1.5 0 1,0 3,0a1.5,1.5 0 1,0 -3,0M597.27,93.73a1.5,1.5 0 1,0 3,0a1.5,1.5 0 1,0 -3,0M599.15,93.82a1.5,1.5 0 1,0 3,0a1.5,1.5 0 1,0 -3,0M601.02,93.92a1.5,1.5 0 1,0 3,0a1.5,1.5 0 1,0 -3,0M602.9,94.12a1.5,1.5 0 1,0 3,0a1.5,1.5 0 1,0 -3,0M604.77,94.4a1.5,1.5 0 1,0 3,0a1.5,1.5 0 1,0 -3,0M606.65,94.73a1.5,1.5 0 1,0 3,0a1.5,1.5 0 1,0 -3,0M608.52,95.05a1.5,1.5 0 1,0 3,0a1.5,1.5 0 1,0 -3,0M610.4,95.42a1.5,1.5 0 1,0 3,0a1.5,1.5 0 1,0 -3,0M612.27,95.83a1.5,1.5 0 1,0 3,0a1.5,1.5 0 1,0 -3,0M614.15,96.19a1.5,1.5 0 1,0 3,0a1.5,1.5 0 1,0 -3,0M616.02,96.44a1.5,1.5 0 1,0 3,0a1.5,1.5 0 1,0 -3,0M617.9,96.61a1.5,1.5 0 1,0 3,0a1.5,1.5 0 1,0 -3,0M619.77,96.77a1.5,1.5 0 1,0 3,0a1.5,1.5 0 1,0 -3,0M621.65,96.9a1.5,1.5 0 1,0 3,0a1.5,1.5 0 1,0 -3,0M623.52,97.02a1.5,1.5 0 1,0 3,0a1.5,1.5 0 1,0 -3,0M625.4,97.12a1.5,1.5 0 1,0 3,0a1.5,1.5 0 1,0 -3,0M627.27,97.21a1.5,1.5 0 1,0 3,0a1.5,1.5 0 1,0 -3,0M629.15,97.3a1.5,1.5 0 1,0 3,0a1.5,1.5 0 1,0 -3,0M631.02,97.38a1.5,1.5 0 1,0 3,0a1.5,1.5 0 1,0 -3,0M632.9,97.46a1.5,1.5 0 1,0 3,0a1.5,1.5 0 1,0 -3,0M634.77,97.54a1.5,1.5 0 1,0 3,0a1.5,1.5 0 1,0 -3,0M636.65,97.61a1.5,1.5 0 1,0 3,0a1.5,1.5 0 1,0 -3,0M638.52,97.67a1.5,1.5 0 1,0 3,0a1.5,1.5 0 1,0 -3,0M640.4,97.73a1.5,1.5 0 1,0 3,0a1.5,1.5 0 1,0 -3,0M642.27,97.79a1.5,1.5 0 1,0 3,0a1.5,1.5 0 1,0 -3,0M644.15,97.83a1.5,1.5 0 1,0 3,0a1.5,1.5 0 1,0 -3,0M646.02,97.87a1.5,1.5 0 1,0 3,0a1.5,1.5 0 1,0 -3,0M647.9,97.9a1.5,1.5 0 1,0 3,0a1.5,1.5 0 1,0 -3,0" fill="#000"/><path d="M387,113.7 388.87,109.45 390.74,105.62 392.61,101.84 394.48,98.94 396.35,95.16 398.22,91.12 400.09,87.58 401.96,84.79 403.83,83.73 405.7,83.56 407.57,84.09 409.44,84.61 411.31,85.09 413.18,85.58 415.05,86.08 416.92,86.58 418.79,87.21 420.66,88.18 422.53,89.19 424.4,89.93 426.27,90.55 428.14,91.12 430.01,91.64 431.88,92.15 433.75,92.89 435.62,93.99 437.49,95.38 439.36,96.84 441.23,98.11 443.1,99.3 444.97,100.34 446.84,101.21 448.71,102 450.58,102.68 452.45,103.19 454.32,103.59 456.19,103.96 458.06,104.26 459.93,104.45 461.8,104.5 463.67,104.4 465.54,104.22 467.41,103.98 469.28,103.7 471.15,103.42 473.02,103.04 474.89,102.6 476.76,102.09 478.63,101.55 480.5,100.92 482.37,100.18 484.24,99.37 486.11,98.56 487.98,97.81 489.85,97.04 491.72,96.28 493.59,95.61 495.46,95.09 497.33,94.69 499.2,94.34 501.07,94.04 502.94,93.75 504.81,93.42 506.68,93.11 508.55,92.88 510.42,92.8 512.29,92.94 514.16,93.25 516.03,93.65 517.9,94.05 519.77,94.39 521.64,94.75 523.51,95.11 525.38,95.49 527.25,95.89 529.12,96.32 530.99,96.8 532.86,97.32 534.73,97.82 536.6,98.28 538.47,98.65 540.34,99 542.21,99.35 544.08,99.63 545.95,99.83 547.82,99.92 549.69,99.97 551.56,100.01 553.43,100.04 555.3,100.07 557.17,100.09 559.04,100.1 560.91,100.07 562.78,99.86 564.65,99.49 566.52,99.02 568.39,98.52 570.26,98.04 572.13,97.65 574,97.38 575.87,97.14 577.74,96.91 579.61,96.7 581.48,96.52 583.35,96.36 585.22,96.25 587.09,96.17 588.96,96.11 590.83,96.05 592.7,95.99 594.57,95.95 596.44,95.92 598.31,95.9 600.18,95.91 602.05,95.97 603.92,96.07 605.79,96.22 607.66,96.38 609.53,96.55 611.4,96.71 613.27,96.85 615.14,96.99 617.01,97.14 618.88,97.29 620.75,97.44 622.62,97.56 624.49,97.66 626.36,97.72 628.23,97.77 630.1,97.82 631.97,97.87 633.84,97.91 635.71,97.95 637.58,97.99 639.45,98.02 641.32,98.05 643.19,98.07 645.06,98.09 646.93,98.1 648.8,98.1" fill="none" stroke="#f00" stroke-width="2"/><path d="M387,110.8 387.72,112.71 389.76,112.8 388.16,114.08 388.7,116.05 387,114.92 385.3,116.05 385.84,114.08 384.24,112.8 386.28,112.71ZM388.87,106.55 389.59,108.46 391.63,108.55 390.03,109.83 390.57,111.8 388.87,110.67 387.17,111.8 387.71,109.83 386.11,108.55 388.15,108.46ZM390.74,102.72 391.46,104.64 393.5,104.73 391.9,106 392.44,107.97 390.74,106.84 389.04,107.97 389.58,106 387.98,104.73 390.02,104.64ZM392.61,98.94 393.33,100.86 395.37,100.95 393.77,102.22 394.31,104.19 392.61,103.06 390.91,104.19 391.45,102.22 389.85,100.95 391.89,100.86ZM394.48,96.04 395.2,97.95 397.24,98.04 395.64,99.31 396.18,101.28 394.48,100.16 392.78,101.28 393.32,99.31 391.72,98.04 393.76,97.95ZM396.35,92.26 397.07,94.18 399.11,94.27 397.51,95.54 398.05,97.51 396.35,96.38 394.65,97.51 395.19,95.54 393.59,94.27 395.63,94.18ZM398.22,88.22 398.94,90.13 400.98,90.22 399.38,91.5 399.92,93.47 398.22,92.34 396.52,93.47 397.06,91.5 395.46,90.22 397.5,90.13ZM400.09,84.68 400.81,86.59 402.85,86.68 401.25,87.95 401.79,89.92 400.09,88.8 398.39,89.92 398.93,87.95 397.33,86.68 399.37,86.59ZM401.96,81.89 402.68,83.8 404.72,83.89 403.12,85.16 403.66,87.13 401.96,86 400.26,87.13 400.8,85.16 399.2,83.89 401.24,83.8ZM403.83,80.83 404.55,82.74 406.59,82.83 404.99,84.11 405.53,86.08 403.83,84.95 402.13,86.08 402.67,84.11 401.07,82.83 403.11,82.74ZM405.7,80.66 406.42,82.58 408.46,82.66 406.86,83.94 407.4,85.91 405.7,84.78 404,85.91 404.54,83.94 402.94,82.66 404.98,82.58ZM407.57,81.19 408.29,83.1 410.33,83.19 408.73,84.46 409.27,86.43 407.57,85.31 405.87,86.43 406.41,84.46 404.81,83.19 406.85,83.1ZM409.44,81.71 410.16,83.63 412.2,83.72 410.6,84.99 411.14,86.96 409.44,85.83 407.74,86.96 408.28,84.99 406.68,83.72 408.72,83.63ZM411.31,82.19 412.03,84.1 414.07,84.19 412.47,85.47 413.01,87.44 411.31,86.31 409.61,87.44 410.15,85.47 408.55,84.19 410.59,84.1ZM413.18,82.68 413.9,84.59 415.94,84.68 414.34,85.95 414.88,87.92 413.18,86.8 411.48,87.92 412.02,85.95 410.42,84.68 412.46,84.59ZM415.05,83.18 415.77,85.09 417.81,85.18 416.21,86.46 416.75,88.43 415.05,87.3 413.35,88.43 413.89,86.46 412.29,85.18 414.33,85.09ZM416.92,83.68 417.64,85.6 419.68,85.69 418.08,86.96 418.62,88.93 416.92,87.8 415.22,88.93 415.76,86.96 414.16,85.69 416.2,85.6ZM418.79,84.31 419.51,86.23 421.55,86.32 419.95,87.59 420.49,89.56 418.79,88.43 417.09,89.56 417.63,87.59 416.03,86.32 418.07,86.23ZM420.66,85.28 421.38,87.19 423.42,87.28 421.82,88.55 422.36,90.52 420.66,89.4 418.96,90.52 419.5,88.55 417.9,87.28 419.94,87.19ZM422.53,86.29 423.25,88.21 425.29,88.3 423.69,89.57 424.23,91.54 422.53,90.41 420.83,91.54 421.37,89.57 419.77,88.3 421.81,88.21ZM424.4,87.03 425.12,88.94 427.16,89.03 425.56,90.31 426.1,92.28 424.4,91.15 422.7,92.28 423.24,90.31 421.64,89.03 423.68,88.94ZM426.27,87.65 426.99,89.56 429.03,89.65 427.43,90.92 427.97,92.89 426.27,91.76 424.57,92.89 425.11,90.92 423.51,89.65 425.55,89.56ZM428.14,88.22 428.86,90.13 430.9,90.22 429.3,91.5 429.84,93.47 428.14,92.34 426.44,93.47 426.98,91.5 425.38,90.22 427.42,90.13ZM430.01,88.74 430.73,90.66 432.77,90.75 431.17,92.02 431.71,93.99 430.01,92.86 428.31,93.99 428.85,92.02 427.25,90.75 429.29,90.66ZM431.88,89.25 432.6,91.16 434.64,91.25 433.04,92.53 433.58,94.5 431.88,93.37 430.18,94.5 430.72,92.53 429.12,91.25 431.16,91.16ZM433.75,89.99 434.47,91.9 436.51,91.99 434.91,93.27 435.45,95.23 433.75,94.11 432.05,95.23 432.59,93.27 430.99,91.99 433.03,91.9ZM435.62,91.09 436.34,93.01 438.38,93.1 436.78,94.37 437.32,96.34 435.62,95.21 433.92,96.34 434.46,94.37 432.86,93.1 434.9,93.01ZM437.49,92.48 438.21,94.4 440.25,94.49 438.65,95.76 439.19,97.73 437.49,96.6 435.79,97.73 436.33,95.76 434.73,94.49 436.77,94.4ZM439.36,93.94 440.08,95.85 442.12,95.94 440.52,97.21 441.06,99.18 439.36,98.06 437.66,99.18 438.2,97.21 436.6,95.94 438.64,95.85ZM441.23,95.21 441.95,97.13 443.99,97.22 442.39,98.49 442.93,100.46 441.23,99.33 439.53,100.46 440.07,98.49 438.47,97.22 440.51,97.13ZM443.1,96.4 443.82,98.31 445.86,98.4 444.26,99.68 444.8,101.65 443.1,100.52 441.4,101.65 441.94,99.68 440.34,98.4 442.38,98.31ZM444.97,97.44 445.69,99.36 447.73,99.45 446.13,100.72 446.67,102.69 444.97,101.56 443.27,102.69 443.81,100.72 442.21,99.45 444.25,99.36ZM446.84,98.31 447.56,100.23 449.6,100.31 448,101.59 448.54,103.56 446.84,102.43 445.14,103.56 445.68,101.59 444.08,100.31 446.12,100.23ZM448.71,99.1 449.43,101.02 451.47,101.11 449.87,102.38 450.41,104.35 448.71,103.22 447.01,104.35 447.55,102.38 445.95,101.11 447.99,101.02ZM450.58,99.78 451.3,101.69 453.34,101.78 451.74,103.06 452.28,105.03 450.58,103.9 448.88,105.03 449.42,103.06 447.82,101.78 449.86,101.69ZM452.45,100.29 453.17,102.2 455.21,102.29 453.61,103.57 454.15,105.54 452.45,104.41 450.75,105.54 451.29,103.57 449.69,102.29 451.73,102.2ZM454.32,100.69 455.04,102.6 457.08,102.69 455.48,103.97 456.02,105.94 454.32,104.81 452.62,105.94 453.16,103.97 451.56,102.69 453.6,102.6ZM456.19,101.06 456.91,102.98 458.95,103.07 457.35,104.34 457.89,106.31 456.19,105.18 454.49,106.31 455.03,104.34 453.43,103.07 455.47,102.98ZM458.06,101.36 458.78,103.28 460.82,103.37 459.22,104.64 459.76,106.61 458.06,105.48 456.36,106.61 456.9,104.64 455.3,103.37 457.34,103.28ZM459.93,101.55 460.65,103.47 462.69,103.56 461.09,104.83 461.63,106.8 459.93,105.67 458.23,106.8 458.77,104.83 457.17,103.56 459.21,103.47ZM461.8,101.6 462.52,103.51 464.56,103.6 462.96,104.87 463.5,106.84 461.8,105.71 460.1,106.84 460.64,104.87 459.04,103.6 461.08,103.51ZM463.67,101.5 464.39,103.42 466.43,103.51 464.83,104.78 465.37,106.75 463.67,105.62 461.97,106.75 462.51,104.78 460.91,103.51 462.95,103.42ZM465.54,101.32 466.26,103.23 468.3,103.32 466.7,104.6 467.24,106.57 465.54,105.44 463.84,106.57 464.38,104.6 462.78,103.32 464.82,103.23ZM467.41,101.08 468.13,102.99 470.17,103.08 468.57,104.35 469.11,106.32 467.41,105.19 465.71,106.32 466.25,104.35 464.65,103.08 466.69,102.99ZM469.28,100.8 470,102.72 472.04,102.81 470.44,104.08 470.98,106.05 469.28,104.92 467.58,106.05 468.12,104.08 466.52,102.81 468.56,102.72ZM471.15,100.52 471.87,102.43 473.91,102.52 472.31,103.79 472.85,105.76 471.15,104.63 469.45,105.76 469.99,103.79 468.39,102.52 470.43,102.43ZM473.02,100.14 473.74,102.06 475.78,102.15 474.18,103.42 474.72,105.39 473.02,104.26 471.32,105.39 471.86,103.42 470.26,102.15 472.3,102.06ZM474.89,99.7 475.61,101.61 477.65,101.7 476.05,102.97 476.59,104.94 474.89,103.82 473.19,104.94 473.73,102.97 472.13,101.7 474.17,101.61ZM476.76,99.19 477.48,101.11 479.52,101.2 477.92,102.47 478.46,104.44 476.76,103.31 475.06,104.44 475.6,102.47 474,101.2 476.04,101.11ZM478.63,98.65 479.35,100.57 481.39,100.65 479.79,101.93 480.33,103.9 478.63,102.77 476.93,103.9 477.47,101.93 475.87,100.65 477.91,100.57ZM480.5,98.02 481.22,99.94 483.26,100.03 481.66,101.3 482.2,103.27 480.5,102.14 478.8,103.27 479.34,101.3 477.74,100.03 479.78,99.94ZM482.37,97.28 483.09,99.19 485.13,99.28 483.53,100.55 484.07,102.52 482.37,101.4 480.67,102.52 481.21,100.55 479.61,99.28 481.65,99.19ZM484.24,96.47 484.96,98.38 487,98.47 485.4,99.75 485.94,101.72 484.24,100.59 482.54,101.72 483.08,99.75 481.48,98.47 483.52,98.38ZM486.11,95.66 486.83,97.58 488.87,97.67 487.27,98.94 487.81,100.91 486.11,99.78 484.41,100.91 484.95,98.94 483.35,97.67 485.39,97.58ZM487.98,94.91 488.7,96.83 490.74,96.92 489.14,98.19 489.68,100.16 487.98,99.03 486.28,100.16 486.82,98.19 485.22,96.92 487.26,96.83ZM489.85,94.14 490.57,96.06 492.61,96.15 491.01,97.42 491.55,99.39 489.85,98.26 488.15,99.39 488.69,97.42 487.09,96.15 489.13,96.06ZM491.72,93.38 492.44,95.3 494.48,95.39 492.88,96.66 493.42,98.63 491.72,97.5 490.02,98.63 490.56,96.66 488.96,95.39 491,95.3ZM493.59,92.71 494.31,94.62 496.35,94.71 494.75,95.98 495.29,97.95 493.59,96.82 491.89,97.95 492.43,95.98 490.83,94.71 492.87,94.62ZM495.46,92.19 496.18,94.1 498.22,94.19 496.62,95.47 497.16,97.44 495.46,96.31 493.76,97.44 494.3,95.47 492.7,94.19 494.74,94.1ZM497.33,91.79 498.05,93.7 500.09,93.79 498.49,95.06 499.03,97.03 497.33,95.9 495.63,97.03 496.17,95.06 494.57,93.79 496.61,93.7ZM499.2,91.44 499.92,93.36 501.96,93.45 500.36,94.72 500.9,96.69 499.2,95.56 497.5,96.69 498.04,94.72 496.44,93.45 498.48,93.36ZM501.07,91.14 501.79,93.05 503.83,93.14 502.23,94.41 502.77,96.38 501.07,95.25 499.37,96.38 499.91,94.41 498.31,93.14 500.35,93.05ZM502.94,90.85 503.66,92.76 505.7,92.85 504.1,94.12 504.64,96.09 502.94,94.96 501.24,96.09 501.78,94.12 500.18,92.85 502.22,92.76ZM504.81,90.52 505.53,92.44 507.57,92.53 505.97,93.8 506.51,95.77 504.81,94.64 503.11,95.77 503.65,93.8 502.05,92.53 504.09,92.44ZM506.68,90.21 507.4,92.13 509.44,92.21 507.84,93.49 508.38,95.46 506.68,94.33 504.98,95.46 505.52,93.49 503.92,92.21 505.96,92.13ZM508.55,89.98 509.27,91.89 511.31,91.98 509.71,93.25 510.25,95.22 508.55,94.1 506.85,95.22 507.39,93.25 505.79,91.98 507.83,91.89ZM510.42,89.9 511.14,91.82 513.18,91.91 511.58,93.18 512.12,95.15 510.42,94.02 508.72,95.15 509.26,93.18 507.66,91.91 509.7,91.82ZM512.29,90.04 513.01,91.96 515.05,92.05 513.45,93.32 513.99,95.29 512.29,94.16 510.59,95.29 511.13,93.32 509.53,92.05 511.57,91.96ZM514.16,90.35 514.88,92.27 516.92,92.35 515.32,93.63 515.86,95.6 514.16,94.47 512.46,95.6 513,93.63 511.4,92.35 513.44,92.27ZM516.03,90.75 516.75,92.66 518.79,92.75 517.19,94.02 517.73,95.99 516.03,94.86 514.33,95.99 514.87,94.02 513.27,92.75 515.31,92.66ZM517.9,91.15 518.62,93.06 520.66,93.15 519.06,94.42 519.6,96.39 517.9,95.26 516.2,96.39 516.74,94.42 515.14,93.15 517.18,93.06ZM519.77,91.49 520.49,93.41 522.53,93.5 520.93,94.77 521.47,96.74 519.77,95.61 518.07,96.74 518.61,94.77 517.01,93.5 519.05,93.41ZM521.64,91.85 522.36,93.76 524.4,93.85 522.8,95.12 523.34,97.09 521.64,95.96 519.94,97.09 520.48,95.12 518.88,93.85 520.92,93.76ZM523.51,92.21 524.23,94.13 526.27,94.21 524.67,95.49 525.21,97.46 523.51,96.33 521.81,97.46 522.35,95.49 520.75,94.21 522.79,94.13ZM525.38,92.59 526.1,94.51 528.14,94.6 526.54,95.87 527.08,97.84 525.38,96.71 523.68,97.84 524.22,95.87 522.62,94.6 524.66,94.51ZM527.25,92.99 527.97,94.91 530.01,94.99 528.41,96.27 528.95,98.24 527.25,97.11 525.55,98.24 526.09,96.27 524.49,94.99 526.53,94.91ZM529.12,93.42 529.84,95.33 531.88,95.42 530.28,96.69 530.82,98.66 529.12,97.53 527.42,98.66 527.96,96.69 526.36,95.42 528.4,95.33ZM530.99,93.9 531.71,95.82 533.75,95.91 532.15,97.18 532.69,99.15 530.99,98.02 529.29,99.15 529.83,97.18 528.23,95.91 530.27,95.82ZM532.86,94.42 533.58,96.33 535.62,96.42 534.02,97.7 534.56,99.67 532.86,98.54 531.16,99.67 531.7,97.7 530.1,96.42 532.14,96.33ZM534.73,94.92 535.45,96.84 537.49,96.93 535.89,98.2 536.43,100.17 534.73,99.04 533.03,100.17 533.57,98.2 531.97,96.93 534.01,96.84ZM536.6,95.38 537.32,97.29 539.36,97.38 537.76,98.65 538.3,100.62 536.6,99.49 534.9,100.62 535.44,98.65 533.84,97.38 535.88,97.29ZM538.47,95.75 539.19,97.66 541.23,97.75 539.63,99.02 540.17,100.99 538.47,99.86 536.77,100.99 537.31,99.02 535.71,97.75 537.75,97.66ZM540.34,96.1 541.06,98.02 543.1,98.11 541.5,99.38 542.04,101.35 540.34,100.22 538.64,101.35 539.18,99.38 537.58,98.11 539.62,98.02ZM542.21,96.45 542.93,98.36 544.97,98.45 543.37,99.72 543.91,101.69 542.21,100.56 540.51,101.69 541.05,99.72 539.45,98.45 541.49,98.36ZM544.08,96.73 544.8,98.65 546.84,98.74 545.24,100.01 545.78,101.98 544.08,100.85 542.38,101.98 542.92,100.01 541.32,98.74 543.36,98.65ZM545.95,96.93 546.67,98.85 548.71,98.94 547.11,100.21 547.65,102.18 545.95,101.05 544.25,102.18 544.79,100.21 543.19,98.94 545.23,98.85ZM547.82,97.02 548.54,98.93 550.58,99.02 548.98,100.29 549.52,102.26 547.82,101.14 546.12,102.26 546.66,100.29 545.06,99.02 547.1,98.93ZM549.69,97.07 550.41,98.98 552.45,99.07 550.85,100.34 551.39,102.31 549.69,101.19 547.99,102.31 548.53,100.34 546.93,99.07 548.97,98.98ZM551.56,97.11 552.28,99.02 554.32,99.11 552.72,100.39 553.26,102.36 551.56,101.23 549.86,102.36 550.4,100.39 548.8,99.11 550.84,99.02ZM553.43,97.14 554.15,99.06 556.19,99.15 554.59,100.42 555.13,102.39 553.43,101.26 551.73,102.39 552.27,100.42 550.67,99.15 552.71,99.06ZM555.3,97.17 556.02,99.09 558.06,99.17 556.46,100.45 557,102.42 555.3,101.29 553.6,102.42 554.14,100.45 552.54,99.17 554.58,99.09ZM557.17,97.19 557.89,99.1 559.93,99.19 558.33,100.47 558.87,102.44 557.17,101.31 555.47,102.44 556.01,100.47 554.41,99.19 556.45,99.1ZM559.04,97.2 559.76,99.11 561.8,99.2 560.2,100.48 560.74,102.44 559.04,101.32 557.34,102.44 557.88,100.48 556.28,99.2 558.32,99.11ZM560.91,97.17 561.63,99.09 563.67,99.18 562.07,100.45 562.61,102.42 560.91,101.29 559.21,102.42 559.75,100.45 558.15,99.18 560.19,99.09ZM562.78,96.96 563.5,98.87 565.54,98.96 563.94,100.24 564.48,102.21 562.78,101.08 561.08,102.21 561.62,100.24 560.02,98.96 562.06,98.87ZM564.65,96.59 565.37,98.5 567.41,98.59 565.81,99.87 566.35,101.84 564.65,100.71 562.95,101.84 563.49,99.87 561.89,98.59 563.93,98.5ZM566.52,96.12 567.24,98.04 569.28,98.13 567.68,99.4 568.22,101.37 566.52,100.24 564.82,101.37 565.36,99.4 563.76,98.13 565.8,98.04ZM568.39,95.62 569.11,97.54 571.15,97.62 569.55,98.9 570.09,100.87 568.39,99.74 566.69,100.87 567.23,98.9 565.63,97.62 567.67,97.54ZM570.26,95.14 570.98,97.06 573.02,97.15 571.42,98.42 571.96,100.39 570.26,99.26 568.56,100.39 569.1,98.42 567.5,97.15 569.54,97.06ZM572.13,94.75 572.85,96.66 574.89,96.75 573.29,98.03 573.83,100 572.13,98.87 570.43,100 570.97,98.03 569.37,96.75 571.41,96.66ZM574,94.48 574.72,96.4 576.76,96.49 575.16,97.76 575.7,99.73 574,98.6 572.3,99.73 572.84,97.76 571.24,96.49 573.28,96.4ZM575.87,94.24 576.59,96.16 578.63,96.25 577.03,97.52 577.57,99.49 575.87,98.36 574.17,99.49 574.71,97.52 573.11,96.25 575.15,96.16ZM577.74,94.01 578.46,95.93 580.5,96.02 578.9,97.29 579.44,99.26 577.74,98.13 576.04,99.26 576.58,97.29 574.98,96.02 577.02,95.93ZM579.61,93.8 580.33,95.72 582.37,95.81 580.77,97.08 581.31,99.05 579.61,97.92 577.91,99.05 578.45,97.08 576.85,95.81 578.89,95.72ZM581.48,93.62 582.2,95.53 584.24,95.62 582.64,96.89 583.18,98.86 581.48,97.74 579.78,98.86 580.32,96.89 578.72,95.62 580.76,95.53ZM583.35,93.46 584.07,95.38 586.11,95.47 584.51,96.74 585.05,98.71 583.35,97.58 581.65,98.71 582.19,96.74 580.59,95.47 582.63,95.38ZM585.22,93.35 585.94,95.26 587.98,95.35 586.38,96.62 586.92,98.59 585.22,97.47 583.52,98.59 584.06,96.62 582.46,95.35 584.5,95.26ZM587.09,93.27 587.81,95.19 589.85,95.27 588.25,96.55 588.79,98.52 587.09,97.39 585.39,98.52 585.93,96.55 584.33,95.27 586.37,95.19ZM588.96,93.21 589.68,95.12 591.72,95.21 590.12,96.48 590.66,98.45 588.96,97.32 587.26,98.45 587.8,96.48 586.2,95.21 588.24,95.12ZM590.83,93.15 591.55,95.06 593.59,95.15 591.99,96.42 592.53,98.39 590.83,97.26 589.13,98.39 589.67,96.42 588.07,95.15 590.11,95.06ZM592.7,93.09 593.42,95.01 595.46,95.1 593.86,96.37 594.4,98.34 592.7,97.21 591,98.34 591.54,96.37 589.94,95.1 591.98,95.01ZM594.57,93.05 595.29,94.97 597.33,95.05 595.73,96.33 596.27,98.3 594.57,97.17 592.87,98.3 593.41,96.33 591.81,95.05 593.85,94.97ZM596.44,93.02 597.16,94.93 599.2,95.02 597.6,96.3 598.14,98.27 596.44,97.14 594.74,98.27 595.28,96.3 593.68,95.02 595.72,94.93ZM598.31,93 599.03,94.92 601.07,95.01 599.47,96.28 600.01,98.25 598.31,97.12 596.61,98.25 597.15,96.28 595.55,95.01 597.59,94.92ZM600.18,93.01 600.9,94.92 602.94,95.01 601.34,96.28 601.88,98.25 600.18,97.12 598.48,98.25 599.02,96.28 597.42,95.01 599.46,94.92ZM602.05,93.07 602.77,94.98 604.81,95.07 603.21,96.34 603.75,98.31 602.05,97.18 600.35,98.31 600.89,96.34 599.29,95.07 601.33,94.98ZM603.92,93.17 604.64,95.09 606.68,95.18 605.08,96.45 605.62,98.42 603.92,97.29 602.22,98.42 602.76,96.45 601.16,95.18 603.2,95.09ZM605.79,93.32 606.51,95.23 608.55,95.32 606.95,96.6 607.49,98.57 605.79,97.44 604.09,98.57 604.63,96.6 603.03,95.32 605.07,95.23ZM607.66,93.48 608.38,95.4 610.42,95.49 608.82,96.76 609.36,98.73 607.66,97.6 605.96,98.73 606.5,96.76 604.9,95.49 606.94,95.4ZM609.53,93.65 610.25,95.57 612.29,95.66 610.69,96.93 611.23,98.9 609.53,97.77 607.83,98.9 608.37,96.93 606.77,95.66 608.81,95.57ZM611.4,93.81 612.12,95.73 614.16,95.82 612.56,97.09 613.1,99.06 611.4,97.93 609.7,99.06 610.24,97.09 608.64,95.82 610.68,95.73ZM613.27,93.95 613.99,95.86 616.03,95.95 614.43,97.22 614.97,99.19 613.27,98.07 611.57,99.19 612.11,97.22 610.51,95.95 612.55,95.86ZM615.14,94.09 615.86,96 617.9,96.09 616.3,97.37 616.84,99.34 615.14,98.21 613.44,99.34 613.98,97.37 612.38,96.09 614.42,96ZM617.01,94.24 617.73,96.16 619.77,96.25 618.17,97.52 618.71,99.49 617.01,98.36 615.31,99.49 615.85,97.52 614.25,96.25 616.29,96.16ZM618.88,94.39 619.6,96.31 621.64,96.4 620.04,97.67 620.58,99.64 618.88,98.51 617.18,99.64 617.72,97.67 616.12,96.4 618.16,96.31ZM620.75,94.54 621.47,96.45 623.51,96.54 621.91,97.81 622.45,99.78 620.75,98.65 619.05,99.78 619.59,97.81 617.99,96.54 620.03,96.45ZM622.62,94.66 623.34,96.57 625.38,96.66 623.78,97.94 624.32,99.91 622.62,98.78 620.92,99.91 621.46,97.94 619.86,96.66 621.9,96.57ZM624.49,94.76 625.21,96.67 627.25,96.76 625.65,98.03 626.19,100 624.49,98.87 622.79,100 623.33,98.03 621.73,96.76 623.77,96.67ZM626.36,94.82 627.08,96.73 629.12,96.82 627.52,98.1 628.06,100.07 626.36,98.94 624.66,100.07 625.2,98.1 623.6,96.82 625.64,96.73ZM628.23,94.87 628.95,96.79 630.99,96.88 629.39,98.15 629.93,100.12 628.23,98.99 626.53,100.12 627.07,98.15 625.47,96.88 627.51,96.79ZM630.1,94.92 630.82,96.84 632.86,96.93 631.26,98.2 631.8,100.17 630.1,99.04 628.4,100.17 628.94,98.2 627.34,96.93 629.38,96.84ZM631.97,94.97 632.69,96.88 634.73,96.97 633.13,98.25 633.67,100.21 631.97,99.09 630.27,100.21 630.81,98.25 629.21,96.97 631.25,96.88ZM633.84,95.01 634.56,96.93 636.6,97.02 635,98.29 635.54,100.26 633.84,99.13 632.14,100.26 632.68,98.29 631.08,97.02 633.12,96.93ZM635.71,95.05 636.43,96.97 638.47,97.06 636.87,98.33 637.41,100.3 635.71,99.17 634.01,100.3 634.55,98.33 632.95,97.06 634.99,96.97ZM637.58,95.09 638.3,97 640.34,97.09 638.74,98.37 639.28,100.34 637.58,99.21 635.88,100.34 636.42,98.37 634.82,97.09 636.86,97ZM639.45,95.12 640.17,97.04 642.21,97.12 640.61,98.4 641.15,100.37 639.45,99.24 637.75,100.37 638.29,98.4 636.69,97.12 638.73,97.04ZM641.32,95.15 642.04,97.06 644.08,97.15 642.48,98.42 643.02,100.39 641.32,99.27 639.62,100.39 640.16,98.42 638.56,97.15 640.6,97.06ZM643.19,95.17 643.91,97.08 645.95,97.17 644.35,98.45 644.89,100.42 643.19,99.29 641.49,100.42 642.03,98.45 640.43,97.17 642.47,97.08ZM645.06,95.19 645.78,97.1 647.82,97.19 646.22,98.46 646.76,100.43 645.06,99.3 643.36,100.43 643.9,98.46 642.3,97.19 644.34,97.1ZM646.93,95.2 647.65,97.11 649.69,97.2 648.09,98.47 648.63,100.44 646.93,99.31 645.23,100.44 645.77,98.47 644.17,97.2 646.21,97.11ZM648.8,95.2 649.52,97.11 651.56,97.2 649.96,98.48 650.5,100.45 648.8,99.32 647.1,100.45 647.64,98.48 646.04,97.2 648.08,97.11Z" fill="#f00"/><path d="M424.4,15.8v1.6M461.9,15.8v2.6M499.4,15.8v1.6M536.9,15.8v2.6M574.4,15.8v1.6M611.9,15.8v2.6M386.9,126.9h-3M386.9,111.95h-2M386.9,97h-3M386.9,82.05h-2M386.9,67.1h-3M386.9,52.15h-2M386.9,37.2h-3M386.9,22.25h-2M649.4,126.9h3M649.4,109.48h2M649.4,92.06h3M649.4,74.64h2M649.4,57.22h3M649.4,39.8h2M649.4,22.38h3" fill="none" stroke="#000" stroke-width="1.3"/><path d="M386.9,237.1 388.77,236.8 390.65,236.56 392.52,236.3 394.4,235.61 396.27,234.5 398.15,233.22 400.02,231.72 401.9,229.33 403.77,226.64 405.65,223.35 407.52,217.97 409.4,209 411.27,196.14 413.15,180.59 415.02,163.55 416.9,148.9 418.77,139.03 420.65,136.04 422.52,139.93 424.4,148.6 426.27,159.66 428.15,171.32 430.02,181.79 431.9,190.46 433.77,197.93 435.65,203.32 437.52,208.1 439.4,212.2 441.27,215.1 443.15,217.61 445.02,219.7 446.9,221.79 448.77,223.17 450.65,224.23 452.52,225.08 454.4,225.78 456.27,226.32 458.15,226.79 460.02,226.9 461.9,226.74 463.77,226.45 465.65,225.59 467.52,224.57 469.4,223.41 471.27,222.18 473.15,220.85 475.02,219.43 476.9,217.79 478.77,215.05 480.65,212.6 482.52,210.16 484.4,207.56 486.27,205.09 488.15,202.3 490.02,199.73 491.9,196.92 493.77,195.05 495.65,194.29 497.52,194.29 499.4,194.78 501.27,195.97 503.15,197.07 505.02,198.26 506.9,199.5 508.77,200.75 510.65,201.97 512.52,203.11 514.4,203.86 516.27,204.41 518.15,204.63 520.02,204.7 521.9,204.75 523.77,204.83 525.65,204.99 527.52,205.25 529.4,205.61 531.27,206.2 533.15,206.84 535.02,207.47 536.9,208.15 538.77,208.93 540.65,209.73 542.52,210.34 544.4,210.89 546.27,211.64 548.15,212.48 550.02,213.04 551.9,213.49 553.77,213.63 555.65,213.51 557.52,213.25 559.4,212.91 561.27,212.17 563.15,211.14 565.02,210.19 566.9,209.43 568.77,208.7 570.65,208.03 572.52,207.4 574.4,206.8 576.27,206.26 578.15,205.83 580.02,205.46 581.9,205.12 583.77,204.88 585.65,204.79 587.52,204.75 589.4,204.71 591.27,204.7 593.15,204.69 595.02,204.72 596.9,204.76 598.77,204.83 600.65,204.92 602.52,205.02 604.4,205.22 606.27,205.5 608.15,205.83 610.02,206.15 611.9,206.52 613.77,206.93 615.65,207.29 617.52,207.54 619.4,207.71 621.27,207.87 623.15,208 625.02,208.12 626.9,208.22 628.77,208.31 630.65,208.4 632.52,208.48 634.4,208.56 636.27,208.64 638.15,208.71 640.02,208.77 641.9,208.83 643.77,208.89 645.65,208.93 647.52,208.97 649.4,209" fill="none" stroke="#000" stroke-width="0.8"/><path d="M385.4,237.1a1.5,1.5 0 1,0 3,0a1.5,1.5 0 1,0 -3,0M387.27,236.8a1.5,1.5 0 1,0 3,0a1.5,1.5 0 1,0 -3,0M389.15,236.56a1.5,1.5 0 1,0 3,0a1.5,1.5 0 1,0 -3,0M391.02,236.3a1.5,1.5 0 1,0 3,0a1.5,1.5 0 1,0 -3,0M392.9,235.61a1.5,1.5 0 1,0 3,0a1.5,1.5 0 1,0 -3,0M394.77,234.5a1.5,1.5 0 1,0 3,0a1.5,1.5 0 1,0 -3,0M396.65,233.22a1.5,1.5 0 1,0 3,0a1.5,1.5 0 1,0 -3,0M398.52,231.72a1.5,1.5 0 1,0 3,0a1.5,1.5 0 1,0 -3,0M400.4,229.33a1.5,1.5 0 1,0 3,0a1.5,1.5 0 1,0 -3,0M402.27,226.64a1.5,1.5 0 1,0 3,0a1.5,1.5 0 1,0 -3,0M404.15,223.35a1.5,1.5 0 1,0 3,0a1.5,1.5 0 1,0 -3,0M406.02,217.97a1.5,1.5 0 1,0 3,0a1.5,1.5 0 1,0 -3,0M407.9,209a1.5,1.5 0 1,0 3,0a1.5,1.5 0 1,0 -3,0M409.77,196.14a1.5,1.5 0 1,0 3,0a1.5,1.5 0 1,0 -3,0M411.65,180.59a1.5,1.5 0 1,0 3,0a1.5,1.5 0 1,0 -3,0M413.52,163.55a1.5,1.5 0 1,0 3,0a1.5,1.5 0 1,0 -3,0M415.4,148.9a1.5,1.5 0 1,0 3,0a1.5,1.5 0 1,0 -3,0M417.27,139.03a1.5,1.5 0 1,0 3,0a1.5,1.5 0 1,0 -3,0M419.15,136.04a1.5,1.5 0 1,0 3,0a1.5,1.5 0 1,0 -3,0M421.02,139.93a1.5,1.5 0 1,0 3,0a1.5,1.5 0 1,0 -3,0M422.9,148.6a1.5,1.5 0 1,0 3,0a1.5,1.5 0 1,0 -3,0M424.77,159.66a1.5,1.5 0 1,0 3,0a1.5,1.5 0 1,0 -3,0M426.65,171.32a1.5,1.5 0 1,0 3,0a1.5,1.5 0 1,0 -3,0M428.52,181.79a1.5,1.5 0 1,0 3,0a1.5,1.5 0 1,0 -3,0M430.4,190.46a1.5,1.5 0 1,0 3,0a1.5,1.5 0 1,0 -3,0M432.27,197.93a1.5,1.5 0 1,0 3,0a1.5,1.5 0 1,0 -3,0M434.15,203.32a1.5,1.5 0 1,0 3,0a1.5,1.5 0 1,0 -3,0M436.02,208.1a1.5,1.5 0 1,0 3,0a1.5,1.5 0 1,0 -3,0M437.9,212.2a1.5,1.5 0 1,0 3,0a1.5,1.5 0 1,0 -3,0M439.77,215.1a1.5,1.5 0 1,0 3,0a1.5,1.5 0 1,0 -3,0M441.65,217.61a1.5,1.5 0 1,0 3,0a1.5,1.5 0 1,0 -3,0M443.52,219.7a1.5,1.5 0 1,0 3,0a1.5,1.5 0 1,0 -3,0M445.4,221.79a1.5,1.5 0 1,0 3,0a1.5,1.5 0 1,0 -3,0M447.27,223.17a1.5,1.5 0 1,0 3,0a1.5,1.5 0 1,0 -3,0M449.15,224.23a1.5,1.5 0 1,0 3,0a1.5,1.5 0 1,0 -3,0M451.02,225.08a1.5,1.5 0 1,0 3,0a1.5,1.5 0 1,0 -3,0M452.9,225.78a1.5,1.5 0 1,0 3,0a1.5,1.5 0 1,0 -3,0M454.77,226.32a1.5,1.5 0 1,0 3,0a1.5,1.5 0 1,0 -3,0M456.65,226.79a1.5,1.5 0 1,0 3,0a1.5,1.5 0 1,0 -3,0M458.52,226.9a1.5,1.5 0 1,0 3,0a1.5,1.5 0 1,0 -3,0M460.4,226.74a1.5,1.5 0 1,0 3,0a1.5,1.5 0 1,0 -3,0M462.27,226.45a1.5,1.5 0 1,0 3,0a1.5,1.5 0 1,0 -3,0M464.15,225.59a1.5,1.5 0 1,0 3,0a1.5,1.5 0 1,0 -3,0M466.02,224.57a1.5,1.5 0 1,0 3,0a1.5,1.5 0 1,0 -3,0M467.9,223.41a1.5,1.5 0 1,0 3,0a1.5,1.5 0 1,0 -3,0M469.77,222.18a1.5,1.5 0 1,0 3,0a1.5,1.5 0 1,0 -3,0M471.65,220.85a1.5,1.5 0 1,0 3,0a1.5,1.5 0 1,0 -3,0M473.52,219.43a1.5,1.5 0 1,0 3,0a1.5,1.5 0 1,0 -3,0M475.4,217.79a1.5,1.5 0 1,0 3,0a1.5,1.5 0 1,0 -3,0M477.27,215.05a1.5,1.5 0 1,0 3,0a1.5,1.5 0 1,0 -3,0M479.15,212.6a1.5,1.5 0 1,0 3,0a1.5,1.5 0 1,0 -3,0M481.02,210.16a1.5,1.5 0 1,0 3,0a1.5,1.5 0 1,0 -3,0M482.9,207.56a1.5,1.5 0 1,0 3,0a1.5,1.5 0 1,0 -3,0M484.77,205.09a1.5,1.5 0 1,0 3,0a1.5,1.5 0 1,0 -3,0M486.65,202.3a1.5,1.5 0 1,0 3,0a1.5,1.5 0 1,0 -3,0M488.52,199.73a1.5,1.5 0 1,0 3,0a1.5,1.5 0 1,0 -3,0M490.4,196.92a1.5,1.5 0 1,0 3,0a1.5,1.5 0 1,0 -3,0M492.27,195.05a1.5,1.5 0 1,0 3,0a1.5,1.5 0 1,0 -3,0M494.15,194.29a1.5,1.5 0 1,0 3,0a1.5,1.5 0 1,0 -3,0M496.02,194.29a1.5,1.5 0 1,0 3,0a1.5,1.5 0 1,0 -3,0M497.9,194.78a1.5,1.5 0 1,0 3,0a1.5,1.5 0 1,0 -3,0M499.77,195.97a1.5,1.5 0 1,0 3,0a1.5,1.5 0 1,0 -3,0M501.65,197.07a1.5,1.5 0 1,0 3,0a1.5,1.5 0 1,0 -3,0M503.52,198.26a1.5,1.5 0 1,0 3,0a1.5,1.5 0 1,0 -3,0M505.4,199.5a1.5,1.5 0 1,0 3,0a1.5,1.5 0 1,0 -3,0M507.27,200.75a1.5,1.5 0 1,0 3,0a1.5,1.5 0 1,0 -3,0M509.15,201.97a1.5,1.5 0 1,0 3,0a1.5,1.5 0 1,0 -3,0M511.02,203.11a1.5,1.5 0 1,0 3,0a1.5,1.5 0 1,0 -3,0M512.9,203.86a1.5,1.5 0 1,0 3,0a1.5,1.5 0 1,0 -3,0M514.77,204.41a1.5,1.5 0 1,0 3,0a1.5,1.5 0 1,0 -3,0M516.65,204.63a1.5,1.5 0 1,0 3,0a1.5,1.5 0 1,0 -3,0M518.52,204.7a1.5,1.5 0 1,0 3,0a1.5,1.5 0 1,0 -3,0M520.4,204.75a1.5,1.5 0 1,0 3,0a1.5,1.5 0 1,0 -3,0M522.27,204.83a1.5,1.5 0 1,0 3,0a1.5,1.5 0 1,0 -3,0M524.15,204.99a1.5,1.5 0 1,0 3,0a1.5,1.5 0 1,0 -3,0M526.02,205.25a1.5,1.5 0 1,0 3,0a1.5,1.5 0 1,0 -3,0M527.9,205.61a1.5,1.5 0 1,0 3,0a1.5,1.5 0 1,0 -3,0M529.77,206.2a1.5,1.5 0 1,0 3,0a1.5,1.5 0 1,0 -3,0M531.65,206.84a1.5,1.5 0 1,0 3,0a1.5,1.5 0 1,0 -3,0M533.52,207.47a1.5,1.5 0 1,0 3,0a1.5,1.5 0 1,0 -3,0M535.4,208.15a1.5,1.5 0 1,0 3,0a1.5,1.5 0 1,0 -3,0M537.27,208.93a1.5,1.5 0 1,0 3,0a1.5,1.5 0 1,0 -3,0M539.15,209.73a1.5,1.5 0 1,0 3,0a1.5,1.5 0 1,0 -3,0M541.02,210.34a1.5,1.5 0 1,0 3,0a1.5,1.5 0 1,0 -3,0M542.9,210.89a1.5,1.5 0 1,0 3,0a1.5,1.5 0 1,0 -3,0M544.77,211.64a1.5,1.5 0 1,0 3,0a1.5,1.5 0 1,0 -3,0M546.65,212.48a1.5,1.5 0 1,0 3,0a1.5,1.5 0 1,0 -3,0M548.52,213.04a1.5,1.5 0 1,0 3,0a1.5,1.5 0 1,0 -3,0M550.4,213.49a1.5,1.5 0 1,0 3,0a1.5,1.5 0 1,0 -3,0M552.27,213.63a1.5,1.5 0 1,0 3,0a1.5,1.5 0 1,0 -3,0M554.15,213.51a1.5,1.5 0 1,0 3,0a1.5,1.5 0 1,0 -3,0M556.02,213.25a1.5,1.5 0 1,0 3,0a1.5,1.5 0 1,0 -3,0M557.9,212.91a1.5,1.5 0 1,0 3,0a1.5,1.5 0 1,0 -3,0M559.77,212.17a1.5,1.5 0 1,0 3,0a1.5,1.5 0 1,0 -3,0M561.65,211.14a1.5,1.5 0 1,0 3,0a1.5,1.5 0 1,0 -3,0M563.52,210.19a1.5,1.5 0 1,0 3,0a1.5,1.5 0 1,0 -3,0M565.4,209.43a1.5,1.5 0 1,0 3,0a1.5,1.5 0 1,0 -3,0M567.27,208.7a1.5,1.5 0 1,0 3,0a1.5,1.5 0 1,0 -3,0M569.15,208.03a1.5,1.5 0 1,0 3,0a1.5,1.5 0 1,0 -3,0M571.02,207.4a1.5,1.5 0 1,0 3,0a1.5,1.5 0 1,0 -3,0M572.9,206.8a1.5,1.5 0 1,0 3,0a1.5,1.5 0 1,0 -3,0M574.77,206.26a1.5,1.5 0 1,0 3,0a1.5,1.5 0 1,0 -3,0M576.65,205.83a1.5,1.5 0 1,0 3,0a1.5,1.5 0 1,0 -3,0M578.52,205.46a1.5,1.5 0 1,0 3,0a1.5,1.5 0 1,0 -3,0M580.4,205.12a1.5,1.5 0 1,0 3,0a1.5,1.5 0 1,0 -3,0M582.27,204.88a1.5,1.5 0 1,0 3,0a1.5,1.5 0 1,0 -3,0M584.15,204.79a1.5,1.5 0 1,0 3,0a1.5,1.5 0 1,0 -3,0M586.02,204.75a1.5,1.5 0 1,0 3,0a1.5,1.5 0 1,0 -3,0M587.9,204.71a1.5,1.5 0 1,0 3,0a1.5,1.5 0 1,0 -3,0M589.77,204.7a1.5,1.5 0 1,0 3,0a1.5,1.5 0 1,0 -3,0M591.65,204.69a1.5,1.5 0 1,0 3,0a1.5,1.5 0 1,0 -3,0M593.52,204.72a1.5,1.5 0 1,0 3,0a1.5,1.5 0 1,0 -3,0M595.4,204.76a1.5,1.5 0 1,0 3,0a1.5,1.5 0 1,0 -3,0M597.27,204.83a1.5,1.5 0 1,0 3,0a1.5,1.5 0 1,0 -3,0M599.15,204.92a1.5,1.5 0 1,0 3,0a1.5,1.5 0 1,0 -3,0M601.02,205.02a1.5,1.5 0 1,0 3,0a1.5,1.5 0 1,0 -3,0M602.9,205.22a1.5,1.5 0 1,0 3,0a1.5,1.5 0 1,0 -3,0M604.77,205.5a1.5,1.5 0 1,0 3,0a1.5,1.5 0 1,0 -3,0M606.65,205.83a1.5,1.5 0 1,0 3,0a1.5,1.5 0 1,0 -3,0M608.52,206.15a1.5,1.5 0 1,0 3,0a1.5,1.5 0 1,0 -3,0M610.4,206.52a1.5,1.5 0 1,0 3,0a1.5,1.5 0 1,0 -3,0M612.27,206.93a1.5,1.5 0 1,0 3,0a1.5,1.5 0 1,0 -3,0M614.15,207.29a1.5,1.5 0 1,0 3,0a1.5,1.5 0 1,0 -3,0M616.02,207.54a1.5,1.5 0 1,0 3,0a1.5,1.5 0 1,0 -3,0M617.9,207.71a1.5,1.5 0 1,0 3,0a1.5,1.5 0 1,0 -3,0M619.77,207.87a1.5,1.5 0 1,0 3,0a1.5,1.5 0 1,0 -3,0M621.65,208a1.5,1.5 0 1,0 3,0a1.5,1.5 0 1,0 -3,0M623.52,208.12a1.5,1.5 0 1,0 3,0a1.5,1.5 0 1,0 -3,0M625.4,208.22a1.5,1.5 0 1,0 3,0a1.5,1.5 0 1,0 -3,0M627.27,208.31a1.5,1.5 0 1,0 3,0a1.5,1.5 0 1,0 -3,0M629.15,208.4a1.5,1.5 0 1,0 3,0a1.5,1.5 0 1,0 -3,0M631.02,208.48a1.5,1.5 0 1,0 3,0a1.5,1.5 0 1,0 -3,0M632.9,208.56a1.5,1.5 0 1,0 3,0a1.5,1.5 0 1,0 -3,0M634.77,208.64a1.5,1.5 0 1,0 3,0a1.5,1.5 0 1,0 -3,0M636.65,208.71a1.5,1.5 0 1,0 3,0a1.5,1.5 0 1,0 -3,0M638.52,208.77a1.5,1.5 0 1,0 3,0a1.5,1.5 0 1,0 -3,0M640.4,208.83a1.5,1.5 0 1,0 3,0a1.5,1.5 0 1,0 -3,0M642.27,208.89a1.5,1.5 0 1,0 3,0a1.5,1.5 0 1,0 -3,0M644.15,208.93a1.5,1.5 0 1,0 3,0a1.5,1.5 0 1,0 -3,0M646.02,208.97a1.5,1.5 0 1,0 3,0a1.5,1.5 0 1,0 -3,0M647.9,209a1.5,1.5 0 1,0 3,0a1.5,1.5 0 1,0 -3,0" fill="#000"/><path d="M387,211.2 388.87,208.39 390.74,206.62 392.61,205.65 394.48,205.02 396.35,204.97 398.22,205.6 400.09,206.51 401.96,207.56 403.83,208.82 405.7,209.66 407.57,210.3 409.44,210.68 411.31,210.7 413.18,210.7 415.05,210.66 416.92,210.2 418.79,209.6 420.66,209.03 422.53,208.45 424.4,207.97 426.27,207.53 428.14,207.22 430.01,207.07 431.88,207 433.75,207.23 435.62,207.72 437.49,208.22 439.36,208.79 441.23,209.43 443.1,210.17 444.97,210.87 446.84,211.41 448.71,211.78 450.58,212.09 452.45,212.36 454.32,212.6 456.19,212.82 458.06,213.05 459.93,213.25 461.8,213.41 463.67,213.5 465.54,213.55 467.41,213.58 469.28,213.6 471.15,213.6 473.02,213.57 474.89,213.53 476.76,213.45 478.63,213.15 480.5,212.71 482.37,212.28 484.24,211.95 486.11,211.63 487.98,211.32 489.85,211.02 491.72,210.72 493.59,210.41 495.46,210.12 497.33,209.83 499.2,209.56 501.07,209.29 502.94,209.03 504.81,208.81 506.68,208.65 508.55,208.51 510.42,208.39 512.29,208.31 514.16,208.3 516.03,208.33 517.9,208.38 519.77,208.43 521.64,208.49 523.51,208.56 525.38,208.64 527.25,208.74 529.12,208.84 530.99,208.95 532.86,209.07 534.73,209.21 536.6,209.35 538.47,209.49 540.34,209.63 542.21,209.77 544.08,209.92 545.95,210.09 547.82,210.31 549.69,210.54 551.56,210.76 553.43,210.93 555.3,211 557.17,211 559.04,211 560.91,211 562.78,211 564.65,211 566.52,211 568.39,210.93 570.26,210.8 572.13,210.65 574,210.51 575.87,210.42 577.74,210.38 579.61,210.36 581.48,210.35 583.35,210.33 585.22,210.29 587.09,210.16 588.96,209.92 590.83,209.62 592.7,209.33 594.57,209.09 596.44,208.9 598.31,208.7 600.18,208.52 602.05,208.38 603.92,208.3 605.79,208.26 607.66,208.23 609.53,208.2 611.4,208.18 613.27,208.15 615.14,208.14 617.01,208.12 618.88,208.11 620.75,208.1 622.62,208.1 624.49,208.1 626.36,208.12 628.23,208.14 630.1,208.17 631.97,208.21 633.84,208.26 635.71,208.31 637.58,208.38 639.45,208.45 641.32,208.52 643.19,208.61 645.06,208.7 646.93,208.79 648.8,208.89" fill="none" stroke="#f00" stroke-width="2"/><path d="M387,208.3 387.72,210.21 389.76,210.3 388.16,211.58 388.7,213.55 387,212.42 385.3,213.55 385.84,211.58 384.24,210.3 386.28,210.21ZM388.87,205.49 389.59,207.4 391.63,207.49 390.03,208.76 390.57,210.73 388.87,209.61 387.17,210.73 387.71,208.76 386.11,207.49 388.15,207.4ZM390.74,203.72 391.46,205.63 393.5,205.72 391.9,207 392.44,208.97 390.74,207.84 389.04,208.97 389.58,207 387.98,205.72 390.02,205.63ZM392.61,202.75 393.33,204.66 395.37,204.75 393.77,206.02 394.31,207.99 392.61,206.86 390.91,207.99 391.45,206.02 389.85,204.75 391.89,204.66ZM394.48,202.12 395.2,204.03 397.24,204.12 395.64,205.39 396.18,207.36 394.48,206.24 392.78,207.36 393.32,205.39 391.72,204.12 393.76,204.03ZM396.35,202.07 397.07,203.98 399.11,204.07 397.51,205.35 398.05,207.32 396.35,206.19 394.65,207.32 395.19,205.35 393.59,204.07 395.63,203.98ZM398.22,202.7 398.94,204.61 400.98,204.7 399.38,205.97 399.92,207.94 398.22,206.81 396.52,207.94 397.06,205.97 395.46,204.7 397.5,204.61ZM400.09,203.61 400.81,205.52 402.85,205.61 401.25,206.88 401.79,208.85 400.09,207.72 398.39,208.85 398.93,206.88 397.33,205.61 399.37,205.52ZM401.96,204.66 402.68,206.57 404.72,206.66 403.12,207.93 403.66,209.9 401.96,208.77 400.26,209.9 400.8,207.93 399.2,206.66 401.24,206.57ZM403.83,205.92 404.55,207.83 406.59,207.92 404.99,209.19 405.53,211.16 403.83,210.03 402.13,211.16 402.67,209.19 401.07,207.92 403.11,207.83ZM405.7,206.76 406.42,208.67 408.46,208.76 406.86,210.03 407.4,212 405.7,210.88 404,212 404.54,210.03 402.94,208.76 404.98,208.67ZM407.57,207.4 408.29,209.31 410.33,209.4 408.73,210.68 409.27,212.65 407.57,211.52 405.87,212.65 406.41,210.68 404.81,209.4 406.85,209.31ZM409.44,207.78 410.16,209.69 412.2,209.78 410.6,211.05 411.14,213.02 409.44,211.89 407.74,213.02 408.28,211.05 406.68,209.78 408.72,209.69ZM411.31,207.8 412.03,209.71 414.07,209.8 412.47,211.08 413.01,213.05 411.31,211.92 409.61,213.05 410.15,211.08 408.55,209.8 410.59,209.71ZM413.18,207.8 413.9,209.71 415.94,209.8 414.34,211.08 414.88,213.05 413.18,211.92 411.48,213.05 412.02,211.08 410.42,209.8 412.46,209.71ZM415.05,207.76 415.77,209.67 417.81,209.76 416.21,211.03 416.75,213 415.05,211.88 413.35,213 413.89,211.03 412.29,209.76 414.33,209.67ZM416.92,207.3 417.64,209.21 419.68,209.3 418.08,210.58 418.62,212.55 416.92,211.42 415.22,212.55 415.76,210.58 414.16,209.3 416.2,209.21ZM418.79,206.7 419.51,208.62 421.55,208.71 419.95,209.98 420.49,211.95 418.79,210.82 417.09,211.95 417.63,209.98 416.03,208.71 418.07,208.62ZM420.66,206.13 421.38,208.04 423.42,208.13 421.82,209.41 422.36,211.38 420.66,210.25 418.96,211.38 419.5,209.41 417.9,208.13 419.94,208.04ZM422.53,205.55 423.25,207.47 425.29,207.55 423.69,208.83 424.23,210.8 422.53,209.67 420.83,210.8 421.37,208.83 419.77,207.55 421.81,207.47ZM424.4,205.07 425.12,206.99 427.16,207.08 425.56,208.35 426.1,210.32 424.4,209.19 422.7,210.32 423.24,208.35 421.64,207.08 423.68,206.99ZM426.27,204.63 426.99,206.54 429.03,206.63 427.43,207.91 427.97,209.88 426.27,208.75 424.57,209.88 425.11,207.91 423.51,206.63 425.55,206.54ZM428.14,204.32 428.86,206.24 430.9,206.33 429.3,207.6 429.84,209.57 428.14,208.44 426.44,209.57 426.98,207.6 425.38,206.33 427.42,206.24ZM430.01,204.17 430.73,206.09 432.77,206.18 431.17,207.45 431.71,209.42 430.01,208.29 428.31,209.42 428.85,207.45 427.25,206.18 429.29,206.09ZM431.88,204.1 432.6,206.01 434.64,206.1 433.04,207.38 433.58,209.35 431.88,208.22 430.18,209.35 430.72,207.38 429.12,206.1 431.16,206.01ZM433.75,204.33 434.47,206.25 436.51,206.34 434.91,207.61 435.45,209.58 433.75,208.45 432.05,209.58 432.59,207.61 430.99,206.34 433.03,206.25ZM435.62,204.82 436.34,206.74 438.38,206.83 436.78,208.1 437.32,210.07 435.62,208.94 433.92,210.07 434.46,208.1 432.86,206.83 434.9,206.74ZM437.49,205.32 438.21,207.23 440.25,207.32 438.65,208.59 439.19,210.56 437.49,209.44 435.79,210.56 436.33,208.59 434.73,207.32 436.77,207.23ZM439.36,205.89 440.08,207.81 442.12,207.9 440.52,209.17 441.06,211.14 439.36,210.01 437.66,211.14 438.2,209.17 436.6,207.9 438.64,207.81ZM441.23,206.53 441.95,208.45 443.99,208.54 442.39,209.81 442.93,211.78 441.23,210.65 439.53,211.78 440.07,209.81 438.47,208.54 440.51,208.45ZM443.1,207.27 443.82,209.18 445.86,209.27 444.26,210.54 444.8,212.51 443.1,211.39 441.4,212.51 441.94,210.54 440.34,209.27 442.38,209.18ZM444.97,207.97 445.69,209.89 447.73,209.98 446.13,211.25 446.67,213.22 444.97,212.09 443.27,213.22 443.81,211.25 442.21,209.98 444.25,209.89ZM446.84,208.51 447.56,210.42 449.6,210.51 448,211.79 448.54,213.75 446.84,212.63 445.14,213.75 445.68,211.79 444.08,210.51 446.12,210.42ZM448.71,208.88 449.43,210.79 451.47,210.88 449.87,212.16 450.41,214.13 448.71,213 447.01,214.13 447.55,212.16 445.95,210.88 447.99,210.79ZM450.58,209.19 451.3,211.11 453.34,211.2 451.74,212.47 452.28,214.44 450.58,213.31 448.88,214.44 449.42,212.47 447.82,211.2 449.86,211.11ZM452.45,209.46 453.17,211.37 455.21,211.46 453.61,212.74 454.15,214.7 452.45,213.58 450.75,214.7 451.29,212.74 449.69,211.46 451.73,211.37ZM454.32,209.7 455.04,211.61 457.08,211.7 455.48,212.97 456.02,214.94 454.32,213.81 452.62,214.94 453.16,212.97 451.56,211.7 453.6,211.61ZM456.19,209.92 456.91,211.83 458.95,211.92 457.35,213.2 457.89,215.17 456.19,214.04 454.49,215.17 455.03,213.2 453.43,211.92 455.47,211.83ZM458.06,210.15 458.78,212.06 460.82,212.15 459.22,213.42 459.76,215.39 458.06,214.26 456.36,215.39 456.9,213.42 455.3,212.15 457.34,212.06ZM459.93,210.35 460.65,212.27 462.69,212.36 461.09,213.63 461.63,215.6 459.93,214.47 458.23,215.6 458.77,213.63 457.17,212.36 459.21,212.27ZM461.8,210.51 462.52,212.43 464.56,212.52 462.96,213.79 463.5,215.76 461.8,214.63 460.1,215.76 460.64,213.79 459.04,212.52 461.08,212.43ZM463.67,210.6 464.39,212.52 466.43,212.61 464.83,213.88 465.37,215.85 463.67,214.72 461.97,215.85 462.51,213.88 460.91,212.61 462.95,212.52ZM465.54,210.65 466.26,212.56 468.3,212.65 466.7,213.92 467.24,215.89 465.54,214.76 463.84,215.89 464.38,213.92 462.78,212.65 464.82,212.56ZM467.41,210.68 468.13,212.59 470.17,212.68 468.57,213.96 469.11,215.93 467.41,214.8 465.71,215.93 466.25,213.96 464.65,212.68 466.69,212.59ZM469.28,210.7 470,212.61 472.04,212.7 470.44,213.97 470.98,215.94 469.28,214.82 467.58,215.94 468.12,213.97 466.52,212.7 468.56,212.61ZM471.15,210.7 471.87,212.61 473.91,212.7 472.31,213.97 472.85,215.94 471.15,214.81 469.45,215.94 469.99,213.97 468.39,212.7 470.43,212.61ZM473.02,210.67 473.74,212.59 475.78,212.68 474.18,213.95 474.72,215.92 473.02,214.79 471.32,215.92 471.86,213.95 470.26,212.68 472.3,212.59ZM474.89,210.63 475.61,212.55 477.65,212.64 476.05,213.91 476.59,215.88 474.89,214.75 473.19,215.88 473.73,213.91 472.13,212.64 474.17,212.55ZM476.76,210.55 477.48,212.46 479.52,212.55 477.92,213.83 478.46,215.8 476.76,214.67 475.06,215.8 475.6,213.83 474,212.55 476.04,212.46ZM478.63,210.25 479.35,212.16 481.39,212.25 479.79,213.52 480.33,215.49 478.63,214.37 476.93,215.49 477.47,213.52 475.87,212.25 477.91,212.16ZM480.5,209.81 481.22,211.72 483.26,211.81 481.66,213.09 482.2,215.06 480.5,213.93 478.8,215.06 479.34,213.09 477.74,211.81 479.78,211.72ZM482.37,209.38 483.09,211.3 485.13,211.39 483.53,212.66 484.07,214.63 482.37,213.5 480.67,214.63 481.21,212.66 479.61,211.39 481.65,211.3ZM484.24,209.05 484.96,210.96 487,211.05 485.4,212.32 485.94,214.29 484.24,213.17 482.54,214.29 483.08,212.32 481.48,211.05 483.52,210.96ZM486.11,208.73 486.83,210.64 488.87,210.73 487.27,212.01 487.81,213.98 486.11,212.85 484.41,213.98 484.95,212.01 483.35,210.73 485.39,210.64ZM487.98,208.42 488.7,210.33 490.74,210.42 489.14,211.7 489.68,213.67 487.98,212.54 486.28,213.67 486.82,211.7 485.22,210.42 487.26,210.33ZM489.85,208.12 490.57,210.03 492.61,210.12 491.01,211.39 491.55,213.36 489.85,212.23 488.15,213.36 488.69,211.39 487.09,210.12 489.13,210.03ZM491.72,207.82 492.44,209.73 494.48,209.82 492.88,211.09 493.42,213.06 491.72,211.93 490.02,213.06 490.56,211.09 488.96,209.82 491,209.73ZM493.59,207.51 494.31,209.43 496.35,209.52 494.75,210.79 495.29,212.76 493.59,211.63 491.89,212.76 492.43,210.79 490.83,209.52 492.87,209.43ZM495.46,207.22 496.18,209.13 498.22,209.22 496.62,210.49 497.16,212.46 495.46,211.33 493.76,212.46 494.3,210.49 492.7,209.22 494.74,209.13ZM497.33,206.93 498.05,208.84 500.09,208.93 498.49,210.2 499.03,212.17 497.33,211.05 495.63,212.17 496.17,210.2 494.57,208.93 496.61,208.84ZM499.2,206.66 499.92,208.57 501.96,208.66 500.36,209.93 500.9,211.9 499.2,210.77 497.5,211.9 498.04,209.93 496.44,208.66 498.48,208.57ZM501.07,206.39 501.79,208.31 503.83,208.4 502.23,209.67 502.77,211.64 501.07,210.51 499.37,211.64 499.91,209.67 498.31,208.4 500.35,208.31ZM502.94,206.13 503.66,208.05 505.7,208.14 504.1,209.41 504.64,211.38 502.94,210.25 501.24,211.38 501.78,209.41 500.18,208.14 502.22,208.05ZM504.81,205.91 505.53,207.82 507.57,207.91 505.97,209.18 506.51,211.15 504.81,210.03 503.11,211.15 503.65,209.18 502.05,207.91 504.09,207.82ZM506.68,205.75 507.4,207.66 509.44,207.75 507.84,209.02 508.38,210.99 506.68,209.87 504.98,210.99 505.52,209.02 503.92,207.75 505.96,207.66ZM508.55,205.61 509.27,207.52 511.31,207.61 509.71,208.88 510.25,210.85 508.55,209.72 506.85,210.85 507.39,208.88 505.79,207.61 507.83,207.52ZM510.42,205.49 511.14,207.4 513.18,207.49 511.58,208.76 512.12,210.73 510.42,209.61 508.72,210.73 509.26,208.76 507.66,207.49 509.7,207.4ZM512.29,205.41 513.01,207.33 515.05,207.42 513.45,208.69 513.99,210.66 512.29,209.53 510.59,210.66 511.13,208.69 509.53,207.42 511.57,207.33ZM514.16,205.4 514.88,207.32 516.92,207.41 515.32,208.68 515.86,210.65 514.16,209.52 512.46,210.65 513,208.68 511.4,207.41 513.44,207.32ZM516.03,205.43 516.75,207.34 518.79,207.43 517.19,208.7 517.73,210.67 516.03,209.55 514.33,210.67 514.87,208.7 513.27,207.43 515.31,207.34ZM517.9,205.48 518.62,207.39 520.66,207.48 519.06,208.75 519.6,210.72 517.9,209.59 516.2,210.72 516.74,208.75 515.14,207.48 517.18,207.39ZM519.77,205.53 520.49,207.45 522.53,207.54 520.93,208.81 521.47,210.78 519.77,209.65 518.07,210.78 518.61,208.81 517.01,207.54 519.05,207.45ZM521.64,205.59 522.36,207.51 524.4,207.6 522.8,208.87 523.34,210.84 521.64,209.71 519.94,210.84 520.48,208.87 518.88,207.6 520.92,207.51ZM523.51,205.66 524.23,207.58 526.27,207.67 524.67,208.94 525.21,210.91 523.51,209.78 521.81,210.91 522.35,208.94 520.75,207.67 522.79,207.58ZM525.38,205.74 526.1,207.66 528.14,207.75 526.54,209.02 527.08,210.99 525.38,209.86 523.68,210.99 524.22,209.02 522.62,207.75 524.66,207.66ZM527.25,205.84 527.97,207.75 530.01,207.84 528.41,209.11 528.95,211.08 527.25,209.96 525.55,211.08 526.09,209.11 524.49,207.84 526.53,207.75ZM529.12,205.94 529.84,207.85 531.88,207.94 530.28,209.22 530.82,211.18 529.12,210.06 527.42,211.18 527.96,209.22 526.36,207.94 528.4,207.85ZM530.99,206.05 531.71,207.96 533.75,208.05 532.15,209.32 532.69,211.29 530.99,210.16 529.29,211.29 529.83,209.32 528.23,208.05 530.27,207.96ZM532.86,206.17 533.58,208.08 535.62,208.17 534.02,209.45 534.56,211.42 532.86,210.29 531.16,211.42 531.7,209.45 530.1,208.17 532.14,208.08ZM534.73,206.31 535.45,208.22 537.49,208.31 535.89,209.58 536.43,211.55 534.73,210.42 533.03,211.55 533.57,209.58 531.97,208.31 534.01,208.22ZM536.6,206.45 537.32,208.36 539.36,208.45 537.76,209.72 538.3,211.69 536.6,210.57 534.9,211.69 535.44,209.72 533.84,208.45 535.88,208.36ZM538.47,206.59 539.19,208.5 541.23,208.59 539.63,209.87 540.17,211.84 538.47,210.71 536.77,211.84 537.31,209.87 535.71,208.59 537.75,208.5ZM540.34,206.73 541.06,208.65 543.1,208.73 541.5,210.01 542.04,211.98 540.34,210.85 538.64,211.98 539.18,210.01 537.58,208.73 539.62,208.65ZM542.21,206.87 542.93,208.79 544.97,208.88 543.37,210.15 543.91,212.12 542.21,210.99 540.51,212.12 541.05,210.15 539.45,208.88 541.49,208.79ZM544.08,207.02 544.8,208.94 546.84,209.03 545.24,210.3 545.78,212.27 544.08,211.14 542.38,212.27 542.92,210.3 541.32,209.03 543.36,208.94ZM545.95,207.19 546.67,209.1 548.71,209.19 547.11,210.47 547.65,212.44 545.95,211.31 544.25,212.44 544.79,210.47 543.19,209.19 545.23,209.1ZM547.82,207.41 548.54,209.32 550.58,209.41 548.98,210.68 549.52,212.65 547.82,211.52 546.12,212.65 546.66,210.68 545.06,209.41 547.1,209.32ZM549.69,207.64 550.41,209.56 552.45,209.65 550.85,210.92 551.39,212.89 549.69,211.76 547.99,212.89 548.53,210.92 546.93,209.65 548.97,209.56ZM551.56,207.86 552.28,209.78 554.32,209.87 552.72,211.14 553.26,213.11 551.56,211.98 549.86,213.11 550.4,211.14 548.8,209.87 550.84,209.78ZM553.43,208.03 554.15,209.94 556.19,210.03 554.59,211.3 555.13,213.27 553.43,212.14 551.73,213.27 552.27,211.3 550.67,210.03 552.71,209.94ZM555.3,208.1 556.02,210.01 558.06,210.1 556.46,211.38 557,213.35 555.3,212.22 553.6,213.35 554.14,211.38 552.54,210.1 554.58,210.01ZM557.17,208.1 557.89,210.01 559.93,210.1 558.33,211.38 558.87,213.35 557.17,212.22 555.47,213.35 556.01,211.38 554.41,210.1 556.45,210.01ZM559.04,208.1 559.76,210.01 561.8,210.1 560.2,211.38 560.74,213.35 559.04,212.22 557.34,213.35 557.88,211.38 556.28,210.1 558.32,210.01ZM560.91,208.1 561.63,210.01 563.67,210.1 562.07,211.38 562.61,213.35 560.91,212.22 559.21,213.35 559.75,211.38 558.15,210.1 560.19,210.01ZM562.78,208.1 563.5,210.01 565.54,210.1 563.94,211.38 564.48,213.35 562.78,212.22 561.08,213.35 561.62,211.38 560.02,210.1 562.06,210.01ZM564.65,208.1 565.37,210.01 567.41,210.1 565.81,211.38 566.35,213.35 564.65,212.22 562.95,213.35 563.49,211.38 561.89,210.1 563.93,210.01ZM566.52,208.1 567.24,210.01 569.28,210.1 567.68,211.37 568.22,213.34 566.52,212.21 564.82,213.34 565.36,211.37 563.76,210.1 565.8,210.01ZM568.39,208.03 569.11,209.94 571.15,210.03 569.55,211.31 570.09,213.28 568.39,212.15 566.69,213.28 567.23,211.31 565.63,210.03 567.67,209.94ZM570.26,207.9 570.98,209.82 573.02,209.91 571.42,211.18 571.96,213.15 570.26,212.02 568.56,213.15 569.1,211.18 567.5,209.91 569.54,209.82ZM572.13,207.75 572.85,209.67 574.89,209.76 573.29,211.03 573.83,213 572.13,211.87 570.43,213 570.97,211.03 569.37,209.76 571.41,209.67ZM574,207.61 574.72,209.53 576.76,209.62 575.16,210.89 575.7,212.86 574,211.73 572.3,212.86 572.84,210.89 571.24,209.62 573.28,209.53ZM575.87,207.52 576.59,209.43 578.63,209.52 577.03,210.79 577.57,212.76 575.87,211.63 574.17,212.76 574.71,210.79 573.11,209.52 575.15,209.43ZM577.74,207.48 578.46,209.39 580.5,209.48 578.9,210.76 579.44,212.73 577.74,211.6 576.04,212.73 576.58,210.76 574.98,209.48 577.02,209.39ZM579.61,207.46 580.33,209.38 582.37,209.46 580.77,210.74 581.31,212.71 579.61,211.58 577.91,212.71 578.45,210.74 576.85,209.46 578.89,209.38ZM581.48,207.45 582.2,209.36 584.24,209.45 582.64,210.72 583.18,212.69 581.48,211.56 579.78,212.69 580.32,210.72 578.72,209.45 580.76,209.36ZM583.35,207.43 584.07,209.34 586.11,209.43 584.51,210.7 585.05,212.67 583.35,211.55 581.65,212.67 582.19,210.7 580.59,209.43 582.63,209.34ZM585.22,207.39 585.94,209.31 587.98,209.4 586.38,210.67 586.92,212.64 585.22,211.51 583.52,212.64 584.06,210.67 582.46,209.4 584.5,209.31ZM587.09,207.26 587.81,209.18 589.85,209.26 588.25,210.54 588.79,212.51 587.09,211.38 585.39,212.51 585.93,210.54 584.33,209.26 586.37,209.18ZM588.96,207.02 589.68,208.93 591.72,209.02 590.12,210.29 590.66,212.26 588.96,211.14 587.26,212.26 587.8,210.29 586.2,209.02 588.24,208.93ZM590.83,206.72 591.55,208.63 593.59,208.72 591.99,210 592.53,211.97 590.83,210.84 589.13,211.97 589.67,210 588.07,208.72 590.11,208.63ZM592.7,206.43 593.42,208.34 595.46,208.43 593.86,209.7 594.4,211.67 592.7,210.54 591,211.67 591.54,209.7 589.94,208.43 591.98,208.34ZM594.57,206.19 595.29,208.11 597.33,208.2 595.73,209.47 596.27,211.44 594.57,210.31 592.87,211.44 593.41,209.47 591.81,208.2 593.85,208.11ZM596.44,206 597.16,207.91 599.2,208 597.6,209.27 598.14,211.24 596.44,210.11 594.74,211.24 595.28,209.27 593.68,208 595.72,207.91ZM598.31,205.8 599.03,207.71 601.07,207.8 599.47,209.07 600.01,211.04 598.31,209.92 596.61,211.04 597.15,209.07 595.55,207.8 597.59,207.71ZM600.18,205.62 600.9,207.53 602.94,207.62 601.34,208.9 601.88,210.87 600.18,209.74 598.48,210.87 599.02,208.9 597.42,207.62 599.46,207.53ZM602.05,205.48 602.77,207.39 604.81,207.48 603.21,208.76 603.75,210.73 602.05,209.6 600.35,210.73 600.89,208.76 599.29,207.48 601.33,207.39ZM603.92,205.4 604.64,207.32 606.68,207.41 605.08,208.68 605.62,210.65 603.92,209.52 602.22,210.65 602.76,208.68 601.16,207.41 603.2,207.32ZM605.79,205.36 606.51,207.28 608.55,207.37 606.95,208.64 607.49,210.61 605.79,209.48 604.09,210.61 604.63,208.64 603.03,207.37 605.07,207.28ZM607.66,205.33 608.38,207.25 610.42,207.34 608.82,208.61 609.36,210.58 607.66,209.45 605.96,210.58 606.5,208.61 604.9,207.34 606.94,207.25ZM609.53,205.3 610.25,207.22 612.29,207.31 610.69,208.58 611.23,210.55 609.53,209.42 607.83,210.55 608.37,208.58 606.77,207.31 608.81,207.22ZM611.4,205.28 612.12,207.19 614.16,207.28 612.56,208.55 613.1,210.52 611.4,209.39 609.7,210.52 610.24,208.55 608.64,207.28 610.68,207.19ZM613.27,205.25 613.99,207.17 616.03,207.26 614.43,208.53 614.97,210.5 613.27,209.37 611.57,210.5 612.11,208.53 610.51,207.26 612.55,207.17ZM615.14,205.24 615.86,207.15 617.9,207.24 616.3,208.51 616.84,210.48 615.14,209.35 613.44,210.48 613.98,208.51 612.38,207.24 614.42,207.15ZM617.01,205.22 617.73,207.14 619.77,207.22 618.17,208.5 618.71,210.47 617.01,209.34 615.31,210.47 615.85,208.5 614.25,207.22 616.29,207.14ZM618.88,205.21 619.6,207.12 621.64,207.21 620.04,208.49 620.58,210.46 618.88,209.33 617.18,210.46 617.72,208.49 616.12,207.21 618.16,207.12ZM620.75,205.2 621.47,207.12 623.51,207.21 621.91,208.48 622.45,210.45 620.75,209.32 619.05,210.45 619.59,208.48 617.99,207.21 620.03,207.12ZM622.62,205.2 623.34,207.11 625.38,207.2 623.78,208.48 624.32,210.45 622.62,209.32 620.92,210.45 621.46,208.48 619.86,207.2 621.9,207.11ZM624.49,205.2 625.21,207.12 627.25,207.21 625.65,208.48 626.19,210.45 624.49,209.32 622.79,210.45 623.33,208.48 621.73,207.21 623.77,207.12ZM626.36,205.22 627.08,207.13 629.12,207.22 627.52,208.49 628.06,210.46 626.36,209.33 624.66,210.46 625.2,208.49 623.6,207.22 625.64,207.13ZM628.23,205.24 628.95,207.15 630.99,207.24 629.39,208.51 629.93,210.48 628.23,209.36 626.53,210.48 627.07,208.51 625.47,207.24 627.51,207.15ZM630.1,205.27 630.82,207.18 632.86,207.27 631.26,208.55 631.8,210.52 630.1,209.39 628.4,210.52 628.94,208.55 627.34,207.27 629.38,207.18ZM631.97,205.31 632.69,207.22 634.73,207.31 633.13,208.59 633.67,210.56 631.97,209.43 630.27,210.56 630.81,208.59 629.21,207.31 631.25,207.22ZM633.84,205.36 634.56,207.27 636.6,207.36 635,208.63 635.54,210.6 633.84,209.48 632.14,210.6 632.68,208.63 631.08,207.36 633.12,207.27ZM635.71,205.41 636.43,207.33 638.47,207.42 636.87,208.69 637.41,210.66 635.71,209.53 634.01,210.66 634.55,208.69 632.95,207.42 634.99,207.33ZM637.58,205.48 638.3,207.39 640.34,207.48 638.74,208.75 639.28,210.72 637.58,209.59 635.88,210.72 636.42,208.75 634.82,207.48 636.86,207.39ZM639.45,205.55 640.17,207.46 642.21,207.55 640.61,208.82 641.15,210.79 639.45,209.66 637.75,210.79 638.29,208.82 636.69,207.55 638.73,207.46ZM641.32,205.62 642.04,207.54 644.08,207.63 642.48,208.9 643.02,210.87 641.32,209.74 639.62,210.87 640.16,208.9 638.56,207.63 640.6,207.54ZM643.19,205.71 643.91,207.62 645.95,207.71 644.35,208.98 644.89,210.95 643.19,209.82 641.49,210.95 642.03,208.98 640.43,207.71 642.47,207.62ZM645.06,205.8 645.78,207.71 647.82,207.8 646.22,209.07 646.76,211.04 645.06,209.91 643.36,211.04 643.9,209.07 642.3,207.8 644.34,207.71ZM646.93,205.89 647.65,207.8 649.69,207.89 648.09,209.17 648.63,211.14 646.93,210.01 645.23,211.14 645.77,209.17 644.17,207.89 646.21,207.8ZM648.8,205.99 649.52,207.9 651.56,207.99 649.96,209.27 650.5,211.24 648.8,210.11 647.1,211.24 647.64,209.27 646.04,207.99 648.08,207.9Z" fill="#f00"/><path d="M424.4,126.9v1.6M461.9,126.9v2.6M499.4,126.9v1.6M536.9,126.9v2.6M574.4,126.9v1.6M611.9,126.9v2.6M386.9,238h-3M386.9,223.05h-2M386.9,208.1h-3M386.9,193.15h-2M386.9,178.2h-3M386.9,163.25h-2M386.9,148.3h-3M386.9,133.35h-2M649.4,238h3M649.4,222.85h2M649.4,207.7h3M649.4,192.55h2M649.4,177.4h3M649.4,162.25h2M649.4,147.1h3M649.4,131.95h2" fill="none" stroke="#000" stroke-width="1.3"/><path d="M386.9,348.2 388.77,347.9 390.65,347.66 392.52,347.4 394.4,346.71 396.27,345.6 398.15,344.32 400.02,342.82 401.9,340.43 403.77,337.74 405.65,334.45 407.52,329.07 409.4,320.1 411.27,307.24 413.15,291.69 415.02,274.65 416.9,260 418.77,250.13 420.65,247.14 422.52,251.03 424.4,259.7 426.27,270.76 428.15,282.42 430.02,292.89 431.9,301.56 433.77,309.03 435.65,314.42 437.52,319.2 439.4,323.3 441.27,326.2 443.15,328.71 445.02,330.8 446.9,332.89 448.77,334.27 450.65,335.33 452.52,336.18 454.4,336.88 456.27,337.42 458.15,337.89 460.02,338 461.9,337.84 463.77,337.55 465.65,336.69 467.52,335.67 469.4,334.51 471.27,333.28 473.15,331.95 475.02,330.53 476.9,328.89 478.77,326.15 480.65,323.7 482.52,321.26 484.4,318.66 486.27,316.19 488.15,313.4 490.02,310.83 491.9,308.02 493.77,306.15 495.65,305.39 497.52,305.39 499.4,305.88 501.27,307.07 503.15,308.17 505.02,309.36 506.9,310.6 508.77,311.85 510.65,313.07 512.52,314.21 514.4,314.96 516.27,315.51 518.15,315.73 520.02,315.8 521.9,315.85 523.77,315.93 525.65,316.09 527.52,316.35 529.4,316.71 531.27,317.3 533.15,317.94 535.02,318.57 536.9,319.25 538.77,320.03 540.65,320.83 542.52,321.44 544.4,321.99 546.27,322.74 548.15,323.58 550.02,324.14 551.9,324.59 553.77,324.73 555.65,324.61 557.52,324.35 559.4,324.01 561.27,323.27 563.15,322.24 565.02,321.29 566.9,320.53 568.77,319.8 570.65,319.13 572.52,318.5 574.4,317.9 576.27,317.36 578.15,316.93 580.02,316.56 581.9,316.22 583.77,315.98 585.65,315.89 587.52,315.85 589.4,315.81 591.27,315.8 593.15,315.79 595.02,315.82 596.9,315.86 598.77,315.93 600.65,316.02 602.52,316.12 604.4,316.32 606.27,316.6 608.15,316.93 610.02,317.25 611.9,317.62 613.77,318.03 615.65,318.39 617.52,318.64 619.4,318.81 621.27,318.97 623.15,319.1 625.02,319.22 626.9,319.32 628.77,319.41 630.65,319.5 632.52,319.58 634.4,319.66 636.27,319.74 638.15,319.81 640.02,319.87 641.9,319.93 643.77,319.99 645.65,320.03 647.52,320.07 649.4,320.1" fill="none" stroke="#000" stroke-width="0.8"/><path d="M385.4,348.2a1.5,1.5 0 1,0 3,0a1.5,1.5 0 1,0 -3,0M387.27,347.9a1.5,1.5 0 1,0 3,0a1.5,1.5 0 1,0 -3,0M389.15,347.66a1.5,1.5 0 1,0 3,0a1.5,1.5 0 1,0 -3,0M391.02,347.4a1.5,1.5 0 1,0 3,0a1.5,1.5 0 1,0 -3,0M392.9,346.71a1.5,1.5 0 1,0 3,0a1.5,1.5 0 1,0 -3,0M394.77,345.6a1.5,1.5 0 1,0 3,0a1.5,1.5 0 1,0 -3,0M396.65,344.32a1.5,1.5 0 1,0 3,0a1.5,1.5 0 1,0 -3,0M398.52,342.82a1.5,1.5 0 1,0 3,0a1.5,1.5 0 1,0 -3,0M400.4,340.43a1.5,1.5 0 1,0 3,0a1.5,1.5 0 1,0 -3,0M402.27,337.74a1.5,1.5 0 1,0 3,0a1.5,1.5 0 1,0 -3,0M404.15,334.45a1.5,1.5 0 1,0 3,0a1.5,1.5 0 1,0 -3,0M406.02,329.07a1.5,1.5 0 1,0 3,0a1.5,1.5 0 1,0 -3,0M407.9,320.1a1.5,1.5 0 1,0 3,0a1.5,1.5 0 1,0 -3,0M409.77,307.24a1.5,1.5 0 1,0 3,0a1.5,1.5 0 1,0 -3,0M411.65,291.69a1.5,1.5 0 1,0 3,0a1.5,1.5 0 1,0 -3,0M413.52,274.65a1.5,1.5 0 1,0 3,0a1.5,1.5 0 1,0 -3,0M415.4,260a1.5,1.5 0 1,0 3,0a1.5,1.5 0 1,0 -3,0M417.27,250.13a1.5,1.5 0 1,0 3,0a1.5,1.5 0 1,0 -3,0M419.15,247.14a1.5,1.5 0 1,0 3,0a1.5,1.5 0 1,0 -3,0M421.02,251.03a1.5,1.5 0 1,0 3,0a1.5,1.5 0 1,0 -3,0M422.9,259.7a1.5,1.5 0 1,0 3,0a1.5,1.5 0 1,0 -3,0M424.77,270.76a1.5,1.5 0 1,0 3,0a1.5,1.5 0 1,0 -3,0M426.65,282.42a1.5,1.5 0 1,0 3,0a1.5,1.5 0 1,0 -3,0M428.52,292.89a1.5,1.5 0 1,0 3,0a1.5,1.5 0 1,0 -3,0M430.4,301.56a1.5,1.5 0 1,0 3,0a1.5,1.5 0 1,0 -3,0M432.27,309.03a1.5,1.5 0 1,0 3,0a1.5,1.5 0 1,0 -3,0M434.15,314.42a1.5,1.5 0 1,0 3,0a1.5,1.5 0 1,0 -3,0M436.02,319.2a1.5,1.5 0 1,0 3,0a1.5,1.5 0 1,0 -3,0M437.9,323.3a1.5,1.5 0 1,0 3,0a1.5,1.5 0 1,0 -3,0M439.77,326.2a1.5,1.5 0 1,0 3,0a1.5,1.5 0 1,0 -3,0M441.65,328.71a1.5,1.5 0 1,0 3,0a1.5,1.5 0 1,0 -3,0M443.52,330.8a1.5,1.5 0 1,0 3,0a1.5,1.5 0 1,0 -3,0M445.4,332.89a1.5,1.5 0 1,0 3,0a1.5,1.5 0 1,0 -3,0M447.27,334.27a1.5,1.5 0 1,0 3,0a1.5,1.5 0 1,0 -3,0M449.15,335.33a1.5,1.5 0 1,0 3,0a1.5,1.5 0 1,0 -3,0M451.02,336.18a1.5,1.5 0 1,0 3,0a1.5,1.5 0 1,0 -3,0M452.9,336.88a1.5,1.5 0 1,0 3,0a1.5,1.5 0 1,0 -3,0M454.77,337.42a1.5,1.5 0 1,0 3,0a1.5,1.5 0 1,0 -3,0M456.65,337.89a1.5,1.5 0 1,0 3,0a1.5,1.5 0 1,0 -3,0M458.52,338a1.5,1.5 0 1,0 3,0a1.5,1.5 0 1,0 -3,0M460.4,337.84a1.5,1.5 0 1,0 3,0a1.5,1.5 0 1,0 -3,0M462.27,337.55a1.5,1.5 0 1,0 3,0a1.5,1.5 0 1,0 -3,0M464.15,336.69a1.5,1.5 0 1,0 3,0a1.5,1.5 0 1,0 -3,0M466.02,335.67a1.5,1.5 0 1,0 3,0a1.5,1.5 0 1,0 -3,0M467.9,334.51a1.5,1.5 0 1,0 3,0a1.5,1.5 0 1,0 -3,0M469.77,333.28a1.5,1.5 0 1,0 3,0a1.5,1.5 0 1,0 -3,0M471.65,331.95a1.5,1.5 0 1,0 3,0a1.5,1.5 0 1,0 -3,0M473.52,330.53a1.5,1.5 0 1,0 3,0a1.5,1.5 0 1,0 -3,0M475.4,328.89a1.5,1.5 0 1,0 3,0a1.5,1.5 0 1,0 -3,0M477.27,326.15a1.5,1.5 0 1,0 3,0a1.5,1.5 0 1,0 -3,0M479.15,323.7a1.5,1.5 0 1,0 3,0a1.5,1.5 0 1,0 -3,0M481.02,321.26a1.5,1.5 0 1,0 3,0a1.5,1.5 0 1,0 -3,0M482.9,318.66a1.5,1.5 0 1,0 3,0a1.5,1.5 0 1,0 -3,0M484.77,316.19a1.5,1.5 0 1,0 3,0a1.5,1.5 0 1,0 -3,0M486.65,313.4a1.5,1.5 0 1,0 3,0a1.5,1.5 0 1,0 -3,0M488.52,310.83a1.5,1.5 0 1,0 3,0a1.5,1.5 0 1,0 -3,0M490.4,308.02a1.5,1.5 0 1,0 3,0a1.5,1.5 0 1,0 -3,0M492.27,306.15a1.5,1.5 0 1,0 3,0a1.5,1.5 0 1,0 -3,0M494.15,305.39a1.5,1.5 0 1,0 3,0a1.5,1.5 0 1,0 -3,0M496.02,305.39a1.5,1.5 0 1,0 3,0a1.5,1.5 0 1,0 -3,0M497.9,305.88a1.5,1.5 0 1,0 3,0a1.5,1.5 0 1,0 -3,0M499.77,307.07a1.5,1.5 0 1,0 3,0a1.5,1.5 0 1,0 -3,0M501.65,308.17a1.5,1.5 0 1,0 3,0a1.5,1.5 0 1,0 -3,0M503.52,309.36a1.5,1.5 0 1,0 3,0a1.5,1.5 0 1,0 -3,0M505.4,310.6a1.5,1.5 0 1,0 3,0a1.5,1.5 0 1,0 -3,0M507.27,311.85a1.5,1.5 0 1,0 3,0a1.5,1.5 0 1,0 -3,0M509.15,313.07a1.5,1.5 0 1,0 3,0a1.5,1.5 0 1,0 -3,0M511.02,314.21a1.5,1.5 0 1,0 3,0a1.5,1.5 0 1,0 -3,0M512.9,314.96a1.5,1.5 0 1,0 3,0a1.5,1.5 0 1,0 -3,0M514.77,315.51a1.5,1.5 0 1,0 3,0a1.5,1.5 0 1,0 -3,0M516.65,315.73a1.5,1.5 0 1,0 3,0a1.5,1.5 0 1,0 -3,0M518.52,315.8a1.5,1.5 0 1,0 3,0a1.5,1.5 0 1,0 -3,0M520.4,315.85a1.5,1.5 0 1,0 3,0a1.5,1.5 0 1,0 -3,0M522.27,315.93a1.5,1.5 0 1,0 3,0a1.5,1.5 0 1,0 -3,0M524.15,316.09a1.5,1.5 0 1,0 3,0a1.5,1.5 0 1,0 -3,0M526.02,316.35a1.5,1.5 0 1,0 3,0a1.5,1.5 0 1,0 -3,0M527.9,316.71a1.5,1.5 0 1,0 3,0a1.5,1.5 0 1,0 -3,0M529.77,317.3a1.5,1.5 0 1,0 3,0a1.5,1.5 0 1,0 -3,0M531.65,317.94a1.5,1.5 0 1,0 3,0a1.5,1.5 0 1,0 -3,0M533.52,318.57a1.5,1.5 0 1,0 3,0a1.5,1.5 0 1,0 -3,0M535.4,319.25a1.5,1.5 0 1,0 3,0a1.5,1.5 0 1,0 -3,0M537.27,320.03a1.5,1.5 0 1,0 3,0a1.5,1.5 0 1,0 -3,0M539.15,320.83a1.5,1.5 0 1,0 3,0a1.5,1.5 0 1,0 -3,0M541.02,321.44a1.5,1.5 0 1,0 3,0a1.5,1.5 0 1,0 -3,0M542.9,321.99a1.5,1.5 0 1,0 3,0a1.5,1.5 0 1,0 -3,0M544.77,322.74a1.5,1.5 0 1,0 3,0a1.5,1.5 0 1,0 -3,0M546.65,323.58a1.5,1.5 0 1,0 3,0a1.5,1.5 0 1,0 -3,0M548.52,324.14a1.5,1.5 0 1,0 3,0a1.5,1.5 0 1,0 -3,0M550.4,324.59a1.5,1.5 0 1,0 3,0a1.5,1.5 0 1,0 -3,0M552.27,324.73a1.5,1.5 0 1,0 3,0a1.5,1.5 0 1,0 -3,0M554.15,324.61a1.5,1.5 0 1,0 3,0a1.5,1.5 0 1,0 -3,0M556.02,324.35a1.5,1.5 0 1,0 3,0a1.5,1.5 0 1,0 -3,0M557.9,324.01a1.5,1.5 0 1,0 3,0a1.5,1.5 0 1,0 -3,0M559.77,323.27a1.5,1.5 0 1,0 3,0a1.5,1.5 0 1,0 -3,0M561.65,322.24a1.5,1.5 0 1,0 3,0a1.5,1.5 0 1,0 -3,0M563.52,321.29a1.5,1.5 0 1,0 3,0a1.5,1.5 0 1,0 -3,0M565.4,320.53a1.5,1.5 0 1,0 3,0a1.5,1.5 0 1,0 -3,0M567.27,319.8a1.5,1.5 0 1,0 3,0a1.5,1.5 0 1,0 -3,0M569.15,319.13a1.5,1.5 0 1,0 3,0a1.5,1.5 0 1,0 -3,0M571.02,318.5a1.5,1.5 0 1,0 3,0a1.5,1.5 0 1,0 -3,0M572.9,317.9a1.5,1.5 0 1,0 3,0a1.5,1.5 0 1,0 -3,0M574.77,317.36a1.5,1.5 0 1,0 3,0a1.5,1.5 0 1,0 -3,0M576.65,316.93a1.5,1.5 0 1,0 3,0a1.5,1.5 0 1,0 -3,0M578.52,316.56a1.5,1.5 0 1,0 3,0a1.5,1.5 0 1,0 -3,0M580.4,316.22a1.5,1.5 0 1,0 3,0a1.5,1.5 0 1,0 -3,0M582.27,315.98a1.5,1.5 0 1,0 3,0a1.5,1.5 0 1,0 -3,0M584.15,315.89a1.5,1.5 0 1,0 3,0a1.5,1.5 0 1,0 -3,0M586.02,315.85a1.5,1.5 0 1,0 3,0a1.5,1.5 0 1,0 -3,0M587.9,315.81a1.5,1.5 0 1,0 3,0a1.5,1.5 0 1,0 -3,0M589.77,315.8a1.5,1.5 0 1,0 3,0a1.5,1.5 0 1,0 -3,0M591.65,315.79a1.5,1.5 0 1,0 3,0a1.5,1.5 0 1,0 -3,0M593.52,315.82a1.5,1.5 0 1,0 3,0a1.5,1.5 0 1,0 -3,0M595.4,315.86a1.5,1.5 0 1,0 3,0a1.5,1.5 0 1,0 -3,0M597.27,315.93a1.5,1.5 0 1,0 3,0a1.5,1.5 0 1,0 -3,0M599.15,316.02a1.5,1.5 0 1,0 3,0a1.5,1.5 0 1,0 -3,0M601.02,316.12a1.5,1.5 0 1,0 3,0a1.5,1.5 0 1,0 -3,0M602.9,316.32a1.5,1.5 0 1,0 3,0a1.5,1.5 0 1,0 -3,0M604.77,316.6a1.5,1.5 0 1,0 3,0a1.5,1.5 0 1,0 -3,0M606.65,316.93a1.5,1.5 0 1,0 3,0a1.5,1.5 0 1,0 -3,0M608.52,317.25a1.5,1.5 0 1,0 3,0a1.5,1.5 0 1,0 -3,0M610.4,317.62a1.5,1.5 0 1,0 3,0a1.5,1.5 0 1,0 -3,0M612.27,318.03a1.5,1.5 0 1,0 3,0a1.5,1.5 0 1,0 -3,0M614.15,318.39a1.5,1.5 0 1,0 3,0a1.5,1.5 0 1,0 -3,0M616.02,318.64a1.5,1.5 0 1,0 3,0a1.5,1.5 0 1,0 -3,0M617.9,318.81a1.5,1.5 0 1,0 3,0a1.5,1.5 0 1,0 -3,0M619.77,318.97a1.5,1.5 0 1,0 3,0a1.5,1.5 0 1,0 -3,0M621.65,319.1a1.5,1.5 0 1,0 3,0a1.5,1.5 0 1,0 -3,0M623.52,319.22a1.5,1.5 0 1,0 3,0a1.5,1.5 0 1,0 -3,0M625.4,319.32a1.5,1.5 0 1,0 3,0a1.5,1.5 0 1,0 -3,0M627.27,319.41a1.5,1.5 0 1,0 3,0a1.5,1.5 0 1,0 -3,0M629.15,319.5a1.5,1.5 0 1,0 3,0a1.5,1.5 0 1,0 -3,0M631.02,319.58a1.5,1.5 0 1,0 3,0a1.5,1.5 0 1,0 -3,0M632.9,319.66a1.5,1.5 0 1,0 3,0a1.5,1.5 0 1,0 -3,0M634.77,319.74a1.5,1.5 0 1,0 3,0a1.5,1.5 0 1,0 -3,0M636.65,319.81a1.5,1.5 0 1,0 3,0a1.5,1.5 0 1,0 -3,0M638.52,319.87a1.5,1.5 0 1,0 3,0a1.5,1.5 0 1,0 -3,0M640.4,319.93a1.5,1.5 0 1,0 3,0a1.5,1.5 0 1,0 -3,0M642.27,319.99a1.5,1.5 0 1,0 3,0a1.5,1.5 0 1,0 -3,0M644.15,320.03a1.5,1.5 0 1,0 3,0a1.5,1.5 0 1,0 -3,0M646.02,320.07a1.5,1.5 0 1,0 3,0a1.5,1.5 0 1,0 -3,0M647.9,320.1a1.5,1.5 0 1,0 3,0a1.5,1.5 0 1,0 -3,0" fill="#000"/><path d="M387,320.1 388.87,319.24 390.74,319.79 392.61,321.71 394.48,323.98 396.35,325.66 398.22,326.63 400.09,327.49 401.96,328.39 403.83,329.32 405.7,330.66 407.57,332.37 409.44,332.89 411.31,332.78 413.18,332.61 415.05,332.39 416.92,332.16 418.79,332.04 420.66,331.98 422.53,331.78 424.4,330.48 426.27,328.89 428.14,327.72 430.01,326.63 431.88,325.62 433.75,324.67 435.62,323.8 437.49,322.85 439.36,322.3 441.23,322.41 443.1,322.7 444.97,323 446.84,323.26 448.71,323.54 450.58,323.83 452.45,324.12 454.32,324.39 456.19,324.62 458.06,324.84 459.93,325.06 461.8,325.26 463.67,325.45 465.54,325.61 467.41,325.73 469.28,325.83 471.15,325.9 473.02,325.97 474.89,326.05 476.76,326.13 478.63,326.25 480.5,326.45 482.37,326.7 484.24,326.95 486.11,327.16 487.98,327.29 489.85,327.3 491.72,327.3 493.59,327.3 495.46,327.3 497.33,327.3 499.2,327.3 501.07,327.26 502.94,327.08 504.81,326.79 506.68,326.44 508.55,326.08 510.42,325.74 512.29,325.43 514.16,325.08 516.03,324.74 517.9,324.44 519.77,324.22 521.64,324.07 523.51,323.94 525.38,323.81 527.25,323.69 529.12,323.58 530.99,323.49 532.86,323.42 534.73,323.36 536.6,323.32 538.47,323.3 540.34,323.3 542.21,323.32 544.08,323.35 545.95,323.38 547.82,323.43 549.69,323.48 551.56,323.53 553.43,323.58 555.3,323.63 557.17,323.68 559.04,323.73 560.91,323.78 562.78,323.84 564.65,323.91 566.52,323.97 568.39,324.03 570.26,324.09 572.13,324.14 574,324.18 575.87,324.2 577.74,324.2 579.61,324.15 581.48,324.07 583.35,323.95 585.22,323.8 587.09,323.64 588.96,323.47 590.83,323.3 592.7,323.14 594.57,322.99 596.44,322.87 598.31,322.75 600.18,322.63 602.05,322.52 603.92,322.4 605.79,322.29 607.66,322.19 609.53,322.08 611.4,321.98 613.27,321.88 615.14,321.79 617.01,321.69 618.88,321.59 620.75,321.48 622.62,321.38 624.49,321.28 626.36,321.19 628.23,321.11 630.1,321.05 631.97,321.01 633.84,321 635.71,321 637.58,321 639.45,321 641.32,321 643.19,321 645.06,321 646.93,321 648.8,321" fill="none" stroke="#f00" stroke-width="2"/><path d="M387,317.2 387.72,319.11 389.76,319.2 388.16,320.48 388.7,322.45 387,321.32 385.3,322.45 385.84,320.48 384.24,319.2 386.28,319.11ZM388.87,316.34 389.59,318.25 391.63,318.34 390.03,319.61 390.57,321.58 388.87,320.46 387.17,321.58 387.71,319.61 386.11,318.34 388.15,318.25ZM390.74,316.89 391.46,318.8 393.5,318.89 391.9,320.16 392.44,322.13 390.74,321 389.04,322.13 389.58,320.16 387.98,318.89 390.02,318.8ZM392.61,318.81 393.33,320.72 395.37,320.81 393.77,322.09 394.31,324.06 392.61,322.93 390.91,324.06 391.45,322.09 389.85,320.81 391.89,320.72ZM394.48,321.08 395.2,323 397.24,323.08 395.64,324.36 396.18,326.33 394.48,325.2 392.78,326.33 393.32,324.36 391.72,323.08 393.76,323ZM396.35,322.76 397.07,324.68 399.11,324.77 397.51,326.04 398.05,328.01 396.35,326.88 394.65,328.01 395.19,326.04 393.59,324.77 395.63,324.68ZM398.22,323.73 398.94,325.65 400.98,325.74 399.38,327.01 399.92,328.98 398.22,327.85 396.52,328.98 397.06,327.01 395.46,325.74 397.5,325.65ZM400.09,324.59 400.81,326.51 402.85,326.6 401.25,327.87 401.79,329.84 400.09,328.71 398.39,329.84 398.93,327.87 397.33,326.6 399.37,326.51ZM401.96,325.49 402.68,327.41 404.72,327.5 403.12,328.77 403.66,330.74 401.96,329.61 400.26,330.74 400.8,328.77 399.2,327.5 401.24,327.41ZM403.83,326.42 404.55,328.34 406.59,328.42 404.99,329.7 405.53,331.67 403.83,330.54 402.13,331.67 402.67,329.7 401.07,328.42 403.11,328.34ZM405.7,327.76 406.42,329.67 408.46,329.76 406.86,331.04 407.4,333.01 405.7,331.88 404,333.01 404.54,331.04 402.94,329.76 404.98,329.67ZM407.57,329.47 408.29,331.38 410.33,331.47 408.73,332.74 409.27,334.71 407.57,333.58 405.87,334.71 406.41,332.74 404.81,331.47 406.85,331.38ZM409.44,329.99 410.16,331.91 412.2,332 410.6,333.27 411.14,335.24 409.44,334.11 407.74,335.24 408.28,333.27 406.68,332 408.72,331.91ZM411.31,329.88 412.03,331.79 414.07,331.88 412.47,333.16 413.01,335.13 411.31,334 409.61,335.13 410.15,333.16 408.55,331.88 410.59,331.79ZM413.18,329.71 413.9,331.63 415.94,331.71 414.34,332.99 414.88,334.96 413.18,333.83 411.48,334.96 412.02,332.99 410.42,331.71 412.46,331.63ZM415.05,329.49 415.77,331.41 417.81,331.5 416.21,332.77 416.75,334.74 415.05,333.61 413.35,334.74 413.89,332.77 412.29,331.5 414.33,331.41ZM416.92,329.26 417.64,331.17 419.68,331.26 418.08,332.53 418.62,334.5 416.92,333.38 415.22,334.5 415.76,332.53 414.16,331.26 416.2,331.17ZM418.79,329.14 419.51,331.06 421.55,331.15 419.95,332.42 420.49,334.39 418.79,333.26 417.09,334.39 417.63,332.42 416.03,331.15 418.07,331.06ZM420.66,329.08 421.38,331 423.42,331.08 421.82,332.36 422.36,334.33 420.66,333.2 418.96,334.33 419.5,332.36 417.9,331.08 419.94,331ZM422.53,328.88 423.25,330.79 425.29,330.88 423.69,332.15 424.23,334.12 422.53,332.99 420.83,334.12 421.37,332.15 419.77,330.88 421.81,330.79ZM424.4,327.58 425.12,329.49 427.16,329.58 425.56,330.86 426.1,332.83 424.4,331.7 422.7,332.83 423.24,330.86 421.64,329.58 423.68,329.49ZM426.27,325.99 426.99,327.9 429.03,327.99 427.43,329.26 427.97,331.23 426.27,330.1 424.57,331.23 425.11,329.26 423.51,327.99 425.55,327.9ZM428.14,324.82 428.86,326.73 430.9,326.82 429.3,328.09 429.84,330.06 428.14,328.94 426.44,330.06 426.98,328.09 425.38,326.82 427.42,326.73ZM430.01,323.73 430.73,325.65 432.77,325.74 431.17,327.01 431.71,328.98 430.01,327.85 428.31,328.98 428.85,327.01 427.25,325.74 429.29,325.65ZM431.88,322.72 432.6,324.64 434.64,324.73 433.04,326 433.58,327.97 431.88,326.84 430.18,327.97 430.72,326 429.12,324.73 431.16,324.64ZM433.75,321.77 434.47,323.69 436.51,323.78 434.91,325.05 435.45,327.02 433.75,325.89 432.05,327.02 432.59,325.05 430.99,323.78 433.03,323.69ZM435.62,320.9 436.34,322.82 438.38,322.91 436.78,324.18 437.32,326.15 435.62,325.02 433.92,326.15 434.46,324.18 432.86,322.91 434.9,322.82ZM437.49,319.95 438.21,321.86 440.25,321.95 438.65,323.22 439.19,325.19 437.49,324.06 435.79,325.19 436.33,323.22 434.73,321.95 436.77,321.86ZM439.36,319.4 440.08,321.32 442.12,321.41 440.52,322.68 441.06,324.65 439.36,323.52 437.66,324.65 438.2,322.68 436.6,321.41 438.64,321.32ZM441.23,319.51 441.95,321.43 443.99,321.52 442.39,322.79 442.93,324.76 441.23,323.63 439.53,324.76 440.07,322.79 438.47,321.52 440.51,321.43ZM443.1,319.8 443.82,321.71 445.86,321.8 444.26,323.07 444.8,325.04 443.1,323.92 441.4,325.04 441.94,323.07 440.34,321.8 442.38,321.71ZM444.97,320.1 445.69,322.01 447.73,322.1 446.13,323.37 446.67,325.34 444.97,324.21 443.27,325.34 443.81,323.37 442.21,322.1 444.25,322.01ZM446.84,320.36 447.56,322.28 449.6,322.36 448,323.64 448.54,325.61 446.84,324.48 445.14,325.61 445.68,323.64 444.08,322.36 446.12,322.28ZM448.71,320.64 449.43,322.56 451.47,322.65 449.87,323.92 450.41,325.89 448.71,324.76 447.01,325.89 447.55,323.92 445.95,322.65 447.99,322.56ZM450.58,320.93 451.3,322.85 453.34,322.94 451.74,324.21 452.28,326.18 450.58,325.05 448.88,326.18 449.42,324.21 447.82,322.94 449.86,322.85ZM452.45,321.22 453.17,323.13 455.21,323.22 453.61,324.49 454.15,326.46 452.45,325.34 450.75,326.46 451.29,324.49 449.69,323.22 451.73,323.13ZM454.32,321.49 455.04,323.4 457.08,323.49 455.48,324.76 456.02,326.73 454.32,325.6 452.62,326.73 453.16,324.76 451.56,323.49 453.6,323.4ZM456.19,321.72 456.91,323.64 458.95,323.73 457.35,325 457.89,326.97 456.19,325.84 454.49,326.97 455.03,325 453.43,323.73 455.47,323.64ZM458.06,321.94 458.78,323.86 460.82,323.95 459.22,325.22 459.76,327.19 458.06,326.06 456.36,327.19 456.9,325.22 455.3,323.95 457.34,323.86ZM459.93,322.16 460.65,324.08 462.69,324.16 461.09,325.44 461.63,327.41 459.93,326.28 458.23,327.41 458.77,325.44 457.17,324.16 459.21,324.08ZM461.8,322.36 462.52,324.28 464.56,324.37 462.96,325.64 463.5,327.61 461.8,326.48 460.1,327.61 460.64,325.64 459.04,324.37 461.08,324.28ZM463.67,322.55 464.39,324.46 466.43,324.55 464.83,325.82 465.37,327.79 463.67,326.67 461.97,327.79 462.51,325.82 460.91,324.55 462.95,324.46ZM465.54,322.71 466.26,324.62 468.3,324.71 466.7,325.98 467.24,327.95 465.54,326.82 463.84,327.95 464.38,325.98 462.78,324.71 464.82,324.62ZM467.41,322.83 468.13,324.75 470.17,324.83 468.57,326.11 469.11,328.08 467.41,326.95 465.71,328.08 466.25,326.11 464.65,324.83 466.69,324.75ZM469.28,322.93 470,324.84 472.04,324.93 470.44,326.2 470.98,328.17 469.28,327.04 467.58,328.17 468.12,326.2 466.52,324.93 468.56,324.84ZM471.15,323 471.87,324.92 473.91,325.01 472.31,326.28 472.85,328.25 471.15,327.12 469.45,328.25 469.99,326.28 468.39,325.01 470.43,324.92ZM473.02,323.07 473.74,324.99 475.78,325.08 474.18,326.35 474.72,328.32 473.02,327.19 471.32,328.32 471.86,326.35 470.26,325.08 472.3,324.99ZM474.89,323.15 475.61,325.06 477.65,325.15 476.05,326.42 476.59,328.39 474.89,327.26 473.19,328.39 473.73,326.42 472.13,325.15 474.17,325.06ZM476.76,323.23 477.48,325.15 479.52,325.24 477.92,326.51 478.46,328.48 476.76,327.35 475.06,328.48 475.6,326.51 474,325.24 476.04,325.15ZM478.63,323.35 479.35,325.27 481.39,325.36 479.79,326.63 480.33,328.6 478.63,327.47 476.93,328.6 477.47,326.63 475.87,325.36 477.91,325.27ZM480.5,323.55 481.22,325.47 483.26,325.56 481.66,326.83 482.2,328.8 480.5,327.67 478.8,328.8 479.34,326.83 477.74,325.56 479.78,325.47ZM482.37,323.8 483.09,325.72 485.13,325.8 483.53,327.08 484.07,329.05 482.37,327.92 480.67,329.05 481.21,327.08 479.61,325.8 481.65,325.72ZM484.24,324.05 484.96,325.97 487,326.06 485.4,327.33 485.94,329.3 484.24,328.17 482.54,329.3 483.08,327.33 481.48,326.06 483.52,325.97ZM486.11,324.26 486.83,326.18 488.87,326.27 487.27,327.54 487.81,329.51 486.11,328.38 484.41,329.51 484.95,327.54 483.35,326.27 485.39,326.18ZM487.98,324.39 488.7,326.3 490.74,326.39 489.14,327.66 489.68,329.63 487.98,328.5 486.28,329.63 486.82,327.66 485.22,326.39 487.26,326.3ZM489.85,324.4 490.57,326.31 492.61,326.4 491.01,327.68 491.55,329.65 489.85,328.52 488.15,329.65 488.69,327.68 487.09,326.4 489.13,326.31ZM491.72,324.4 492.44,326.31 494.48,326.4 492.88,327.68 493.42,329.65 491.72,328.52 490.02,329.65 490.56,327.68 488.96,326.4 491,326.31ZM493.59,324.4 494.31,326.31 496.35,326.4 494.75,327.68 495.29,329.65 493.59,328.52 491.89,329.65 492.43,327.68 490.83,326.4 492.87,326.31ZM495.46,324.4 496.18,326.31 498.22,326.4 496.62,327.68 497.16,329.65 495.46,328.52 493.76,329.65 494.3,327.68 492.7,326.4 494.74,326.31ZM497.33,324.4 498.05,326.31 500.09,326.4 498.49,327.68 499.03,329.65 497.33,328.52 495.63,329.65 496.17,327.68 494.57,326.4 496.61,326.31ZM499.2,324.4 499.92,326.31 501.96,326.4 500.36,327.68 500.9,329.65 499.2,328.52 497.5,329.65 498.04,327.68 496.44,326.4 498.48,326.31ZM501.07,324.36 501.79,326.27 503.83,326.36 502.23,327.64 502.77,329.61 501.07,328.48 499.37,329.61 499.91,327.64 498.31,326.36 500.35,326.27ZM502.94,324.18 503.66,326.09 505.7,326.18 504.1,327.45 504.64,329.42 502.94,328.3 501.24,329.42 501.78,327.45 500.18,326.18 502.22,326.09ZM504.81,323.89 505.53,325.8 507.57,325.89 505.97,327.16 506.51,329.13 504.81,328.01 503.11,329.13 503.65,327.16 502.05,325.89 504.09,325.8ZM506.68,323.54 507.4,325.45 509.44,325.54 507.84,326.82 508.38,328.78 506.68,327.66 504.98,328.78 505.52,326.82 503.92,325.54 505.96,325.45ZM508.55,323.18 509.27,325.09 511.31,325.18 509.71,326.45 510.25,328.42 508.55,327.29 506.85,328.42 507.39,326.45 505.79,325.18 507.83,325.09ZM510.42,322.84 511.14,324.76 513.18,324.85 511.58,326.12 512.12,328.09 510.42,326.96 508.72,328.09 509.26,326.12 507.66,324.85 509.7,324.76ZM512.29,322.53 513.01,324.45 515.05,324.54 513.45,325.81 513.99,327.78 512.29,326.65 510.59,327.78 511.13,325.81 509.53,324.54 511.57,324.45ZM514.16,322.18 514.88,324.1 516.92,324.19 515.32,325.46 515.86,327.43 514.16,326.3 512.46,327.43 513,325.46 511.4,324.19 513.44,324.1ZM516.03,321.84 516.75,323.75 518.79,323.84 517.19,325.12 517.73,327.09 516.03,325.96 514.33,327.09 514.87,325.12 513.27,323.84 515.31,323.75ZM517.9,321.54 518.62,323.45 520.66,323.54 519.06,324.81 519.6,326.78 517.9,325.65 516.2,326.78 516.74,324.81 515.14,323.54 517.18,323.45ZM519.77,321.32 520.49,323.23 522.53,323.32 520.93,324.6 521.47,326.57 519.77,325.44 518.07,326.57 518.61,324.6 517.01,323.32 519.05,323.23ZM521.64,321.17 522.36,323.09 524.4,323.18 522.8,324.45 523.34,326.42 521.64,325.29 519.94,326.42 520.48,324.45 518.88,323.18 520.92,323.09ZM523.51,321.04 524.23,322.95 526.27,323.04 524.67,324.31 525.21,326.28 523.51,325.15 521.81,326.28 522.35,324.31 520.75,323.04 522.79,322.95ZM525.38,320.91 526.1,322.82 528.14,322.91 526.54,324.18 527.08,326.15 525.38,325.03 523.68,326.15 524.22,324.18 522.62,322.91 524.66,322.82ZM527.25,320.79 527.97,322.7 530.01,322.79 528.41,324.07 528.95,326.04 527.25,324.91 525.55,326.04 526.09,324.07 524.49,322.79 526.53,322.7ZM529.12,320.68 529.84,322.6 531.88,322.69 530.28,323.96 530.82,325.93 529.12,324.8 527.42,325.93 527.96,323.96 526.36,322.69 528.4,322.6ZM530.99,320.59 531.71,322.51 533.75,322.6 532.15,323.87 532.69,325.84 530.99,324.71 529.29,325.84 529.83,323.87 528.23,322.6 530.27,322.51ZM532.86,320.52 533.58,322.43 535.62,322.52 534.02,323.79 534.56,325.76 532.86,324.63 531.16,325.76 531.7,323.79 530.1,322.52 532.14,322.43ZM534.73,320.46 535.45,322.37 537.49,322.46 535.89,323.73 536.43,325.7 534.73,324.58 533.03,325.7 533.57,323.73 531.97,322.46 534.01,322.37ZM536.6,320.42 537.32,322.33 539.36,322.42 537.76,323.7 538.3,325.66 536.6,324.54 534.9,325.66 535.44,323.7 533.84,322.42 535.88,322.33ZM538.47,320.4 539.19,322.32 541.23,322.4 539.63,323.68 540.17,325.65 538.47,324.52 536.77,325.65 537.31,323.68 535.71,322.4 537.75,322.32ZM540.34,320.4 541.06,322.32 543.1,322.41 541.5,323.68 542.04,325.65 540.34,324.52 538.64,325.65 539.18,323.68 537.58,322.41 539.62,322.32ZM542.21,320.42 542.93,322.33 544.97,322.42 543.37,323.7 543.91,325.67 542.21,324.54 540.51,325.67 541.05,323.7 539.45,322.42 541.49,322.33ZM544.08,320.45 544.8,322.36 546.84,322.45 545.24,323.72 545.78,325.69 544.08,324.57 542.38,325.69 542.92,323.72 541.32,322.45 543.36,322.36ZM545.95,320.48 546.67,322.4 548.71,322.49 547.11,323.76 547.65,325.73 545.95,324.6 544.25,325.73 544.79,323.76 543.19,322.49 545.23,322.4ZM547.82,320.53 548.54,322.44 550.58,322.53 548.98,323.8 549.52,325.77 547.82,324.65 546.12,325.77 546.66,323.8 545.06,322.53 547.1,322.44ZM549.69,320.58 550.41,322.49 552.45,322.58 550.85,323.85 551.39,325.82 549.69,324.69 547.99,325.82 548.53,323.85 546.93,322.58 548.97,322.49ZM551.56,320.63 552.28,322.54 554.32,322.63 552.72,323.9 553.26,325.87 551.56,324.75 549.86,325.87 550.4,323.9 548.8,322.63 550.84,322.54ZM553.43,320.68 554.15,322.59 556.19,322.68 554.59,323.96 555.13,325.93 553.43,324.8 551.73,325.93 552.27,323.96 550.67,322.68 552.71,322.59ZM555.3,320.73 556.02,322.65 558.06,322.74 556.46,324.01 557,325.98 555.3,324.85 553.6,325.98 554.14,324.01 552.54,322.74 554.58,322.65ZM557.17,320.78 557.89,322.69 559.93,322.78 558.33,324.06 558.87,326.03 557.17,324.9 555.47,326.03 556.01,324.06 554.41,322.78 556.45,322.69ZM559.04,320.83 559.76,322.74 561.8,322.83 560.2,324.1 560.74,326.07 559.04,324.94 557.34,326.07 557.88,324.1 556.28,322.83 558.32,322.74ZM560.91,320.88 561.63,322.8 563.67,322.88 562.07,324.16 562.61,326.13 560.91,325 559.21,326.13 559.75,324.16 558.15,322.88 560.19,322.8ZM562.78,320.94 563.5,322.86 565.54,322.95 563.94,324.22 564.48,326.19 562.78,325.06 561.08,326.19 561.62,324.22 560.02,322.95 562.06,322.86ZM564.65,321.01 565.37,322.92 567.41,323.01 565.81,324.28 566.35,326.25 564.65,325.12 562.95,326.25 563.49,324.28 561.89,323.01 563.93,322.92ZM566.52,321.07 567.24,322.99 569.28,323.08 567.68,324.35 568.22,326.32 566.52,325.19 564.82,326.32 565.36,324.35 563.76,323.08 565.8,322.99ZM568.39,321.13 569.11,323.05 571.15,323.14 569.55,324.41 570.09,326.38 568.39,325.25 566.69,326.38 567.23,324.41 565.63,323.14 567.67,323.05ZM570.26,321.19 570.98,323.11 573.02,323.2 571.42,324.47 571.96,326.44 570.26,325.31 568.56,326.44 569.1,324.47 567.5,323.2 569.54,323.11ZM572.13,321.24 572.85,323.15 574.89,323.24 573.29,324.52 573.83,326.49 572.13,325.36 570.43,326.49 570.97,324.52 569.37,323.24 571.41,323.15ZM574,321.28 574.72,323.19 576.76,323.28 575.16,324.55 575.7,326.52 574,325.39 572.3,326.52 572.84,324.55 571.24,323.28 573.28,323.19ZM575.87,321.3 576.59,323.21 578.63,323.3 577.03,324.57 577.57,326.54 575.87,325.41 574.17,326.54 574.71,324.57 573.11,323.3 575.15,323.21ZM577.74,321.3 578.46,323.21 580.5,323.3 578.9,324.57 579.44,326.54 577.74,325.41 576.04,326.54 576.58,324.57 574.98,323.3 577.02,323.21ZM579.61,321.25 580.33,323.17 582.37,323.26 580.77,324.53 581.31,326.5 579.61,325.37 577.91,326.5 578.45,324.53 576.85,323.26 578.89,323.17ZM581.48,321.17 582.2,323.08 584.24,323.17 582.64,324.44 583.18,326.41 581.48,325.28 579.78,326.41 580.32,324.44 578.72,323.17 580.76,323.08ZM583.35,321.05 584.07,322.96 586.11,323.05 584.51,324.32 585.05,326.29 583.35,325.17 581.65,326.29 582.19,324.32 580.59,323.05 582.63,322.96ZM585.22,320.9 585.94,322.82 587.98,322.91 586.38,324.18 586.92,326.15 585.22,325.02 583.52,326.15 584.06,324.18 582.46,322.91 584.5,322.82ZM587.09,320.74 587.81,322.66 589.85,322.75 588.25,324.02 588.79,325.99 587.09,324.86 585.39,325.99 585.93,324.02 584.33,322.75 586.37,322.66ZM588.96,320.57 589.68,322.49 591.72,322.58 590.12,323.85 590.66,325.82 588.96,324.69 587.26,325.82 587.8,323.85 586.2,322.58 588.24,322.49ZM590.83,320.4 591.55,322.32 593.59,322.4 591.99,323.68 592.53,325.65 590.83,324.52 589.13,325.65 589.67,323.68 588.07,322.4 590.11,322.32ZM592.7,320.24 593.42,322.15 595.46,322.24 593.86,323.51 594.4,325.48 592.7,324.36 591,325.48 591.54,323.51 589.94,322.24 591.98,322.15ZM594.57,320.09 595.29,322.01 597.33,322.09 595.73,323.37 596.27,325.34 594.57,324.21 592.87,325.34 593.41,323.37 591.81,322.09 593.85,322.01ZM596.44,319.97 597.16,321.88 599.2,321.97 597.6,323.24 598.14,325.21 596.44,324.08 594.74,325.21 595.28,323.24 593.68,321.97 595.72,321.88ZM598.31,319.85 599.03,321.76 601.07,321.85 599.47,323.13 600.01,325.1 598.31,323.97 596.61,325.1 597.15,323.13 595.55,321.85 597.59,321.76ZM600.18,319.73 600.9,321.65 602.94,321.74 601.34,323.01 601.88,324.98 600.18,323.85 598.48,324.98 599.02,323.01 597.42,321.74 599.46,321.65ZM602.05,319.62 602.77,321.53 604.81,321.62 603.21,322.89 603.75,324.86 602.05,323.74 600.35,324.86 600.89,322.89 599.29,321.62 601.33,321.53ZM603.92,319.5 604.64,321.42 606.68,321.51 605.08,322.78 605.62,324.75 603.92,323.62 602.22,324.75 602.76,322.78 601.16,321.51 603.2,321.42ZM605.79,319.39 606.51,321.31 608.55,321.4 606.95,322.67 607.49,324.64 605.79,323.51 604.09,324.64 604.63,322.67 603.03,321.4 605.07,321.31ZM607.66,319.29 608.38,321.2 610.42,321.29 608.82,322.56 609.36,324.53 607.66,323.4 605.96,324.53 606.5,322.56 604.9,321.29 606.94,321.2ZM609.53,319.18 610.25,321.09 612.29,321.18 610.69,322.46 611.23,324.43 609.53,323.3 607.83,324.43 608.37,322.46 606.77,321.18 608.81,321.09ZM611.4,319.08 612.12,320.99 614.16,321.08 612.56,322.36 613.1,324.32 611.4,323.2 609.7,324.32 610.24,322.36 608.64,321.08 610.68,320.99ZM613.27,318.98 613.99,320.9 616.03,320.99 614.43,322.26 614.97,324.23 613.27,323.1 611.57,324.23 612.11,322.26 610.51,320.99 612.55,320.9ZM615.14,318.89 615.86,320.8 617.9,320.89 616.3,322.16 616.84,324.13 615.14,323.01 613.44,324.13 613.98,322.16 612.38,320.89 614.42,320.8ZM617.01,318.79 617.73,320.71 619.77,320.8 618.17,322.07 618.71,324.04 617.01,322.91 615.31,324.04 615.85,322.07 614.25,320.8 616.29,320.71ZM618.88,318.69 619.6,320.6 621.64,320.69 620.04,321.96 620.58,323.93 618.88,322.81 617.18,323.93 617.72,321.96 616.12,320.69 618.16,320.6ZM620.75,318.58 621.47,320.5 623.51,320.59 621.91,321.86 622.45,323.83 620.75,322.7 619.05,323.83 619.59,321.86 617.99,320.59 620.03,320.5ZM622.62,318.48 623.34,320.39 625.38,320.48 623.78,321.75 624.32,323.72 622.62,322.6 620.92,323.72 621.46,321.75 619.86,320.48 621.9,320.39ZM624.49,318.38 625.21,320.29 627.25,320.38 625.65,321.66 626.19,323.63 624.49,322.5 622.79,323.63 623.33,321.66 621.73,320.38 623.77,320.29ZM626.36,318.29 627.08,320.2 629.12,320.29 627.52,321.57 628.06,323.54 626.36,322.41 624.66,323.54 625.2,321.57 623.6,320.29 625.64,320.2ZM628.23,318.21 628.95,320.13 630.99,320.22 629.39,321.49 629.93,323.46 628.23,322.33 626.53,323.46 627.07,321.49 625.47,320.22 627.51,320.13ZM630.1,318.15 630.82,320.07 632.86,320.16 631.26,321.43 631.8,323.4 630.1,322.27 628.4,323.4 628.94,321.43 627.34,320.16 629.38,320.07ZM631.97,318.11 632.69,320.03 634.73,320.12 633.13,321.39 633.67,323.36 631.97,322.23 630.27,323.36 630.81,321.39 629.21,320.12 631.25,320.03ZM633.84,318.1 634.56,320.01 636.6,320.1 635,321.38 635.54,323.35 633.84,322.22 632.14,323.35 632.68,321.38 631.08,320.1 633.12,320.01ZM635.71,318.1 636.43,320.01 638.47,320.1 636.87,321.38 637.41,323.35 635.71,322.22 634.01,323.35 634.55,321.38 632.95,320.1 634.99,320.01ZM637.58,318.1 638.3,320.01 640.34,320.1 638.74,321.38 639.28,323.35 637.58,322.22 635.88,323.35 636.42,321.38 634.82,320.1 636.86,320.01ZM639.45,318.1 640.17,320.01 642.21,320.1 640.61,321.38 641.15,323.35 639.45,322.22 637.75,323.35 638.29,321.38 636.69,320.1 638.73,320.01ZM641.32,318.1 642.04,320.01 644.08,320.1 642.48,321.38 643.02,323.35 641.32,322.22 639.62,323.35 640.16,321.38 638.56,320.1 640.6,320.01ZM643.19,318.1 643.91,320.01 645.95,320.1 644.35,321.38 644.89,323.35 643.19,322.22 641.49,323.35 642.03,321.38 640.43,320.1 642.47,320.01ZM645.06,318.1 645.78,320.01 647.82,320.1 646.22,321.38 646.76,323.35 645.06,322.22 643.36,323.35 643.9,321.38 642.3,320.1 644.34,320.01ZM646.93,318.1 647.65,320.01 649.69,320.1 648.09,321.38 648.63,323.35 646.93,322.22 645.23,323.35 645.77,321.38 644.17,320.1 646.21,320.01ZM648.8,318.1 649.52,320.01 651.56,320.1 649.96,321.38 650.5,323.35 648.8,322.22 647.1,323.35 647.64,321.38 646.04,320.1 648.08,320.01Z" fill="#f00"/><path d="M424.4,238v1.6M461.9,238v2.6M499.4,238v1.6M536.9,238v2.6M574.4,238v1.6M611.9,238v2.6M386.9,349.1h-3M386.9,334.15h-2M386.9,319.2h-3M386.9,304.25h-2M386.9,289.3h-3M386.9,274.35h-2M386.9,259.4h-3M386.9,244.45h-2M649.4,349.1h3M649.4,323.9h2M649.4,298.7h3M649.4,273.5h2M649.4,248.3h3" fill="none" stroke="#000" stroke-width="1.3"/><path d="M386.9,459.3 388.77,459 390.65,458.76 392.52,458.5 394.4,457.81 396.27,456.7 398.15,455.42 400.02,453.92 401.9,451.53 403.77,448.84 405.65,445.55 407.52,440.17 409.4,431.2 411.27,418.34 413.15,402.79 415.02,385.75 416.9,371.1 418.77,361.23 420.65,358.24 422.52,362.13 424.4,370.8 426.27,381.86 428.15,393.52 430.02,403.99 431.9,412.66 433.77,420.13 435.65,425.52 437.52,430.3 439.4,434.4 441.27,437.3 443.15,439.81 445.02,441.9 446.9,443.99 448.77,445.37 450.65,446.43 452.52,447.28 454.4,447.98 456.27,448.52 458.15,448.99 460.02,449.1 461.9,448.94 463.77,448.65 465.65,447.79 467.52,446.77 469.4,445.61 471.27,444.38 473.15,443.05 475.02,441.63 476.9,439.99 478.77,437.25 480.65,434.8 482.52,432.36 484.4,429.76 486.27,427.29 488.15,424.5 490.02,421.93 491.9,419.12 493.77,417.25 495.65,416.49 497.52,416.49 499.4,416.98 501.27,418.17 503.15,419.27 505.02,420.46 506.9,421.7 508.77,422.95 510.65,424.17 512.52,425.31 514.4,426.06 516.27,426.61 518.15,426.83 520.02,426.9 521.9,426.95 523.77,427.03 525.65,427.19 527.52,427.45 529.4,427.81 531.27,428.4 533.15,429.04 535.02,429.67 536.9,430.35 538.77,431.13 540.65,431.93 542.52,432.54 544.4,433.09 546.27,433.84 548.15,434.68 550.02,435.24 551.9,435.69 553.77,435.83 555.65,435.71 557.52,435.45 559.4,435.11 561.27,434.37 563.15,433.34 565.02,432.39 566.9,431.63 568.77,430.9 570.65,430.23 572.52,429.6 574.4,429 576.27,428.46 578.15,428.03 580.02,427.66 581.9,427.32 583.77,427.08 585.65,426.99 587.52,426.95 589.4,426.91 591.27,426.9 593.15,426.89 595.02,426.92 596.9,426.96 598.77,427.03 600.65,427.12 602.52,427.22 604.4,427.42 606.27,427.7 608.15,428.03 610.02,428.35 611.9,428.72 613.77,429.13 615.65,429.49 617.52,429.74 619.4,429.91 621.27,430.07 623.15,430.2 625.02,430.32 626.9,430.42 628.77,430.51 630.65,430.6 632.52,430.68 634.4,430.76 636.27,430.84 638.15,430.91 640.02,430.97 641.9,431.03 643.77,431.09 645.65,431.13 647.52,431.17 649.4,431.2" fill="none" stroke="#000" stroke-width="0.8"/><path d="M385.4,459.3a1.5,1.5 0 1,0 3,0a1.5,1.5 0 1,0 -3,0M387.27,459a1.5,1.5 0 1,0 3,0a1.5,1.5 0 1,0 -3,0M389.15,458.76a1.5,1.5 0 1,0 3,0a1.5,1.5 0 1,0 -3,0M391.02,458.5a1.5,1.5 0 1,0 3,0a1.5,1.5 0 1,0 -3,0M392.9,457.81a1.5,1.5 0 1,0 3,0a1.5,1.5 0 1,0 -3,0M394.77,456.7a1.5,1.5 0 1,0 3,0a1.5,1.5 0 1,0 -3,0M396.65,455.42a1.5,1.5 0 1,0 3,0a1.5,1.5 0 1,0 -3,0M398.52,453.92a1.5,1.5 0 1,0 3,0a1.5,1.5 0 1,0 -3,0M400.4,451.53a1.5,1.5 0 1,0 3,0a1.5,1.5 0 1,0 -3,0M402.27,448.84a1.5,1.5 0 1,0 3,0a1.5,1.5 0 1,0 -3,0M404.15,445.55a1.5,1.5 0 1,0 3,0a1.5,1.5 0 1,0 -3,0M406.02,440.17a1.5,1.5 0 1,0 3,0a1.5,1.5 0 1,0 -3,0M407.9,431.2a1.5,1.5 0 1,0 3,0a1.5,1.5 0 1,0 -3,0M409.77,418.34a1.5,1.5 0 1,0 3,0a1.5,1.5 0 1,0 -3,0M411.65,402.79a1.5,1.5 0 1,0 3,0a1.5,1.5 0 1,0 -3,0M413.52,385.75a1.5,1.5 0 1,0 3,0a1.5,1.5 0 1,0 -3,0M415.4,371.1a1.5,1.5 0 1,0 3,0a1.5,1.5 0 1,0 -3,0M417.27,361.23a1.5,1.5 0 1,0 3,0a1.5,1.5 0 1,0 -3,0M419.15,358.24a1.5,1.5 0 1,0 3,0a1.5,1.5 0 1,0 -3,0M421.02,362.13a1.5,1.5 0 1,0 3,0a1.5,1.5 0 1,0 -3,0M422.9,370.8a1.5,1.5 0 1,0 3,0a1.5,1.5 0 1,0 -3,0M424.77,381.86a1.5,1.5 0 1,0 3,0a1.5,1.5 0 1,0 -3,0M426.65,393.52a1.5,1.5 0 1,0 3,0a1.5,1.5 0 1,0 -3,0M428.52,403.99a1.5,1.5 0 1,0 3,0a1.5,1.5 0 1,0 -3,0M430.4,412.66a1.5,1.5 0 1,0 3,0a1.5,1.5 0 1,0 -3,0M432.27,420.13a1.5,1.5 0 1,0 3,0a1.5,1.5 0 1,0 -3,0M434.15,425.52a1.5,1.5 0 1,0 3,0a1.5,1.5 0 1,0 -3,0M436.02,430.3a1.5,1.5 0 1,0 3,0a1.5,1.5 0 1,0 -3,0M437.9,434.4a1.5,1.5 0 1,0 3,0a1.5,1.5 0 1,0 -3,0M439.77,437.3a1.5,1.5 0 1,0 3,0a1.5,1.5 0 1,0 -3,0M441.65,439.81a1.5,1.5 0 1,0 3,0a1.5,1.5 0 1,0 -3,0M443.52,441.9a1.5,1.5 0 1,0 3,0a1.5,1.5 0 1,0 -3,0M445.4,443.99a1.5,1.5 0 1,0 3,0a1.5,1.5 0 1,0 -3,0M447.27,445.37a1.5,1.5 0 1,0 3,0a1.5,1.5 0 1,0 -3,0M449.15,446.43a1.5,1.5 0 1,0 3,0a1.5,1.5 0 1,0 -3,0M451.02,447.28a1.5,1.5 0 1,0 3,0a1.5,1.5 0 1,0 -3,0M452.9,447.98a1.5,1.5 0 1,0 3,0a1.5,1.5 0 1,0 -3,0M454.77,448.52a1.5,1.5 0 1,0 3,0a1.5,1.5 0 1,0 -3,0M456.65,448.99a1.5,1.5 0 1,0 3,0a1.5,1.5 0 1,0 -3,0M458.52,449.1a1.5,1.5 0 1,0 3,0a1.5,1.5 0 1,0 -3,0M460.4,448.94a1.5,1.5 0 1,0 3,0a1.5,1.5 0 1,0 -3,0M462.27,448.65a1.5,1.5 0 1,0 3,0a1.5,1.5 0 1,0 -3,0M464.15,447.79a1.5,1.5 0 1,0 3,0a1.5,1.5 0 1,0 -3,0M466.02,446.77a1.5,1.5 0 1,0 3,0a1.5,1.5 0 1,0 -3,0M467.9,445.61a1.5,1.5 0 1,0 3,0a1.5,1.5 0 1,0 -3,0M469.77,444.38a1.5,1.5 0 1,0 3,0a1.5,1.5 0 1,0 -3,0M471.65,443.05a1.5,1.5 0 1,0 3,0a1.5,1.5 0 1,0 -3,0M473.52,441.63a1.5,1.5 0 1,0 3,0a1.5,1.5 0 1,0 -3,0M475.4,439.99a1.5,1.5 0 1,0 3,0a1.5,1.5 0 1,0 -3,0M477.27,437.25a1.5,1.5 0 1,0 3,0a1.5,1.5 0 1,0 -3,0M479.15,434.8a1.5,1.5 0 1,0 3,0a1.5,1.5 0 1,0 -3,0M481.02,432.36a1.5,1.5 0 1,0 3,0a1.5,1.5 0 1,0 -3,0M482.9,429.76a1.5,1.5 0 1,0 3,0a1.5,1.5 0 1,0 -3,0M484.77,427.29a1.5,1.5 0 1,0 3,0a1.5,1.5 0 1,0 -3,0M486.65,424.5a1.5,1.5 0 1,0 3,0a1.5,1.5 0 1,0 -3,0M488.52,421.93a1.5,1.5 0 1,0 3,0a1.5,1.5 0 1,0 -3,0M490.4,419.12a1.5,1.5 0 1,0 3,0a1.5,1.5 0 1,0 -3,0M492.27,417.25a1.5,1.5 0 1,0 3,0a1.5,1.5 0 1,0 -3,0M494.15,416.49a1.5,1.5 0 1,0 3,0a1.5,1.5 0 1,0 -3,0M496.02,416.49a1.5,1.5 0 1,0 3,0a1.5,1.5 0 1,0 -3,0M497.9,416.98a1.5,1.5 0 1,0 3,0a1.5,1.5 0 1,0 -3,0M499.77,418.17a1.5,1.5 0 1,0 3,0a1.5,1.5 0 1,0 -3,0M501.65,419.27a1.5,1.5 0 1,0 3,0a1.5,1.5 0 1,0 -3,0M503.52,420.46a1.5,1.5 0 1,0 3,0a1.5,1.5 0 1,0 -3,0M505.4,421.7a1.5,1.5 0 1,0 3,0a1.5,1.5 0 1,0 -3,0M507.27,422.95a1.5,1.5 0 1,0 3,0a1.5,1.5 0 1,0 -3,0M509.15,424.17a1.5,1.5 0 1,0 3,0a1.5,1.5 0 1,0 -3,0M511.02,425.31a1.5,1.5 0 1,0 3,0a1.5,1.5 0 1,0 -3,0M512.9,426.06a1.5,1.5 0 1,0 3,0a1.5,1.5 0 1,0 -3,0M514.77,426.61a1.5,1.5 0 1,0 3,0a1.5,1.5 0 1,0 -3,0M516.65,426.83a1.5,1.5 0 1,0 3,0a1.5,1.5 0 1,0 -3,0M518.52,426.9a1.5,1.5 0 1,0 3,0a1.5,1.5 0 1,0 -3,0M520.4,426.95a1.5,1.5 0 1,0 3,0a1.5,1.5 0 1,0 -3,0M522.27,427.03a1.5,1.5 0 1,0 3,0a1.5,1.5 0 1,0 -3,0M524.15,427.19a1.5,1.5 0 1,0 3,0a1.5,1.5 0 1,0 -3,0M526.02,427.45a1.5,1.5 0 1,0 3,0a1.5,1.5 0 1,0 -3,0M527.9,427.81a1.5,1.5 0 1,0 3,0a1.5,1.5 0 1,0 -3,0M529.77,428.4a1.5,1.5 0 1,0 3,0a1.5,1.5 0 1,0 -3,0M531.65,429.04a1.5,1.5 0 1,0 3,0a1.5,1.5 0 1,0 -3,0M533.52,429.67a1.5,1.5 0 1,0 3,0a1.5,1.5 0 1,0 -3,0M535.4,430.35a1.5,1.5 0 1,0 3,0a1.5,1.5 0 1,0 -3,0M537.27,431.13a1.5,1.5 0 1,0 3,0a1.5,1.5 0 1,0 -3,0M539.15,431.93a1.5,1.5 0 1,0 3,0a1.5,1.5 0 1,0 -3,0M541.02,432.54a1.5,1.5 0 1,0 3,0a1.5,1.5 0 1,0 -3,0M542.9,433.09a1.5,1.5 0 1,0 3,0a1.5,1.5 0 1,0 -3,0M544.77,433.84a1.5,1.5 0 1,0 3,0a1.5,1.5 0 1,0 -3,0M546.65,434.68a1.5,1.5 0 1,0 3,0a1.5,1.5 0 1,0 -3,0M548.52,435.24a1.5,1.5 0 1,0 3,0a1.5,1.5 0 1,0 -3,0M550.4,435.69a1.5,1.5 0 1,0 3,0a1.5,1.5 0 1,0 -3,0M552.27,435.83a1.5,1.5 0 1,0 3,0a1.5,1.5 0 1,0 -3,0M554.15,435.71a1.5,1.5 0 1,0 3,0a1.5,1.5 0 1,0 -3,0M556.02,435.45a1.5,1.5 0 1,0 3,0a1.5,1.5 0 1,0 -3,0M557.9,435.11a1.5,1.5 0 1,0 3,0a1.5,1.5 0 1,0 -3,0M559.77,434.37a1.5,1.5 0 1,0 3,0a1.5,1.5 0 1,0 -3,0M561.65,433.34a1.5,1.5 0 1,0 3,0a1.5,1.5 0 1,0 -3,0M563.52,432.39a1.5,1.5 0 1,0 3,0a1.5,1.5 0 1,0 -3,0M565.4,431.63a1.5,1.5 0 1,0 3,0a1.5,1.5 0 1,0 -3,0M567.27,430.9a1.5,1.5 0 1,0 3,0a1.5,1.5 0 1,0 -3,0M569.15,430.23a1.5,1.5 0 1,0 3,0a1.5,1.5 0 1,0 -3,0M571.02,429.6a1.5,1.5 0 1,0 3,0a1.5,1.5 0 1,0 -3,0M572.9,429a1.5,1.5 0 1,0 3,0a1.5,1.5 0 1,0 -3,0M574.77,428.46a1.5,1.5 0 1,0 3,0a1.5,1.5 0 1,0 -3,0M576.65,428.03a1.5,1.5 0 1,0 3,0a1.5,1.5 0 1,0 -3,0M578.52,427.66a1.5,1.5 0 1,0 3,0a1.5,1.5 0 1,0 -3,0M580.4,427.32a1.5,1.5 0 1,0 3,0a1.5,1.5 0 1,0 -3,0M582.27,427.08a1.5,1.5 0 1,0 3,0a1.5,1.5 0 1,0 -3,0M584.15,426.99a1.5,1.5 0 1,0 3,0a1.5,1.5 0 1,0 -3,0M586.02,426.95a1.5,1.5 0 1,0 3,0a1.5,1.5 0 1,0 -3,0M587.9,426.91a1.5,1.5 0 1,0 3,0a1.5,1.5 0 1,0 -3,0M589.77,426.9a1.5,1.5 0 1,0 3,0a1.5,1.5 0 1,0 -3,0M591.65,426.89a1.5,1.5 0 1,0 3,0a1.5,1.5 0 1,0 -3,0M593.52,426.92a1.5,1.5 0 1,0 3,0a1.5,1.5 0 1,0 -3,0M595.4,426.96a1.5,1.5 0 1,0 3,0a1.5,1.5 0 1,0 -3,0M597.27,427.03a1.5,1.5 0 1,0 3,0a1.5,1.5 0 1,0 -3,0M599.15,427.12a1.5,1.5 0 1,0 3,0a1.5,1.5 0 1,0 -3,0M601.02,427.22a1.5,1.5 0 1,0 3,0a1.5,1.5 0 1,0 -3,0M602.9,427.42a1.5,1.5 0 1,0 3,0a1.5,1.5 0 1,0 -3,0M604.77,427.7a1.5,1.5 0 1,0 3,0a1.5,1.5 0 1,0 -3,0M606.65,428.03a1.5,1.5 0 1,0 3,0a1.5,1.5 0 1,0 -3,0M608.52,428.35a1.5,1.5 0 1,0 3,0a1.5,1.5 0 1,0 -3,0M610.4,428.72a1.5,1.5 0 1,0 3,0a1.5,1.5 0 1,0 -3,0M612.27,429.13a1.5,1.5 0 1,0 3,0a1.5,1.5 0 1,0 -3,0M614.15,429.49a1.5,1.5 0 1,0 3,0a1.5,1.5 0 1,0 -3,0M616.02,429.74a1.5,1.5 0 1,0 3,0a1.5,1.5 0 1,0 -3,0M617.9,429.91a1.5,1.5 0 1,0 3,0a1.5,1.5 0 1,0 -3,0M619.77,430.07a1.5,1.5 0 1,0 3,0a1.5,1.5 0 1,0 -3,0M621.65,430.2a1.5,1.5 0 1,0 3,0a1.5,1.5 0 1,0 -3,0M623.52,430.32a1.5,1.5 0 1,0 3,0a1.5,1.5 0 1,0 -3,0M625.4,430.42a1.5,1.5 0 1,0 3,0a1.5,1.5 0 1,0 -3,0M627.27,430.51a1.5,1.5 0 1,0 3,0a1.5,1.5 0 1,0 -3,0M629.15,430.6a1.5,1.5 0 1,0 3,0a1.5,1.5 0 1,0 -3,0M631.02,430.68a1.5,1.5 0 1,0 3,0a1.5,1.5 0 1,0 -3,0M632.9,430.76a1.5,1.5 0 1,0 3,0a1.5,1.5 0 1,0 -3,0M634.77,430.84a1.5,1.5 0 1,0 3,0a1.5,1.5 0 1,0 -3,0M636.65,430.91a1.5,1.5 0 1,0 3,0a1.5,1.5 0 1,0 -3,0M638.52,430.97a1.5,1.5 0 1,0 3,0a1.5,1.5 0 1,0 -3,0M640.4,431.03a1.5,1.5 0 1,0 3,0a1.5,1.5 0 1,0 -3,0M642.27,431.09a1.5,1.5 0 1,0 3,0a1.5,1.5 0 1,0 -3,0M644.15,431.13a1.5,1.5 0 1,0 3,0a1.5,1.5 0 1,0 -3,0M646.02,431.17a1.5,1.5 0 1,0 3,0a1.5,1.5 0 1,0 -3,0M647.9,431.2a1.5,1.5 0 1,0 3,0a1.5,1.5 0 1,0 -3,0" fill="#000"/><path d="M387,439.8 388.87,441.84 390.74,443.64 392.61,445.16 394.48,446.48 396.35,447.62 398.22,448.65 400.09,449.5 401.96,450.18 403.83,450.74 405.7,451.16 407.57,451.55 409.44,451.89 411.31,452.15 413.18,452.29 415.05,452.37 416.92,452.42 418.79,452.47 420.66,452.49 422.53,452.49 424.4,452.35 426.27,452.08 428.14,451.73 430.01,451.35 431.88,450.98 433.75,450.55 435.62,450.06 437.49,449.54 439.36,449.04 441.23,448.56 443.1,448.06 444.97,447.51 446.84,446.83 448.71,446.06 450.58,445.27 452.45,444.39 454.32,443.5 456.19,442.85 458.06,442.4 459.93,442 461.8,441.67 463.67,441.38 465.54,441.14 467.41,440.95 469.28,440.77 471.15,440.61 473.02,440.48 474.89,440.41 476.76,440.42 478.63,440.53 480.5,440.7 482.37,440.9 484.24,441.1 486.11,441.34 487.98,441.62 489.85,441.92 491.72,442.22 493.59,442.5 495.46,442.77 497.33,443.08 499.2,443.4 501.07,443.68 502.94,443.9 504.81,444 506.68,444 508.55,443.99 510.42,443.97 512.29,443.95 514.16,443.92 516.03,443.89 517.9,443.85 519.77,443.81 521.64,443.72 523.51,443.53 525.38,443.26 527.25,442.92 529.12,442.54 530.99,442.12 532.86,441.69 534.73,441.27 536.6,440.86 538.47,440.49 540.34,440.16 542.21,439.82 544.08,439.46 545.95,439.1 547.82,438.75 549.69,438.4 551.56,438.08 553.43,437.78 555.3,437.51 557.17,437.29 559.04,437.1 560.91,436.93 562.78,436.77 564.65,436.63 566.52,436.49 568.39,436.36 570.26,436.25 572.13,436.14 574,436.04 575.87,435.95 577.74,435.87 579.61,435.8 581.48,435.74 583.35,435.69 585.22,435.64 587.09,435.6 588.96,435.55 590.83,435.49 592.7,435.43 594.57,435.36 596.44,435.27 598.31,435.16 600.18,435.01 602.05,434.84 603.92,434.66 605.79,434.45 607.66,434.24 609.53,434.02 611.4,433.8 613.27,433.58 615.14,433.37 617.01,433.16 618.88,432.95 620.75,432.73 622.62,432.5 624.49,432.27 626.36,432.04 628.23,431.81 630.1,431.57 631.97,431.34 633.84,431.11 635.71,430.88 637.58,430.64 639.45,430.41 641.32,430.17 643.19,429.94 645.06,429.7 646.93,429.46 648.8,429.23" fill="none" stroke="#f00" stroke-width="2"/><path d="M387,436.9 387.72,438.81 389.76,438.9 388.16,440.18 388.7,442.15 387,441.02 385.3,442.15 385.84,440.18 384.24,438.9 386.28,438.81ZM388.87,438.94 389.59,440.86 391.63,440.94 390.03,442.22 390.57,444.19 388.87,443.06 387.17,444.19 387.71,442.22 386.11,440.94 388.15,440.86ZM390.74,440.74 391.46,442.65 393.5,442.74 391.9,444.01 392.44,445.98 390.74,444.85 389.04,445.98 389.58,444.01 387.98,442.74 390.02,442.65ZM392.61,442.26 393.33,444.17 395.37,444.26 393.77,445.53 394.31,447.5 392.61,446.38 390.91,447.5 391.45,445.53 389.85,444.26 391.89,444.17ZM394.48,443.58 395.2,445.49 397.24,445.58 395.64,446.85 396.18,448.82 394.48,447.69 392.78,448.82 393.32,446.85 391.72,445.58 393.76,445.49ZM396.35,444.72 397.07,446.64 399.11,446.73 397.51,448 398.05,449.97 396.35,448.84 394.65,449.97 395.19,448 393.59,446.73 395.63,446.64ZM398.22,445.75 398.94,447.66 400.98,447.75 399.38,449.02 399.92,450.99 398.22,449.86 396.52,450.99 397.06,449.02 395.46,447.75 397.5,447.66ZM400.09,446.6 400.81,448.51 402.85,448.6 401.25,449.87 401.79,451.84 400.09,450.71 398.39,451.84 398.93,449.87 397.33,448.6 399.37,448.51ZM401.96,447.28 402.68,449.2 404.72,449.29 403.12,450.56 403.66,452.53 401.96,451.4 400.26,452.53 400.8,450.56 399.2,449.29 401.24,449.2ZM403.83,447.84 404.55,449.76 406.59,449.84 404.99,451.12 405.53,453.09 403.83,451.96 402.13,453.09 402.67,451.12 401.07,449.84 403.11,449.76ZM405.7,448.26 406.42,450.18 408.46,450.27 406.86,451.54 407.4,453.51 405.7,452.38 404,453.51 404.54,451.54 402.94,450.27 404.98,450.18ZM407.57,448.65 408.29,450.57 410.33,450.65 408.73,451.93 409.27,453.9 407.57,452.77 405.87,453.9 406.41,451.93 404.81,450.65 406.85,450.57ZM409.44,448.99 410.16,450.9 412.2,450.99 410.6,452.27 411.14,454.23 409.44,453.11 407.74,454.23 408.28,452.27 406.68,450.99 408.72,450.9ZM411.31,449.25 412.03,451.16 414.07,451.25 412.47,452.52 413.01,454.49 411.31,453.36 409.61,454.49 410.15,452.52 408.55,451.25 410.59,451.16ZM413.18,449.39 413.9,451.31 415.94,451.4 414.34,452.67 414.88,454.64 413.18,453.51 411.48,454.64 412.02,452.67 410.42,451.4 412.46,451.31ZM415.05,449.47 415.77,451.38 417.81,451.47 416.21,452.74 416.75,454.71 415.05,453.58 413.35,454.71 413.89,452.74 412.29,451.47 414.33,451.38ZM416.92,449.52 417.64,451.44 419.68,451.53 418.08,452.8 418.62,454.77 416.92,453.64 415.22,454.77 415.76,452.8 414.16,451.53 416.2,451.44ZM418.79,449.57 419.51,451.48 421.55,451.57 419.95,452.84 420.49,454.81 418.79,453.69 417.09,454.81 417.63,452.84 416.03,451.57 418.07,451.48ZM420.66,449.59 421.38,451.51 423.42,451.6 421.82,452.87 422.36,454.84 420.66,453.71 418.96,454.84 419.5,452.87 417.9,451.6 419.94,451.51ZM422.53,449.59 423.25,451.51 425.29,451.6 423.69,452.87 424.23,454.84 422.53,453.71 420.83,454.84 421.37,452.87 419.77,451.6 421.81,451.51ZM424.4,449.45 425.12,451.37 427.16,451.46 425.56,452.73 426.1,454.7 424.4,453.57 422.7,454.7 423.24,452.73 421.64,451.46 423.68,451.37ZM426.27,449.18 426.99,451.09 429.03,451.18 427.43,452.45 427.97,454.42 426.27,453.3 424.57,454.42 425.11,452.45 423.51,451.18 425.55,451.09ZM428.14,448.83 428.86,450.74 430.9,450.83 429.3,452.1 429.84,454.07 428.14,452.94 426.44,454.07 426.98,452.1 425.38,450.83 427.42,450.74ZM430.01,448.45 430.73,450.37 432.77,450.46 431.17,451.73 431.71,453.7 430.01,452.57 428.31,453.7 428.85,451.73 427.25,450.46 429.29,450.37ZM431.88,448.08 432.6,450 434.64,450.09 433.04,451.36 433.58,453.33 431.88,452.2 430.18,453.33 430.72,451.36 429.12,450.09 431.16,450ZM433.75,447.65 434.47,449.56 436.51,449.65 434.91,450.92 435.45,452.89 433.75,451.76 432.05,452.89 432.59,450.92 430.99,449.65 433.03,449.56ZM435.62,447.16 436.34,449.07 438.38,449.16 436.78,450.43 437.32,452.4 435.62,451.27 433.92,452.4 434.46,450.43 432.86,449.16 434.9,449.07ZM437.49,446.64 438.21,448.56 440.25,448.65 438.65,449.92 439.19,451.89 437.49,450.76 435.79,451.89 436.33,449.92 434.73,448.65 436.77,448.56ZM439.36,446.14 440.08,448.05 442.12,448.14 440.52,449.41 441.06,451.38 439.36,450.25 437.66,451.38 438.2,449.41 436.6,448.14 438.64,448.05ZM441.23,445.66 441.95,447.57 443.99,447.66 442.39,448.93 442.93,450.9 441.23,449.77 439.53,450.9 440.07,448.93 438.47,447.66 440.51,447.57ZM443.1,445.16 443.82,447.08 445.86,447.17 444.26,448.44 444.8,450.41 443.1,449.28 441.4,450.41 441.94,448.44 440.34,447.17 442.38,447.08ZM444.97,444.61 445.69,446.52 447.73,446.61 446.13,447.89 446.67,449.86 444.97,448.73 443.27,449.86 443.81,447.89 442.21,446.61 444.25,446.52ZM446.84,443.93 447.56,445.85 449.6,445.94 448,447.21 448.54,449.18 446.84,448.05 445.14,449.18 445.68,447.21 444.08,445.94 446.12,445.85ZM448.71,443.16 449.43,445.07 451.47,445.16 449.87,446.44 450.41,448.41 448.71,447.28 447.01,448.41 447.55,446.44 445.95,445.16 447.99,445.07ZM450.58,442.37 451.3,444.28 453.34,444.37 451.74,445.64 452.28,447.61 450.58,446.48 448.88,447.61 449.42,445.64 447.82,444.37 449.86,444.28ZM452.45,441.49 453.17,443.4 455.21,443.49 453.61,444.76 454.15,446.73 452.45,445.6 450.75,446.73 451.29,444.76 449.69,443.49 451.73,443.4ZM454.32,440.6 455.04,442.51 457.08,442.6 455.48,443.87 456.02,445.84 454.32,444.72 452.62,445.84 453.16,443.87 451.56,442.6 453.6,442.51ZM456.19,439.95 456.91,441.87 458.95,441.95 457.35,443.23 457.89,445.2 456.19,444.07 454.49,445.2 455.03,443.23 453.43,441.95 455.47,441.87ZM458.06,439.5 458.78,441.41 460.82,441.5 459.22,442.77 459.76,444.74 458.06,443.62 456.36,444.74 456.9,442.77 455.3,441.5 457.34,441.41ZM459.93,439.1 460.65,441.02 462.69,441.11 461.09,442.38 461.63,444.35 459.93,443.22 458.23,444.35 458.77,442.38 457.17,441.11 459.21,441.02ZM461.8,438.77 462.52,440.68 464.56,440.77 462.96,442.04 463.5,444.01 461.8,442.88 460.1,444.01 460.64,442.04 459.04,440.77 461.08,440.68ZM463.67,438.48 464.39,440.39 466.43,440.48 464.83,441.76 465.37,443.73 463.67,442.6 461.97,443.73 462.51,441.76 460.91,440.48 462.95,440.39ZM465.54,438.24 466.26,440.16 468.3,440.25 466.7,441.52 467.24,443.49 465.54,442.36 463.84,443.49 464.38,441.52 462.78,440.25 464.82,440.16ZM467.41,438.05 468.13,439.97 470.17,440.05 468.57,441.33 469.11,443.3 467.41,442.17 465.71,443.3 466.25,441.33 464.65,440.05 466.69,439.97ZM469.28,437.87 470,439.78 472.04,439.87 470.44,441.15 470.98,443.12 469.28,441.99 467.58,443.12 468.12,441.15 466.52,439.87 468.56,439.78ZM471.15,437.71 471.87,439.62 473.91,439.71 472.31,440.98 472.85,442.95 471.15,441.82 469.45,442.95 469.99,440.98 468.39,439.71 470.43,439.62ZM473.02,437.58 473.74,439.49 475.78,439.58 474.18,440.85 474.72,442.82 473.02,441.7 471.32,442.82 471.86,440.85 470.26,439.58 472.3,439.49ZM474.89,437.51 475.61,439.42 477.65,439.51 476.05,440.78 476.59,442.75 474.89,441.63 473.19,442.75 473.73,440.78 472.13,439.51 474.17,439.42ZM476.76,437.52 477.48,439.43 479.52,439.52 477.92,440.8 478.46,442.77 476.76,441.64 475.06,442.77 475.6,440.8 474,439.52 476.04,439.43ZM478.63,437.63 479.35,439.54 481.39,439.63 479.79,440.91 480.33,442.88 478.63,441.75 476.93,442.88 477.47,440.91 475.87,439.63 477.91,439.54ZM480.5,437.8 481.22,439.72 483.26,439.81 481.66,441.08 482.2,443.05 480.5,441.92 478.8,443.05 479.34,441.08 477.74,439.81 479.78,439.72ZM482.37,438 483.09,439.92 485.13,440.01 483.53,441.28 484.07,443.25 482.37,442.12 480.67,443.25 481.21,441.28 479.61,440.01 481.65,439.92ZM484.24,438.2 484.96,440.12 487,440.21 485.4,441.48 485.94,443.45 484.24,442.32 482.54,443.45 483.08,441.48 481.48,440.21 483.52,440.12ZM486.11,438.44 486.83,440.36 488.87,440.45 487.27,441.72 487.81,443.69 486.11,442.56 484.41,443.69 484.95,441.72 483.35,440.45 485.39,440.36ZM487.98,438.72 488.7,440.64 490.74,440.73 489.14,442 489.68,443.97 487.98,442.84 486.28,443.97 486.82,442 485.22,440.73 487.26,440.64ZM489.85,439.02 490.57,440.93 492.61,441.02 491.01,442.3 491.55,444.26 489.85,443.14 488.15,444.26 488.69,442.3 487.09,441.02 489.13,440.93ZM491.72,439.32 492.44,441.23 494.48,441.32 492.88,442.59 493.42,444.56 491.72,443.44 490.02,444.56 490.56,442.59 488.96,441.32 491,441.23ZM493.59,439.6 494.31,441.52 496.35,441.6 494.75,442.88 495.29,444.85 493.59,443.72 491.89,444.85 492.43,442.88 490.83,441.6 492.87,441.52ZM495.46,439.87 496.18,441.79 498.22,441.87 496.62,443.15 497.16,445.12 495.46,443.99 493.76,445.12 494.3,443.15 492.7,441.87 494.74,441.79ZM497.33,440.18 498.05,442.09 500.09,442.18 498.49,443.46 499.03,445.43 497.33,444.3 495.63,445.43 496.17,443.46 494.57,442.18 496.61,442.09ZM499.2,440.5 499.92,442.41 501.96,442.5 500.36,443.77 500.9,445.74 499.2,444.61 497.5,445.74 498.04,443.77 496.44,442.5 498.48,442.41ZM501.07,440.78 501.79,442.7 503.83,442.79 502.23,444.06 502.77,446.03 501.07,444.9 499.37,446.03 499.91,444.06 498.31,442.79 500.35,442.7ZM502.94,441 503.66,442.91 505.7,443 504.1,444.27 504.64,446.24 502.94,445.11 501.24,446.24 501.78,444.27 500.18,443 502.22,442.91ZM504.81,441.1 505.53,443.01 507.57,443.1 505.97,444.37 506.51,446.34 504.81,445.21 503.11,446.34 503.65,444.37 502.05,443.1 504.09,443.01ZM506.68,441.1 507.4,443.01 509.44,443.1 507.84,444.37 508.38,446.34 506.68,445.22 504.98,446.34 505.52,444.37 503.92,443.1 505.96,443.01ZM508.55,441.09 509.27,443 511.31,443.09 509.71,444.36 510.25,446.33 508.55,445.21 506.85,446.33 507.39,444.36 505.79,443.09 507.83,443ZM510.42,441.07 511.14,442.99 513.18,443.08 511.58,444.35 512.12,446.32 510.42,445.19 508.72,446.32 509.26,444.35 507.66,443.08 509.7,442.99ZM512.29,441.05 513.01,442.96 515.05,443.05 513.45,444.33 513.99,446.3 512.29,445.17 510.59,446.3 511.13,444.33 509.53,443.05 511.57,442.96ZM514.16,441.02 514.88,442.94 516.92,443.02 515.32,444.3 515.86,446.27 514.16,445.14 512.46,446.27 513,444.3 511.4,443.02 513.44,442.94ZM516.03,440.99 516.75,442.9 518.79,442.99 517.19,444.26 517.73,446.23 516.03,445.11 514.33,446.23 514.87,444.26 513.27,442.99 515.31,442.9ZM517.9,440.95 518.62,442.86 520.66,442.95 519.06,444.22 519.6,446.19 517.9,445.07 516.2,446.19 516.74,444.22 515.14,442.95 517.18,442.86ZM519.77,440.91 520.49,442.82 522.53,442.91 520.93,444.18 521.47,446.15 519.77,445.02 518.07,446.15 518.61,444.18 517.01,442.91 519.05,442.82ZM521.64,440.82 522.36,442.73 524.4,442.82 522.8,444.09 523.34,446.06 521.64,444.94 519.94,446.06 520.48,444.09 518.88,442.82 520.92,442.73ZM523.51,440.63 524.23,442.54 526.27,442.63 524.67,443.91 525.21,445.88 523.51,444.75 521.81,445.88 522.35,443.91 520.75,442.63 522.79,442.54ZM525.38,440.36 526.1,442.27 528.14,442.36 526.54,443.64 527.08,445.61 525.38,444.48 523.68,445.61 524.22,443.64 522.62,442.36 524.66,442.27ZM527.25,440.02 527.97,441.94 530.01,442.03 528.41,443.3 528.95,445.27 527.25,444.14 525.55,445.27 526.09,443.3 524.49,442.03 526.53,441.94ZM529.12,439.64 529.84,441.55 531.88,441.64 530.28,442.91 530.82,444.88 529.12,443.76 527.42,444.88 527.96,442.91 526.36,441.64 528.4,441.55ZM530.99,439.22 531.71,441.14 533.75,441.22 532.15,442.5 532.69,444.47 530.99,443.34 529.29,444.47 529.83,442.5 528.23,441.22 530.27,441.14ZM532.86,438.79 533.58,440.71 535.62,440.8 534.02,442.07 534.56,444.04 532.86,442.91 531.16,444.04 531.7,442.07 530.1,440.8 532.14,440.71ZM534.73,438.37 535.45,440.28 537.49,440.37 535.89,441.64 536.43,443.61 534.73,442.48 533.03,443.61 533.57,441.64 531.97,440.37 534.01,440.28ZM536.6,437.96 537.32,439.88 539.36,439.96 537.76,441.24 538.3,443.21 536.6,442.08 534.9,443.21 535.44,441.24 533.84,439.96 535.88,439.88ZM538.47,437.59 539.19,439.51 541.23,439.6 539.63,440.87 540.17,442.84 538.47,441.71 536.77,442.84 537.31,440.87 535.71,439.6 537.75,439.51ZM540.34,437.26 541.06,439.18 543.1,439.27 541.5,440.54 542.04,442.51 540.34,441.38 538.64,442.51 539.18,440.54 537.58,439.27 539.62,439.18ZM542.21,436.92 542.93,438.83 544.97,438.92 543.37,440.19 543.91,442.16 542.21,441.03 540.51,442.16 541.05,440.19 539.45,438.92 541.49,438.83ZM544.08,436.56 544.8,438.47 546.84,438.56 545.24,439.84 545.78,441.81 544.08,440.68 542.38,441.81 542.92,439.84 541.32,438.56 543.36,438.47ZM545.95,436.2 546.67,438.12 548.71,438.2 547.11,439.48 547.65,441.45 545.95,440.32 544.25,441.45 544.79,439.48 543.19,438.2 545.23,438.12ZM547.82,435.85 548.54,437.76 550.58,437.85 548.98,439.12 549.52,441.09 547.82,439.96 546.12,441.09 546.66,439.12 545.06,437.85 547.1,437.76ZM549.69,435.5 550.41,437.42 552.45,437.51 550.85,438.78 551.39,440.75 549.69,439.62 547.99,440.75 548.53,438.78 546.93,437.51 548.97,437.42ZM551.56,435.18 552.28,437.09 554.32,437.18 552.72,438.45 553.26,440.42 551.56,439.3 549.86,440.42 550.4,438.45 548.8,437.18 550.84,437.09ZM553.43,434.88 554.15,436.79 556.19,436.88 554.59,438.15 555.13,440.12 553.43,439 551.73,440.12 552.27,438.15 550.67,436.88 552.71,436.79ZM555.3,434.61 556.02,436.53 558.06,436.62 556.46,437.89 557,439.86 555.3,438.73 553.6,439.86 554.14,437.89 552.54,436.62 554.58,436.53ZM557.17,434.39 557.89,436.3 559.93,436.39 558.33,437.66 558.87,439.63 557.17,438.5 555.47,439.63 556.01,437.66 554.41,436.39 556.45,436.3ZM559.04,434.2 559.76,436.12 561.8,436.2 560.2,437.48 560.74,439.45 559.04,438.32 557.34,439.45 557.88,437.48 556.28,436.2 558.32,436.12ZM560.91,434.03 561.63,435.95 563.67,436.03 562.07,437.31 562.61,439.28 560.91,438.15 559.21,439.28 559.75,437.31 558.15,436.03 560.19,435.95ZM562.78,433.87 563.5,435.79 565.54,435.88 563.94,437.15 564.48,439.12 562.78,437.99 561.08,439.12 561.62,437.15 560.02,435.88 562.06,435.79ZM564.65,433.73 565.37,435.64 567.41,435.73 565.81,437 566.35,438.97 564.65,437.84 562.95,438.97 563.49,437 561.89,435.73 563.93,435.64ZM566.52,433.59 567.24,435.5 569.28,435.59 567.68,436.87 568.22,438.84 566.52,437.71 564.82,438.84 565.36,436.87 563.76,435.59 565.8,435.5ZM568.39,433.46 569.11,435.38 571.15,435.47 569.55,436.74 570.09,438.71 568.39,437.58 566.69,438.71 567.23,436.74 565.63,435.47 567.67,435.38ZM570.26,433.35 570.98,435.26 573.02,435.35 571.42,436.62 571.96,438.59 570.26,437.46 568.56,438.59 569.1,436.62 567.5,435.35 569.54,435.26ZM572.13,433.24 572.85,435.15 574.89,435.24 573.29,436.52 573.83,438.49 572.13,437.36 570.43,438.49 570.97,436.52 569.37,435.24 571.41,435.15ZM574,433.14 574.72,435.06 576.76,435.14 575.16,436.42 575.7,438.39 574,437.26 572.3,438.39 572.84,436.42 571.24,435.14 573.28,435.06ZM575.87,433.05 576.59,434.97 578.63,435.05 577.03,436.33 577.57,438.3 575.87,437.17 574.17,438.3 574.71,436.33 573.11,435.05 575.15,434.97ZM577.74,432.97 578.46,434.88 580.5,434.97 578.9,436.25 579.44,438.22 577.74,437.09 576.04,438.22 576.58,436.25 574.98,434.97 577.02,434.88ZM579.61,432.9 580.33,434.81 582.37,434.9 580.77,436.18 581.31,438.15 579.61,437.02 577.91,438.15 578.45,436.18 576.85,434.9 578.89,434.81ZM581.48,432.84 582.2,434.76 584.24,434.84 582.64,436.12 583.18,438.09 581.48,436.96 579.78,438.09 580.32,436.12 578.72,434.84 580.76,434.76ZM583.35,432.79 584.07,434.7 586.11,434.79 584.51,436.07 585.05,438.04 583.35,436.91 581.65,438.04 582.19,436.07 580.59,434.79 582.63,434.7ZM585.22,432.74 585.94,434.66 587.98,434.75 586.38,436.02 586.92,437.99 585.22,436.86 583.52,437.99 584.06,436.02 582.46,434.75 584.5,434.66ZM587.09,432.7 587.81,434.61 589.85,434.7 588.25,435.97 588.79,437.94 587.09,436.81 585.39,437.94 585.93,435.97 584.33,434.7 586.37,434.61ZM588.96,432.65 589.68,434.56 591.72,434.65 590.12,435.92 590.66,437.89 588.96,436.77 587.26,437.89 587.8,435.92 586.2,434.65 588.24,434.56ZM590.83,432.59 591.55,434.51 593.59,434.6 591.99,435.87 592.53,437.84 590.83,436.71 589.13,437.84 589.67,435.87 588.07,434.6 590.11,434.51ZM592.7,432.53 593.42,434.45 595.46,434.54 593.86,435.81 594.4,437.78 592.7,436.65 591,437.78 591.54,435.81 589.94,434.54 591.98,434.45ZM594.57,432.46 595.29,434.37 597.33,434.46 595.73,435.74 596.27,437.71 594.57,436.58 592.87,437.71 593.41,435.74 591.81,434.46 593.85,434.37ZM596.44,432.37 597.16,434.29 599.2,434.38 597.6,435.65 598.14,437.62 596.44,436.49 594.74,437.62 595.28,435.65 593.68,434.38 595.72,434.29ZM598.31,432.26 599.03,434.17 601.07,434.26 599.47,435.53 600.01,437.5 598.31,436.37 596.61,437.5 597.15,435.53 595.55,434.26 597.59,434.17ZM600.18,432.11 600.9,434.03 602.94,434.12 601.34,435.39 601.88,437.36 600.18,436.23 598.48,437.36 599.02,435.39 597.42,434.12 599.46,434.03ZM602.05,431.94 602.77,433.86 604.81,433.95 603.21,435.22 603.75,437.19 602.05,436.06 600.35,437.19 600.89,435.22 599.29,433.95 601.33,433.86ZM603.92,431.76 604.64,433.67 606.68,433.76 605.08,435.03 605.62,437 603.92,435.87 602.22,437 602.76,435.03 601.16,433.76 603.2,433.67ZM605.79,431.55 606.51,433.47 608.55,433.56 606.95,434.83 607.49,436.8 605.79,435.67 604.09,436.8 604.63,434.83 603.03,433.56 605.07,433.47ZM607.66,431.34 608.38,433.25 610.42,433.34 608.82,434.62 609.36,436.59 607.66,435.46 605.96,436.59 606.5,434.62 604.9,433.34 606.94,433.25ZM609.53,431.12 610.25,433.03 612.29,433.12 610.69,434.4 611.23,436.37 609.53,435.24 607.83,436.37 608.37,434.4 606.77,433.12 608.81,433.03ZM611.4,430.9 612.12,432.81 614.16,432.9 612.56,434.18 613.1,436.15 611.4,435.02 609.7,436.15 610.24,434.18 608.64,432.9 610.68,432.81ZM613.27,430.68 613.99,432.6 616.03,432.69 614.43,433.96 614.97,435.93 613.27,434.8 611.57,435.93 612.11,433.96 610.51,432.69 612.55,432.6ZM615.14,430.47 615.86,432.39 617.9,432.48 616.3,433.75 616.84,435.72 615.14,434.59 613.44,435.72 613.98,433.75 612.38,432.48 614.42,432.39ZM617.01,430.26 617.73,432.18 619.77,432.27 618.17,433.54 618.71,435.51 617.01,434.38 615.31,435.51 615.85,433.54 614.25,432.27 616.29,432.18ZM618.88,430.05 619.6,431.96 621.64,432.05 620.04,433.32 620.58,435.29 618.88,434.17 617.18,435.29 617.72,433.32 616.12,432.05 618.16,431.96ZM620.75,429.83 621.47,431.74 623.51,431.83 621.91,433.1 622.45,435.07 620.75,433.95 619.05,435.07 619.59,433.1 617.99,431.83 620.03,431.74ZM622.62,429.6 623.34,431.52 625.38,431.61 623.78,432.88 624.32,434.85 622.62,433.72 620.92,434.85 621.46,432.88 619.86,431.61 621.9,431.52ZM624.49,429.37 625.21,431.29 627.25,431.38 625.65,432.65 626.19,434.62 624.49,433.49 622.79,434.62 623.33,432.65 621.73,431.38 623.77,431.29ZM626.36,429.14 627.08,431.05 629.12,431.14 627.52,432.42 628.06,434.39 626.36,433.26 624.66,434.39 625.2,432.42 623.6,431.14 625.64,431.05ZM628.23,428.91 628.95,430.82 630.99,430.91 629.39,432.18 629.93,434.15 628.23,433.02 626.53,434.15 627.07,432.18 625.47,430.91 627.51,430.82ZM630.1,428.67 630.82,430.59 632.86,430.68 631.26,431.95 631.8,433.92 630.1,432.79 628.4,433.92 628.94,431.95 627.34,430.68 629.38,430.59ZM631.97,428.44 632.69,430.35 634.73,430.44 633.13,431.72 633.67,433.69 631.97,432.56 630.27,433.69 630.81,431.72 629.21,430.44 631.25,430.35ZM633.84,428.21 634.56,430.12 636.6,430.21 635,431.48 635.54,433.45 633.84,432.33 632.14,433.45 632.68,431.48 631.08,430.21 633.12,430.12ZM635.71,427.98 636.43,429.89 638.47,429.98 636.87,431.25 637.41,433.22 635.71,432.09 634.01,433.22 634.55,431.25 632.95,429.98 634.99,429.89ZM637.58,427.74 638.3,429.66 640.34,429.75 638.74,431.02 639.28,432.99 637.58,431.86 635.88,432.99 636.42,431.02 634.82,429.75 636.86,429.66ZM639.45,427.51 640.17,429.42 642.21,429.51 640.61,430.79 641.15,432.76 639.45,431.63 637.75,432.76 638.29,430.79 636.69,429.51 638.73,429.42ZM641.32,427.27 642.04,429.19 644.08,429.28 642.48,430.55 643.02,432.52 641.32,431.39 639.62,432.52 640.16,430.55 638.56,429.28 640.6,429.19ZM643.19,427.04 643.91,428.95 645.95,429.04 644.35,430.32 644.89,432.29 643.19,431.16 641.49,432.29 642.03,430.32 640.43,429.04 642.47,428.95ZM645.06,426.8 645.78,428.72 647.82,428.81 646.22,430.08 646.76,432.05 645.06,430.92 643.36,432.05 643.9,430.08 642.3,428.81 644.34,428.72ZM646.93,426.56 647.65,428.48 649.69,428.57 648.09,429.84 648.63,431.81 646.93,430.68 645.23,431.81 645.77,429.84 644.17,428.57 646.21,428.48ZM648.8,426.33 649.52,428.24 651.56,428.33 649.96,429.6 650.5,431.57 648.8,430.44 647.1,431.57 647.64,429.6 646.04,428.33 648.08,428.24Z" fill="#f00"/><path d="M386.9,460.2v3.4M424.4,349.1v1.6M424.4,460.2v2.2M461.9,349.1v2.6M461.9,460.2v3.4M499.4,349.1v1.6M499.4,460.2v2.2M536.9,349.1v2.6M536.9,460.2v3.4M574.4,349.1v1.6M574.4,460.2v2.2M611.9,349.1v2.6M611.9,460.2v3.4M649.4,460.2v2.2M386.9,460.2h-3M386.9,445.25h-2M386.9,430.3h-3M386.9,415.35h-2M386.9,400.4h-3M386.9,385.45h-2M386.9,370.5h-3M386.9,355.55h-2M649.4,460.2h3M649.4,441.6h2M649.4,423h3M649.4,404.4h2M649.4,385.8h3M649.4,367.2h2" fill="none" stroke="#000" stroke-width="1.3"/><path d="M42.1,15.8H305V460.2H42.1ZM42.1,126.9H305M42.1,238H305M42.1,349.1H305M386.9,15.8H649.4V460.2H386.9ZM386.9,126.9H649.4M386.9,238H649.4M386.9,349.1H649.4" fill="none" stroke="#000" stroke-width="1.6"/><path d="M117.2,25.5H144.2" stroke="#000" stroke-width="1"/><circle cx="130.8" cy="25.5" r="1.4" fill="#000"/><path d="M117.2,40.5H144.2" stroke="#f00" stroke-width="1"/><path d="M130.8,37.7 131.62,39.37 133.46,39.63 132.13,40.93 132.45,42.77 130.8,41.9 129.15,42.77 129.47,40.93 128.14,39.63 129.98,39.37Z" fill="#f00"/><text x="148.2" y="29.7" font-size="12">S(Q)</text><text x="148.2" y="44.1" font-size="12">B(Q,E) cut at E=15 meV</text><path d="M117.2,136.5H144.2" stroke="#000" stroke-width="1"/><circle cx="130.8" cy="136.5" r="1.4" fill="#000"/><path d="M117.2,151.5H144.2" stroke="#f00" stroke-width="1"/><path d="M130.8,148.7 131.62,150.37 133.46,150.63 132.13,151.93 132.45,153.77 130.8,152.9 129.15,153.77 129.47,151.93 128.14,150.63 129.98,150.37Z" fill="#f00"/><text x="148.2" y="140.8" font-size="12">S(Q)</text><text x="148.2" y="155.2" font-size="12">B(Q,E) cut at E=20 meV</text><path d="M117.2,247.5H144.2" stroke="#000" stroke-width="1"/><circle cx="130.8" cy="247.5" r="1.4" fill="#000"/><path d="M117.2,262.5H144.2" stroke="#f00" stroke-width="1"/><path d="M130.8,259.7 131.62,261.37 133.46,261.63 132.13,262.93 132.45,264.77 130.8,263.9 129.15,264.77 129.47,262.93 128.14,261.63 129.98,261.37Z" fill="#f00"/><text x="148.2" y="251.9" font-size="12">S(Q)</text><text x="148.2" y="266.3" font-size="12">B(Q,E) cut at E=25 meV</text><path d="M117.2,358.5H144.2" stroke="#000" stroke-width="1"/><circle cx="130.8" cy="358.5" r="1.4" fill="#000"/><path d="M117.2,374.5H144.2" stroke="#f00" stroke-width="1"/><path d="M130.8,371.7 131.62,373.37 133.46,373.63 132.13,374.93 132.45,376.77 130.8,375.9 129.15,376.77 129.47,374.93 128.14,373.63 129.98,373.37Z" fill="#f00"/><text x="148.2" y="363" font-size="12">S(Q)</text><text x="148.2" y="377.4" font-size="12">B(Q,E) cut at E=40 meV</text><path d="M462,25.5H489" stroke="#000" stroke-width="1"/><circle cx="475.6" cy="25.5" r="1.4" fill="#000"/><path d="M462,40.5H489" stroke="#f00" stroke-width="1"/><path d="M475.6,37.7 476.42,39.37 478.26,39.63 476.93,40.93 477.25,42.77 475.6,41.9 473.95,42.77 474.27,40.93 472.94,39.63 474.78,39.37Z" fill="#f00"/><text x="493" y="29.7" font-size="12">S(Q)</text><text x="493" y="44.1" font-size="12">B(Q,E) cut at E=15 meV</text><path d="M462,136.5H489" stroke="#000" stroke-width="1"/><circle cx="475.6" cy="136.5" r="1.4" fill="#000"/><path d="M462,151.5H489" stroke="#f00" stroke-width="1"/><path d="M475.6,148.7 476.42,150.37 478.26,150.63 476.93,151.93 477.25,153.77 475.6,152.9 473.95,153.77 474.27,151.93 472.94,150.63 474.78,150.37Z" fill="#f00"/><text x="493" y="140.8" font-size="12">S(Q)</text><text x="493" y="155.2" font-size="12">B(Q,E) cut at E=20 meV</text><path d="M462,247.5H489" stroke="#000" stroke-width="1"/><circle cx="475.6" cy="247.5" r="1.4" fill="#000"/><path d="M462,262.5H489" stroke="#f00" stroke-width="1"/><path d="M475.6,259.7 476.42,261.37 478.26,261.63 476.93,262.93 477.25,264.77 475.6,263.9 473.95,264.77 474.27,262.93 472.94,261.63 474.78,261.37Z" fill="#f00"/><text x="493" y="251.9" font-size="12">S(Q)</text><text x="493" y="266.3" font-size="12">B(Q,E) cut at E=25 meV</text><path d="M462,358.5H489" stroke="#000" stroke-width="1"/><circle cx="475.6" cy="358.5" r="1.4" fill="#000"/><path d="M462,374.5H489" stroke="#f00" stroke-width="1"/><path d="M475.6,371.7 476.42,373.37 478.26,373.63 476.93,374.93 477.25,376.77 475.6,375.9 473.95,376.77 474.27,374.93 472.94,373.63 474.78,373.37Z" fill="#f00"/><text x="493" y="363" font-size="12">S(Q)</text><text x="493" y="377.4" font-size="12">B(Q,E) cut at E=40 meV</text><g font-family="Liberation Sans, sans-serif" font-size="14" fill="#000"><text x="37.3" y="131.2" text-anchor="end">0</text><text x="37.3" y="96.93" text-anchor="end">1</text><text x="37.3" y="62.66" text-anchor="end">2</text><text x="37.3" y="28.39" text-anchor="end">3</text><text x="309.6" y="131.2">0</text><text x="309.6" y="108.55">1</text><text x="309.6" y="85.9">2</text><text x="309.6" y="63.25">3</text><text x="309.6" y="40.6">4</text><text x="37.3" y="242.3" text-anchor="end">0</text><text x="37.3" y="208.03" text-anchor="end">1</text><text x="37.3" y="173.76" text-anchor="end">2</text><text x="37.3" y="142.9" text-anchor="end">3</text><text x="309.6" y="242.3">0</text><text x="309.6" y="210.4">1</text><text x="309.6" y="178.5">2</text><text x="309.6" y="146.6">3</text><text x="37.3" y="353.4" text-anchor="end">0</text><text x="37.3" y="319.13" text-anchor="end">1</text><text x="37.3" y="284.86" text-anchor="end">2</text><text x="37.3" y="254" text-anchor="end">3</text><text x="309.6" y="353.4">0</text><text x="309.6" y="322.27">1</text><text x="309.6" y="291.14">2</text><text x="309.6" y="260.01">3</text><text x="37.3" y="464.5" text-anchor="end">0</text><text x="37.3" y="430.23" text-anchor="end">1</text><text x="37.3" y="395.96" text-anchor="end">2</text><text x="37.3" y="365.1" text-anchor="end">3</text><text x="309.6" y="464.5">0</text><text x="309.6" y="429.7">1</text><text x="309.6" y="394.9">2</text><text x="309.6" y="365.9">3</text><text x="42.1" y="476.6" text-anchor="middle">2</text><text x="117.21" y="476.6" text-anchor="middle">4</text><text x="192.33" y="476.6" text-anchor="middle">6</text><text x="267.44" y="476.6" text-anchor="middle">8</text><text x="382.1" y="131.2" text-anchor="end">0</text><text x="382.1" y="101.3" text-anchor="end">1</text><text x="382.1" y="71.4" text-anchor="end">2</text><text x="382.1" y="41.5" text-anchor="end">3</text><text x="654" y="131.2">0</text><text x="654" y="96.36">2</text><text x="654" y="61.52">4</text><text x="654" y="26.68">6</text><text x="382.1" y="242.3" text-anchor="end">0</text><text x="382.1" y="212.4" text-anchor="end">1</text><text x="382.1" y="182.5" text-anchor="end">2</text><text x="382.1" y="152.6" text-anchor="end">3</text><text x="654" y="242.3">0</text><text x="654" y="212">1</text><text x="654" y="181.7">2</text><text x="654" y="151.4">3</text><text x="382.1" y="353.4" text-anchor="end">0</text><text x="382.1" y="323.5" text-anchor="end">1</text><text x="382.1" y="293.6" text-anchor="end">2</text><text x="382.1" y="263.7" text-anchor="end">3</text><text x="654" y="353.4">0</text><text x="654" y="303">1</text><text x="654" y="254.8">2</text><text x="382.1" y="464.5" text-anchor="end">0</text><text x="382.1" y="434.6" text-anchor="end">1</text><text x="382.1" y="404.7" text-anchor="end">2</text><text x="382.1" y="374.8" text-anchor="end">3</text><text x="654" y="464.5">0</text><text x="654" y="427.3">1</text><text x="654" y="390.1">2</text><text x="386.9" y="476.6" text-anchor="middle">2</text><text x="461.9" y="476.6" text-anchor="middle">4</text><text x="536.9" y="476.6" text-anchor="middle">6</text><text x="611.9" y="476.6" text-anchor="middle">8</text></g><g font-family="Liberation Sans, sans-serif" fill="#000"><text transform="translate(24.1,236.2) rotate(-90)" font-size="15" text-anchor="middle">S(Q)</text><text transform="translate(367.7,237.4) rotate(-90)" font-size="14.5" text-anchor="middle">S (Q)</text><text transform="translate(334.4,235.2) rotate(-90)" font-size="16" text-anchor="middle" textLength="147" lengthAdjust="spacingAndGlyphs">BP Intensity (arb.u.)</text><text transform="translate(681.2,235.2) rotate(-90)" font-size="16" text-anchor="middle" textLength="147" lengthAdjust="spacingAndGlyphs">BP Intensity (arb.u.)</text><text x="151" y="495.8" font-size="14.9">Q (Å</text><text x="182" y="490.3" font-size="9.5">-1</text><text x="191.3" y="495.8" font-size="14.9">)</text><text x="495.4" y="495.8" font-size="14.9">Q (Å</text><text x="526.4" y="490.3" font-size="9.5">-1</text><text x="535.7" y="495.8" font-size="14.9">)</text><text x="128.5" y="70.4" font-size="17" textLength="157" lengthAdjust="spacingAndGlyphs">Neutron Experiment</text><text x="495.8" y="70.4" font-size="17" textLength="112.5" lengthAdjust="spacingAndGlyphs">MD simulation</text><text x="-1.2" y="21" font-size="27.5" textLength="13" lengthAdjust="spacingAndGlyphs" stroke="#000" stroke-width="0.25">a</text><text x="345" y="20.8" font-size="27.5" textLength="14.5" lengthAdjust="spacingAndGlyphs" stroke="#000" stroke-width="0.2">b</text></g></svg></body></html>
